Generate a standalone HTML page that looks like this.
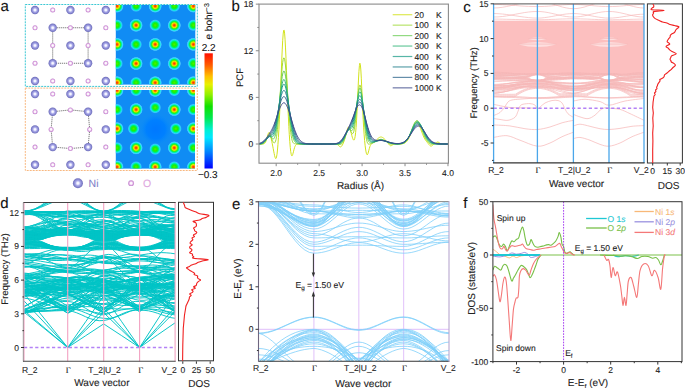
<!DOCTYPE html>
<html><head><meta charset="utf-8"><title>Figure</title>
<style>html,body{margin:0;padding:0;background:#fff;width:685px;height:388px;overflow:hidden;font-family:"Liberation Sans",sans-serif;}svg{display:block}</style>
</head><body>
<svg width="685" height="388" viewBox="0 0 685 388" font-family="Liberation Sans, sans-serif" text-rendering="geometricPrecision"><defs><radialGradient id="gNi" cx="50%" cy="50%" r="50%">
<stop offset="0" stop-color="#ffffff"/><stop offset="0.22" stop-color="#f0f0ff"/>
<stop offset="0.5" stop-color="#a8a8e8"/><stop offset="0.85" stop-color="#7c7cc8"/>
<stop offset="1" stop-color="#6c6cb8"/></radialGradient>
<radialGradient id="gO" cx="50%" cy="50%" r="50%">
<stop offset="0" stop-color="#ffffff"/><stop offset="0.4" stop-color="#fbf2fb"/>
<stop offset="0.62" stop-color="#e2b4e6"/><stop offset="1" stop-color="#c080cc"/></radialGradient>
<radialGradient id="bNi" cx="50%" cy="50%" r="50%">
<stop offset="0" stop-color="#ff2800"/><stop offset="0.12" stop-color="#ff5000"/>
<stop offset="0.26" stop-color="#ffb000"/><stop offset="0.36" stop-color="#e0f000"/>
<stop offset="0.46" stop-color="#60f000"/><stop offset="0.58" stop-color="#10f040"/>
<stop offset="0.7" stop-color="#00f0c0"/><stop offset="0.8" stop-color="#30e0fc"/><stop offset="0.9" stop-color="#40b8f8"/><stop offset="1" stop-color="#108cf4" stop-opacity="0"/></radialGradient>
<radialGradient id="bO" cx="50%" cy="50%" r="50%">
<stop offset="0" stop-color="#50f000"/><stop offset="0.3" stop-color="#20f000"/>
<stop offset="0.5" stop-color="#00f060"/><stop offset="0.66" stop-color="#00f0e0"/>
<stop offset="0.8" stop-color="#38c4fa"/><stop offset="1" stop-color="#108cf4" stop-opacity="0"/></radialGradient>
<linearGradient id="cbar" x1="0" y1="0" x2="0" y2="1">
<stop offset="0" stop-color="#ff1000"/><stop offset="0.1" stop-color="#ff5a00"/>
<stop offset="0.2" stop-color="#ffc000"/><stop offset="0.27" stop-color="#e8f000"/>
<stop offset="0.36" stop-color="#90f000"/><stop offset="0.46" stop-color="#10e000"/>
<stop offset="0.56" stop-color="#00e850"/><stop offset="0.66" stop-color="#00f0d0"/>
<stop offset="0.73" stop-color="#00e8ff"/><stop offset="0.86" stop-color="#0080ff"/>
<stop offset="1" stop-color="#0000ff"/></linearGradient>
<clipPath id="clipTop"><rect x="115.8" y="5" width="79.5" height="79.6"/></clipPath>
<clipPath id="clipBot"><rect x="115.8" y="90" width="79.2" height="78.6"/></clipPath>
<radialGradient id="vac" cx="50%" cy="50%" r="50%">
<stop offset="0" stop-color="#0078ff"/><stop offset="0.6" stop-color="#0080ff"/><stop offset="1" stop-color="#0a8cf8" stop-opacity="0"/></radialGradient>
<clipPath id="clipB"><rect x="259" y="4" width="189.4" height="159"/></clipPath>
<clipPath id="clipC"><rect x="493.6" y="3.9" width="150.4" height="159"/></clipPath>
<clipPath id="clipD"><rect x="24" y="202.5" width="151.1" height="158.8"/></clipPath>
<clipPath id="clipE"><rect x="258.5" y="201.6" width="190.5" height="159.7"/></clipPath>
<clipPath id="clipF"><rect x="492.9" y="201.7" width="189.1" height="159.9"/></clipPath></defs><rect width="685" height="388" fill="#fff"/><text x="0.6" y="11.3" font-size="15" text-anchor="start" fill="#111" stroke="#111" stroke-width="0.1">a</text>
<rect x="115.8" y="5" width="79.5" height="79.6" fill="#108cf4" stroke="none" stroke-width="1"/>
<g clip-path="url(#clipTop)">
<circle cx="117" cy="6.1" r="6.9" fill="url(#bNi)"/>
<circle cx="136.1" cy="6.1" r="6.3" fill="url(#bO)"/>
<circle cx="155.2" cy="6.1" r="6.9" fill="url(#bNi)"/>
<circle cx="174.3" cy="6.1" r="6.3" fill="url(#bO)"/>
<circle cx="193.4" cy="6.1" r="6.9" fill="url(#bNi)"/>
<circle cx="117" cy="25.25" r="6.3" fill="url(#bO)"/>
<circle cx="136.1" cy="25.25" r="6.9" fill="url(#bNi)"/>
<circle cx="155.2" cy="25.25" r="6.3" fill="url(#bO)"/>
<circle cx="174.3" cy="25.25" r="6.9" fill="url(#bNi)"/>
<circle cx="193.4" cy="25.25" r="6.3" fill="url(#bO)"/>
<circle cx="117" cy="44.4" r="6.9" fill="url(#bNi)"/>
<circle cx="136.1" cy="44.4" r="6.3" fill="url(#bO)"/>
<circle cx="155.2" cy="44.4" r="6.9" fill="url(#bNi)"/>
<circle cx="174.3" cy="44.4" r="6.3" fill="url(#bO)"/>
<circle cx="193.4" cy="44.4" r="6.9" fill="url(#bNi)"/>
<circle cx="117" cy="63.55" r="6.3" fill="url(#bO)"/>
<circle cx="136.1" cy="63.55" r="6.9" fill="url(#bNi)"/>
<circle cx="155.2" cy="63.55" r="6.3" fill="url(#bO)"/>
<circle cx="174.3" cy="63.55" r="6.9" fill="url(#bNi)"/>
<circle cx="193.4" cy="63.55" r="6.3" fill="url(#bO)"/>
<circle cx="117" cy="82.7" r="6.9" fill="url(#bNi)"/>
<circle cx="136.1" cy="82.7" r="6.3" fill="url(#bO)"/>
<circle cx="155.2" cy="82.7" r="6.9" fill="url(#bNi)"/>
<circle cx="174.3" cy="82.7" r="6.3" fill="url(#bO)"/>
<circle cx="193.4" cy="82.7" r="6.9" fill="url(#bNi)"/>
</g>
<rect x="115.8" y="90" width="79.2" height="78.6" fill="#108cf4" stroke="none" stroke-width="1"/>
<g clip-path="url(#clipBot)">
<circle cx="155.7" cy="129.4" r="16" fill="url(#vac)"/>
<circle cx="117" cy="90.4" r="6.9" fill="url(#bNi)"/>
<circle cx="136.1" cy="90.4" r="6.3" fill="url(#bO)"/>
<circle cx="155.2" cy="90.4" r="6.9" fill="url(#bNi)"/>
<circle cx="174.3" cy="90.4" r="6.3" fill="url(#bO)"/>
<circle cx="193.4" cy="90.4" r="6.9" fill="url(#bNi)"/>
<circle cx="117" cy="109.55" r="6.3" fill="url(#bO)"/>
<circle cx="136.1" cy="109.55" r="6.9" fill="url(#bNi)"/>
<circle cx="155.2" cy="107.55" r="6.3" fill="url(#bO)"/>
<circle cx="174.3" cy="109.55" r="6.9" fill="url(#bNi)"/>
<circle cx="193.4" cy="109.55" r="6.3" fill="url(#bO)"/>
<circle cx="117" cy="128.7" r="6.9" fill="url(#bNi)"/>
<circle cx="133.6" cy="128.7" r="6.3" fill="url(#bO)"/>
<circle cx="175.8" cy="128.7" r="6.3" fill="url(#bO)"/>
<circle cx="193.4" cy="128.7" r="6.9" fill="url(#bNi)"/>
<circle cx="117" cy="147.85" r="6.3" fill="url(#bO)"/>
<circle cx="136.1" cy="147.85" r="6.9" fill="url(#bNi)"/>
<circle cx="155.2" cy="149.15" r="6.3" fill="url(#bO)"/>
<circle cx="174.3" cy="147.85" r="6.9" fill="url(#bNi)"/>
<circle cx="193.4" cy="147.85" r="6.3" fill="url(#bO)"/>
<circle cx="117" cy="167" r="6.9" fill="url(#bNi)"/>
<circle cx="136.1" cy="167" r="6.3" fill="url(#bO)"/>
<circle cx="155.2" cy="167" r="6.9" fill="url(#bNi)"/>
<circle cx="174.3" cy="167" r="6.3" fill="url(#bO)"/>
<circle cx="193.4" cy="167" r="6.9" fill="url(#bNi)"/>
</g>
<rect x="25.3" y="4.5" width="172" height="81.9" fill="none" stroke="#3cc8d4" stroke-width="1" stroke-dasharray="2 1"/>
<rect x="25.3" y="88.1" width="172" height="82.4" fill="none" stroke="#f8b880" stroke-width="1" stroke-dasharray="2 1"/>
<polygon points="52.7,27.75 88.1,27.75 88.1,63.25 52.7,63.25" fill="none" stroke="#555" stroke-width="0.8" stroke-dasharray="1.2 0.8"/>
<circle cx="35" cy="10" r="4.2" fill="url(#gNi)"/>
<circle cx="52.7" cy="10" r="2.5" fill="url(#gO)"/>
<circle cx="70.4" cy="10" r="4.2" fill="url(#gNi)"/>
<circle cx="88.1" cy="10" r="2.5" fill="url(#gO)"/>
<circle cx="105.8" cy="10" r="4.2" fill="url(#gNi)"/>
<circle cx="35" cy="27.75" r="2.5" fill="url(#gO)"/>
<circle cx="52.7" cy="27.75" r="4.2" fill="url(#gNi)"/>
<circle cx="70.4" cy="27.75" r="2.5" fill="url(#gO)"/>
<circle cx="88.1" cy="27.75" r="4.2" fill="url(#gNi)"/>
<circle cx="105.8" cy="27.75" r="2.5" fill="url(#gO)"/>
<circle cx="35" cy="45.5" r="4.2" fill="url(#gNi)"/>
<circle cx="52.7" cy="45.5" r="2.5" fill="url(#gO)"/>
<circle cx="70.4" cy="45.5" r="4.2" fill="url(#gNi)"/>
<circle cx="88.1" cy="45.5" r="2.5" fill="url(#gO)"/>
<circle cx="105.8" cy="45.5" r="4.2" fill="url(#gNi)"/>
<circle cx="35" cy="63.25" r="2.5" fill="url(#gO)"/>
<circle cx="52.7" cy="63.25" r="4.2" fill="url(#gNi)"/>
<circle cx="70.4" cy="63.25" r="2.5" fill="url(#gO)"/>
<circle cx="88.1" cy="63.25" r="4.2" fill="url(#gNi)"/>
<circle cx="105.8" cy="63.25" r="2.5" fill="url(#gO)"/>
<circle cx="35" cy="81" r="4.2" fill="url(#gNi)"/>
<circle cx="52.7" cy="81" r="2.5" fill="url(#gO)"/>
<circle cx="70.4" cy="81" r="4.2" fill="url(#gNi)"/>
<circle cx="88.1" cy="81" r="2.5" fill="url(#gO)"/>
<circle cx="105.8" cy="81" r="4.2" fill="url(#gNi)"/>
<path d="M 52.7 111.7 L 70.4 109.9 L 88.1 111.7 L 89.7 129.4 L 88.1 147.1 L 70.4 148.5 L 52.7 147.1 L 51.1 129.4 L 52.7 111.7 Z" fill="none" stroke="#555" stroke-width="0.8" stroke-dasharray="1.2 0.8"/>
<circle cx="35" cy="94" r="4.2" fill="url(#gNi)"/>
<circle cx="52.7" cy="94" r="2.5" fill="url(#gO)"/>
<circle cx="70.4" cy="94" r="4.2" fill="url(#gNi)"/>
<circle cx="88.1" cy="94" r="2.5" fill="url(#gO)"/>
<circle cx="105.8" cy="94" r="4.2" fill="url(#gNi)"/>
<circle cx="35" cy="111.7" r="2.5" fill="url(#gO)"/>
<circle cx="52.7" cy="111.7" r="4.2" fill="url(#gNi)"/>
<circle cx="70.4" cy="109.9" r="2.5" fill="url(#gO)"/>
<circle cx="88.1" cy="111.7" r="4.2" fill="url(#gNi)"/>
<circle cx="105.8" cy="111.7" r="2.5" fill="url(#gO)"/>
<circle cx="35" cy="129.4" r="4.2" fill="url(#gNi)"/>
<circle cx="51.1" cy="129.4" r="2.5" fill="url(#gO)"/>
<circle cx="89.7" cy="129.4" r="2.5" fill="url(#gO)"/>
<circle cx="105.8" cy="129.4" r="4.2" fill="url(#gNi)"/>
<circle cx="35" cy="147.1" r="2.5" fill="url(#gO)"/>
<circle cx="52.7" cy="147.1" r="4.2" fill="url(#gNi)"/>
<circle cx="70.4" cy="148.5" r="2.5" fill="url(#gO)"/>
<circle cx="88.1" cy="147.1" r="4.2" fill="url(#gNi)"/>
<circle cx="105.8" cy="147.1" r="2.5" fill="url(#gO)"/>
<circle cx="35" cy="164.8" r="4.2" fill="url(#gNi)"/>
<circle cx="52.7" cy="164.8" r="2.5" fill="url(#gO)"/>
<circle cx="70.4" cy="164.8" r="4.2" fill="url(#gNi)"/>
<circle cx="88.1" cy="164.8" r="2.5" fill="url(#gO)"/>
<circle cx="105.8" cy="164.8" r="4.2" fill="url(#gNi)"/>
<rect x="204.5" y="53.3" width="8.3" height="115.2" fill="url(#cbar)" stroke="none" stroke-width="1"/>
<text x="208.6" y="51.2" font-size="10" text-anchor="middle" fill="#111" stroke="#111" stroke-width="0.1">2.2</text>
<text x="207.8" y="178" font-size="10" text-anchor="middle" fill="#111" stroke="#111" stroke-width="0.1">−0.3</text>
<text x="212" y="39.5" font-size="10" fill="#111" stroke="#111" stroke-width="0.1" transform="rotate(-90 212 39.5)">e bohr<tspan dy="-3.5" font-size="7">−3</tspan></text>
<circle cx="77.9" cy="183.2" r="5" fill="url(#gNi)"/>
<text x="88.6" y="187.2" font-size="10.5" text-anchor="start" fill="#8080c8" stroke="#8080c8" stroke-width="0.1">Ni</text>
<circle cx="131.1" cy="183.2" r="2.9" fill="url(#gO)"/>
<text x="143" y="187.2" font-size="10.5" text-anchor="start" fill="#e0a8e0" stroke="#e0a8e0" stroke-width="0.1">O</text>
<text x="231.4" y="11.2" font-size="15" text-anchor="start" fill="#111" stroke="#111" stroke-width="0.1">b</text>
<line x1="255.8" y1="144" x2="259" y2="144" stroke="#8a8a8a" stroke-width="1"/>
<text x="253.2" y="147" font-size="8.5" text-anchor="end" fill="#222" stroke="#222" stroke-width="0.1">0</text>
<line x1="255.8" y1="97.38" x2="259" y2="97.38" stroke="#8a8a8a" stroke-width="1"/>
<text x="253.2" y="100.38" font-size="8.5" text-anchor="end" fill="#222" stroke="#222" stroke-width="0.1">6</text>
<line x1="255.8" y1="50.76" x2="259" y2="50.76" stroke="#8a8a8a" stroke-width="1"/>
<text x="253.2" y="53.76" font-size="8.5" text-anchor="end" fill="#222" stroke="#222" stroke-width="0.1">12</text>
<line x1="255.8" y1="4.14" x2="259" y2="4.14" stroke="#8a8a8a" stroke-width="1"/>
<text x="253.2" y="7.14" font-size="8.5" text-anchor="end" fill="#222" stroke="#222" stroke-width="0.1">18</text>
<line x1="257.3" y1="120.69" x2="259" y2="120.69" stroke="#8a8a8a" stroke-width="1"/>
<line x1="257.3" y1="74.07" x2="259" y2="74.07" stroke="#8a8a8a" stroke-width="1"/>
<line x1="257.3" y1="27.45" x2="259" y2="27.45" stroke="#8a8a8a" stroke-width="1"/>
<line x1="276.18" y1="163.2" x2="276.18" y2="166.2" stroke="#8a8a8a" stroke-width="1"/>
<text x="276.18" y="175.6" font-size="8.5" text-anchor="middle" fill="#222" stroke="#222" stroke-width="0.1">2.0</text>
<line x1="319.13" y1="163.2" x2="319.13" y2="166.2" stroke="#8a8a8a" stroke-width="1"/>
<text x="319.13" y="175.6" font-size="8.5" text-anchor="middle" fill="#222" stroke="#222" stroke-width="0.1">2.5</text>
<line x1="362.08" y1="163.2" x2="362.08" y2="166.2" stroke="#8a8a8a" stroke-width="1"/>
<text x="362.08" y="175.6" font-size="8.5" text-anchor="middle" fill="#222" stroke="#222" stroke-width="0.1">3.0</text>
<line x1="405.03" y1="163.2" x2="405.03" y2="166.2" stroke="#8a8a8a" stroke-width="1"/>
<text x="405.03" y="175.6" font-size="8.5" text-anchor="middle" fill="#222" stroke="#222" stroke-width="0.1">3.5</text>
<line x1="447.98" y1="163.2" x2="447.98" y2="166.2" stroke="#8a8a8a" stroke-width="1"/>
<text x="447.98" y="175.6" font-size="8.5" text-anchor="middle" fill="#222" stroke="#222" stroke-width="0.1">4.0</text>
<line x1="297.65" y1="163.2" x2="297.65" y2="164.8" stroke="#8a8a8a" stroke-width="1"/>
<line x1="340.61" y1="163.2" x2="340.61" y2="164.8" stroke="#8a8a8a" stroke-width="1"/>
<line x1="383.56" y1="163.2" x2="383.56" y2="164.8" stroke="#8a8a8a" stroke-width="1"/>
<line x1="426.5" y1="163.2" x2="426.5" y2="164.8" stroke="#8a8a8a" stroke-width="1"/>
<text x="360.5" y="188.5" font-size="10" text-anchor="middle" fill="#222" stroke="#222" stroke-width="0.1">Radius (Å)</text>
<text x="243.2" y="77.5" font-size="9.5" text-anchor="middle" fill="#222" stroke="#222" stroke-width="0.1" transform="rotate(-90 243.2 77.5)">PCF</text>
<g clip-path="url(#clipB)">
<polyline points="259,144 259.47,144 259.95,144 260.42,144 260.89,144 261.37,144 261.84,143.99 262.32,143.98 262.79,143.96 263.26,143.91 263.74,143.8 264.21,143.61 264.68,143.27 265.16,142.73 265.63,141.91 266.1,140.78 266.58,139.34 267.05,137.66 267.53,135.9 268,134.28 268.47,133.06 268.95,132.44 269.42,132.55 269.89,133.4 270.37,134.88 270.84,136.81 271.31,139.01 271.79,141.33 272.26,143.7 272.74,146.11 273.21,148.58 273.68,151.08 274.16,153.53 274.63,155.75 275.1,157.48 275.58,158.45 276.05,158.36 276.52,157 277,154.24 277.47,150.06 277.95,144.47 278.42,137.53 278.89,129.29 279.37,119.83 279.84,109.23 280.31,97.68 280.79,85.46 281.26,73.02 281.73,60.95 282.21,49.95 282.68,40.76 283.16,34.07 283.63,30.41 284.1,30.08 284.58,33.1 285.05,39.22 285.52,47.93 286,58.57 286.47,70.39 286.94,82.66 287.42,94.78 287.89,106.28 288.37,116.87 288.84,126.36 289.31,134.66 289.79,141.69 290.26,147.37 290.73,151.61 291.21,154.36 291.68,155.68 292.15,155.72 292.63,154.75 293.1,153.13 293.58,151.22 294.05,149.34 294.52,147.7 295,146.4 295.47,145.46 295.94,144.83 296.42,144.45 296.89,144.23 297.36,144.11 297.84,144.05 298.31,144.02 298.79,144.01 299.26,144 299.73,144 300.21,144 300.68,144 301.15,144 301.63,144 302.1,144 302.57,144 303.05,144 303.52,144 304,144 304.47,144 304.94,144 305.42,144 305.89,144 306.36,144 306.84,144 307.31,144 307.78,144 308.26,144 308.73,144 309.21,144 309.68,144 310.15,144 310.63,144 311.1,144 311.57,144 312.05,144 312.52,144 312.99,144 313.47,144 313.94,144 314.42,144 314.89,144 315.36,144 315.84,144 316.31,144 316.78,144 317.26,144 317.73,144 318.2,144 318.68,144 319.15,144 319.63,144 320.1,144 320.57,144 321.05,144 321.52,144 321.99,144 322.47,144 322.94,144 323.41,144 323.89,144 324.36,144 324.84,144 325.31,144 325.78,144 326.26,144 326.73,144 327.2,144 327.68,144 328.15,144 328.62,144 329.1,144 329.57,144 330.05,144 330.52,144 330.99,144 331.47,144 331.94,144 332.41,144 332.89,144 333.36,144 333.83,144 334.31,144 334.78,144.01 335.26,144.02 335.73,144.05 336.2,144.11 336.68,144.22 337.15,144.4 337.62,144.67 338.1,145.04 338.57,145.5 339.04,145.99 339.52,146.45 339.99,146.79 340.47,146.92 340.94,146.8 341.41,146.42 341.89,145.81 342.36,145.02 342.83,144.1 343.31,143.07 343.78,141.92 344.25,140.62 344.73,139.16 345.2,137.52 345.68,135.71 346.15,133.81 346.62,131.91 347.1,130.14 347.57,128.65 348.04,127.56 348.52,126.99 348.99,126.97 349.46,127.52 349.94,128.58 350.41,130.06 350.89,131.8 351.36,133.67 351.83,135.51 352.31,137.2 352.78,138.6 353.25,139.61 353.73,140.08 354.2,139.86 354.67,138.73 355.15,136.45 355.62,132.73 356.09,127.33 356.57,120.13 357.04,111.23 357.52,101.04 357.99,90.31 358.46,80.04 358.94,71.42 359.41,65.54 359.88,63.21 360.36,64.77 360.83,69.98 361.3,78.16 361.78,88.25 362.25,99.13 362.73,109.78 363.2,119.48 363.67,127.86 364.15,134.85 364.62,140.58 365.09,145.26 365.57,149.02 366.04,151.88 366.51,153.8 366.99,154.7 367.46,154.59 367.94,153.62 368.41,152.04 368.88,150.19 369.36,148.37 369.83,146.79 370.3,145.55 370.78,144.65 371.25,144.03 371.72,143.59 372.2,143.26 372.67,142.98 373.15,142.69 373.62,142.4 374.09,142.07 374.57,141.71 375.04,141.31 375.51,140.89 375.99,140.44 376.46,139.98 376.93,139.51 377.41,139.05 377.88,138.61 378.36,138.2 378.83,137.83 379.3,137.52 379.78,137.28 380.25,137.11 380.72,137.02 381.2,137.02 381.67,137.1 382.14,137.26 382.62,137.5 383.09,137.81 383.57,138.17 384.04,138.58 384.51,139.02 384.99,139.49 385.46,139.98 385.93,140.48 386.41,141.01 386.88,141.56 387.35,142.15 387.83,142.78 388.3,143.45 388.78,144.12 389.25,144.75 389.72,145.26 390.2,145.61 390.67,145.76 391.14,145.71 391.62,145.51 392.09,145.21 392.56,144.89 393.04,144.6 393.51,144.37 393.99,144.2 394.46,144.1 394.93,144.04 395.41,144.01 395.88,144 396.35,143.99 396.83,143.99 397.3,143.99 397.77,143.99 398.25,143.98 398.72,143.98 399.2,143.97 399.67,143.96 400.14,143.94 400.62,143.92 401.09,143.88 401.56,143.84 402.04,143.78 402.51,143.71 402.98,143.62 403.46,143.5 403.93,143.34 404.41,143.15 404.88,142.92 405.35,142.63 405.83,142.28 406.3,141.87 406.77,141.38 407.25,140.81 407.72,140.15 408.19,139.4 408.67,138.56 409.14,137.63 409.62,136.61 410.09,135.51 410.56,134.35 411.04,133.12 411.51,131.86 411.98,130.59 412.46,129.32 412.93,128.09 413.4,126.93 413.88,125.85 414.35,124.89 414.83,124.08 415.3,123.43 415.77,122.97 416.25,122.7 416.72,122.64 417.19,122.78 417.67,123.13 418.14,123.67 418.61,124.38 419.09,125.26 419.56,126.26 420.04,127.38 420.51,128.57 420.98,129.82 421.46,131.09 421.93,132.36 422.4,133.61 422.88,134.81 423.35,135.96 423.82,137.03 424.3,138.01 424.77,138.91 425.25,139.72 425.72,140.45 426.19,141.11 426.67,141.71 427.14,142.28 427.61,142.84 428.09,143.42 428.56,144.01 429.03,144.61 429.51,145.16 429.98,145.63 430.46,145.94 430.93,146.07 431.4,146 431.88,145.77 432.35,145.43 432.82,145.05 433.3,144.68 433.77,144.34 434.24,144.02 434.72,143.71 435.19,143.39 435.67,143.05 436.14,142.71 436.61,142.4 437.09,142.17 437.56,142.06 438.03,142.1 438.51,142.27 438.98,142.55 439.45,142.87 439.93,143.18 440.4,143.45 440.88,143.66 441.35,143.8 441.82,143.9 442.3,143.95 442.77,143.98 443.24,143.99 443.72,144 444.19,144 444.66,144 445.14,144 445.61,144 446.09,144 446.56,144 447.03,144 447.51,144 447.98,144" fill="none" stroke="#d2e21b" stroke-width="1" stroke-linejoin="round"/>
<polyline points="259,144 259.47,144 259.95,143.99 260.42,143.99 260.89,143.97 261.37,143.95 261.84,143.91 262.32,143.84 262.79,143.73 263.26,143.55 263.74,143.28 264.21,142.9 264.68,142.39 265.16,141.73 265.63,140.91 266.1,139.96 266.58,138.92 267.05,137.86 267.53,136.86 268,136.01 268.47,135.39 268.95,135.08 269.42,135.12 269.89,135.48 270.37,136.15 270.84,137.05 271.31,138.09 271.79,139.19 272.26,140.26 272.74,141.24 273.21,142.05 273.68,142.63 274.16,142.92 274.63,142.82 275.1,142.26 275.58,141.12 276.05,139.31 276.52,136.76 277,133.43 277.47,129.31 277.95,124.43 278.42,118.86 278.89,112.69 279.37,106.05 279.84,99.09 280.31,92.01 280.79,85 281.26,78.32 281.73,72.2 282.21,66.89 282.68,62.64 283.16,59.64 283.63,58.02 284.1,57.88 284.58,59.21 285.05,61.95 285.52,65.97 286,71.08 286.47,77.03 286.94,83.6 287.42,90.53 287.89,97.57 288.37,104.52 288.84,111.2 289.31,117.43 289.79,123.1 290.26,128.09 290.73,132.33 291.21,135.78 291.68,138.47 292.15,140.44 292.63,141.81 293.1,142.69 293.58,143.21 294.05,143.51 294.52,143.67 295,143.75 295.47,143.81 295.94,143.85 296.42,143.88 296.89,143.92 297.36,143.94 297.84,143.96 298.31,143.97 298.79,143.98 299.26,143.99 299.73,143.99 300.21,144 300.68,144 301.15,144 301.63,144 302.1,144 302.57,144 303.05,144 303.52,144 304,144 304.47,144 304.94,144 305.42,144 305.89,144 306.36,144 306.84,144 307.31,144 307.78,144 308.26,144 308.73,144 309.21,144 309.68,144 310.15,144 310.63,144 311.1,144 311.57,144 312.05,144 312.52,144 312.99,144 313.47,144 313.94,144 314.42,144 314.89,144 315.36,144 315.84,144 316.31,144 316.78,144 317.26,144 317.73,144 318.2,144 318.68,144 319.15,144 319.63,144 320.1,144 320.57,144 321.05,144 321.52,144 321.99,144 322.47,144 322.94,144 323.41,144 323.89,144 324.36,144 324.84,144 325.31,144 325.78,144 326.26,144 326.73,144 327.2,144 327.68,144 328.15,144 328.62,144 329.1,144 329.57,144 330.05,144 330.52,144 330.99,144 331.47,144 331.94,144 332.41,144 332.89,144 333.36,144 333.83,144 334.31,144 334.78,144 335.26,144.01 335.73,144.01 336.2,144.02 336.68,144.05 337.15,144.09 337.62,144.14 338.1,144.22 338.57,144.31 339.04,144.4 339.52,144.47 339.99,144.49 340.47,144.44 340.94,144.28 341.41,144.01 341.89,143.61 342.36,143.08 342.83,142.43 343.31,141.63 343.78,140.69 344.25,139.6 344.73,138.36 345.2,137.01 345.68,135.57 346.15,134.12 346.62,132.71 347.1,131.45 347.57,130.39 348.04,129.63 348.52,129.2 348.99,129.12 349.46,129.39 349.94,129.96 350.41,130.74 350.89,131.63 351.36,132.49 351.83,133.2 352.31,133.6 352.78,133.57 353.25,132.98 353.73,131.73 354.2,129.77 354.67,127.07 355.15,123.63 355.62,119.53 356.09,114.88 356.57,109.86 357.04,104.68 357.52,99.61 357.99,94.91 358.46,90.87 358.94,87.74 359.41,85.72 359.88,84.94 360.36,85.47 360.83,87.26 361.3,90.21 361.78,94.14 362.25,98.8 362.73,103.97 363.2,109.38 363.67,114.82 364.15,120.08 364.62,125.02 365.09,129.52 365.57,133.47 366.04,136.81 366.51,139.48 366.99,141.48 367.46,142.85 367.94,143.67 368.41,144.07 368.88,144.17 369.36,144.1 369.83,143.95 370.3,143.78 370.78,143.62 371.25,143.47 371.72,143.32 372.2,143.17 372.67,143 373.15,142.81 373.62,142.61 374.09,142.39 374.57,142.14 375.04,141.88 375.51,141.61 375.99,141.33 376.46,141.05 376.93,140.77 377.41,140.5 377.88,140.24 378.36,140 378.83,139.8 379.3,139.62 379.78,139.49 380.25,139.39 380.72,139.34 381.2,139.34 381.67,139.39 382.14,139.48 382.62,139.61 383.09,139.78 383.57,139.99 384.04,140.22 384.51,140.48 384.99,140.75 385.46,141.04 385.93,141.34 386.41,141.64 386.88,141.96 387.35,142.28 387.83,142.62 388.3,142.96 388.78,143.3 389.25,143.61 389.72,143.87 390.2,144.08 390.67,144.2 391.14,144.25 391.62,144.24 392.09,144.19 392.56,144.13 393.04,144.07 393.51,144.02 393.99,143.98 394.46,143.97 394.93,143.96 395.41,143.96 395.88,143.97 396.35,143.97 396.83,143.97 397.3,143.97 397.77,143.97 398.25,143.96 398.72,143.95 399.2,143.94 399.67,143.92 400.14,143.89 400.62,143.85 401.09,143.8 401.56,143.74 402.04,143.66 402.51,143.55 402.98,143.42 403.46,143.26 403.93,143.06 404.41,142.82 404.88,142.52 405.35,142.17 405.83,141.76 406.3,141.27 406.77,140.71 407.25,140.06 407.72,139.33 408.19,138.51 408.67,137.6 409.14,136.6 409.62,135.52 410.09,134.37 410.56,133.15 411.04,131.89 411.51,130.59 411.98,129.28 412.46,127.98 412.93,126.72 413.4,125.51 413.88,124.39 414.35,123.38 414.83,122.51 415.3,121.78 415.77,121.23 416.25,120.87 416.72,120.7 417.19,120.73 417.67,120.96 418.14,121.38 418.61,121.99 419.09,122.76 419.56,123.68 420.04,124.73 420.51,125.87 420.98,127.1 421.46,128.38 421.93,129.68 422.4,130.99 422.88,132.28 423.35,133.53 423.82,134.73 424.3,135.86 424.77,136.92 425.25,137.89 425.72,138.78 426.19,139.58 426.67,140.31 427.14,140.97 427.61,141.57 428.09,142.11 428.56,142.62 429.03,143.08 429.51,143.48 429.98,143.82 430.46,144.08 430.93,144.24 431.4,144.32 431.88,144.32 432.35,144.27 432.82,144.19 433.3,144.11 433.77,144.02 434.24,143.93 434.72,143.83 435.19,143.72 435.67,143.59 436.14,143.47 436.61,143.35 437.09,143.26 437.56,143.22 438.03,143.24 438.51,143.31 438.98,143.42 439.45,143.55 439.93,143.67 440.4,143.78 440.88,143.86 441.35,143.92 441.82,143.96 442.3,143.98 442.77,143.99 443.24,144 443.72,144 444.19,144 444.66,144 445.14,144 445.61,144 446.09,144 446.56,144 447.03,144 447.51,144 447.98,144" fill="none" stroke="#a0da39" stroke-width="1" stroke-linejoin="round"/>
<polyline points="259,143.99 259.47,143.98 259.95,143.97 260.42,143.95 260.89,143.91 261.37,143.86 261.84,143.77 262.32,143.64 262.79,143.46 263.26,143.21 263.74,142.87 264.21,142.44 264.68,141.91 265.16,141.27 265.63,140.55 266.1,139.76 266.58,138.95 267.05,138.15 267.53,137.42 268,136.81 268.47,136.37 268.95,136.12 269.42,136.08 269.89,136.25 270.37,136.58 270.84,137.04 271.31,137.57 271.79,138.09 272.26,138.53 272.74,138.84 273.21,138.94 273.68,138.77 274.16,138.27 274.63,137.4 275.1,136.1 275.58,134.33 276.05,132.06 276.52,129.28 277,125.99 277.47,122.22 277.95,118.01 278.42,113.44 278.89,108.59 279.37,103.57 279.84,98.49 280.31,93.46 280.79,88.64 281.26,84.15 281.73,80.13 282.21,76.72 282.68,74.02 283.16,72.13 283.63,71.13 284.1,71.04 284.58,71.87 285.05,73.59 285.52,76.14 286,79.42 286.47,83.32 286.94,87.72 287.42,92.48 287.89,97.46 288.37,102.54 288.84,107.57 289.31,112.46 289.79,117.09 290.26,121.39 290.73,125.28 291.21,128.72 291.68,131.69 292.15,134.2 292.63,136.27 293.1,137.95 293.58,139.3 294.05,140.37 294.52,141.23 295,141.9 295.47,142.42 295.94,142.83 296.42,143.15 296.89,143.39 297.36,143.57 297.84,143.7 298.31,143.79 298.79,143.86 299.26,143.91 299.73,143.94 300.21,143.96 300.68,143.97 301.15,143.98 301.63,143.99 302.1,143.99 302.57,144 303.05,144 303.52,144 304,144 304.47,144 304.94,144 305.42,144 305.89,144 306.36,144 306.84,144 307.31,144 307.78,144 308.26,144 308.73,144 309.21,144 309.68,144 310.15,144 310.63,144 311.1,144 311.57,144 312.05,144 312.52,144 312.99,144 313.47,144 313.94,144 314.42,144 314.89,144 315.36,144 315.84,144 316.31,144 316.78,144 317.26,144 317.73,144 318.2,144 318.68,144 319.15,144 319.63,144 320.1,144 320.57,144 321.05,144 321.52,144 321.99,144 322.47,144 322.94,144 323.41,144 323.89,144 324.36,144 324.84,144 325.31,144 325.78,144 326.26,144 326.73,144 327.2,144 327.68,144 328.15,144 328.62,144 329.1,144 329.57,144 330.05,144 330.52,144 330.99,144 331.47,144 331.94,144 332.41,144 332.89,144 333.36,144 333.83,144 334.31,144 334.78,144 335.26,144 335.73,144 336.2,144 336.68,144 337.15,144.01 337.62,144.01 338.1,144.01 338.57,144.01 339.04,143.99 339.52,143.94 339.99,143.84 340.47,143.68 340.94,143.44 341.41,143.1 341.89,142.66 342.36,142.1 342.83,141.42 343.31,140.61 343.78,139.68 344.25,138.64 344.73,137.5 345.2,136.29 345.68,135.05 346.15,133.82 346.62,132.66 347.1,131.63 347.57,130.76 348.04,130.11 348.52,129.68 348.99,129.48 349.46,129.5 349.94,129.68 350.41,129.96 350.89,130.26 351.36,130.48 351.83,130.51 352.31,130.24 352.78,129.6 353.25,128.48 353.73,126.85 354.2,124.67 354.67,121.94 355.15,118.71 355.62,115.06 356.09,111.1 356.57,106.97 357.04,102.85 357.52,98.91 357.99,95.35 358.46,92.34 358.94,90.04 359.41,88.57 359.88,88.02 360.36,88.42 360.83,89.75 361.3,91.95 361.78,94.92 362.25,98.51 362.73,102.57 363.2,106.93 363.67,111.42 364.15,115.9 364.62,120.23 365.09,124.3 365.57,128.02 366.04,131.31 366.51,134.14 366.99,136.48 367.46,138.36 367.94,139.8 368.41,140.87 368.88,141.64 369.36,142.17 369.83,142.52 370.3,142.75 370.78,142.87 371.25,142.92 371.72,142.9 372.2,142.84 372.67,142.73 373.15,142.59 373.62,142.42 374.09,142.22 374.57,142.01 375.04,141.79 375.51,141.56 375.99,141.32 376.46,141.09 376.93,140.86 377.41,140.64 377.88,140.43 378.36,140.25 378.83,140.08 379.3,139.95 379.78,139.84 380.25,139.77 380.72,139.73 381.2,139.73 381.67,139.76 382.14,139.83 382.62,139.94 383.09,140.07 383.57,140.23 384.04,140.42 384.51,140.62 384.99,140.84 385.46,141.07 385.93,141.31 386.41,141.55 386.88,141.78 387.35,142.01 387.83,142.23 388.3,142.44 388.78,142.64 389.25,142.82 389.72,142.99 390.2,143.14 390.67,143.27 391.14,143.39 391.62,143.49 392.09,143.58 392.56,143.66 393.04,143.72 393.51,143.78 393.99,143.82 394.46,143.86 394.93,143.89 395.41,143.91 395.88,143.92 396.35,143.94 396.83,143.94 397.3,143.94 397.77,143.94 398.25,143.93 398.72,143.92 399.2,143.9 399.67,143.87 400.14,143.83 400.62,143.78 401.09,143.72 401.56,143.63 402.04,143.53 402.51,143.41 402.98,143.25 403.46,143.06 403.93,142.83 404.41,142.56 404.88,142.24 405.35,141.86 405.83,141.42 406.3,140.92 406.77,140.34 407.25,139.69 407.72,138.96 408.19,138.16 408.67,137.27 409.14,136.31 409.62,135.29 410.09,134.2 410.56,133.05 411.04,131.87 411.51,130.66 411.98,129.45 412.46,128.24 412.93,127.07 413.4,125.94 413.88,124.89 414.35,123.93 414.83,123.08 415.3,122.37 415.77,121.8 416.25,121.39 416.72,121.15 417.19,121.08 417.67,121.19 418.14,121.47 418.61,121.91 419.09,122.51 419.56,123.26 420.04,124.13 420.51,125.11 420.98,126.18 421.46,127.32 421.93,128.5 422.4,129.71 422.88,130.93 423.35,132.13 423.82,133.31 424.3,134.44 424.77,135.52 425.25,136.53 425.72,137.47 426.19,138.34 426.67,139.13 427.14,139.84 427.61,140.47 428.09,141.04 428.56,141.53 429.03,141.95 429.51,142.32 429.98,142.63 430.46,142.89 430.93,143.11 431.4,143.29 431.88,143.44 432.35,143.56 432.82,143.66 433.3,143.73 433.77,143.8 434.24,143.84 434.72,143.88 435.19,143.91 435.67,143.93 436.14,143.95 436.61,143.96 437.09,143.97 437.56,143.98 438.03,143.99 438.51,143.99 438.98,143.99 439.45,144 439.93,144 440.4,144 440.88,144 441.35,144 441.82,144 442.3,144 442.77,144 443.24,144 443.72,144 444.19,144 444.66,144 445.14,144 445.61,144 446.09,144 446.56,144 447.03,144 447.51,144 447.98,144" fill="none" stroke="#6ece58" stroke-width="1" stroke-linejoin="round"/>
<polyline points="259,143.97 259.47,143.95 259.95,143.92 260.42,143.87 260.89,143.8 261.37,143.7 261.84,143.57 262.32,143.38 262.79,143.15 263.26,142.84 263.74,142.47 264.21,142.02 264.68,141.5 265.16,140.92 265.63,140.29 266.1,139.62 266.58,138.96 267.05,138.32 267.53,137.74 268,137.24 268.47,136.86 268.95,136.59 269.42,136.45 269.89,136.43 270.37,136.49 270.84,136.6 271.31,136.72 271.79,136.8 272.26,136.78 272.74,136.61 273.21,136.24 273.68,135.62 274.16,134.72 274.63,133.48 275.1,131.91 275.58,129.96 276.05,127.65 276.52,124.98 277,121.97 277.47,118.66 277.95,115.09 278.42,111.32 278.89,107.43 279.37,103.48 279.84,99.57 280.31,95.78 280.79,92.2 281.26,88.91 281.73,86.01 282.21,83.57 282.68,81.66 283.16,80.33 283.63,79.62 284.1,79.56 284.58,80.15 285.05,81.36 285.52,83.16 286,85.5 286.47,88.32 286.94,91.54 287.42,95.07 287.89,98.83 288.37,102.74 288.84,106.69 289.31,110.63 289.79,114.46 290.26,118.13 290.73,121.57 291.21,124.76 291.68,127.65 292.15,130.24 292.63,132.52 293.1,134.51 293.58,136.22 294.05,137.68 294.52,138.91 295,139.95 295.47,140.8 295.94,141.5 296.42,142.07 296.89,142.52 297.36,142.88 297.84,143.16 298.31,143.38 298.79,143.55 299.26,143.67 299.73,143.76 300.21,143.83 300.68,143.88 301.15,143.92 301.63,143.94 302.1,143.96 302.57,143.97 303.05,143.98 303.52,143.99 304,143.99 304.47,144 304.94,144 305.42,144 305.89,144 306.36,144 306.84,144 307.31,144 307.78,144 308.26,144 308.73,144 309.21,144 309.68,144 310.15,144 310.63,144 311.1,144 311.57,144 312.05,144 312.52,144 312.99,144 313.47,144 313.94,144 314.42,144 314.89,144 315.36,144 315.84,144 316.31,144 316.78,144 317.26,144 317.73,144 318.2,144 318.68,144 319.15,144 319.63,144 320.1,144 320.57,144 321.05,144 321.52,144 321.99,144 322.47,144 322.94,144 323.41,144 323.89,144 324.36,144 324.84,144 325.31,144 325.78,144 326.26,144 326.73,144 327.2,144 327.68,144 328.15,144 328.62,144 329.1,144 329.57,144 330.05,144 330.52,144 330.99,144 331.47,144 331.94,144 332.41,144 332.89,144 333.36,144 333.83,144 334.31,144 334.78,143.99 335.26,143.99 335.73,143.98 336.2,143.97 336.68,143.95 337.15,143.93 337.62,143.89 338.1,143.83 338.57,143.76 339.04,143.65 339.52,143.51 339.99,143.31 340.47,143.06 340.94,142.74 341.41,142.34 341.89,141.85 342.36,141.27 342.83,140.58 343.31,139.78 343.78,138.9 344.25,137.93 344.73,136.9 345.2,135.82 345.68,134.75 346.15,133.69 346.62,132.7 347.1,131.8 347.57,131.02 348.04,130.37 348.52,129.87 348.99,129.49 349.46,129.23 349.94,129.04 350.41,128.87 350.89,128.66 351.36,128.34 351.83,127.84 352.31,127.1 352.78,126.05 353.25,124.66 353.73,122.89 354.2,120.75 354.67,118.25 355.15,115.44 355.62,112.39 356.09,109.19 356.57,105.93 357.04,102.76 357.52,99.78 357.99,97.13 358.46,94.92 358.94,93.25 359.41,92.2 359.88,91.83 360.36,92.15 360.83,93.16 361.3,94.82 361.78,97.08 362.25,99.84 362.73,103 363.2,106.45 363.67,110.07 364.15,113.76 364.62,117.42 365.09,120.94 365.57,124.26 366.04,127.32 366.51,130.08 366.99,132.53 367.46,134.65 367.94,136.45 368.41,137.95 368.88,139.17 369.36,140.14 369.83,140.89 370.3,141.45 370.78,141.86 371.25,142.13 371.72,142.28 372.2,142.36 372.67,142.36 373.15,142.3 373.62,142.2 374.09,142.07 374.57,141.92 375.04,141.75 375.51,141.56 375.99,141.38 376.46,141.19 376.93,141 377.41,140.83 377.88,140.67 378.36,140.52 378.83,140.39 379.3,140.29 379.78,140.2 380.25,140.15 380.72,140.12 381.2,140.12 381.67,140.14 382.14,140.2 382.62,140.28 383.09,140.38 383.57,140.51 384.04,140.66 384.51,140.82 384.99,141 385.46,141.19 385.93,141.38 386.41,141.58 386.88,141.78 387.35,141.98 387.83,142.17 388.3,142.36 388.78,142.53 389.25,142.7 389.72,142.86 390.2,143.01 390.67,143.14 391.14,143.26 391.62,143.37 392.09,143.46 392.56,143.55 393.04,143.62 393.51,143.68 393.99,143.74 394.46,143.78 394.93,143.82 395.41,143.85 395.88,143.87 396.35,143.89 396.83,143.9 397.3,143.9 397.77,143.9 398.25,143.89 398.72,143.87 399.2,143.84 399.67,143.81 400.14,143.76 400.62,143.7 401.09,143.62 401.56,143.52 402.04,143.4 402.51,143.26 402.98,143.08 403.46,142.87 403.93,142.62 404.41,142.33 404.88,141.99 405.35,141.6 405.83,141.16 406.3,140.65 406.77,140.07 407.25,139.44 407.72,138.73 408.19,137.95 408.67,137.11 409.14,136.21 409.62,135.25 410.09,134.24 410.56,133.18 411.04,132.09 411.51,130.98 411.98,129.87 412.46,128.77 412.93,127.69 413.4,126.66 413.88,125.69 414.35,124.79 414.83,123.99 415.3,123.3 415.77,122.74 416.25,122.3 416.72,122.01 417.19,121.87 417.67,121.88 418.14,122.04 418.61,122.35 419.09,122.8 419.56,123.39 420.04,124.09 420.51,124.91 420.98,125.81 421.46,126.79 421.93,127.83 422.4,128.91 422.88,130.02 423.35,131.13 423.82,132.24 424.3,133.32 424.77,134.37 425.25,135.38 425.72,136.33 426.19,137.23 426.67,138.06 427.14,138.83 427.61,139.52 428.09,140.15 428.56,140.72 429.03,141.22 429.51,141.66 429.98,142.04 430.46,142.37 430.93,142.66 431.4,142.9 431.88,143.11 432.35,143.28 432.82,143.42 433.3,143.54 433.77,143.64 434.24,143.71 434.72,143.78 435.19,143.83 435.67,143.87 436.14,143.9 436.61,143.92 437.09,143.94 437.56,143.96 438.03,143.97 438.51,143.98 438.98,143.98 439.45,143.99 439.93,143.99 440.4,143.99 440.88,144 441.35,144 441.82,144 442.3,144 442.77,144 443.24,144 443.72,144 444.19,144 444.66,144 445.14,144 445.61,144 446.09,144 446.56,144 447.03,144 447.51,144 447.98,144" fill="none" stroke="#35b779" stroke-width="1" stroke-linejoin="round"/>
<polyline points="259,143.92 259.47,143.88 259.95,143.82 260.42,143.75 260.89,143.65 261.37,143.51 261.84,143.34 262.32,143.12 262.79,142.86 263.26,142.54 263.74,142.16 264.21,141.74 264.68,141.26 265.16,140.74 265.63,140.19 266.1,139.64 266.58,139.08 267.05,138.54 267.53,138.05 268,137.61 268.47,137.22 268.95,136.91 269.42,136.66 269.89,136.45 270.37,136.28 270.84,136.1 271.31,135.9 271.79,135.62 272.26,135.24 272.74,134.71 273.21,133.99 273.68,133.06 274.16,131.88 274.63,130.44 275.1,128.73 275.58,126.74 276.05,124.48 276.52,121.96 277,119.21 277.47,116.26 277.95,113.15 278.42,109.93 278.89,106.65 279.37,103.37 279.84,100.16 280.31,97.07 280.79,94.19 281.26,91.57 281.73,89.27 282.21,87.34 282.68,85.85 283.16,84.81 283.63,84.26 284.1,84.21 284.58,84.67 285.05,85.61 285.52,87.03 286,88.88 286.47,91.11 286.94,93.69 287.42,96.54 287.89,99.6 288.37,102.82 288.84,106.12 289.31,109.45 289.79,112.76 290.26,115.98 290.73,119.09 291.21,122.03 291.68,124.79 292.15,127.35 292.63,129.69 293.1,131.8 293.58,133.69 294.05,135.36 294.52,136.82 295,138.08 295.47,139.16 295.94,140.08 296.42,140.85 296.89,141.49 297.36,142.02 297.84,142.45 298.31,142.79 298.79,143.07 299.26,143.29 299.73,143.46 300.21,143.6 300.68,143.7 301.15,143.78 301.63,143.84 302.1,143.88 302.57,143.91 303.05,143.94 303.52,143.96 304,143.97 304.47,143.98 304.94,143.99 305.42,143.99 305.89,143.99 306.36,144 306.84,144 307.31,144 307.78,144 308.26,144 308.73,144 309.21,144 309.68,144 310.15,144 310.63,144 311.1,144 311.57,144 312.05,144 312.52,144 312.99,144 313.47,144 313.94,144 314.42,144 314.89,144 315.36,144 315.84,144 316.31,144 316.78,144 317.26,144 317.73,144 318.2,144 318.68,144 319.15,144 319.63,144 320.1,144 320.57,144 321.05,144 321.52,144 321.99,144 322.47,144 322.94,144 323.41,144 323.89,144 324.36,144 324.84,144 325.31,144 325.78,144 326.26,144 326.73,144 327.2,144 327.68,144 328.15,144 328.62,144 329.1,144 329.57,144 330.05,144 330.52,144 330.99,144 331.47,144 331.94,144 332.41,144 332.89,144 333.36,143.99 333.83,143.99 334.31,143.98 334.78,143.98 335.26,143.96 335.73,143.95 336.2,143.92 336.68,143.88 337.15,143.83 337.62,143.77 338.1,143.67 338.57,143.55 339.04,143.4 339.52,143.19 339.99,142.94 340.47,142.63 340.94,142.25 341.41,141.79 341.89,141.26 342.36,140.64 342.83,139.94 343.31,139.16 343.78,138.32 344.25,137.42 344.73,136.48 345.2,135.51 345.68,134.55 346.15,133.6 346.62,132.7 347.1,131.85 347.57,131.08 348.04,130.38 348.52,129.75 348.99,129.19 349.46,128.67 349.94,128.16 350.41,127.63 350.89,127.04 351.36,126.34 351.83,125.5 352.31,124.46 352.78,123.21 353.25,121.73 353.73,120 354.2,118.03 354.67,115.84 355.15,113.48 355.62,111 356.09,108.47 356.57,105.95 357.04,103.54 357.52,101.31 357.99,99.36 358.46,97.75 358.94,96.55 359.41,95.82 359.88,95.58 360.36,95.86 360.83,96.66 361.3,97.95 361.78,99.69 362.25,101.84 362.73,104.32 363.2,107.07 363.67,110 364.15,113.05 364.62,116.13 365.09,119.17 365.57,122.12 366.04,124.91 366.51,127.52 366.99,129.91 367.46,132.05 367.94,133.95 368.41,135.61 368.88,137.02 369.36,138.2 369.83,139.17 370.3,139.94 370.78,140.55 371.25,141.01 371.72,141.33 372.2,141.55 372.67,141.68 373.15,141.73 373.62,141.72 374.09,141.67 374.57,141.57 375.04,141.46 375.51,141.32 375.99,141.17 376.46,141.02 376.93,140.87 377.41,140.72 377.88,140.58 378.36,140.46 378.83,140.35 379.3,140.26 379.78,140.19 380.25,140.14 380.72,140.12 381.2,140.12 381.67,140.14 382.14,140.19 382.62,140.26 383.09,140.35 383.57,140.46 384.04,140.59 384.51,140.73 384.99,140.89 385.46,141.06 385.93,141.23 386.41,141.42 386.88,141.6 387.35,141.79 387.83,141.97 388.3,142.15 388.78,142.32 389.25,142.49 389.72,142.65 390.2,142.8 390.67,142.94 391.14,143.07 391.62,143.19 392.09,143.29 392.56,143.39 393.04,143.48 393.51,143.55 393.99,143.62 394.46,143.67 394.93,143.72 395.41,143.76 395.88,143.79 396.35,143.81 396.83,143.83 397.3,143.83 397.77,143.83 398.25,143.82 398.72,143.8 399.2,143.77 399.67,143.73 400.14,143.67 400.62,143.6 401.09,143.51 401.56,143.39 402.04,143.26 402.51,143.1 402.98,142.91 403.46,142.68 403.93,142.42 404.41,142.11 404.88,141.76 405.35,141.37 405.83,140.92 406.3,140.41 406.77,139.85 407.25,139.23 407.72,138.54 408.19,137.81 408.67,137.01 409.14,136.16 409.62,135.26 410.09,134.32 410.56,133.35 411.04,132.35 411.51,131.33 411.98,130.31 412.46,129.3 412.93,128.31 413.4,127.36 413.88,126.46 414.35,125.63 414.83,124.88 415.3,124.21 415.77,123.66 416.25,123.21 416.72,122.89 417.19,122.7 417.67,122.63 418.14,122.7 418.61,122.9 419.09,123.23 419.56,123.68 420.04,124.24 420.51,124.91 420.98,125.66 421.46,126.5 421.93,127.4 422.4,128.35 422.88,129.34 423.35,130.35 423.82,131.37 424.3,132.39 424.77,133.39 425.25,134.36 425.72,135.3 426.19,136.2 426.67,137.05 427.14,137.84 427.61,138.58 428.09,139.25 428.56,139.87 429.03,140.43 429.51,140.94 429.98,141.38 430.46,141.78 430.93,142.13 431.4,142.43 431.88,142.7 432.35,142.92 432.82,143.11 433.3,143.27 433.77,143.41 434.24,143.52 434.72,143.62 435.19,143.7 435.67,143.76 436.14,143.81 436.61,143.85 437.09,143.88 437.56,143.91 438.03,143.93 438.51,143.95 438.98,143.96 439.45,143.97 439.93,143.98 440.4,143.98 440.88,143.99 441.35,143.99 441.82,143.99 442.3,144 442.77,144 443.24,144 443.72,144 444.19,144 444.66,144 445.14,144 445.61,144 446.09,144 446.56,144 447.03,144 447.51,144 447.98,144" fill="none" stroke="#1f9e89" stroke-width="1" stroke-linejoin="round"/>
<polyline points="259,143.82 259.47,143.75 259.95,143.67 260.42,143.56 260.89,143.42 261.37,143.25 261.84,143.05 262.32,142.81 262.79,142.52 263.26,142.2 263.74,141.83 264.21,141.43 264.68,141 265.16,140.53 265.63,140.05 266.1,139.55 266.58,139.06 267.05,138.56 267.53,138.08 268,137.62 268.47,137.17 268.95,136.74 269.42,136.32 269.89,135.9 270.37,135.47 270.84,135 271.31,134.47 271.79,133.87 272.26,133.17 272.74,132.34 273.21,131.36 273.68,130.23 274.16,128.91 274.63,127.41 275.1,125.72 275.58,123.85 276.05,121.8 276.52,119.6 277,117.25 277.47,114.8 277.95,112.26 278.42,109.69 278.89,107.12 279.37,104.58 279.84,102.14 280.31,99.82 280.79,97.67 281.26,95.74 281.73,94.06 282.21,92.67 282.68,91.58 283.16,90.84 283.63,90.45 284.1,90.41 284.58,90.74 285.05,91.43 285.52,92.45 286,93.8 286.47,95.44 286.94,97.34 287.42,99.47 287.89,101.79 288.37,104.26 288.84,106.84 289.31,109.49 289.79,112.16 290.26,114.82 290.73,117.45 291.21,120 291.68,122.45 292.15,124.78 292.63,126.97 293.1,129.02 293.58,130.91 294.05,132.64 294.52,134.2 295,135.61 295.47,136.87 295.94,137.97 296.42,138.94 296.89,139.78 297.36,140.51 297.84,141.13 298.31,141.66 298.79,142.1 299.26,142.47 299.73,142.77 300.21,143.03 300.68,143.23 301.15,143.4 301.63,143.53 302.1,143.64 302.57,143.72 303.05,143.79 303.52,143.84 304,143.88 304.47,143.91 304.94,143.93 305.42,143.95 305.89,143.96 306.36,143.97 306.84,143.98 307.31,143.99 307.78,143.99 308.26,143.99 308.73,144 309.21,144 309.68,144 310.15,144 310.63,144 311.1,144 311.57,144 312.05,144 312.52,144 312.99,144 313.47,144 313.94,144 314.42,144 314.89,144 315.36,144 315.84,144 316.31,144 316.78,144 317.26,144 317.73,144 318.2,144 318.68,144 319.15,144 319.63,144 320.1,144 320.57,144 321.05,144 321.52,144 321.99,144 322.47,144 322.94,144 323.41,144 323.89,144 324.36,144 324.84,144 325.31,144 325.78,144 326.26,144 326.73,144 327.2,144 327.68,144 328.15,144 328.62,144 329.1,144 329.57,144 330.05,144 330.52,144 330.99,144 331.47,144 331.94,143.99 332.41,143.99 332.89,143.99 333.36,143.98 333.83,143.97 334.31,143.96 334.78,143.94 335.26,143.92 335.73,143.88 336.2,143.84 336.68,143.78 337.15,143.7 337.62,143.6 338.1,143.46 338.57,143.3 339.04,143.09 339.52,142.84 339.99,142.54 340.47,142.18 340.94,141.75 341.41,141.26 341.89,140.71 342.36,140.08 342.83,139.39 343.31,138.63 343.78,137.83 344.25,136.97 344.73,136.09 345.2,135.18 345.68,134.27 346.15,133.36 346.62,132.46 347.1,131.59 347.57,130.75 348.04,129.94 348.52,129.16 348.99,128.39 349.46,127.63 349.94,126.85 350.41,126.04 350.89,125.17 351.36,124.21 351.83,123.16 352.31,121.98 352.78,120.67 353.25,119.22 353.73,117.63 354.2,115.92 354.67,114.1 355.15,112.21 355.62,110.28 356.09,108.36 356.57,106.5 357.04,104.75 357.52,103.16 357.99,101.79 358.46,100.68 358.94,99.87 359.41,99.4 359.88,99.29 360.36,99.55 360.83,100.17 361.3,101.16 361.78,102.49 362.25,104.13 362.73,106.03 363.2,108.16 363.67,110.47 364.15,112.9 364.62,115.4 365.09,117.93 365.57,120.43 366.04,122.87 366.51,125.21 366.99,127.42 367.46,129.48 367.94,131.36 368.41,133.06 368.88,134.58 369.36,135.91 369.83,137.06 370.3,138.04 370.78,138.86 371.25,139.53 371.72,140.06 372.2,140.48 372.67,140.79 373.15,141.01 373.62,141.16 374.09,141.24 374.57,141.28 375.04,141.27 375.51,141.23 375.99,141.16 376.46,141.08 376.93,141 377.41,140.91 377.88,140.82 378.36,140.73 378.83,140.66 379.3,140.6 379.78,140.55 380.25,140.51 380.72,140.5 381.2,140.5 381.67,140.52 382.14,140.56 382.62,140.61 383.09,140.69 383.57,140.77 384.04,140.88 384.51,140.99 384.99,141.12 385.46,141.25 385.93,141.4 386.41,141.55 386.88,141.7 387.35,141.86 387.83,142.01 388.3,142.17 388.78,142.32 389.25,142.47 389.72,142.61 390.2,142.74 390.67,142.87 391.14,142.99 391.62,143.1 392.09,143.21 392.56,143.3 393.04,143.39 393.51,143.46 393.99,143.53 394.46,143.59 394.93,143.64 395.41,143.68 395.88,143.71 396.35,143.74 396.83,143.75 397.3,143.76 397.77,143.76 398.25,143.75 398.72,143.72 399.2,143.69 399.67,143.64 400.14,143.57 400.62,143.49 401.09,143.39 401.56,143.27 402.04,143.13 402.51,142.96 402.98,142.76 403.46,142.52 403.93,142.25 404.41,141.95 404.88,141.6 405.35,141.21 405.83,140.77 406.3,140.28 406.77,139.74 407.25,139.15 407.72,138.51 408.19,137.82 408.67,137.09 409.14,136.31 409.62,135.48 410.09,134.63 410.56,133.74 411.04,132.84 411.51,131.92 411.98,131.01 412.46,130.1 412.93,129.21 413.4,128.35 413.88,127.53 414.35,126.77 414.83,126.08 415.3,125.46 415.77,124.93 416.25,124.49 416.72,124.16 417.19,123.93 417.67,123.81 418.14,123.81 418.61,123.92 419.09,124.14 419.56,124.47 420.04,124.91 420.51,125.43 420.98,126.05 421.46,126.74 421.93,127.5 422.4,128.31 422.88,129.17 423.35,130.05 423.82,130.96 424.3,131.88 424.77,132.8 425.25,133.7 425.72,134.59 426.19,135.45 426.67,136.27 427.14,137.05 427.61,137.79 428.09,138.48 428.56,139.12 429.03,139.72 429.51,140.26 429.98,140.75 430.46,141.19 430.93,141.59 431.4,141.94 431.88,142.25 432.35,142.52 432.82,142.76 433.3,142.96 433.77,143.14 434.24,143.29 434.72,143.41 435.19,143.52 435.67,143.61 436.14,143.69 436.61,143.75 437.09,143.8 437.56,143.84 438.03,143.87 438.51,143.9 438.98,143.92 439.45,143.94 439.93,143.95 440.4,143.96 440.88,143.97 441.35,143.98 441.82,143.98 442.3,143.99 442.77,143.99 443.24,143.99 443.72,144 444.19,144 444.66,144 445.14,144 445.61,144 446.09,144 446.56,144 447.03,144 447.51,144 447.98,144" fill="none" stroke="#26828e" stroke-width="1" stroke-linejoin="round"/>
<polyline points="259,143.68 259.47,143.59 259.95,143.47 260.42,143.33 260.89,143.17 261.37,142.97 261.84,142.74 262.32,142.48 262.79,142.18 263.26,141.85 263.74,141.48 264.21,141.09 264.68,140.66 265.16,140.2 265.63,139.72 266.1,139.22 266.58,138.7 267.05,138.17 267.53,137.62 268,137.07 268.47,136.5 268.95,135.92 269.42,135.31 269.89,134.68 270.37,134.02 270.84,133.3 271.31,132.53 271.79,131.69 272.26,130.78 272.74,129.77 273.21,128.66 273.68,127.45 274.16,126.12 274.63,124.69 275.1,123.15 275.58,121.5 276.05,119.76 276.52,117.95 277,116.07 277.47,114.15 277.95,112.21 278.42,110.28 278.89,108.37 279.37,106.53 279.84,104.77 280.31,103.12 280.79,101.61 281.26,100.27 281.73,99.1 282.21,98.14 282.68,97.4 283.16,96.9 283.63,96.63 284.1,96.61 284.58,96.84 285.05,97.31 285.52,98.02 286,98.96 286.47,100.11 286.94,101.45 287.42,102.97 287.89,104.64 288.37,106.45 288.84,108.35 289.31,110.34 289.79,112.39 290.26,114.46 290.73,116.55 291.21,118.62 291.68,120.66 292.15,122.64 292.63,124.56 293.1,126.41 293.58,128.16 294.05,129.81 294.52,131.35 295,132.79 295.47,134.11 295.94,135.33 296.42,136.43 296.89,137.43 297.36,138.33 297.84,139.13 298.31,139.84 298.79,140.46 299.26,141.01 299.73,141.49 300.21,141.9 300.68,142.25 301.15,142.55 301.63,142.81 302.1,143.02 302.57,143.2 303.05,143.35 303.52,143.48 304,143.58 304.47,143.67 304.94,143.74 305.42,143.79 305.89,143.84 306.36,143.87 306.84,143.9 307.31,143.92 307.78,143.94 308.26,143.95 308.73,143.97 309.21,143.97 309.68,143.98 310.15,143.99 310.63,143.99 311.1,143.99 311.57,143.99 312.05,144 312.52,144 312.99,144 313.47,144 313.94,144 314.42,144 314.89,144 315.36,144 315.84,144 316.31,144 316.78,144 317.26,144 317.73,144 318.2,144 318.68,144 319.15,144 319.63,144 320.1,144 320.57,144 321.05,144 321.52,144 321.99,144 322.47,144 322.94,144 323.41,144 323.89,144 324.36,144 324.84,144 325.31,144 325.78,144 326.26,144 326.73,144 327.2,144 327.68,144 328.15,144 328.62,144 329.1,144 329.57,144 330.05,144 330.52,143.99 330.99,143.99 331.47,143.99 331.94,143.98 332.41,143.97 332.89,143.96 333.36,143.95 333.83,143.93 334.31,143.9 334.78,143.86 335.26,143.82 335.73,143.76 336.2,143.68 336.68,143.58 337.15,143.46 337.62,143.31 338.1,143.13 338.57,142.92 339.04,142.66 339.52,142.36 339.99,142 340.47,141.6 340.94,141.14 341.41,140.62 341.89,140.04 342.36,139.41 342.83,138.73 343.31,137.99 343.78,137.22 344.25,136.4 344.73,135.55 345.2,134.68 345.68,133.79 346.15,132.89 346.62,131.99 347.1,131.08 347.57,130.18 348.04,129.28 348.52,128.37 348.99,127.45 349.46,126.52 349.94,125.56 350.41,124.57 350.89,123.53 351.36,122.44 351.83,121.28 352.31,120.05 352.78,118.75 353.25,117.38 353.73,115.95 354.2,114.47 354.67,112.96 355.15,111.43 355.62,109.92 356.09,108.45 356.57,107.06 357.04,105.78 357.52,104.64 357.99,103.68 358.46,102.92 358.94,102.4 359.41,102.12 359.88,102.11 360.36,102.37 360.83,102.9 361.3,103.7 361.78,104.76 362.25,106.06 362.73,107.57 363.2,109.26 363.67,111.11 364.15,113.07 364.62,115.13 365.09,117.23 365.57,119.34 366.04,121.45 366.51,123.5 366.99,125.48 367.46,127.37 367.94,129.15 368.41,130.8 368.88,132.31 369.36,133.69 369.83,134.92 370.3,136.01 370.78,136.95 371.25,137.77 371.72,138.46 372.2,139.04 372.67,139.51 373.15,139.88 373.62,140.17 374.09,140.39 374.57,140.55 375.04,140.65 375.51,140.71 375.99,140.73 376.46,140.73 376.93,140.71 377.41,140.68 377.88,140.64 378.36,140.6 378.83,140.56 379.3,140.52 379.78,140.5 380.25,140.48 380.72,140.47 381.2,140.48 381.67,140.5 382.14,140.54 382.62,140.59 383.09,140.66 383.57,140.74 384.04,140.83 384.51,140.93 384.99,141.05 385.46,141.17 385.93,141.3 386.41,141.44 386.88,141.58 387.35,141.73 387.83,141.87 388.3,142.02 388.78,142.16 389.25,142.3 389.72,142.44 390.2,142.58 390.67,142.7 391.14,142.82 391.62,142.94 392.09,143.05 392.56,143.15 393.04,143.24 393.51,143.32 393.99,143.39 394.46,143.46 394.93,143.52 395.41,143.56 395.88,143.6 396.35,143.63 396.83,143.65 397.3,143.66 397.77,143.66 398.25,143.65 398.72,143.62 399.2,143.59 399.67,143.53 400.14,143.46 400.62,143.38 401.09,143.27 401.56,143.15 402.04,143 402.51,142.82 402.98,142.62 403.46,142.38 403.93,142.11 404.41,141.81 404.88,141.47 405.35,141.08 405.83,140.66 406.3,140.19 406.77,139.69 407.25,139.13 407.72,138.54 408.19,137.9 408.67,137.22 409.14,136.5 409.62,135.76 410.09,134.98 410.56,134.18 411.04,133.36 411.51,132.54 411.98,131.71 412.46,130.89 412.93,130.09 413.4,129.32 413.88,128.58 414.35,127.89 414.83,127.25 415.3,126.68 415.77,126.18 416.25,125.75 416.72,125.42 417.19,125.17 417.67,125.02 418.14,124.96 418.61,125.01 419.09,125.15 419.56,125.38 420.04,125.7 420.51,126.11 420.98,126.61 421.46,127.17 421.93,127.8 422.4,128.49 422.88,129.22 423.35,129.99 423.82,130.79 424.3,131.6 424.77,132.43 425.25,133.25 425.72,134.07 426.19,134.87 426.67,135.65 427.14,136.41 427.61,137.13 428.09,137.81 428.56,138.45 429.03,139.06 429.51,139.62 429.98,140.13 430.46,140.61 430.93,141.04 431.4,141.42 431.88,141.77 432.35,142.09 432.82,142.36 433.3,142.61 433.77,142.82 434.24,143.01 434.72,143.17 435.19,143.31 435.67,143.42 436.14,143.52 436.61,143.61 437.09,143.68 437.56,143.74 438.03,143.79 438.51,143.83 438.98,143.86 439.45,143.89 439.93,143.91 440.4,143.93 440.88,143.95 441.35,143.96 441.82,143.97 442.3,143.98 442.77,143.98 443.24,143.99 443.72,143.99 444.19,143.99 444.66,143.99 445.14,144 445.61,144 446.09,144 446.56,144 447.03,144 447.51,144 447.98,144" fill="none" stroke="#31688e" stroke-width="1" stroke-linejoin="round"/>
<polyline points="259,143.43 259.47,143.3 259.95,143.14 260.42,142.96 260.89,142.75 261.37,142.5 261.84,142.23 262.32,141.92 262.79,141.58 263.26,141.2 263.74,140.79 264.21,140.34 264.68,139.87 265.16,139.36 265.63,138.83 266.1,138.27 266.58,137.68 267.05,137.08 267.53,136.45 268,135.8 268.47,135.13 268.95,134.44 269.42,133.72 269.89,132.98 270.37,132.2 270.84,131.39 271.31,130.53 271.79,129.64 272.26,128.69 272.74,127.69 273.21,126.63 273.68,125.52 274.16,124.35 274.63,123.12 275.1,121.84 275.58,120.52 276.05,119.15 276.52,117.76 277,116.35 277.47,114.93 277.95,113.53 278.42,112.14 278.89,110.8 279.37,109.51 279.84,108.29 280.31,107.16 280.79,106.14 281.26,105.23 281.73,104.45 282.21,103.81 282.68,103.32 283.16,102.98 283.63,102.81 284.1,102.8 284.58,102.97 285.05,103.29 285.52,103.78 286,104.42 286.47,105.21 286.94,106.14 287.42,107.21 287.89,108.38 288.37,109.66 288.84,111.03 289.31,112.48 289.79,113.98 290.26,115.53 290.73,117.12 291.21,118.71 291.68,120.31 292.15,121.9 292.63,123.47 293.1,125.01 293.58,126.5 294.05,127.94 294.52,129.32 295,130.64 295.47,131.89 295.94,133.07 296.42,134.17 296.89,135.2 297.36,136.16 297.84,137.03 298.31,137.84 298.79,138.58 299.26,139.24 299.73,139.84 300.21,140.38 300.68,140.87 301.15,141.3 301.63,141.68 302.1,142.01 302.57,142.31 303.05,142.56 303.52,142.79 304,142.98 304.47,143.14 304.94,143.28 305.42,143.4 305.89,143.51 306.36,143.59 306.84,143.67 307.31,143.73 307.78,143.78 308.26,143.82 308.73,143.85 309.21,143.88 309.68,143.91 310.15,143.93 310.63,143.94 311.1,143.95 311.57,143.96 312.05,143.97 312.52,143.98 312.99,143.98 313.47,143.99 313.94,143.99 314.42,143.99 314.89,143.99 315.36,144 315.84,144 316.31,144 316.78,144 317.26,144 317.73,144 318.2,144 318.68,144 319.15,144 319.63,144 320.1,144 320.57,144 321.05,144 321.52,144 321.99,144 322.47,144 322.94,144 323.41,144 323.89,144 324.36,144 324.84,144 325.31,144 325.78,144 326.26,144 326.73,144 327.2,144 327.68,144 328.15,144 328.62,144 329.1,143.99 329.57,143.99 330.05,143.99 330.52,143.98 330.99,143.97 331.47,143.96 331.94,143.95 332.41,143.93 332.89,143.91 333.36,143.88 333.83,143.84 334.31,143.8 334.78,143.74 335.26,143.67 335.73,143.58 336.2,143.47 336.68,143.33 337.15,143.17 337.62,142.98 338.1,142.76 338.57,142.5 339.04,142.2 339.52,141.86 339.99,141.47 340.47,141.04 340.94,140.55 341.41,140.02 341.89,139.43 342.36,138.8 342.83,138.12 343.31,137.4 343.78,136.64 344.25,135.84 344.73,135.01 345.2,134.15 345.68,133.27 346.15,132.37 346.62,131.45 347.1,130.52 347.57,129.57 348.04,128.61 348.52,127.63 348.99,126.64 349.46,125.63 349.94,124.59 350.41,123.53 350.89,122.44 351.36,121.32 351.83,120.17 352.31,118.99 352.78,117.78 353.25,116.54 353.73,115.29 354.2,114.03 354.67,112.78 355.15,111.56 355.62,110.38 356.09,109.26 356.57,108.22 357.04,107.28 357.52,106.47 357.99,105.8 358.46,105.3 358.94,104.97 359.41,104.83 359.88,104.89 360.36,105.15 360.83,105.62 361.3,106.29 361.78,107.15 362.25,108.2 362.73,109.41 363.2,110.77 363.67,112.26 364.15,113.86 364.62,115.53 365.09,117.27 365.57,119.03 366.04,120.81 366.51,122.57 366.99,124.3 367.46,125.97 367.94,127.58 368.41,129.1 368.88,130.53 369.36,131.86 369.83,133.08 370.3,134.2 370.78,135.2 371.25,136.09 371.72,136.87 372.2,137.55 372.67,138.13 373.15,138.63 373.62,139.04 374.09,139.38 374.57,139.65 375.04,139.87 375.51,140.03 375.99,140.15 376.46,140.24 376.93,140.3 377.41,140.34 377.88,140.36 378.36,140.37 378.83,140.38 379.3,140.38 379.78,140.39 380.25,140.39 380.72,140.41 381.2,140.43 381.67,140.46 382.14,140.51 382.62,140.56 383.09,140.62 383.57,140.7 384.04,140.79 384.51,140.88 384.99,140.99 385.46,141.1 385.93,141.22 386.41,141.35 386.88,141.48 387.35,141.61 387.83,141.75 388.3,141.88 388.78,142.02 389.25,142.16 389.72,142.29 390.2,142.42 390.67,142.55 391.14,142.67 391.62,142.78 392.09,142.89 392.56,142.99 393.04,143.09 393.51,143.17 393.99,143.25 394.46,143.32 394.93,143.38 395.41,143.43 395.88,143.48 396.35,143.51 396.83,143.53 397.3,143.54 397.77,143.55 398.25,143.53 398.72,143.51 399.2,143.47 399.67,143.42 400.14,143.35 400.62,143.26 401.09,143.15 401.56,143.02 402.04,142.87 402.51,142.69 402.98,142.49 403.46,142.25 403.93,141.99 404.41,141.69 404.88,141.36 405.35,141 405.83,140.6 406.3,140.15 406.77,139.68 407.25,139.16 407.72,138.61 408.19,138.02 408.67,137.4 409.14,136.75 409.62,136.07 410.09,135.37 410.56,134.64 411.04,133.91 411.51,133.17 411.98,132.43 412.46,131.69 412.93,130.97 413.4,130.28 413.88,129.61 414.35,128.98 414.83,128.4 415.3,127.87 415.77,127.4 416.25,127 416.72,126.67 417.19,126.41 417.67,126.24 418.14,126.14 418.61,126.14 419.09,126.21 419.56,126.37 420.04,126.6 420.51,126.92 420.98,127.31 421.46,127.76 421.93,128.28 422.4,128.85 422.88,129.47 423.35,130.13 423.82,130.82 424.3,131.53 424.77,132.26 425.25,133 425.72,133.75 426.19,134.48 426.67,135.21 427.14,135.92 427.61,136.6 428.09,137.26 428.56,137.89 429.03,138.49 429.51,139.05 429.98,139.57 430.46,140.06 430.93,140.51 431.4,140.92 431.88,141.3 432.35,141.64 432.82,141.95 433.3,142.23 433.77,142.47 434.24,142.69 434.72,142.88 435.19,143.05 435.67,143.2 436.14,143.33 436.61,143.44 437.09,143.53 437.56,143.61 438.03,143.68 438.51,143.74 438.98,143.78 439.45,143.82 439.93,143.86 440.4,143.89 440.88,143.91 441.35,143.93 441.82,143.94 442.3,143.95 442.77,143.96 443.24,143.97 443.72,143.98 444.19,143.98 444.66,143.99 445.14,143.99 445.61,143.99 446.09,143.99 446.56,144 447.03,144 447.51,144 447.98,144" fill="none" stroke="#3e4989" stroke-width="1" stroke-linejoin="round"/>
</g>
<rect x="259" y="4.1" width="189.4" height="159.1" fill="none" stroke="#8a8a8a" stroke-width="1.1"/>
<line x1="392.7" y1="14.7" x2="412.3" y2="14.7" stroke="#d2e21b" stroke-width="1.2" stroke-opacity="0.75"/>
<text x="414.6" y="17.7" font-size="8.5" text-anchor="start" fill="#222" stroke="#222" stroke-width="0.1">20</text>
<text x="436" y="17.7" font-size="8.5" text-anchor="start" fill="#222" stroke="#222" stroke-width="0.1">K</text>
<line x1="392.7" y1="25.15" x2="412.3" y2="25.15" stroke="#a0da39" stroke-width="1.2" stroke-opacity="0.75"/>
<text x="414.6" y="28.15" font-size="8.5" text-anchor="start" fill="#222" stroke="#222" stroke-width="0.1">100</text>
<text x="436" y="28.15" font-size="8.5" text-anchor="start" fill="#222" stroke="#222" stroke-width="0.1">K</text>
<line x1="392.7" y1="35.6" x2="412.3" y2="35.6" stroke="#6ece58" stroke-width="1.2" stroke-opacity="0.75"/>
<text x="414.6" y="38.6" font-size="8.5" text-anchor="start" fill="#222" stroke="#222" stroke-width="0.1">200</text>
<text x="436" y="38.6" font-size="8.5" text-anchor="start" fill="#222" stroke="#222" stroke-width="0.1">K</text>
<line x1="392.7" y1="46.05" x2="412.3" y2="46.05" stroke="#35b779" stroke-width="1.2" stroke-opacity="0.75"/>
<text x="414.6" y="49.05" font-size="8.5" text-anchor="start" fill="#222" stroke="#222" stroke-width="0.1">300</text>
<text x="436" y="49.05" font-size="8.5" text-anchor="start" fill="#222" stroke="#222" stroke-width="0.1">K</text>
<line x1="392.7" y1="56.5" x2="412.3" y2="56.5" stroke="#1f9e89" stroke-width="1.2" stroke-opacity="0.75"/>
<text x="414.6" y="59.5" font-size="8.5" text-anchor="start" fill="#222" stroke="#222" stroke-width="0.1">400</text>
<text x="436" y="59.5" font-size="8.5" text-anchor="start" fill="#222" stroke="#222" stroke-width="0.1">K</text>
<line x1="392.7" y1="66.95" x2="412.3" y2="66.95" stroke="#26828e" stroke-width="1.2" stroke-opacity="0.75"/>
<text x="414.6" y="69.95" font-size="8.5" text-anchor="start" fill="#222" stroke="#222" stroke-width="0.1">600</text>
<text x="436" y="69.95" font-size="8.5" text-anchor="start" fill="#222" stroke="#222" stroke-width="0.1">K</text>
<line x1="392.7" y1="77.4" x2="412.3" y2="77.4" stroke="#31688e" stroke-width="1.2" stroke-opacity="0.75"/>
<text x="414.6" y="80.4" font-size="8.5" text-anchor="start" fill="#222" stroke="#222" stroke-width="0.1">800</text>
<text x="436" y="80.4" font-size="8.5" text-anchor="start" fill="#222" stroke="#222" stroke-width="0.1">K</text>
<line x1="392.7" y1="87.85" x2="412.3" y2="87.85" stroke="#3e4989" stroke-width="1.2" stroke-opacity="0.75"/>
<text x="414.6" y="90.85" font-size="8.5" text-anchor="start" fill="#222" stroke="#222" stroke-width="0.1">1000</text>
<text x="436" y="90.85" font-size="8.5" text-anchor="start" fill="#222" stroke="#222" stroke-width="0.1">K</text>
<g clip-path="url(#clipC)">
<rect x="493.6" y="20.64" width="150.4" height="53.8" fill="#fcbfbf" stroke="none" stroke-width="1"/>
<path d="M518.4 44.5 Q537.4 39.3 556.4 44.5 Q537.4 49.7 518.4 44.5 Z" fill="#fff" fill-opacity="0.5"/>
<line x1="518.4" y1="44.1" x2="556.4" y2="44.1" stroke="#f7b9b9" stroke-width="0.7"/>
<path d="M528.4 38.9 Q537.4 36.1 546.4 38.9 Q537.4 41.7 528.4 38.9 Z" fill="#fff" fill-opacity="0.5"/>
<line x1="528.4" y1="38.5" x2="546.4" y2="38.5" stroke="#f7b9b9" stroke-width="0.7"/>
<path d="M590.0 44.5 Q609.0 39.3 628.0 44.5 Q609.0 49.7 590.0 44.5 Z" fill="#fff" fill-opacity="0.5"/>
<line x1="590.0" y1="44.1" x2="628.0" y2="44.1" stroke="#f7b9b9" stroke-width="0.7"/>
<path d="M600.0 38.9 Q609.0 36.1 618.0 38.9 Q609.0 41.7 600.0 38.9 Z" fill="#fff" fill-opacity="0.5"/>
<line x1="600.0" y1="38.5" x2="618.0" y2="38.5" stroke="#f7b9b9" stroke-width="0.7"/>
</g>
<g clip-path="url(#clipC)" fill="none" stroke="#f7b9b9" stroke-width="0.7" stroke-linejoin="round">
<path d="M493.6 90.0 L498.0 90.1 L502.4 90.0 L506.7 89.6 L511.1 89.0 L515.5 88.3 L519.9 87.4 L524.3 86.6 L528.6 85.8 L533.0 85.2 L537.4 84.8 L541.0 85.2 L544.6 85.7 L548.2 86.3 L551.8 86.9 L555.4 87.4 L559.0 87.9 L562.6 88.2 L566.2 88.3 L569.8 88.3 L573.4 88.1 L577.0 87.8 L580.5 87.3 L584.1 86.8 L587.6 86.2 L591.2 85.7 L594.8 85.2 L598.3 84.8 L601.9 84.6 L605.4 84.6 L609.0 84.7 L612.5 85.0 L616.0 85.5 L619.5 86.2 L623.0 87.0 L626.5 87.9 L630.0 88.7 L633.5 89.4 L637.0 89.9 L640.5 90.1 L644.0 90.1"/>
<path d="M493.6 93.2 L498.0 92.9 L502.4 92.2 L506.7 91.2 L511.1 90.0 L515.5 88.7 L519.9 87.4 L524.3 86.3 L528.6 85.5 L533.0 84.9 L537.4 84.8 L541.0 85.2 L544.6 85.6 L548.2 86.2 L551.8 86.9 L555.4 87.5 L559.0 88.1 L562.6 88.6 L566.2 88.9 L569.8 88.9 L573.4 88.8 L577.0 88.6 L580.5 88.3 L584.1 87.8 L587.6 87.2 L591.2 86.5 L594.8 85.9 L598.3 85.4 L601.9 85.1 L605.4 84.9 L609.0 84.9 L612.5 84.8 L616.0 85.1 L619.5 85.7 L623.0 86.6 L626.5 87.6 L630.0 88.8 L633.5 89.9 L637.0 90.8 L640.5 91.5 L644.0 91.9"/>
<path d="M493.6 87.5 L498.0 87.2 L502.4 86.7 L506.7 86.0 L511.1 85.0 L515.5 84.0 L519.9 83.0 L524.3 82.1 L528.6 81.4 L533.0 81.0 L537.4 80.9 L541.0 81.2 L544.6 81.7 L548.2 82.4 L551.8 83.2 L555.4 84.0 L559.0 84.8 L562.6 85.5 L566.2 86.0 L569.8 86.3 L573.4 86.3 L577.0 86.5 L580.5 86.3 L584.1 85.9 L587.6 85.3 L591.2 84.5 L594.8 83.6 L598.3 82.7 L601.9 81.8 L605.4 81.2 L609.0 80.7 L612.5 80.5 L616.0 80.4 L619.5 80.4 L623.0 80.5 L626.5 80.7 L630.0 80.9 L633.5 81.2 L637.0 81.5 L640.5 81.8 L644.0 82.1"/>
<path d="M493.6 88.0 L498.0 87.9 L502.4 87.5 L506.7 86.9 L511.1 86.0 L515.5 85.0 L519.9 84.0 L524.3 83.1 L528.6 82.3 L533.0 81.8 L537.4 81.6 L541.0 81.6 L544.6 81.9 L548.2 82.5 L551.8 83.4 L555.4 84.4 L559.0 85.5 L562.6 86.5 L566.2 87.4 L569.8 88.1 L573.4 88.4 L577.0 88.3 L580.5 87.8 L584.1 87.0 L587.6 86.1 L591.2 85.0 L594.8 83.9 L598.3 82.9 L601.9 82.1 L605.4 81.5 L609.0 81.3 L612.5 81.2 L616.0 81.4 L619.5 81.9 L623.0 82.7 L626.5 83.6 L630.0 84.7 L633.5 85.7 L637.0 86.6 L640.5 87.3 L644.0 87.8"/>
<path d="M493.6 89.0 L498.0 88.9 L502.4 88.7 L506.7 88.3 L511.1 88.0 L515.5 87.6 L519.9 87.2 L524.3 87.0 L528.6 86.8 L533.0 86.7 L537.4 86.7 L541.0 86.9 L544.6 87.1 L548.2 87.5 L551.8 87.9 L555.4 88.2 L559.0 88.5 L562.6 88.8 L566.2 88.9 L569.8 89.0 L573.4 88.9 L577.0 88.8 L580.5 88.7 L584.1 88.4 L587.6 88.1 L591.2 87.8 L594.8 87.5 L598.3 87.2 L601.9 86.9 L605.4 86.8 L609.0 86.7 L612.5 87.0 L616.0 87.6 L619.5 88.6 L623.0 89.7 L626.5 91.0 L630.0 92.2 L633.5 93.3 L637.0 94.2 L640.5 94.7 L644.0 94.8"/>
<path d="M493.6 88.7 L498.0 88.3 L502.4 87.7 L506.7 86.9 L511.1 86.0 L515.5 85.1 L519.9 84.3 L524.3 83.7 L528.6 83.2 L533.0 83.1 L537.4 83.3 L541.0 83.1 L544.6 83.3 L548.2 83.6 L551.8 84.2 L555.4 84.9 L559.0 85.7 L562.6 86.4 L566.2 87.1 L569.8 87.7 L573.4 88.0 L577.0 87.6 L580.5 86.9 L584.1 86.2 L587.6 85.4 L591.2 84.5 L594.8 83.8 L598.3 83.3 L601.9 83.0 L605.4 82.9 L609.0 83.1 L612.5 83.2 L616.0 83.7 L619.5 84.4 L623.0 85.5 L626.5 86.6 L630.0 87.9 L633.5 89.0 L637.0 89.9 L640.5 90.6 L644.0 90.9"/>
<path d="M493.6 93.2 L498.0 92.9 L502.4 92.2 L506.7 91.3 L511.1 90.2 L515.5 89.0 L519.9 87.9 L524.3 87.0 L528.6 86.2 L533.0 85.8 L537.4 85.8 L541.0 86.2 L544.6 86.9 L548.2 87.8 L551.8 88.9 L555.4 90.1 L559.0 91.2 L562.6 92.2 L566.2 92.9 L569.8 93.2 L573.4 93.2 L577.0 92.8 L580.5 92.1 L584.1 91.1 L587.6 90.0 L591.2 88.8 L594.8 87.7 L598.3 86.7 L601.9 86.1 L605.4 85.7 L609.0 85.8 L612.5 85.9 L616.0 86.4 L619.5 87.2 L623.0 88.3 L626.5 89.4 L630.0 90.6 L633.5 91.7 L637.0 92.6 L640.5 93.2 L644.0 93.4"/>
<path d="M493.6 86.0 L498.0 85.7 L502.4 85.4 L506.7 85.1 L511.1 84.8 L515.5 84.4 L519.9 84.2 L524.3 84.0 L528.6 84.0 L533.0 84.0 L537.4 84.1 L541.0 84.4 L544.6 84.9 L548.2 85.7 L551.8 86.6 L555.4 87.7 L559.0 88.7 L562.6 89.6 L566.2 90.3 L569.8 90.7 L573.4 90.8 L577.0 90.9 L580.5 90.6 L584.1 90.1 L587.6 89.3 L591.2 88.3 L594.8 87.3 L598.3 86.3 L601.9 85.5 L605.4 84.8 L609.0 84.4 L612.5 84.8 L616.0 85.5 L619.5 86.4 L623.0 87.6 L626.5 88.9 L630.0 90.1 L633.5 91.1 L637.0 91.9 L640.5 92.4 L644.0 92.4"/>
<path d="M493.6 93.1 L498.0 92.7 L502.4 92.1 L506.7 91.3 L511.1 90.4 L515.5 89.5 L519.9 88.6 L524.3 87.9 L528.6 87.5 L533.0 87.3 L537.4 87.4 L541.0 87.1 L544.6 86.9 L548.2 86.8 L551.8 86.8 L555.4 86.9 L559.0 87.1 L562.6 87.4 L566.2 87.7 L569.8 88.1 L573.4 88.4 L577.0 88.4 L580.5 88.3 L584.1 88.2 L587.6 88.1 L591.2 88.0 L594.8 87.8 L598.3 87.7 L601.9 87.6 L605.4 87.6 L609.0 87.5 L612.5 87.4 L616.0 87.5 L619.5 87.9 L623.0 88.6 L626.5 89.5 L630.0 90.5 L633.5 91.5 L637.0 92.4 L640.5 93.1 L644.0 93.6"/>
<path d="M493.6 85.7 L498.0 85.8 L502.4 85.7 L506.7 85.5 L511.1 85.3 L515.5 85.0 L519.9 84.7 L524.3 84.4 L528.6 84.1 L533.0 83.9 L537.4 83.8 L541.0 83.9 L544.6 84.1 L548.2 84.6 L551.8 85.3 L555.4 86.0 L559.0 86.8 L562.6 87.5 L566.2 88.1 L569.8 88.5 L573.4 88.7 L577.0 88.8 L580.5 88.7 L584.1 88.3 L587.6 87.8 L591.2 87.1 L594.8 86.3 L598.3 85.6 L601.9 84.9 L605.4 84.4 L609.0 84.0 L612.5 84.3 L616.0 84.7 L619.5 84.9 L623.0 85.2 L626.5 85.3 L630.0 85.4 L633.5 85.4 L637.0 85.2 L640.5 85.0 L644.0 84.7"/>
<path d="M493.6 91.8 L498.0 91.6 L502.4 91.0 L506.7 90.1 L511.1 89.0 L515.5 87.7 L519.9 86.5 L524.3 85.4 L528.6 84.5 L533.0 83.9 L537.4 83.8 L541.0 83.8 L544.6 84.2 L548.2 84.9 L551.8 85.9 L555.4 86.9 L559.0 88.0 L562.6 89.0 L566.2 89.9 L569.8 90.4 L573.4 90.7 L577.0 90.5 L580.5 89.9 L584.1 89.1 L587.6 88.1 L591.2 87.0 L594.8 86.0 L598.3 85.0 L601.9 84.3 L605.4 83.9 L609.0 83.8 L612.5 83.8 L616.0 84.1 L619.5 84.4 L623.0 84.9 L626.5 85.4 L630.0 86.0 L633.5 86.5 L637.0 86.9 L640.5 87.2 L644.0 87.3"/>
<path d="M493.6 85.5 L498.0 85.1 L502.4 84.5 L506.7 83.8 L511.1 83.1 L515.5 82.3 L519.9 81.7 L524.3 81.2 L528.6 81.0 L533.0 80.9 L537.4 81.1 L541.0 81.3 L544.6 81.7 L548.2 82.3 L551.8 83.1 L555.4 83.9 L559.0 84.8 L562.6 85.6 L566.2 86.3 L569.8 86.7 L573.4 86.8 L577.0 86.7 L580.5 86.3 L584.1 85.6 L587.6 84.8 L591.2 84.0 L594.8 83.1 L598.3 82.3 L601.9 81.7 L605.4 81.4 L609.0 81.3 L612.5 81.6 L616.0 82.1 L619.5 82.6 L623.0 83.1 L626.5 83.5 L630.0 83.8 L633.5 84.0 L637.0 84.0 L640.5 83.9 L644.0 83.6"/>
<path d="M493.6 87.8 L498.0 88.0 L502.4 87.8 L506.7 87.4 L511.1 86.8 L515.5 86.0 L519.9 85.1 L524.3 84.2 L528.6 83.4 L533.0 82.8 L537.4 82.4 L541.0 82.3 L544.6 82.3 L548.2 82.3 L551.8 82.4 L555.4 82.5 L559.0 82.7 L562.6 82.8 L566.2 83.0 L569.8 83.1 L573.4 83.2 L577.0 83.2 L580.5 83.2 L584.1 83.1 L587.6 83.0 L591.2 82.8 L594.8 82.7 L598.3 82.5 L601.9 82.4 L605.4 82.3 L609.0 82.3 L612.5 82.3 L616.0 82.6 L619.5 83.1 L623.0 83.8 L626.5 84.7 L630.0 85.5 L633.5 86.4 L637.0 87.0 L640.5 87.5 L644.0 87.8"/>
<path d="M493.6 89.5 L498.0 89.3 L502.4 88.7 L506.7 87.9 L511.1 87.0 L515.5 86.0 L519.9 85.1 L524.3 84.2 L528.6 83.6 L533.0 83.3 L537.4 83.2 L541.0 83.1 L544.6 83.2 L548.2 83.7 L551.8 84.3 L555.4 85.2 L559.0 86.1 L562.6 87.1 L566.2 87.9 L569.8 88.6 L573.4 89.1 L577.0 89.1 L580.5 88.8 L584.1 88.3 L587.6 87.6 L591.2 86.8 L594.8 85.9 L598.3 85.1 L601.9 84.4 L605.4 83.8 L609.0 83.5 L612.5 83.6 L616.0 83.6 L619.5 83.7 L623.0 83.8 L626.5 83.9 L630.0 84.0 L633.5 84.1 L637.0 84.1 L640.5 84.1 L644.0 84.1"/>
<path d="M493.6 87.6 L498.0 87.6 L502.4 87.5 L506.7 87.1 L511.1 86.6 L515.5 86.1 L519.9 85.4 L524.3 84.8 L528.6 84.3 L533.0 83.9 L537.4 83.7 L541.0 83.8 L544.6 84.1 L548.2 84.5 L551.8 84.9 L555.4 85.4 L559.0 85.8 L562.6 86.2 L566.2 86.4 L569.8 86.6 L573.4 86.5 L577.0 86.3 L580.5 85.9 L584.1 85.5 L587.6 85.0 L591.2 84.5 L594.8 84.1 L598.3 83.8 L601.9 83.6 L605.4 83.5 L609.0 83.6 L612.5 84.0 L616.0 84.5 L619.5 85.1 L623.0 85.8 L626.5 86.4 L630.0 86.9 L633.5 87.3 L637.0 87.4 L640.5 87.4 L644.0 87.2"/>
<path d="M493.6 86.8 L498.0 86.8 L502.4 86.5 L506.7 85.9 L511.1 85.1 L515.5 84.1 L519.9 83.1 L524.3 82.1 L528.6 81.2 L533.0 80.6 L537.4 80.3 L541.0 80.6 L544.6 80.9 L548.2 81.4 L551.8 81.9 L555.4 82.4 L559.0 82.8 L562.6 83.1 L566.2 83.3 L569.8 83.3 L573.4 83.1 L577.0 83.1 L580.5 82.9 L584.1 82.6 L587.6 82.2 L591.2 81.7 L594.8 81.3 L598.3 80.8 L601.9 80.5 L605.4 80.2 L609.0 80.1 L612.5 80.0 L616.0 80.1 L619.5 80.3 L623.0 80.6 L626.5 81.0 L630.0 81.4 L633.5 81.8 L637.0 82.2 L640.5 82.5 L644.0 82.7"/>
<path d="M493.6 90.3 L498.0 89.9 L502.4 89.5 L506.7 88.9 L511.1 88.3 L515.5 87.7 L519.9 87.2 L524.3 86.8 L528.6 86.5 L533.0 86.5 L537.4 86.6 L541.0 86.9 L544.6 87.3 L548.2 87.8 L551.8 88.3 L555.4 88.8 L559.0 89.3 L562.6 89.6 L566.2 89.8 L569.8 89.8 L573.4 89.7 L577.0 89.7 L580.5 89.6 L584.1 89.3 L587.6 88.9 L591.2 88.5 L594.8 88.0 L598.3 87.6 L601.9 87.2 L605.4 86.9 L609.0 86.7 L612.5 86.8 L616.0 87.2 L619.5 87.9 L623.0 88.8 L626.5 89.9 L630.0 91.0 L633.5 92.0 L637.0 92.9 L640.5 93.4 L644.0 93.7"/>
<path d="M493.6 84.9 L498.0 84.6 L502.4 84.2 L506.7 83.7 L511.1 83.2 L515.5 82.7 L519.9 82.3 L524.3 82.0 L528.6 81.8 L533.0 81.8 L537.4 81.9 L541.0 81.7 L544.6 81.6 L548.2 81.6 L551.8 81.8 L555.4 82.0 L559.0 82.2 L562.6 82.5 L566.2 82.9 L569.8 83.2 L573.4 83.4 L577.0 83.6 L580.5 83.7 L584.1 83.7 L587.6 83.6 L591.2 83.4 L594.8 83.2 L598.3 82.9 L601.9 82.6 L605.4 82.3 L609.0 82.1 L612.5 82.4 L616.0 82.8 L619.5 83.4 L623.0 84.1 L626.5 84.8 L630.0 85.5 L633.5 86.1 L637.0 86.5 L640.5 86.7 L644.0 86.6"/>
<path d="M493.6 85.6 L498.0 85.7 L502.4 85.6 L506.7 85.4 L511.1 85.1 L515.5 84.8 L519.9 84.4 L524.3 84.1 L528.6 83.7 L533.0 83.5 L537.4 83.3 L541.0 83.5 L544.6 83.7 L548.2 84.0 L551.8 84.4 L555.4 84.9 L559.0 85.3 L562.6 85.6 L566.2 85.9 L569.8 86.0 L573.4 86.1 L577.0 86.0 L580.5 85.9 L584.1 85.7 L587.6 85.3 L591.2 84.9 L594.8 84.5 L598.3 84.2 L601.9 83.8 L605.4 83.6 L609.0 83.5 L612.5 83.7 L616.0 84.2 L619.5 85.0 L623.0 86.0 L626.5 87.0 L630.0 88.0 L633.5 88.9 L637.0 89.6 L640.5 90.0 L644.0 90.1"/>
<path d="M493.6 87.3 L498.0 87.3 L502.4 87.3 L506.7 87.1 L511.1 87.0 L515.5 86.7 L519.9 86.5 L524.3 86.3 L528.6 86.1 L533.0 86.0 L537.4 85.9 L541.0 85.8 L544.6 86.0 L548.2 86.6 L551.8 87.5 L555.4 88.6 L559.0 89.8 L562.6 90.9 L566.2 91.9 L569.8 92.7 L573.4 93.2 L577.0 92.7 L580.5 91.9 L584.1 90.9 L587.6 89.7 L591.2 88.5 L594.8 87.3 L598.3 86.4 L601.9 85.8 L605.4 85.5 L609.0 85.6 L612.5 85.9 L616.0 86.6 L619.5 87.6 L623.0 88.8 L626.5 90.0 L630.0 91.2 L633.5 92.2 L637.0 92.9 L640.5 93.3 L644.0 93.3"/>
<path d="M493.6 84.4 L498.0 84.2 L502.4 83.9 L506.7 83.5 L511.1 83.0 L515.5 82.5 L519.9 82.0 L524.3 81.5 L528.6 81.2 L533.0 81.0 L537.4 81.0 L541.0 81.2 L544.6 81.5 L548.2 82.0 L551.8 82.5 L555.4 83.0 L559.0 83.4 L562.6 83.8 L566.2 84.0 L569.8 84.1 L573.4 84.0 L577.0 83.8 L580.5 83.4 L584.1 82.9 L587.6 82.5 L591.2 82.0 L594.8 81.6 L598.3 81.3 L601.9 81.2 L605.4 81.1 L609.0 81.3 L612.5 81.6 L616.0 82.0 L619.5 82.5 L623.0 82.9 L626.5 83.3 L630.0 83.6 L633.5 83.7 L637.0 83.8 L640.5 83.7 L644.0 83.4"/>
<path d="M493.6 81.7 L498.0 81.5 L502.4 81.3 L506.7 81.1 L511.1 80.8 L515.5 80.6 L519.9 80.4 L524.3 80.2 L528.6 80.1 L533.0 80.1 L537.4 80.2 L541.0 80.3 L544.6 80.7 L548.2 81.4 L551.8 82.2 L555.4 83.1 L559.0 84.0 L562.6 84.8 L566.2 85.5 L569.8 85.9 L573.4 86.1 L577.0 86.0 L580.5 85.6 L584.1 85.0 L587.6 84.3 L591.2 83.4 L594.8 82.5 L598.3 81.7 L601.9 81.0 L605.4 80.5 L609.0 80.3 L612.5 80.1 L616.0 80.0 L619.5 80.0 L623.0 80.1 L626.5 80.3 L630.0 80.7 L633.5 81.1 L637.0 81.5 L640.5 81.9 L644.0 82.2"/>
<path d="M493.6 76.8 L495.4 76.8 L497.2 76.8 L499.1 76.9 L500.9 76.9 L502.7 76.9 L504.6 77.0 L506.4 77.0 L508.2 77.0 L510.0 77.1 L511.9 77.1 L513.7 77.1 L515.5 77.2 L517.3 77.2 L519.1 77.2 L521.0 77.2 L522.8 77.2 L524.6 77.2 L526.5 77.2 L528.3 76.7 L530.1 75.9 L531.9 75.2 L533.8 74.8 L535.6 74.5 L537.4 74.4 L538.9 74.5 L540.4 74.6 L541.9 75.0 L543.4 75.4 L544.9 75.9 L546.4 76.6 L547.9 77.0 L549.4 76.9 L550.9 76.7 L552.4 76.6 L553.9 76.4 L555.4 76.3 L556.9 76.1 L558.4 75.9 L559.9 75.8 L561.4 75.6 L562.9 75.4 L564.4 75.3 L565.9 75.1 L567.4 75.0 L568.9 74.8 L570.4 74.7 L571.9 74.7 L573.4 74.6 L574.9 74.6 L576.4 74.6 L577.9 74.6 L579.3 74.7 L580.8 74.7 L582.3 74.8 L583.8 74.9 L585.3 74.9 L586.8 75.0 L588.2 75.1 L589.7 75.2 L591.2 75.3 L592.7 75.4 L594.2 75.6 L595.6 75.7 L597.1 75.8 L598.6 75.8 L600.1 75.6 L601.6 75.3 L603.1 75.0 L604.5 74.7 L606.0 74.5 L607.5 74.4 L609.0 74.4 L610.5 74.4 L611.9 74.5 L613.4 74.7 L614.8 74.9 L616.3 75.1 L617.8 75.4 L619.2 75.6 L620.7 75.5 L622.1 75.4 L623.6 75.3 L625.0 75.2 L626.5 75.1 L628.0 75.0 L629.4 75.0 L630.9 74.9 L632.3 74.9 L633.8 74.8 L635.2 74.8 L636.7 74.8 L638.2 74.8 L639.6 74.8 L641.1 74.8 L642.5 74.9 L644.0 74.9"/>
<path d="M493.6 77.9 L495.4 77.9 L497.2 77.9 L499.1 77.9 L500.9 77.8 L502.7 77.8 L504.6 77.7 L506.4 77.7 L508.2 77.7 L510.0 77.6 L511.9 77.6 L513.7 77.5 L515.5 77.5 L517.3 77.5 L519.1 77.4 L521.0 77.4 L522.8 77.4 L524.6 77.4 L526.5 77.4 L528.3 77.9 L530.1 78.9 L531.9 79.6 L533.8 80.2 L535.6 80.5 L537.4 80.6 L538.9 80.5 L540.4 80.3 L541.9 79.9 L543.4 79.4 L544.9 78.7 L546.4 77.8 L547.9 77.1 L549.4 77.1 L550.9 77.1 L552.4 77.1 L553.9 77.1 L555.4 77.1 L556.9 77.2 L558.4 77.2 L559.9 77.3 L561.4 77.3 L562.9 77.4 L564.4 77.5 L565.9 77.5 L567.4 77.6 L568.9 77.7 L570.4 77.8 L571.9 77.8 L573.4 77.9 L574.9 78.0 L576.4 78.1 L577.9 78.1 L579.3 78.2 L580.8 78.3 L582.3 78.3 L583.8 78.4 L585.3 78.4 L586.8 78.4 L588.2 78.5 L589.7 78.5 L591.2 78.5 L592.7 78.5 L594.2 78.4 L595.6 78.4 L597.1 78.4 L598.6 78.3 L600.1 78.8 L601.6 79.3 L603.1 79.7 L604.5 80.1 L606.0 80.4 L607.5 80.5 L609.0 80.6 L610.5 80.5 L611.9 80.4 L613.4 80.1 L614.8 79.8 L616.3 79.4 L617.8 79.0 L619.2 78.7 L620.7 78.9 L622.1 79.2 L623.6 79.4 L625.0 79.6 L626.5 79.8 L628.0 80.1 L629.4 80.3 L630.9 80.5 L632.3 80.6 L633.8 80.8 L635.2 81.0 L636.7 81.1 L638.2 81.2 L639.6 81.2 L641.1 81.2 L642.5 81.3 L644.0 81.2"/>
<path d="M493.6 78.4 L495.4 78.5 L497.2 78.5 L499.1 78.6 L500.9 78.7 L502.7 78.8 L504.6 78.9 L506.4 79.0 L508.2 79.0 L510.0 79.1 L511.9 79.1 L513.7 79.2 L515.5 79.2 L517.3 79.2 L519.1 79.2 L521.0 79.3 L522.8 79.2 L524.6 79.2 L526.5 79.2 L528.3 79.4 L530.1 79.7 L531.9 80.0 L533.8 80.2 L535.6 80.3 L537.4 80.4 L538.9 80.4 L540.4 80.3 L541.9 80.1 L543.4 79.9 L544.9 79.7 L546.4 79.4 L547.9 79.2 L549.4 79.2 L550.9 79.2 L552.4 79.2 L553.9 79.2 L555.4 79.2 L556.9 79.2 L558.4 79.2 L559.9 79.1 L561.4 79.1 L562.9 79.1 L564.4 79.0 L565.9 78.9 L567.4 78.9 L568.9 78.8 L570.4 78.7 L571.9 78.7 L573.4 78.6 L574.9 78.7 L576.4 78.7 L577.9 78.8 L579.3 78.8 L580.8 78.8 L582.3 78.8 L583.8 78.8 L585.3 78.7 L586.8 78.7 L588.2 78.6 L589.7 78.6 L591.2 78.5 L592.7 78.4 L594.2 78.3 L595.6 78.2 L597.1 78.1 L598.6 78.0 L600.1 78.4 L601.6 79.0 L603.1 79.4 L604.5 79.8 L606.0 80.1 L607.5 80.3 L609.0 80.4 L610.5 80.3 L611.9 80.2 L613.4 79.9 L614.8 79.5 L616.3 79.1 L617.8 78.7 L619.2 78.4 L620.7 78.7 L622.1 78.9 L623.6 79.1 L625.0 79.3 L626.5 79.6 L628.0 79.8 L629.4 80.0 L630.9 80.1 L632.3 80.3 L633.8 80.4 L635.2 80.5 L636.7 80.6 L638.2 80.7 L639.6 80.7 L641.1 80.7 L642.5 80.6 L644.0 80.6"/>
<path d="M493.6 72.1 L495.4 72.1 L497.2 72.2 L499.1 72.3 L500.9 72.4 L502.7 72.6 L504.6 72.7 L506.4 72.9 L508.2 73.1 L510.0 73.3 L511.9 73.5 L513.7 73.7 L515.5 73.9 L517.3 74.1 L519.1 74.3 L521.0 74.5 L522.8 74.7 L524.6 74.8 L526.5 75.0 L528.3 74.9 L530.1 74.5 L531.9 74.1 L533.8 73.9 L535.6 73.7 L537.4 73.6 L538.9 73.7 L540.4 73.8 L541.9 73.9 L543.4 74.2 L544.9 74.4 L546.4 74.7 L547.9 74.8 L549.4 74.7 L550.9 74.6 L552.4 74.5 L553.9 74.3 L555.4 74.2 L556.9 74.1 L558.4 74.0 L559.9 73.9 L561.4 73.8 L562.9 73.7 L564.4 73.7 L565.9 73.6 L567.4 73.6 L568.9 73.6 L570.4 73.5 L571.9 73.5 L573.4 73.6 L574.9 73.6 L576.4 73.5 L577.9 73.6 L579.3 73.6 L580.8 73.6 L582.3 73.6 L583.8 73.6 L585.3 73.7 L586.8 73.7 L588.2 73.7 L589.7 73.8 L591.2 73.8 L592.7 73.9 L594.2 73.9 L595.6 74.0 L597.1 74.0 L598.6 74.1 L600.1 74.0 L601.6 73.9 L603.1 73.8 L604.5 73.8 L606.0 73.7 L607.5 73.6 L609.0 73.6 L610.5 73.6 L611.9 73.7 L613.4 73.8 L614.8 73.9 L616.3 74.1 L617.8 74.3 L619.2 74.5 L620.7 74.5 L622.1 74.5 L623.6 74.5 L625.0 74.5 L626.5 74.5 L628.0 74.5 L629.4 74.5 L630.9 74.5 L632.3 74.5 L633.8 74.5 L635.2 74.5 L636.7 74.5 L638.2 74.4 L639.6 74.4 L641.1 74.4 L642.5 74.4 L644.0 74.4"/>
<path d="M493.6 79.7 L495.4 79.8 L497.2 79.9 L499.1 80.0 L500.9 80.1 L502.7 80.2 L504.6 80.3 L506.4 80.4 L508.2 80.5 L510.0 80.5 L511.9 80.6 L513.7 80.7 L515.5 80.8 L517.3 80.8 L519.1 80.8 L521.0 80.9 L522.8 80.9 L524.6 80.9 L526.5 80.9 L528.3 80.8 L530.1 80.7 L531.9 80.6 L533.8 80.6 L535.6 80.6 L537.4 80.6 L538.9 80.6 L540.4 80.6 L541.9 80.6 L543.4 80.6 L544.9 80.6 L546.4 80.6 L547.9 80.6 L549.4 80.5 L550.9 80.5 L552.4 80.4 L553.9 80.3 L555.4 80.1 L556.9 80.0 L558.4 79.9 L559.9 79.8 L561.4 79.6 L562.9 79.5 L564.4 79.4 L565.9 79.3 L567.4 79.1 L568.9 79.0 L570.4 78.9 L571.9 78.9 L573.4 78.8 L574.9 78.8 L576.4 78.8 L577.9 78.8 L579.3 78.8 L580.8 78.8 L582.3 78.8 L583.8 78.8 L585.3 78.8 L586.8 78.8 L588.2 78.7 L589.7 78.7 L591.2 78.6 L592.7 78.6 L594.2 78.5 L595.6 78.5 L597.1 78.4 L598.6 78.4 L600.1 78.8 L601.6 79.3 L603.1 79.8 L604.5 80.1 L606.0 80.4 L607.5 80.5 L609.0 80.6 L610.5 80.5 L611.9 80.4 L613.4 80.1 L614.8 79.7 L616.3 79.3 L617.8 78.8 L619.2 78.3 L620.7 78.4 L622.1 78.4 L623.6 78.5 L625.0 78.6 L626.5 78.7 L628.0 78.8 L629.4 78.9 L630.9 79.0 L632.3 79.1 L633.8 79.1 L635.2 79.2 L636.7 79.3 L638.2 79.4 L639.6 79.4 L641.1 79.5 L642.5 79.5 L644.0 79.5"/>
<path d="M493.6 75.4 L495.4 75.4 L497.2 75.4 L499.1 75.3 L500.9 75.3 L502.7 75.2 L504.6 75.2 L506.4 75.1 L508.2 75.0 L510.0 74.9 L511.9 74.8 L513.7 74.7 L515.5 74.5 L517.3 74.4 L519.1 74.3 L521.0 74.2 L522.8 74.1 L524.6 74.0 L526.5 73.9 L528.3 73.9 L530.1 73.9 L531.9 73.9 L533.8 74.0 L535.6 74.0 L537.4 74.0 L538.9 74.0 L540.4 74.0 L541.9 73.9 L543.4 73.9 L544.9 73.8 L546.4 73.7 L547.9 73.6 L549.4 73.6 L550.9 73.6 L552.4 73.7 L553.9 73.7 L555.4 73.7 L556.9 73.8 L558.4 73.9 L559.9 73.9 L561.4 74.0 L562.9 74.0 L564.4 74.1 L565.9 74.2 L567.4 74.2 L568.9 74.3 L570.4 74.3 L571.9 74.4 L573.4 74.4 L574.9 74.4 L576.4 74.4 L577.9 74.5 L579.3 74.5 L580.8 74.5 L582.3 74.6 L583.8 74.6 L585.3 74.7 L586.8 74.7 L588.2 74.8 L589.7 74.9 L591.2 74.9 L592.7 75.0 L594.2 75.0 L595.6 75.1 L597.1 75.1 L598.6 75.1 L600.1 74.9 L601.6 74.7 L603.1 74.4 L604.5 74.3 L606.0 74.1 L607.5 74.1 L609.0 74.0 L610.5 74.1 L611.9 74.1 L613.4 74.2 L614.8 74.4 L616.3 74.6 L617.8 74.8 L619.2 75.0 L620.7 75.0 L622.1 75.0 L623.6 75.0 L625.0 75.0 L626.5 75.1 L628.0 75.1 L629.4 75.1 L630.9 75.1 L632.3 75.1 L633.8 75.2 L635.2 75.2 L636.7 75.3 L638.2 75.3 L639.6 75.3 L641.1 75.4 L642.5 75.4 L644.0 75.4"/>
<path d="M493.6 78.2 L495.4 78.2 L497.2 78.2 L499.1 78.2 L500.9 78.2 L502.7 78.2 L504.6 78.1 L506.4 78.1 L508.2 78.0 L510.0 77.9 L511.9 77.9 L513.7 77.8 L515.5 77.7 L517.3 77.6 L519.1 77.6 L521.0 77.5 L522.8 77.4 L524.6 77.3 L526.5 77.3 L528.3 76.8 L530.1 76.0 L531.9 75.4 L533.8 75.0 L535.6 74.8 L537.4 74.7 L538.9 74.8 L540.4 74.9 L541.9 75.1 L543.4 75.4 L544.9 75.8 L546.4 76.2 L547.9 76.5 L549.4 76.4 L550.9 76.3 L552.4 76.2 L553.9 76.2 L555.4 76.1 L556.9 76.1 L558.4 76.1 L559.9 76.1 L561.4 76.0 L562.9 76.0 L564.4 76.1 L565.9 76.1 L567.4 76.1 L568.9 76.2 L570.4 76.2 L571.9 76.3 L573.4 76.3 L574.9 76.3 L576.4 76.2 L577.9 76.2 L579.3 76.2 L580.8 76.2 L582.3 76.3 L583.8 76.4 L585.3 76.5 L586.8 76.6 L588.2 76.7 L589.7 76.9 L591.2 77.0 L592.7 77.2 L594.2 77.4 L595.6 77.6 L597.1 77.8 L598.6 78.0 L600.1 77.4 L601.6 76.7 L603.1 76.0 L604.5 75.5 L606.0 75.1 L607.5 74.8 L609.0 74.7 L610.5 74.8 L611.9 75.1 L613.4 75.5 L614.8 76.1 L616.3 76.9 L617.8 77.9 L619.2 78.8 L620.7 78.7 L622.1 78.6 L623.6 78.6 L625.0 78.5 L626.5 78.4 L628.0 78.3 L629.4 78.2 L630.9 78.1 L632.3 78.0 L633.8 77.9 L635.2 77.8 L636.7 77.7 L638.2 77.7 L639.6 77.6 L641.1 77.5 L642.5 77.5 L644.0 77.5"/>
<path d="M493.6 72.9 L495.4 72.9 L497.2 72.9 L499.1 72.9 L500.9 72.9 L502.7 73.0 L504.6 73.1 L506.4 73.1 L508.2 73.3 L510.0 73.4 L511.9 73.5 L513.7 73.6 L515.5 73.8 L517.3 73.9 L519.1 74.1 L521.0 74.2 L522.8 74.4 L524.6 74.5 L526.5 74.6 L528.3 74.6 L530.1 74.4 L531.9 74.1 L533.8 74.0 L535.6 73.8 L537.4 73.8 L538.9 73.8 L540.4 73.9 L541.9 74.0 L543.4 74.1 L544.9 74.3 L546.4 74.4 L547.9 74.5 L549.4 74.4 L550.9 74.3 L552.4 74.3 L553.9 74.2 L555.4 74.1 L556.9 74.1 L558.4 74.1 L559.9 74.0 L561.4 74.0 L562.9 74.0 L564.4 74.0 L565.9 74.0 L567.4 74.0 L568.9 74.1 L570.4 74.1 L571.9 74.2 L573.4 74.3 L574.9 74.2 L576.4 74.2 L577.9 74.2 L579.3 74.2 L580.8 74.2 L582.3 74.2 L583.8 74.2 L585.3 74.3 L586.8 74.3 L588.2 74.4 L589.7 74.5 L591.2 74.6 L592.7 74.7 L594.2 74.8 L595.6 74.9 L597.1 75.0 L598.6 75.1 L600.1 74.9 L601.6 74.6 L603.1 74.4 L604.5 74.1 L606.0 73.9 L607.5 73.8 L609.0 73.8 L610.5 73.8 L611.9 73.9 L613.4 74.1 L614.8 74.3 L616.3 74.6 L617.8 74.8 L619.2 74.9 L620.7 74.8 L622.1 74.6 L623.6 74.4 L625.0 74.2 L626.5 74.0 L628.0 73.8 L629.4 73.6 L630.9 73.5 L632.3 73.3 L633.8 73.2 L635.2 73.1 L636.7 73.0 L638.2 72.9 L639.6 72.8 L641.1 72.8 L642.5 72.8 L644.0 72.8"/>
<path d="M493.6 75.0 L495.4 74.9 L497.2 74.9 L499.1 74.9 L500.9 74.9 L502.7 75.0 L504.6 75.0 L506.4 75.1 L508.2 75.1 L510.0 75.2 L511.9 75.3 L513.7 75.4 L515.5 75.6 L517.3 75.7 L519.1 75.8 L521.0 76.0 L522.8 76.1 L524.6 76.2 L526.5 76.4 L528.3 76.1 L530.1 75.4 L531.9 74.9 L533.8 74.5 L535.6 74.2 L537.4 74.1 L538.9 74.2 L540.4 74.4 L541.9 74.7 L543.4 75.2 L544.9 75.8 L546.4 76.5 L547.9 77.0 L549.4 77.0 L550.9 76.9 L552.4 76.8 L553.9 76.7 L555.4 76.5 L556.9 76.4 L558.4 76.2 L559.9 76.1 L561.4 75.9 L562.9 75.8 L564.4 75.6 L565.9 75.5 L567.4 75.3 L568.9 75.2 L570.4 75.1 L571.9 75.0 L573.4 74.9 L574.9 75.0 L576.4 75.1 L577.9 75.2 L579.3 75.3 L580.8 75.5 L582.3 75.6 L583.8 75.8 L585.3 76.0 L586.8 76.2 L588.2 76.3 L589.7 76.5 L591.2 76.7 L592.7 76.8 L594.2 77.0 L595.6 77.1 L597.1 77.2 L598.6 77.3 L600.1 76.7 L601.6 75.9 L603.1 75.3 L604.5 74.8 L606.0 74.4 L607.5 74.2 L609.0 74.1 L610.5 74.2 L611.9 74.4 L613.4 74.8 L614.8 75.3 L616.3 76.0 L617.8 76.8 L619.2 77.7 L620.7 77.7 L622.1 77.7 L623.6 77.6 L625.0 77.6 L626.5 77.6 L628.0 77.5 L629.4 77.5 L630.9 77.4 L632.3 77.4 L633.8 77.3 L635.2 77.2 L636.7 77.1 L638.2 77.1 L639.6 77.0 L641.1 76.9 L642.5 76.8 L644.0 76.7"/>
<path d="M493.6 75.6 L495.4 75.5 L497.2 75.5 L499.1 75.5 L500.9 75.5 L502.7 75.5 L504.6 75.5 L506.4 75.5 L508.2 75.5 L510.0 75.5 L511.9 75.6 L513.7 75.6 L515.5 75.7 L517.3 75.7 L519.1 75.7 L521.0 75.8 L522.8 75.9 L524.6 75.9 L526.5 76.0 L528.3 75.6 L530.1 75.0 L531.9 74.5 L533.8 74.1 L535.6 73.9 L537.4 73.8 L538.9 73.9 L540.4 74.0 L541.9 74.3 L543.4 74.5 L544.9 74.8 L546.4 75.1 L547.9 75.2 L549.4 75.0 L550.9 74.7 L552.4 74.5 L553.9 74.3 L555.4 74.0 L556.9 73.8 L558.4 73.6 L559.9 73.4 L561.4 73.3 L562.9 73.1 L564.4 73.0 L565.9 72.9 L567.4 72.8 L568.9 72.8 L570.4 72.7 L571.9 72.8 L573.4 72.8 L574.9 72.7 L576.4 72.7 L577.9 72.7 L579.3 72.7 L580.8 72.7 L582.3 72.8 L583.8 72.9 L585.3 73.0 L586.8 73.2 L588.2 73.3 L589.7 73.5 L591.2 73.7 L592.7 73.9 L594.2 74.1 L595.6 74.3 L597.1 74.5 L598.6 74.7 L600.1 74.7 L601.6 74.5 L603.1 74.3 L604.5 74.2 L606.0 74.0 L607.5 73.9 L609.0 73.8 L610.5 73.9 L611.9 74.0 L613.4 74.2 L614.8 74.4 L616.3 74.7 L617.8 75.0 L619.2 75.1 L620.7 75.0 L622.1 74.8 L623.6 74.6 L625.0 74.4 L626.5 74.2 L628.0 74.0 L629.4 73.8 L630.9 73.6 L632.3 73.5 L633.8 73.3 L635.2 73.2 L636.7 73.0 L638.2 72.9 L639.6 72.9 L641.1 72.8 L642.5 72.8 L644.0 72.8"/>
<path d="M493.6 76.7 L495.4 76.7 L497.2 76.6 L499.1 76.5 L500.9 76.4 L502.7 76.2 L504.6 76.0 L506.4 75.9 L508.2 75.7 L510.0 75.5 L511.9 75.3 L513.7 75.1 L515.5 74.9 L517.3 74.7 L519.1 74.5 L521.0 74.3 L522.8 74.1 L524.6 74.0 L526.5 73.9 L528.3 73.8 L530.1 73.8 L531.9 73.9 L533.8 74.0 L535.6 74.0 L537.4 74.0 L538.9 74.0 L540.4 74.0 L541.9 73.9 L543.4 73.8 L544.9 73.7 L546.4 73.5 L547.9 73.4 L549.4 73.4 L550.9 73.5 L552.4 73.5 L553.9 73.5 L555.4 73.6 L556.9 73.7 L558.4 73.8 L559.9 73.9 L561.4 74.0 L562.9 74.1 L564.4 74.2 L565.9 74.3 L567.4 74.4 L568.9 74.5 L570.4 74.6 L571.9 74.7 L573.4 74.8 L574.9 74.8 L576.4 74.9 L577.9 75.0 L579.3 75.0 L580.8 75.0 L582.3 75.1 L583.8 75.1 L585.3 75.1 L586.8 75.1 L588.2 75.0 L589.7 75.0 L591.2 74.9 L592.7 74.9 L594.2 74.8 L595.6 74.7 L597.1 74.6 L598.6 74.6 L600.1 74.4 L601.6 74.2 L603.1 74.1 L604.5 74.0 L606.0 74.0 L607.5 74.0 L609.0 74.0 L610.5 74.0 L611.9 74.0 L613.4 74.0 L614.8 74.1 L616.3 74.2 L617.8 74.3 L619.2 74.6 L620.7 74.7 L622.1 74.9 L623.6 75.1 L625.0 75.2 L626.5 75.4 L628.0 75.6 L629.4 75.7 L630.9 75.9 L632.3 76.0 L633.8 76.1 L635.2 76.2 L636.7 76.3 L638.2 76.4 L639.6 76.4 L641.1 76.5 L642.5 76.5 L644.0 76.4"/>
<path d="M493.6 75.1 L495.4 75.0 L497.2 75.0 L499.1 75.0 L500.9 75.1 L502.7 75.1 L504.6 75.2 L506.4 75.3 L508.2 75.4 L510.0 75.5 L511.9 75.6 L513.7 75.8 L515.5 75.9 L517.3 76.1 L519.1 76.3 L521.0 76.4 L522.8 76.6 L524.6 76.8 L526.5 76.9 L528.3 76.6 L530.1 75.9 L531.9 75.3 L533.8 74.9 L535.6 74.6 L537.4 74.5 L538.9 74.6 L540.4 74.8 L541.9 75.1 L543.4 75.6 L544.9 76.3 L546.4 77.1 L547.9 77.7 L549.4 77.7 L550.9 77.7 L552.4 77.8 L553.9 77.8 L555.4 77.8 L556.9 77.8 L558.4 77.8 L559.9 77.8 L561.4 77.8 L562.9 77.8 L564.4 77.8 L565.9 77.8 L567.4 77.8 L568.9 77.8 L570.4 77.8 L571.9 77.8 L573.4 77.8 L574.9 77.8 L576.4 77.8 L577.9 77.8 L579.3 77.8 L580.8 77.9 L582.3 77.9 L583.8 77.9 L585.3 77.9 L586.8 77.9 L588.2 77.8 L589.7 77.8 L591.2 77.8 L592.7 77.8 L594.2 77.8 L595.6 77.7 L597.1 77.7 L598.6 77.7 L600.1 77.0 L601.6 76.2 L603.1 75.6 L604.5 75.1 L606.0 74.8 L607.5 74.6 L609.0 74.5 L610.5 74.6 L611.9 74.7 L613.4 75.1 L614.8 75.5 L616.3 76.0 L617.8 76.7 L619.2 77.3 L620.7 77.2 L622.1 77.1 L623.6 77.1 L625.0 77.0 L626.5 76.9 L628.0 76.8 L629.4 76.7 L630.9 76.6 L632.3 76.5 L633.8 76.4 L635.2 76.3 L636.7 76.2 L638.2 76.1 L639.6 76.1 L641.1 76.0 L642.5 76.0 L644.0 76.0"/>
<path d="M493.6 78.3 L495.4 78.2 L497.2 78.2 L499.1 78.2 L500.9 78.2 L502.7 78.2 L504.6 78.2 L506.4 78.3 L508.2 78.3 L510.0 78.4 L511.9 78.4 L513.7 78.5 L515.5 78.6 L517.3 78.7 L519.1 78.8 L521.0 78.9 L522.8 79.0 L524.6 79.1 L526.5 79.2 L528.3 79.5 L530.1 79.8 L531.9 80.0 L533.8 80.1 L535.6 80.2 L537.4 80.2 L538.9 80.2 L540.4 80.2 L541.9 80.1 L543.4 80.1 L544.9 80.0 L546.4 79.8 L547.9 79.7 L549.4 79.6 L550.9 79.6 L552.4 79.5 L553.9 79.4 L555.4 79.3 L556.9 79.1 L558.4 79.0 L559.9 78.9 L561.4 78.8 L562.9 78.6 L564.4 78.5 L565.9 78.4 L567.4 78.3 L568.9 78.2 L570.4 78.1 L571.9 78.0 L573.4 77.9 L574.9 77.9 L576.4 77.8 L577.9 77.7 L579.3 77.7 L580.8 77.6 L582.3 77.4 L583.8 77.3 L585.3 77.2 L586.8 77.1 L588.2 76.9 L589.7 76.8 L591.2 76.7 L592.7 76.5 L594.2 76.4 L595.6 76.3 L597.1 76.2 L598.6 76.1 L600.1 76.9 L601.6 77.9 L603.1 78.7 L604.5 79.4 L606.0 79.8 L607.5 80.1 L609.0 80.2 L610.5 80.1 L611.9 79.9 L613.4 79.4 L614.8 78.8 L616.3 78.0 L617.8 77.0 L619.2 76.1 L620.7 76.2 L622.1 76.3 L623.6 76.5 L625.0 76.6 L626.5 76.8 L628.0 76.9 L629.4 77.1 L630.9 77.2 L632.3 77.4 L633.8 77.5 L635.2 77.7 L636.7 77.8 L638.2 78.0 L639.6 78.1 L641.1 78.2 L642.5 78.2 L644.0 78.3"/>
<path d="M493.6 75.6 L495.4 75.7 L497.2 75.7 L499.1 75.8 L500.9 75.9 L502.7 76.0 L504.6 76.0 L506.4 76.1 L508.2 76.1 L510.0 76.2 L511.9 76.2 L513.7 76.2 L515.5 76.2 L517.3 76.2 L519.1 76.2 L521.0 76.2 L522.8 76.2 L524.6 76.2 L526.5 76.1 L528.3 75.8 L530.1 75.2 L531.9 74.8 L533.8 74.5 L535.6 74.3 L537.4 74.3 L538.9 74.3 L540.4 74.4 L541.9 74.5 L543.4 74.7 L544.9 74.9 L546.4 75.2 L547.9 75.3 L549.4 75.3 L550.9 75.2 L552.4 75.2 L553.9 75.1 L555.4 75.1 L556.9 75.0 L558.4 75.0 L559.9 75.0 L561.4 74.9 L562.9 74.9 L564.4 74.9 L565.9 74.9 L567.4 74.9 L568.9 75.0 L570.4 75.0 L571.9 75.0 L573.4 75.1 L574.9 75.0 L576.4 74.9 L577.9 74.8 L579.3 74.7 L580.8 74.6 L582.3 74.5 L583.8 74.4 L585.3 74.3 L586.8 74.2 L588.2 74.1 L589.7 74.0 L591.2 74.0 L592.7 73.9 L594.2 73.8 L595.6 73.8 L597.1 73.8 L598.6 73.8 L600.1 73.9 L601.6 74.0 L603.1 74.1 L604.5 74.2 L606.0 74.2 L607.5 74.3 L609.0 74.3 L610.5 74.3 L611.9 74.2 L613.4 74.2 L614.8 74.2 L616.3 74.3 L617.8 74.4 L619.2 74.6 L620.7 74.8 L622.1 75.0 L623.6 75.1 L625.0 75.3 L626.5 75.5 L628.0 75.8 L629.4 76.0 L630.9 76.1 L632.3 76.3 L633.8 76.5 L635.2 76.7 L636.7 76.8 L638.2 76.9 L639.6 77.0 L641.1 77.1 L642.5 77.1 L644.0 77.1"/>
<path d="M493.6 76.4 L495.4 76.4 L497.2 76.5 L499.1 76.5 L500.9 76.6 L502.7 76.7 L504.6 76.9 L506.4 77.0 L508.2 77.1 L510.0 77.3 L511.9 77.4 L513.7 77.6 L515.5 77.7 L517.3 77.9 L519.1 78.0 L521.0 78.1 L522.8 78.3 L524.6 78.4 L526.5 78.4 L528.3 77.9 L530.1 76.8 L531.9 75.9 L533.8 75.3 L535.6 74.9 L537.4 74.7 L538.9 74.8 L540.4 75.1 L541.9 75.5 L543.4 76.2 L544.9 77.0 L546.4 78.0 L547.9 78.8 L549.4 78.8 L550.9 78.8 L552.4 78.8 L553.9 78.8 L555.4 78.8 L556.9 78.8 L558.4 78.7 L559.9 78.7 L561.4 78.7 L562.9 78.6 L564.4 78.6 L565.9 78.5 L567.4 78.5 L568.9 78.4 L570.4 78.4 L571.9 78.3 L573.4 78.2 L574.9 78.2 L576.4 78.2 L577.9 78.2 L579.3 78.1 L580.8 78.1 L582.3 78.1 L583.8 78.1 L585.3 78.1 L586.8 78.1 L588.2 78.1 L589.7 78.1 L591.2 78.1 L592.7 78.1 L594.2 78.2 L595.6 78.2 L597.1 78.2 L598.6 78.3 L600.1 77.6 L601.6 76.7 L603.1 76.0 L604.5 75.5 L606.0 75.1 L607.5 74.8 L609.0 74.7 L610.5 74.8 L611.9 75.0 L613.4 75.4 L614.8 75.9 L616.3 76.5 L617.8 77.1 L619.2 77.7 L620.7 77.6 L622.1 77.5 L623.6 77.3 L625.0 77.2 L626.5 77.1 L628.0 77.0 L629.4 76.9 L630.9 76.8 L632.3 76.8 L633.8 76.7 L635.2 76.7 L636.7 76.7 L638.2 76.7 L639.6 76.7 L641.1 76.8 L642.5 76.8 L644.0 76.9"/>
<path d="M493.6 77.4 L495.4 77.5 L497.2 77.6 L499.1 77.6 L500.9 77.7 L502.7 77.8 L504.6 77.9 L506.4 78.0 L508.2 78.1 L510.0 78.2 L511.9 78.3 L513.7 78.4 L515.5 78.4 L517.3 78.5 L519.1 78.6 L521.0 78.6 L522.8 78.7 L524.6 78.7 L526.5 78.8 L528.3 79.0 L530.1 79.5 L531.9 79.9 L533.8 80.1 L535.6 80.3 L537.4 80.3 L538.9 80.3 L540.4 80.2 L541.9 80.0 L543.4 79.8 L544.9 79.5 L546.4 79.1 L547.9 78.8 L549.4 78.8 L550.9 78.7 L552.4 78.6 L553.9 78.5 L555.4 78.4 L556.9 78.3 L558.4 78.1 L559.9 78.0 L561.4 77.9 L562.9 77.7 L564.4 77.6 L565.9 77.4 L567.4 77.3 L568.9 77.1 L570.4 77.0 L571.9 76.9 L573.4 76.8 L574.9 76.8 L576.4 76.9 L577.9 76.9 L579.3 76.9 L580.8 77.0 L582.3 77.0 L583.8 77.1 L585.3 77.1 L586.8 77.2 L588.2 77.3 L589.7 77.3 L591.2 77.4 L592.7 77.5 L594.2 77.6 L595.6 77.6 L597.1 77.7 L598.6 77.8 L600.1 78.3 L601.6 79.0 L603.1 79.5 L604.5 79.9 L606.0 80.1 L607.5 80.3 L609.0 80.3 L610.5 80.3 L611.9 80.1 L613.4 79.9 L614.8 79.6 L616.3 79.2 L617.8 78.7 L619.2 78.3 L620.7 78.4 L622.1 78.5 L623.6 78.6 L625.0 78.7 L626.5 78.8 L628.0 78.9 L629.4 78.9 L630.9 79.0 L632.3 79.1 L633.8 79.1 L635.2 79.2 L636.7 79.2 L638.2 79.3 L639.6 79.3 L641.1 79.3 L642.5 79.3 L644.0 79.3"/>
<path d="M493.6 79.7 L495.4 79.7 L497.2 79.8 L499.1 79.8 L500.9 79.8 L502.7 79.8 L504.6 79.8 L506.4 79.8 L508.2 79.8 L510.0 79.8 L511.9 79.8 L513.7 79.8 L515.5 79.9 L517.3 79.9 L519.1 79.9 L521.0 79.9 L522.8 79.9 L524.6 79.9 L526.5 79.9 L528.3 80.0 L530.1 80.2 L531.9 80.4 L533.8 80.5 L535.6 80.6 L537.4 80.6 L538.9 80.6 L540.4 80.5 L541.9 80.4 L543.4 80.3 L544.9 80.1 L546.4 79.7 L547.9 79.4 L549.4 79.3 L550.9 79.2 L552.4 79.1 L553.9 78.9 L555.4 78.8 L556.9 78.7 L558.4 78.6 L559.9 78.5 L561.4 78.4 L562.9 78.3 L564.4 78.2 L565.9 78.1 L567.4 78.1 L568.9 78.0 L570.4 78.0 L571.9 78.0 L573.4 78.0 L574.9 78.0 L576.4 78.1 L577.9 78.1 L579.3 78.2 L580.8 78.3 L582.3 78.4 L583.8 78.6 L585.3 78.7 L586.8 78.9 L588.2 79.0 L589.7 79.2 L591.2 79.4 L592.7 79.5 L594.2 79.7 L595.6 79.9 L597.1 80.0 L598.6 80.2 L600.1 80.4 L601.6 80.5 L603.1 80.6 L604.5 80.6 L606.0 80.6 L607.5 80.6 L609.0 80.6 L610.5 80.6 L611.9 80.6 L613.4 80.5 L614.8 80.5 L616.3 80.3 L617.8 80.0 L619.2 79.6 L620.7 79.4 L622.1 79.1 L623.6 78.9 L625.0 78.6 L626.5 78.4 L628.0 78.2 L629.4 78.0 L630.9 77.8 L632.3 77.6 L633.8 77.4 L635.2 77.3 L636.7 77.2 L638.2 77.1 L639.6 77.1 L641.1 77.0 L642.5 77.1 L644.0 77.1"/>
<path d="M493.6 74.4 L495.4 74.4 L497.2 74.3 L499.1 74.3 L500.9 74.3 L502.7 74.2 L504.6 74.2 L506.4 74.2 L508.2 74.2 L510.0 74.2 L511.9 74.2 L513.7 74.2 L515.5 74.2 L517.3 74.3 L519.1 74.3 L521.0 74.3 L522.8 74.4 L524.6 74.4 L526.5 74.4 L528.3 74.4 L530.1 74.3 L531.9 74.1 L533.8 74.0 L535.6 74.0 L537.4 74.0 L538.9 74.0 L540.4 74.0 L541.9 74.1 L543.4 74.1 L544.9 74.1 L546.4 74.1 L547.9 74.0 L549.4 73.9 L550.9 73.8 L552.4 73.7 L553.9 73.6 L555.4 73.6 L556.9 73.5 L558.4 73.5 L559.9 73.4 L561.4 73.4 L562.9 73.4 L564.4 73.4 L565.9 73.4 L567.4 73.5 L568.9 73.5 L570.4 73.6 L571.9 73.6 L573.4 73.7 L574.9 73.7 L576.4 73.7 L577.9 73.7 L579.3 73.7 L580.8 73.7 L582.3 73.7 L583.8 73.6 L585.3 73.6 L586.8 73.6 L588.2 73.6 L589.7 73.5 L591.2 73.5 L592.7 73.4 L594.2 73.4 L595.6 73.4 L597.1 73.3 L598.6 73.3 L600.1 73.4 L601.6 73.6 L603.1 73.7 L604.5 73.8 L606.0 73.9 L607.5 73.9 L609.0 74.0 L610.5 73.9 L611.9 73.9 L613.4 73.8 L614.8 73.8 L616.3 73.8 L617.8 73.8 L619.2 73.8 L620.7 74.0 L622.1 74.1 L623.6 74.2 L625.0 74.4 L626.5 74.5 L628.0 74.6 L629.4 74.7 L630.9 74.8 L632.3 74.9 L633.8 75.0 L635.2 75.0 L636.7 75.1 L638.2 75.1 L639.6 75.1 L641.1 75.1 L642.5 75.1 L644.0 75.1"/>
<path d="M493.6 77.8 L495.4 77.9 L497.2 77.9 L499.1 78.0 L500.9 78.0 L502.7 78.1 L504.6 78.1 L506.4 78.2 L508.2 78.2 L510.0 78.3 L511.9 78.3 L513.7 78.3 L515.5 78.3 L517.3 78.3 L519.1 78.3 L521.0 78.3 L522.8 78.3 L524.6 78.3 L526.5 78.3 L528.3 78.6 L530.1 79.3 L531.9 79.8 L533.8 80.2 L535.6 80.4 L537.4 80.5 L538.9 80.4 L540.4 80.3 L541.9 80.0 L543.4 79.6 L544.9 79.1 L546.4 78.5 L547.9 78.0 L549.4 78.0 L550.9 77.9 L552.4 77.9 L553.9 77.8 L555.4 77.7 L556.9 77.7 L558.4 77.6 L559.9 77.5 L561.4 77.4 L562.9 77.3 L564.4 77.2 L565.9 77.1 L567.4 77.1 L568.9 77.0 L570.4 76.9 L571.9 76.9 L573.4 76.8 L574.9 76.9 L576.4 76.9 L577.9 77.0 L579.3 77.1 L580.8 77.1 L582.3 77.2 L583.8 77.2 L585.3 77.3 L586.8 77.3 L588.2 77.4 L589.7 77.4 L591.2 77.5 L592.7 77.5 L594.2 77.5 L595.6 77.5 L597.1 77.5 L598.6 77.5 L600.1 78.1 L601.6 78.8 L603.1 79.4 L604.5 79.9 L606.0 80.2 L607.5 80.4 L609.0 80.5 L610.5 80.4 L611.9 80.2 L613.4 79.8 L614.8 79.4 L616.3 78.8 L617.8 78.1 L619.2 77.5 L620.7 77.6 L622.1 77.8 L623.6 77.9 L625.0 78.1 L626.5 78.2 L628.0 78.4 L629.4 78.6 L630.9 78.8 L632.3 78.9 L633.8 79.1 L635.2 79.2 L636.7 79.4 L638.2 79.5 L639.6 79.6 L641.1 79.7 L642.5 79.8 L644.0 79.8"/>
<path d="M493.6 72.7 L495.4 72.7 L497.2 72.7 L499.1 72.7 L500.9 72.7 L502.7 72.8 L504.6 72.9 L506.4 73.0 L508.2 73.1 L510.0 73.3 L511.9 73.4 L513.7 73.6 L515.5 73.7 L517.3 73.9 L519.1 74.1 L521.0 74.3 L522.8 74.5 L524.6 74.6 L526.5 74.8 L528.3 74.8 L530.1 74.5 L531.9 74.3 L533.8 74.1 L535.6 73.9 L537.4 73.9 L538.9 73.9 L540.4 74.0 L541.9 74.2 L543.4 74.5 L544.9 74.8 L546.4 75.1 L547.9 75.4 L549.4 75.3 L550.9 75.2 L552.4 75.0 L553.9 74.9 L555.4 74.7 L556.9 74.5 L558.4 74.4 L559.9 74.2 L561.4 74.0 L562.9 73.8 L564.4 73.6 L565.9 73.5 L567.4 73.3 L568.9 73.2 L570.4 73.1 L571.9 72.9 L573.4 72.9 L574.9 72.9 L576.4 73.0 L577.9 73.2 L579.3 73.3 L580.8 73.4 L582.3 73.6 L583.8 73.8 L585.3 73.9 L586.8 74.1 L588.2 74.3 L589.7 74.4 L591.2 74.6 L592.7 74.7 L594.2 74.9 L595.6 75.0 L597.1 75.1 L598.6 75.2 L600.1 74.9 L601.6 74.6 L603.1 74.4 L604.5 74.2 L606.0 74.0 L607.5 73.9 L609.0 73.9 L610.5 73.9 L611.9 74.0 L613.4 74.1 L614.8 74.2 L616.3 74.4 L617.8 74.6 L619.2 74.7 L620.7 74.6 L622.1 74.6 L623.6 74.5 L625.0 74.5 L626.5 74.5 L628.0 74.4 L629.4 74.4 L630.9 74.4 L632.3 74.4 L633.8 74.4 L635.2 74.4 L636.7 74.5 L638.2 74.5 L639.6 74.5 L641.1 74.6 L642.5 74.6 L644.0 74.7"/>
<path d="M493.6 78.9 L495.4 78.9 L497.2 78.9 L499.1 78.9 L500.9 78.9 L502.7 78.9 L504.6 78.9 L506.4 78.8 L508.2 78.8 L510.0 78.7 L511.9 78.7 L513.7 78.6 L515.5 78.5 L517.3 78.5 L519.1 78.4 L521.0 78.4 L522.8 78.3 L524.6 78.2 L526.5 78.2 L528.3 78.5 L530.1 79.2 L531.9 79.7 L533.8 80.0 L535.6 80.3 L537.4 80.3 L538.9 80.3 L540.4 80.1 L541.9 79.9 L543.4 79.5 L544.9 79.0 L546.4 78.4 L547.9 77.9 L549.4 77.9 L550.9 77.9 L552.4 77.9 L553.9 77.8 L555.4 77.8 L556.9 77.8 L558.4 77.8 L559.9 77.7 L561.4 77.7 L562.9 77.7 L564.4 77.7 L565.9 77.6 L567.4 77.6 L568.9 77.6 L570.4 77.6 L571.9 77.6 L573.4 77.6 L574.9 77.7 L576.4 77.7 L577.9 77.9 L579.3 78.0 L580.8 78.1 L582.3 78.3 L583.8 78.5 L585.3 78.6 L586.8 78.8 L588.2 79.0 L589.7 79.2 L591.2 79.4 L592.7 79.6 L594.2 79.7 L595.6 79.9 L597.1 80.0 L598.6 80.2 L600.1 80.3 L601.6 80.3 L603.1 80.4 L604.5 80.4 L606.0 80.4 L607.5 80.4 L609.0 80.3 L610.5 80.3 L611.9 80.3 L613.4 80.3 L614.8 80.3 L616.3 80.3 L617.8 80.2 L619.2 80.0 L620.7 79.9 L622.1 79.9 L623.6 79.8 L625.0 79.7 L626.5 79.6 L628.0 79.5 L629.4 79.4 L630.9 79.3 L632.3 79.3 L633.8 79.2 L635.2 79.1 L636.7 79.1 L638.2 79.1 L639.6 79.0 L641.1 79.0 L642.5 79.0 L644.0 79.0"/>
<path d="M493.6 74.2 L495.4 74.2 L497.2 74.3 L499.1 74.3 L500.9 74.4 L502.7 74.4 L504.6 74.5 L506.4 74.5 L508.2 74.5 L510.0 74.5 L511.9 74.4 L513.7 74.4 L515.5 74.4 L517.3 74.3 L519.1 74.3 L521.0 74.2 L522.8 74.2 L524.6 74.1 L526.5 74.0 L528.3 73.9 L530.1 73.8 L531.9 73.7 L533.8 73.7 L535.6 73.7 L537.4 73.7 L538.9 73.7 L540.4 73.7 L541.9 73.6 L543.4 73.6 L544.9 73.5 L546.4 73.5 L547.9 73.4 L549.4 73.5 L550.9 73.6 L552.4 73.7 L553.9 73.8 L555.4 73.9 L556.9 74.0 L558.4 74.1 L559.9 74.3 L561.4 74.4 L562.9 74.5 L564.4 74.7 L565.9 74.8 L567.4 74.9 L568.9 75.0 L570.4 75.1 L571.9 75.2 L573.4 75.3 L574.9 75.2 L576.4 75.1 L577.9 75.1 L579.3 75.0 L580.8 74.9 L582.3 74.8 L583.8 74.7 L585.3 74.6 L586.8 74.6 L588.2 74.5 L589.7 74.5 L591.2 74.4 L592.7 74.4 L594.2 74.3 L595.6 74.3 L597.1 74.3 L598.6 74.3 L600.1 74.2 L601.6 74.1 L603.1 73.9 L604.5 73.8 L606.0 73.7 L607.5 73.7 L609.0 73.7 L610.5 73.7 L611.9 73.8 L613.4 73.9 L614.8 74.1 L616.3 74.3 L617.8 74.5 L619.2 74.8 L620.7 74.7 L622.1 74.7 L623.6 74.6 L625.0 74.5 L626.5 74.4 L628.0 74.3 L629.4 74.2 L630.9 74.0 L632.3 73.9 L633.8 73.8 L635.2 73.7 L636.7 73.5 L638.2 73.4 L639.6 73.3 L641.1 73.2 L642.5 73.1 L644.0 73.0"/>
<path d="M493.6 96.4 L495.4 96.4 L497.2 96.4 L499.1 96.4 L500.9 96.4 L502.7 96.4 L504.6 96.4 L506.4 96.4 L508.2 96.4 L510.0 96.4 L511.9 96.4 L513.7 96.4 L515.5 96.3 L517.3 95.0 L519.1 93.9 L521.0 92.8 L522.8 91.9 L524.6 91.1 L526.5 90.3 L528.3 89.7 L530.1 89.2 L531.9 88.9 L533.8 88.6 L535.6 88.4 L537.4 88.4 L538.9 88.4 L540.4 88.5 L541.9 88.7 L543.4 89.0 L544.9 89.3 L546.4 89.7 L547.9 90.2 L549.4 90.7 L550.9 91.3 L552.4 92.0 L553.9 92.7 L555.4 93.5 L556.9 94.3 L558.4 95.3 L559.9 95.9 L561.4 95.8 L562.9 95.8 L564.4 95.8 L565.9 95.7 L567.4 95.7 L568.9 95.7 L570.4 95.7 L571.9 95.7 L573.4 95.7 L574.9 95.7 L576.4 95.7 L577.9 95.7 L579.3 95.7 L580.8 95.7 L582.3 95.8 L583.8 95.8 L585.3 95.8 L586.8 95.9 L588.2 95.1 L589.7 94.2 L591.2 93.4 L592.7 92.6 L594.2 91.9 L595.6 91.2 L597.1 90.6 L598.6 90.1 L600.1 89.7 L601.6 89.3 L603.1 88.9 L604.5 88.7 L606.0 88.5 L607.5 88.4 L609.0 88.4 L610.5 88.4 L611.9 88.5 L613.4 88.7 L614.8 88.9 L616.3 89.2 L617.8 89.6 L619.2 90.1 L620.7 90.6 L622.1 91.2 L623.6 91.9 L625.0 92.6 L626.5 93.4 L628.0 94.3 L629.4 95.3 L630.9 96.3 L632.3 96.4 L633.8 96.4 L635.2 96.4 L636.7 96.4 L638.2 96.4 L639.6 96.4 L641.1 96.4 L642.5 96.4 L644.0 96.4"/>
<path d="M493.6 95.3 L495.4 95.3 L497.2 95.3 L499.1 95.3 L500.9 95.3 L502.7 95.3 L504.6 95.3 L506.4 95.3 L508.2 95.3 L510.0 95.3 L511.9 95.3 L513.7 95.3 L515.5 95.3 L517.3 94.0 L519.1 92.9 L521.0 91.9 L522.8 91.0 L524.6 90.2 L526.5 89.6 L528.3 89.0 L530.1 88.5 L531.9 88.1 L533.8 87.9 L535.6 87.7 L537.4 87.7 L538.9 87.7 L540.4 87.8 L541.9 88.0 L543.4 88.2 L544.9 88.5 L546.4 88.9 L547.9 89.4 L549.4 89.9 L550.9 90.5 L552.4 91.1 L553.9 91.8 L555.4 92.6 L556.9 93.4 L558.4 94.2 L559.9 94.8 L561.4 94.8 L562.9 94.8 L564.4 94.7 L565.9 94.7 L567.4 94.7 L568.9 94.7 L570.4 94.6 L571.9 94.6 L573.4 94.6 L574.9 94.6 L576.4 94.6 L577.9 94.7 L579.3 94.7 L580.8 94.7 L582.3 94.7 L583.8 94.8 L585.3 94.8 L586.8 94.8 L588.2 94.1 L589.7 93.2 L591.2 92.5 L592.7 91.7 L594.2 91.0 L595.6 90.4 L597.1 89.8 L598.6 89.3 L600.1 88.9 L601.6 88.5 L603.1 88.2 L604.5 88.0 L606.0 87.8 L607.5 87.7 L609.0 87.7 L610.5 87.7 L611.9 87.8 L613.4 88.0 L614.8 88.2 L616.3 88.5 L617.8 88.9 L619.2 89.3 L620.7 89.8 L622.1 90.4 L623.6 91.0 L625.0 91.7 L626.5 92.5 L628.0 93.4 L629.4 94.3 L630.9 95.2 L632.3 95.3 L633.8 95.3 L635.2 95.3 L636.7 95.3 L638.2 95.3 L639.6 95.3 L641.1 95.3 L642.5 95.3 L644.0 95.3"/>
<path d="M493.6 94.3 L495.4 94.3 L497.2 94.3 L499.1 94.3 L500.9 94.3 L502.7 94.3 L504.6 94.3 L506.4 94.3 L508.2 94.3 L510.0 94.3 L511.9 94.3 L513.7 94.3 L515.5 94.2 L517.3 93.1 L519.1 92.0 L521.0 91.0 L522.8 90.2 L524.6 89.4 L526.5 88.8 L528.3 88.2 L530.1 87.8 L531.9 87.4 L533.8 87.2 L535.6 87.0 L537.4 87.0 L538.9 87.0 L540.4 87.1 L541.9 87.3 L543.4 87.5 L544.9 87.8 L546.4 88.2 L547.9 88.6 L549.4 89.1 L550.9 89.6 L552.4 90.2 L553.9 90.9 L555.4 91.6 L556.9 92.4 L558.4 93.2 L559.9 93.8 L561.4 93.8 L562.9 93.7 L564.4 93.7 L565.9 93.7 L567.4 93.6 L568.9 93.6 L570.4 93.6 L571.9 93.6 L573.4 93.6 L574.9 93.6 L576.4 93.6 L577.9 93.6 L579.3 93.6 L580.8 93.7 L582.3 93.7 L583.8 93.7 L585.3 93.8 L586.8 93.8 L588.2 93.1 L589.7 92.3 L591.2 91.5 L592.7 90.8 L594.2 90.2 L595.6 89.6 L597.1 89.0 L598.6 88.6 L600.1 88.2 L601.6 87.8 L603.1 87.5 L604.5 87.3 L606.0 87.1 L607.5 87.0 L609.0 87.0 L610.5 87.0 L611.9 87.1 L613.4 87.3 L614.8 87.5 L616.3 87.8 L617.8 88.1 L619.2 88.5 L620.7 89.0 L622.1 89.6 L623.6 90.2 L625.0 90.9 L626.5 91.6 L628.0 92.4 L629.4 93.3 L630.9 94.2 L632.3 94.3 L633.8 94.3 L635.2 94.3 L636.7 94.3 L638.2 94.3 L639.6 94.3 L641.1 94.3 L642.5 94.3 L644.0 94.3"/>
<path d="M493.6 97.1 L498.0 97.1 L502.4 97.2 L506.7 97.3 L511.1 97.4 L515.5 97.6 L519.9 97.7 L524.3 97.9 L528.6 98.0 L533.0 98.1 L537.4 98.1 L541.0 98.1 L544.6 98.0 L548.2 97.8 L551.8 97.6 L555.4 97.4 L559.0 97.2 L562.6 97.0 L566.2 96.8 L569.8 96.8 L573.4 96.7 L577.0 96.8 L580.5 96.8 L584.1 97.0 L587.6 97.2 L591.2 97.4 L594.8 97.6 L598.3 97.8 L601.9 98.0 L605.4 98.1 L609.0 98.1 L612.5 98.1 L616.0 98.0 L619.5 97.9 L623.0 97.7 L626.5 97.6 L630.0 97.4 L633.5 97.3 L637.0 97.2 L640.5 97.1 L644.0 97.1"/>
<path d="M493.6 17.0 L498.0 16.9 L502.4 16.5 L506.7 15.9 L511.1 15.1 L515.5 14.2 L519.9 13.4 L524.3 12.6 L528.6 12.0 L533.0 11.6 L537.4 11.5 L541.0 11.6 L544.6 12.0 L548.2 12.6 L551.8 13.4 L555.4 14.2 L559.0 15.1 L562.6 15.9 L566.2 16.5 L569.8 16.9 L573.4 17.0 L577.0 16.9 L580.5 16.5 L584.1 15.9 L587.6 15.1 L591.2 14.2 L594.8 13.4 L598.3 12.6 L601.9 12.0 L605.4 11.6 L609.0 11.5 L612.5 11.6 L616.0 12.0 L619.5 12.6 L623.0 13.4 L626.5 14.2 L630.0 15.1 L633.5 15.9 L637.0 16.5 L640.5 16.9 L644.0 17.0"/>
<path d="M493.6 13.5 L498.0 13.7 L502.4 14.0 L506.7 14.5 L511.1 15.1 L515.5 15.8 L519.9 16.5 L524.3 17.1 L528.6 17.6 L533.0 18.0 L537.4 18.1 L541.0 18.0 L544.6 17.6 L548.2 17.1 L551.8 16.5 L555.4 15.8 L559.0 15.1 L562.6 14.5 L566.2 14.0 L569.8 13.7 L573.4 13.5 L577.0 13.7 L580.5 14.0 L584.1 14.5 L587.6 15.1 L591.2 15.8 L594.8 16.5 L598.3 17.1 L601.9 17.6 L605.4 18.0 L609.0 18.1 L612.5 18.0 L616.0 17.7 L619.5 17.3 L623.0 16.7 L626.5 16.2 L630.0 15.6 L633.5 15.0 L637.0 14.6 L640.5 14.3 L644.0 14.2"/>
<path d="M493.6 8.0 L498.0 7.8 L502.4 7.3 L506.7 6.5 L511.1 5.6 L515.5 4.5 L519.9 3.4 L524.3 2.5 L528.6 1.7 L533.0 1.2 L537.4 1.0 L541.0 1.2 L544.6 1.7 L548.2 2.6 L551.8 3.7 L555.4 4.8 L559.0 6.0 L562.6 7.1 L566.2 7.9 L569.8 8.5 L573.4 8.7 L577.0 8.5 L580.5 7.9 L584.1 7.1 L587.6 6.0 L591.2 4.8 L594.8 3.7 L598.3 2.6 L601.9 1.7 L605.4 1.2 L609.0 1.0 L612.5 1.2 L616.0 1.7 L619.5 2.5 L623.0 3.4 L626.5 4.5 L630.0 5.6 L633.5 6.5 L637.0 7.3 L640.5 7.8 L644.0 8.0"/>
<path d="M493.6 19.1 L498.0 19.1 L502.4 19.2 L506.7 19.3 L511.1 19.4 L515.5 19.5 L519.9 19.6 L524.3 19.7 L528.6 19.7 L533.0 19.8 L537.4 19.8 L541.0 19.8 L544.6 19.7 L548.2 19.6 L551.8 19.4 L555.4 19.3 L559.0 19.1 L562.6 19.0 L566.2 18.9 L569.8 18.8 L573.4 18.8 L577.0 18.8 L580.5 18.9 L584.1 19.0 L587.6 19.1 L591.2 19.3 L594.8 19.4 L598.3 19.6 L601.9 19.7 L605.4 19.8 L609.0 19.8 L612.5 19.8 L616.0 19.7 L619.5 19.7 L623.0 19.6 L626.5 19.5 L630.0 19.4 L633.5 19.3 L637.0 19.2 L640.5 19.1 L644.0 19.1"/>
<path d="M493.6 4.5 L498.0 4.5 L502.4 4.7 L506.7 4.9 L511.1 5.2 L515.5 5.5 L519.9 5.9 L524.3 6.2 L528.6 6.4 L533.0 6.5 L537.4 6.6 L541.0 6.5 L544.6 6.4 L548.2 6.2 L551.8 5.9 L555.4 5.5 L559.0 5.2 L562.6 4.9 L566.2 4.7 L569.8 4.5 L573.4 4.5 L577.0 4.5 L580.5 4.7 L584.1 4.9 L587.6 5.2 L591.2 5.5 L594.8 5.9 L598.3 6.2 L601.9 6.4 L605.4 6.5 L609.0 6.6 L612.5 6.5 L616.0 6.4 L619.5 6.2 L623.0 5.9 L626.5 5.5 L630.0 5.2 L633.5 4.9 L637.0 4.7 L640.5 4.5 L644.0 4.5"/>
</g>
<g clip-path="url(#clipC)">
<path d="M493.60 124.90 C496.33 125.08 504.77 125.31 510.00 125.95 C515.23 126.59 520.43 128.14 525.00 128.73 C529.57 129.32 533.23 129.79 537.40 129.50 C541.57 129.21 545.90 128.11 550.00 126.99 C554.10 125.88 558.10 123.93 562.00 122.82 C565.90 121.70 571.50 120.73 573.40 120.31" fill="none" stroke="#f7b9b9" stroke-width="0.75" stroke-linejoin="round"/>
<path d="M573.40 126.02 C574.50 125.72 577.23 124.16 580.00 124.21 C582.77 124.25 586.67 125.54 590.00 126.30 C593.33 127.05 596.83 128.20 600.00 128.73 C603.17 129.27 605.67 129.56 609.00 129.50 C612.33 129.44 616.17 128.92 620.00 128.38 C623.83 127.85 628.00 126.76 632.00 126.30 C636.00 125.83 642.00 125.72 644.00 125.60" fill="none" stroke="#f7b9b9" stroke-width="0.75" stroke-linejoin="round"/>
<path d="M493.60 137.43 C495.83 137.14 502.60 135.23 507.00 135.69 C511.40 136.16 514.93 138.46 520.00 140.22 C525.07 141.97 532.40 145.74 537.40 146.20 C542.40 146.67 545.90 144.58 550.00 143.00 C554.10 141.42 558.10 138.53 562.00 136.74 C565.90 134.94 571.50 132.97 573.40 132.21" fill="none" stroke="#f7b9b9" stroke-width="0.75" stroke-linejoin="round"/>
<path d="M573.40 138.62 C574.50 138.42 577.23 137.17 580.00 137.43 C582.77 137.70 586.67 139.06 590.00 140.22 C593.33 141.38 596.83 143.39 600.00 144.39 C603.17 145.39 605.67 146.43 609.00 146.20 C612.33 145.97 616.17 144.58 620.00 143.00 C623.83 141.42 628.00 138.53 632.00 136.74 C636.00 134.94 642.00 132.97 644.00 132.21" fill="none" stroke="#f7b9b9" stroke-width="0.75" stroke-linejoin="round"/>
<path d="M493.60 115.51 C494.67 115.01 498.10 114.00 500.00 112.52 C501.90 111.03 503.67 108.36 505.00 106.60 C506.33 104.84 506.83 103.04 508.00 101.94 C509.17 100.83 510.00 100.45 512.00 99.99 C514.00 99.52 517.00 99.41 520.00 99.15 C523.00 98.90 527.10 98.62 530.00 98.46 C532.90 98.29 534.40 98.20 537.40 98.18 C540.40 98.15 544.23 98.39 548.00 98.32 C551.77 98.25 555.77 97.99 560.00 97.76 C564.23 97.53 571.17 97.06 573.40 96.92" fill="none" stroke="#f7b9b9" stroke-width="0.75" stroke-linejoin="round"/>
<path d="M493.60 118.50 C494.67 118.66 497.60 119.17 500.00 119.48 C502.40 119.78 505.50 120.68 508.00 120.31 C510.50 119.94 513.33 118.74 515.00 117.25 C516.67 115.75 517.17 113.19 518.00 111.33 C518.83 109.48 519.17 107.30 520.00 106.11 C520.83 104.93 521.33 104.65 523.00 104.23 C524.67 103.82 528.00 103.47 530.00 103.61 C532.00 103.75 533.77 104.19 535.00 105.07 C536.23 105.95 536.57 108.55 537.40 108.90 C538.23 109.24 538.73 108.14 540.00 107.16 C541.27 106.17 543.00 104.08 545.00 102.98 C547.00 101.88 549.83 100.95 552.00 100.54 C554.17 100.14 556.33 100.14 558.00 100.54 C559.67 100.95 560.83 101.59 562.00 102.98 C563.17 104.37 564.00 107.10 565.00 108.90 C566.00 110.69 566.60 112.36 568.00 113.77 C569.40 115.17 572.50 116.73 573.40 117.32" fill="none" stroke="#f7b9b9" stroke-width="0.75" stroke-linejoin="round"/>
<path d="M573.40 114.39 C574.50 114.81 577.57 116.19 580.00 116.90 C582.43 117.61 585.50 118.93 588.00 118.64 C590.50 118.35 593.00 116.55 595.00 115.16 C597.00 113.77 598.33 111.53 600.00 110.29 C601.67 109.05 603.50 108.06 605.00 107.71 C606.50 107.36 606.50 107.92 609.00 108.20 C611.50 108.48 616.50 108.48 620.00 109.38 C623.50 110.29 626.00 111.81 630.00 113.63 C634.00 115.45 641.67 119.20 644.00 120.31" fill="none" stroke="#f7b9b9" stroke-width="0.75" stroke-linejoin="round"/>
<path d="M573.40 101.03 C575.33 100.74 580.57 99.20 585.00 99.29 C589.43 99.38 596.00 100.60 600.00 101.59 C604.00 102.57 604.83 105.30 609.00 105.21 C613.17 105.11 619.17 102.16 625.00 101.03 C630.83 99.91 640.83 98.89 644.00 98.46" fill="none" stroke="#f7b9b9" stroke-width="0.75" stroke-linejoin="round"/>
<path d="M493.60 96.37 C495.50 96.46 500.93 96.87 505.00 96.92 C509.07 96.98 512.60 96.58 518.00 96.72 C523.40 96.86 531.23 97.73 537.40 97.76 C543.57 97.79 549.00 97.21 555.00 96.92 C561.00 96.63 567.57 96.00 573.40 96.02 C579.23 96.04 584.07 96.77 590.00 97.06 C595.93 97.35 603.17 97.76 609.00 97.76 C614.83 97.76 619.17 97.30 625.00 97.06 C630.83 96.83 640.83 96.48 644.00 96.37" fill="none" stroke="#f7b9b9" stroke-width="0.75" stroke-linejoin="round"/>
<path d="M493.60 104.37 C496.33 104.89 504.77 106.92 510.00 107.50 C515.23 108.08 520.43 107.74 525.00 107.85 C529.57 107.97 535.33 108.14 537.40 108.20" fill="none" stroke="#f7b9b9" stroke-width="0.75" stroke-linejoin="round"/>
</g>
<line x1="493.6" y1="3.9" x2="493.6" y2="162.9" stroke="#4aa6ea" stroke-width="1.3"/>
<line x1="537.4" y1="3.9" x2="537.4" y2="162.9" stroke="#4aa6ea" stroke-width="1.3"/>
<line x1="573.4" y1="3.9" x2="573.4" y2="162.9" stroke="#4aa6ea" stroke-width="1.3"/>
<line x1="609" y1="3.9" x2="609" y2="162.9" stroke="#4aa6ea" stroke-width="1.3"/>
<line x1="644" y1="3.9" x2="644" y2="162.9" stroke="#4aa6ea" stroke-width="1.3"/>
<line x1="493.6" y1="108.2" x2="644" y2="108.2" stroke="#b482f6" stroke-width="1.4" stroke-dasharray="3.2 2.4"/>
<line x1="493" y1="3.9" x2="644.6" y2="3.9" stroke="#555" stroke-width="1"/>
<line x1="493" y1="162.9" x2="644.6" y2="162.9" stroke="#333" stroke-width="1.1"/>
<line x1="490.6" y1="3.8" x2="493.6" y2="3.8" stroke="#333" stroke-width="1"/>
<text x="488.6" y="6.8" font-size="8.5" text-anchor="end" fill="#222" stroke="#222" stroke-width="0.1">15</text>
<line x1="490.6" y1="38.6" x2="493.6" y2="38.6" stroke="#333" stroke-width="1"/>
<text x="488.6" y="41.6" font-size="8.5" text-anchor="end" fill="#222" stroke="#222" stroke-width="0.1">10</text>
<line x1="490.6" y1="73.4" x2="493.6" y2="73.4" stroke="#333" stroke-width="1"/>
<text x="488.6" y="76.4" font-size="8.5" text-anchor="end" fill="#222" stroke="#222" stroke-width="0.1">5</text>
<line x1="490.6" y1="108.2" x2="493.6" y2="108.2" stroke="#333" stroke-width="1"/>
<text x="488.6" y="111.2" font-size="8.5" text-anchor="end" fill="#222" stroke="#222" stroke-width="0.1">0</text>
<line x1="490.6" y1="143" x2="493.6" y2="143" stroke="#333" stroke-width="1"/>
<text x="488.6" y="146" font-size="8.5" text-anchor="end" fill="#222" stroke="#222" stroke-width="0.1">-5</text>
<line x1="492" y1="21.2" x2="493.6" y2="21.2" stroke="#333" stroke-width="1"/>
<line x1="492" y1="56" x2="493.6" y2="56" stroke="#333" stroke-width="1"/>
<line x1="492" y1="90.8" x2="493.6" y2="90.8" stroke="#333" stroke-width="1"/>
<line x1="492" y1="125.6" x2="493.6" y2="125.6" stroke="#333" stroke-width="1"/>
<line x1="492" y1="160.4" x2="493.6" y2="160.4" stroke="#333" stroke-width="1"/>
<text x="463.3" y="11.6" font-size="15" text-anchor="start" fill="#111" stroke="#111" stroke-width="0.1">c</text>
<text x="476.8" y="82.9" font-size="9.5" text-anchor="middle" fill="#222" stroke="#222" stroke-width="0.1" transform="rotate(-90 476.8 82.9)">Frequency (THz)</text>
<text x="496" y="173.2" font-size="8.5" text-anchor="middle" fill="#222" stroke="#222" stroke-width="0.1">R_2</text>
<text x="537.9" y="173.2" font-size="8.5" text-anchor="middle" fill="#222" stroke="#222" stroke-width="0.1" font-family="Liberation Serif">Γ</text>
<text x="574.3" y="173.2" font-size="8.5" text-anchor="middle" fill="#222" stroke="#222" stroke-width="0.1">T_2|U_2</text>
<text x="609.8" y="173.2" font-size="8.5" text-anchor="middle" fill="#222" stroke="#222" stroke-width="0.1" font-family="Liberation Serif">Γ</text>
<text x="641.2" y="173.2" font-size="8.5" text-anchor="middle" fill="#222" stroke="#222" stroke-width="0.1">V_2</text>
<text x="576.5" y="187" font-size="10" text-anchor="middle" fill="#222" stroke="#222" stroke-width="0.1">Wave vector</text>
<rect x="647.4" y="3.9" width="35" height="159.1" fill="none" stroke="#333" stroke-width="1"/>
<path d="M652.80 4.00 C652.95 4.24 653.56 4.95 653.71 5.42 C653.86 5.90 654.00 6.38 653.70 6.85 C653.40 7.32 652.20 7.80 651.91 8.27 C651.63 8.75 649.98 9.35 651.97 9.70 C653.96 10.05 663.54 10.08 663.87 10.40 C664.20 10.72 655.68 11.14 653.97 11.60 C652.26 12.06 653.83 12.62 653.61 13.13 C653.39 13.64 652.75 14.16 652.65 14.67 C652.55 15.18 652.58 15.54 653.01 16.20 C653.44 16.86 654.19 17.88 655.21 18.60 C656.24 19.32 657.95 19.93 659.16 20.50 C660.38 21.07 661.23 21.58 662.52 22.00 C663.80 22.42 665.62 22.60 666.86 23.00 C668.11 23.40 668.72 23.98 669.99 24.40 C671.25 24.82 672.98 25.12 674.45 25.50 C675.91 25.88 678.23 26.27 678.79 26.70 C679.35 27.13 678.25 27.63 677.80 28.10 C677.35 28.57 676.51 29.02 676.09 29.50 C675.67 29.98 675.58 30.50 675.29 31.00 C675.00 31.50 675.04 31.92 674.34 32.50 C673.63 33.08 671.77 33.95 671.07 34.50 C670.37 35.05 670.31 35.37 670.15 35.80 C670.00 36.23 670.47 36.48 670.13 37.10 C669.79 37.72 668.63 38.72 668.14 39.50 C667.64 40.28 666.89 41.05 667.16 41.80 C667.43 42.55 669.97 43.23 669.78 44.00 C669.60 44.77 666.33 45.73 666.05 46.40 C665.77 47.07 667.52 47.42 668.12 48.00 C668.72 48.58 669.02 49.32 669.67 49.90 C670.33 50.48 670.93 50.85 672.05 51.50 C673.16 52.15 676.40 53.10 676.35 53.80 C676.30 54.50 672.70 55.09 671.77 55.70 C670.84 56.31 671.07 56.87 670.77 57.45 C670.47 58.03 669.98 58.68 670.00 59.20 C670.01 59.73 670.62 60.13 670.85 60.60 C671.08 61.07 670.81 61.48 671.36 62.00 C671.92 62.52 673.52 63.13 674.19 63.70 C674.86 64.27 675.60 64.77 675.39 65.40 C675.19 66.03 673.70 66.80 672.97 67.50 C672.24 68.20 671.70 68.97 671.01 69.60 C670.33 70.23 669.53 70.73 668.88 71.30 C668.22 71.87 667.80 72.42 667.08 73.00 C666.36 73.58 665.04 74.20 664.56 74.80 C664.07 75.40 664.46 76.06 664.16 76.60 C663.86 77.14 663.50 77.57 662.77 78.05 C662.05 78.53 660.28 79.02 659.82 79.50 C659.37 79.98 660.19 80.47 660.06 80.95 C659.93 81.43 659.40 81.86 659.03 82.40 C658.66 82.94 658.12 83.60 657.82 84.20 C657.53 84.80 657.46 85.48 657.26 86.00 C657.06 86.52 656.69 86.89 656.65 87.33 C656.60 87.78 657.16 88.22 656.98 88.67 C656.81 89.11 655.79 89.53 655.60 90.00 C655.42 90.47 656.05 91.00 655.86 91.50 C655.68 92.00 654.62 92.50 654.51 93.00 C654.39 93.50 655.25 94.00 655.17 94.50 C655.08 95.00 654.23 95.50 654.00 96.00 C653.77 96.50 653.85 97.00 653.77 97.50 C653.70 98.00 653.62 98.50 653.55 99.00 C653.47 99.50 653.40 100.00 653.33 100.50 C653.25 101.00 653.15 101.52 653.10 102.00 C653.05 102.48 653.03 102.92 653.00 103.38 C652.97 103.83 652.93 104.29 652.90 104.75 C652.87 105.21 652.83 105.67 652.80 106.12 C652.77 106.58 652.69 107.04 652.70 107.50 C652.71 107.96 652.80 108.42 652.85 108.88 C652.90 109.33 652.95 109.79 653.00 110.25 C653.05 110.71 653.10 111.17 653.15 111.62 C653.20 112.08 653.30 112.49 653.30 113.00 C653.30 113.51 653.19 114.11 653.13 114.67 C653.08 115.22 653.02 115.78 652.97 116.33 C652.91 116.89 652.81 117.46 652.80 118.00 C652.79 118.54 652.85 119.04 652.88 119.56 C652.91 120.08 652.93 120.60 652.96 121.12 C652.99 121.64 653.01 122.16 653.04 122.68 C653.07 123.20 653.09 123.72 653.12 124.24 C653.15 124.76 653.20 125.30 653.20 125.80 C653.20 126.30 653.13 126.76 653.10 127.24 C653.07 127.72 653.03 128.20 653.00 128.68 C652.97 129.16 652.93 129.64 652.90 130.12 C652.87 130.60 652.83 131.08 652.80 131.56 C652.77 132.04 652.71 132.54 652.70 133.00 C652.69 133.46 652.72 133.89 652.73 134.33 C652.74 134.78 652.76 135.22 652.77 135.67 C652.78 136.11 652.79 136.56 652.80 137.00 C652.81 137.44 652.82 137.89 652.83 138.33 C652.84 138.78 652.86 139.22 652.87 139.67 C652.88 140.11 652.90 140.53 652.90 141.00 C652.90 141.47 652.88 142.00 652.87 142.50 C652.86 143.00 652.84 143.50 652.83 144.00 C652.82 144.50 652.81 145.00 652.80 145.50 C652.79 146.00 652.78 146.50 652.77 147.00 C652.76 147.50 652.74 148.00 652.73 148.50 C652.72 149.00 652.71 149.53 652.70 150.00 C652.69 150.47 652.70 150.87 652.70 151.30 C652.70 151.73 652.70 152.17 652.70 152.60 C652.70 153.03 652.70 153.47 652.70 153.90 C652.70 154.33 652.70 154.77 652.70 155.20 C652.70 155.63 652.70 156.07 652.70 156.50 C652.70 156.93 652.70 157.37 652.70 157.80 C652.70 158.23 652.70 158.67 652.70 159.10 C652.70 159.53 652.70 159.97 652.70 160.40 C652.70 160.83 652.70 161.27 652.70 161.70 C652.70 162.13 652.70 162.78 652.70 163.00" fill="none" stroke="#f02020" stroke-width="1.1" stroke-linejoin="round"/>
<line x1="652.7" y1="163" x2="652.7" y2="165.5" stroke="#333" stroke-width="1"/>
<text x="652.7" y="174.2" font-size="8.5" text-anchor="middle" fill="#222" stroke="#222" stroke-width="0.1">0</text>
<line x1="667.3" y1="163" x2="667.3" y2="165.5" stroke="#333" stroke-width="1"/>
<text x="667.3" y="174.2" font-size="8.5" text-anchor="middle" fill="#222" stroke="#222" stroke-width="0.1">15</text>
<line x1="680.2" y1="163" x2="680.2" y2="165.5" stroke="#333" stroke-width="1"/>
<text x="680.2" y="174.2" font-size="8.5" text-anchor="middle" fill="#222" stroke="#222" stroke-width="0.1">30</text>
<text x="668.5" y="189" font-size="10" text-anchor="middle" fill="#222" stroke="#222" stroke-width="0.1">DOS</text>
<g clip-path="url(#clipD)" fill="none" stroke="#00c4c6" stroke-width="0.95" stroke-linejoin="round">
<path d="M24.0 235.5 L26.7 235.5 L29.5 235.6 L32.2 235.6 L34.9 235.7 L37.7 235.7 L40.4 235.7 L43.1 235.4 L45.9 234.9 L48.6 234.4 L51.3 233.9 L54.0 233.5 L56.8 233.2 L59.5 232.9 L62.2 232.7 L65.0 232.6 L67.7 232.5 L70.0 232.6 L72.2 232.7 L74.5 233.0 L76.7 233.3 L79.0 233.6 L81.2 234.0 L83.5 234.4 L85.7 234.9 L88.0 235.4 L90.2 235.9 L92.5 236.5 L94.7 236.8 L97.0 236.9 L99.2 236.8 L101.5 236.8 L103.7 236.8 L105.9 236.8 L108.2 236.8 L110.4 236.8 L112.7 236.8 L114.9 236.7 L117.2 236.3 L119.4 235.7 L121.7 235.2 L123.9 234.8 L126.1 234.4 L128.4 234.0 L130.6 233.7 L132.9 233.5 L135.1 233.3 L137.4 233.2 L139.6 233.1 L141.8 233.2 L144.0 233.4 L146.3 233.6 L148.5 233.9 L150.7 234.3 L152.9 234.7 L155.1 235.1 L157.3 235.6 L159.6 236.1 L161.8 236.6 L164.0 237.1 L166.2 237.1 L168.4 237.1 L170.7 237.1 L172.9 237.0 L175.1 236.9"/>
<path d="M24.0 237.8 L29.5 236.4 L34.9 234.6 L40.4 232.7 L45.9 231.1 L51.3 229.8 L56.8 229.2 L62.2 229.4 L67.7 230.2 L72.2 231.2 L76.7 232.1 L81.2 232.9 L85.7 233.4 L90.2 233.5 L94.7 233.3 L99.2 232.7 L103.7 231.9 L108.2 231.7 L112.7 231.4 L117.2 231.1 L121.7 230.8 L126.1 230.5 L130.6 230.3 L135.1 230.2 L139.6 230.3 L144.0 231.5 L148.5 232.5 L152.9 233.1 L157.3 233.3 L161.8 233.0 L166.2 232.3 L170.7 231.2 L175.1 229.9"/>
<path d="M24.0 288.9 L29.5 289.2 L34.9 289.4 L40.4 289.5 L45.9 289.5 L51.3 289.3 L56.8 289.0 L62.2 288.6 L67.7 288.3 L72.2 289.0 L76.7 289.6 L81.2 290.2 L85.7 290.5 L90.2 290.6 L94.7 290.5 L99.2 290.1 L103.7 289.5 L108.2 290.3 L112.7 290.6 L117.2 290.4 L121.7 289.7 L126.1 288.7 L130.6 287.5 L135.1 286.2 L139.6 285.1 L144.0 285.1 L148.5 285.1 L152.9 284.9 L157.3 284.7 L161.8 284.5 L166.2 284.3 L170.7 284.1 L175.1 284.0"/>
<path d="M24.0 238.4 L26.7 238.3 L29.5 238.2 L32.2 238.1 L34.9 238.0 L37.7 237.9 L40.4 237.7 L43.1 237.1 L45.9 236.2 L48.6 235.4 L51.3 234.6 L54.0 234.0 L56.8 233.5 L59.5 233.2 L62.2 232.9 L65.0 232.8 L67.7 232.8 L70.0 232.8 L72.2 233.0 L74.5 233.2 L76.7 233.5 L79.0 233.9 L81.2 234.3 L83.5 234.7 L85.7 235.3 L88.0 235.9 L90.2 236.5 L92.5 237.2 L94.7 237.6 L97.0 237.6 L99.2 237.6 L101.5 237.6 L103.7 237.6 L105.9 237.7 L108.2 237.8 L110.4 237.9 L112.7 238.1 L114.9 238.3 L117.2 238.0 L119.4 237.4 L121.7 237.0 L123.9 236.6 L126.1 236.3 L128.4 236.0 L130.6 235.8 L132.9 235.6 L135.1 235.5 L137.4 235.4 L139.6 235.3 L141.8 235.3 L144.0 235.3 L146.3 235.3 L148.5 235.3 L150.7 235.3 L152.9 235.4 L155.1 235.5 L157.3 235.6 L159.6 235.9 L161.8 236.2 L164.0 236.4 L166.2 236.1 L168.4 235.8 L170.7 235.6 L172.9 235.5 L175.1 235.4"/>
<path d="M24.0 292.2 L29.5 292.3 L34.9 292.6 L40.4 293.1 L45.9 293.7 L51.3 294.5 L56.8 295.1 L62.2 295.6 L67.7 295.9 L72.2 294.8 L76.7 293.6 L81.2 292.6 L85.7 291.9 L90.2 291.6 L94.7 291.7 L99.2 292.2 L103.7 293.1 L108.2 291.8 L112.7 290.5 L117.2 289.3 L121.7 288.6 L126.1 288.3 L130.6 288.5 L135.1 289.2 L139.6 290.3 L144.0 290.8 L148.5 291.2 L152.9 291.5 L157.3 291.7 L161.8 291.6 L166.2 291.3 L170.7 290.9 L175.1 290.4"/>
<path d="M24.0 275.4 L29.5 276.6 L34.9 278.6 L40.4 281.2 L45.9 284.0 L51.3 286.5 L56.8 288.5 L62.2 289.5 L67.7 289.4 L72.2 288.2 L76.7 287.4 L81.2 286.9 L85.7 287.0 L90.2 287.5 L94.7 288.4 L99.2 289.6 L103.7 290.8 L108.2 289.5 L112.7 288.4 L117.2 287.5 L121.7 287.0 L126.1 287.0 L130.6 287.4 L135.1 288.3 L139.6 289.5 L144.0 289.1 L148.5 288.3 L152.9 287.2 L157.3 285.9 L161.8 284.7 L166.2 283.7 L170.7 283.1 L175.1 283.0"/>
<path d="M24.0 287.7 L29.5 287.0 L34.9 285.9 L40.4 284.4 L45.9 282.9 L51.3 281.5 L56.8 280.5 L62.2 280.0 L67.7 280.1 L72.2 279.6 L76.7 279.4 L81.2 279.4 L85.7 279.6 L90.2 280.1 L94.7 280.7 L99.2 281.4 L103.7 282.0 L108.2 280.7 L112.7 278.9 L117.2 276.8 L121.7 274.7 L126.1 273.1 L130.6 272.1 L135.1 271.9 L139.6 272.5 L144.0 272.9 L148.5 273.3 L152.9 273.7 L157.3 274.0 L161.8 274.3 L166.2 274.4 L170.7 274.3 L175.1 274.1"/>
<path d="M24.0 259.6 L29.5 258.9 L34.9 257.9 L40.4 256.9 L45.9 256.0 L51.3 255.2 L56.8 254.8 L62.2 254.7 L67.7 255.1 L72.2 255.3 L76.7 256.0 L81.2 257.0 L85.7 258.2 L90.2 259.4 L94.7 260.5 L99.2 261.2 L103.7 261.4 L108.2 260.2 L112.7 258.6 L117.2 257.0 L121.7 255.6 L126.1 254.6 L130.6 254.2 L135.1 254.4 L139.6 255.2 L144.0 254.5 L148.5 253.8 L152.9 253.2 L157.3 252.8 L161.8 252.6 L166.2 252.8 L170.7 253.2 L175.1 253.8"/>
<path d="M24.0 234.4 L26.7 234.4 L29.5 234.5 L32.2 234.5 L34.9 234.6 L37.7 234.6 L40.4 234.7 L43.1 234.5 L45.9 233.9 L48.6 233.5 L51.3 233.1 L54.0 232.7 L56.8 232.5 L59.5 232.3 L62.2 232.2 L65.0 232.1 L67.7 232.1 L70.0 232.1 L72.2 232.1 L74.5 232.1 L76.7 232.2 L79.0 232.3 L81.2 232.5 L83.5 232.7 L85.7 232.9 L88.0 233.2 L90.2 233.6 L92.5 234.0 L94.7 234.3 L97.0 234.2 L99.2 234.1 L101.5 234.1 L103.7 234.1 L105.9 234.1 L108.2 234.2 L110.4 234.3 L112.7 234.4 L114.9 234.6 L117.2 234.3 L119.4 234.0 L121.7 233.7 L123.9 233.5 L126.1 233.4 L128.4 233.2 L130.6 233.2 L132.9 233.1 L135.1 233.1 L137.4 233.1 L139.6 233.1 L141.8 233.1 L144.0 233.1 L146.3 233.2 L148.5 233.3 L150.7 233.4 L152.9 233.6 L155.1 233.8 L157.3 234.1 L159.6 234.4 L161.8 234.9 L164.0 235.2 L166.2 235.1 L168.4 235.1 L170.7 235.0 L172.9 235.0 L175.1 235.0"/>
<path d="M24.0 233.6 L26.7 233.6 L29.5 233.7 L32.2 233.9 L34.9 234.1 L37.7 234.3 L40.4 234.6 L43.1 234.5 L45.9 234.1 L48.6 233.8 L51.3 233.6 L54.0 233.4 L56.8 233.3 L59.5 233.1 L62.2 233.0 L65.0 233.0 L67.7 232.9 L70.0 233.0 L72.2 233.1 L74.5 233.1 L76.7 233.2 L79.0 233.3 L81.2 233.4 L83.5 233.5 L85.7 233.7 L88.0 233.9 L90.2 234.1 L92.5 234.4 L94.7 234.5 L97.0 234.3 L99.2 234.1 L101.5 234.0 L103.7 233.9 L105.9 234.0 L108.2 234.0 L110.4 234.1 L112.7 234.3 L114.9 234.4 L117.2 234.2 L119.4 233.8 L121.7 233.5 L123.9 233.2 L126.1 233.0 L128.4 232.8 L130.6 232.6 L132.9 232.5 L135.1 232.5 L137.4 232.4 L139.6 232.4 L141.8 232.4 L144.0 232.5 L146.3 232.8 L148.5 233.1 L150.7 233.5 L152.9 234.0 L155.1 234.6 L157.3 235.2 L159.6 235.9 L161.8 236.6 L164.0 237.3 L166.2 237.4 L168.4 237.5 L170.7 237.6 L172.9 237.7 L175.1 237.7"/>
<path d="M24.0 243.8 L26.7 243.8 L29.5 243.8 L32.2 243.8 L34.9 243.8 L37.7 243.7 L40.4 243.7 L43.1 244.2 L45.9 245.0 L48.6 245.8 L51.3 246.5 L54.0 247.0 L56.8 247.4 L59.5 247.8 L62.2 248.0 L65.0 248.1 L67.7 248.1 L70.0 248.1 L72.2 248.0 L74.5 247.8 L76.7 247.6 L79.0 247.3 L81.2 247.0 L83.5 246.7 L85.7 246.3 L88.0 245.8 L90.2 245.2 L92.5 244.6 L94.7 244.2 L97.0 244.4 L99.2 244.5 L101.5 244.5 L103.7 244.6 L105.9 244.6 L108.2 244.7 L110.4 244.6 L112.7 244.6 L114.9 244.6 L117.2 245.1 L119.4 245.9 L121.7 246.5 L123.9 247.0 L126.1 247.5 L128.4 247.8 L130.6 248.1 L132.9 248.3 L135.1 248.4 L137.4 248.5 L139.6 248.4 L141.8 248.4 L144.0 248.3 L146.3 248.2 L148.5 247.9 L150.7 247.5 L152.9 247.0 L155.1 246.5 L157.3 245.8 L159.6 245.0 L161.8 244.2 L164.0 243.4 L166.2 243.4 L168.4 243.3 L170.7 243.3 L172.9 243.2 L175.1 243.2"/>
<path d="M24.0 237.9 L26.7 237.9 L29.5 237.8 L32.2 237.6 L34.9 237.5 L37.7 237.3 L40.4 237.2 L43.1 236.6 L45.9 235.8 L48.6 235.0 L51.3 234.3 L54.0 233.8 L56.8 233.3 L59.5 233.0 L62.2 232.7 L65.0 232.6 L67.7 232.6 L70.0 232.7 L72.2 232.8 L74.5 232.9 L76.7 233.1 L79.0 233.3 L81.2 233.6 L83.5 233.9 L85.7 234.2 L88.0 234.6 L90.2 235.1 L92.5 235.6 L94.7 235.8 L97.0 235.7 L99.2 235.7 L101.5 235.6 L103.7 235.5 L105.9 235.5 L108.2 235.4 L110.4 235.2 L112.7 235.1 L114.9 235.0 L117.2 234.4 L119.4 233.6 L121.7 233.0 L123.9 232.4 L126.1 231.9 L128.4 231.5 L130.6 231.1 L132.9 230.9 L135.1 230.7 L137.4 230.7 L139.6 230.7 L141.8 230.7 L144.0 230.8 L146.3 231.0 L148.5 231.3 L150.7 231.6 L152.9 232.0 L155.1 232.5 L157.3 233.1 L159.6 233.7 L161.8 234.4 L164.0 235.0 L166.2 235.1 L168.4 235.2 L170.7 235.3 L172.9 235.3 L175.1 235.4"/>
<path d="M24.0 262.8 L29.5 263.7 L34.9 264.6 L40.4 265.3 L45.9 265.8 L51.3 266.0 L56.8 265.9 L62.2 265.4 L67.7 264.7 L72.2 265.0 L76.7 264.8 L81.2 264.1 L85.7 263.0 L90.2 261.6 L94.7 260.2 L99.2 258.9 L103.7 258.1 L108.2 257.8 L112.7 258.6 L117.2 260.4 L121.7 262.8 L126.1 265.5 L130.6 268.1 L135.1 270.2 L139.6 271.5 L144.0 272.6 L148.5 273.3 L152.9 273.3 L157.3 272.8 L161.8 271.8 L166.2 270.4 L170.7 268.9 L175.1 267.4"/>
<path d="M24.0 234.7 L29.5 234.9 L34.9 234.8 L40.4 234.3 L45.9 233.6 L51.3 232.8 L56.8 231.9 L62.2 231.2 L67.7 230.7 L72.2 231.0 L76.7 231.4 L81.2 231.7 L85.7 232.0 L90.2 232.1 L94.7 232.1 L99.2 232.0 L103.7 231.8 L108.2 233.0 L112.7 233.8 L117.2 234.1 L121.7 233.9 L126.1 233.2 L130.6 232.0 L135.1 230.7 L139.6 229.3 L144.0 229.7 L148.5 229.7 L152.9 229.4 L157.3 228.7 L161.8 227.8 L166.2 226.8 L170.7 225.9 L175.1 225.2"/>
<path d="M24.0 210.8 L29.5 212.0 L34.9 214.4 L40.4 217.5 L45.9 221.0 L51.3 224.3 L56.8 226.9 L62.2 228.4 L67.7 228.5 L72.2 226.8 L76.7 224.4 L81.2 221.5 L85.7 218.6 L90.2 216.2 L94.7 214.7 L99.2 214.2 L103.7 214.8 L108.2 215.4 L112.7 217.2 L117.2 219.7 L121.7 222.8 L126.1 225.8 L130.6 228.4 L135.1 230.1 L139.6 230.7 L144.0 231.5 L148.5 232.2 L152.9 232.7 L157.3 232.9 L161.8 232.8 L166.2 232.4 L170.7 231.7 L175.1 230.9"/>
<path d="M24.0 295.6 L29.5 295.7 L34.9 295.1 L40.4 293.9 L45.9 292.2 L51.3 290.3 L56.8 288.5 L62.2 287.0 L67.7 286.2 L72.2 285.6 L76.7 285.7 L81.2 286.3 L85.7 287.4 L90.2 288.8 L94.7 290.3 L99.2 291.7 L103.7 292.7 L108.2 293.6 L112.7 294.1 L117.2 294.1 L121.7 293.5 L126.1 292.5 L130.6 291.3 L135.1 289.9 L139.6 288.7 L144.0 288.5 L148.5 288.9 L152.9 289.8 L157.3 291.2 L161.8 292.7 L166.2 294.3 L170.7 295.6 L175.1 296.4"/>
<path d="M24.0 275.8 L29.5 274.9 L34.9 273.8 L40.4 272.7 L45.9 271.7 L51.3 270.9 L56.8 270.6 L62.2 270.6 L67.7 271.1 L72.2 271.8 L76.7 271.2 L81.2 269.6 L85.7 267.1 L90.2 264.1 L94.7 261.1 L99.2 258.5 L103.7 256.8 L108.2 258.9 L112.7 262.4 L117.2 266.9 L121.7 271.6 L126.1 275.8 L130.6 278.9 L135.1 280.5 L139.6 280.1 L144.0 280.9 L148.5 280.7 L152.9 279.7 L157.3 278.0 L161.8 275.8 L166.2 273.5 L170.7 271.4 L175.1 269.9"/>
<path d="M24.0 212.2 L29.5 212.8 L34.9 213.6 L40.4 214.5 L45.9 215.3 L51.3 216.0 L56.8 216.3 L62.2 216.3 L67.7 216.0 L72.2 216.6 L76.7 217.1 L81.2 217.5 L85.7 217.7 L90.2 217.7 L94.7 217.4 L99.2 217.0 L103.7 216.4 L108.2 217.7 L112.7 218.7 L117.2 219.2 L121.7 219.3 L126.1 218.9 L130.6 218.0 L135.1 216.8 L139.6 215.5 L144.0 214.8 L148.5 214.1 L152.9 213.5 L157.3 213.1 L161.8 212.9 L166.2 213.1 L170.7 213.5 L175.1 214.1"/>
<path d="M24.0 289.4 L29.5 289.1 L34.9 289.2 L40.4 289.7 L45.9 290.4 L51.3 291.3 L56.8 292.3 L62.2 293.1 L67.7 293.7 L72.2 294.4 L76.7 293.7 L81.2 291.9 L85.7 289.1 L90.2 285.9 L94.7 282.6 L99.2 279.8 L103.7 278.0 L108.2 278.1 L112.7 279.1 L117.2 280.8 L121.7 283.1 L126.1 285.4 L130.6 287.6 L135.1 289.2 L139.6 290.0 L144.0 288.9 L148.5 286.8 L152.9 284.0 L157.3 280.9 L161.8 278.1 L166.2 276.0 L170.7 274.8 L175.1 274.7"/>
<path d="M24.0 266.4 L29.5 266.7 L34.9 267.3 L40.4 267.8 L45.9 268.4 L51.3 268.9 L56.8 269.2 L62.2 269.2 L67.7 269.1 L72.2 269.1 L76.7 268.1 L81.2 266.2 L85.7 263.7 L90.2 260.9 L94.7 258.3 L99.2 256.3 L103.7 255.1 L108.2 254.4 L112.7 254.8 L117.2 256.3 L121.7 258.7 L126.1 261.5 L130.6 264.4 L135.1 267.0 L139.6 268.7 L144.0 268.7 L148.5 269.3 L152.9 270.6 L157.3 272.3 L161.8 274.2 L166.2 276.0 L170.7 277.4 L175.1 278.2"/>
<path d="M24.0 280.8 L29.5 281.9 L34.9 282.6 L40.4 282.8 L45.9 282.4 L51.3 281.7 L56.8 280.5 L62.2 279.2 L67.7 277.9 L72.2 276.9 L76.7 276.3 L81.2 276.1 L85.7 276.5 L90.2 277.4 L94.7 278.5 L99.2 279.8 L103.7 281.1 L108.2 281.8 L112.7 282.2 L117.2 282.2 L121.7 281.7 L126.1 280.9 L130.6 279.9 L135.1 278.8 L139.6 277.8 L144.0 278.5 L148.5 279.7 L152.9 281.4 L157.3 283.2 L161.8 284.9 L166.2 286.1 L170.7 286.8 L175.1 286.8"/>
<path d="M24.0 242.2 L26.7 242.3 L29.5 242.4 L32.2 242.4 L34.9 242.5 L37.7 242.5 L40.4 242.6 L43.1 243.2 L45.9 244.3 L48.6 245.2 L51.3 246.0 L54.0 246.6 L56.8 247.2 L59.5 247.5 L62.2 247.8 L65.0 247.9 L67.7 247.9 L70.0 247.9 L72.2 247.9 L74.5 247.9 L76.7 247.7 L79.0 247.5 L81.2 247.3 L83.5 246.9 L85.7 246.5 L88.0 245.9 L90.2 245.3 L92.5 244.5 L94.7 244.1 L97.0 244.2 L99.2 244.2 L101.5 244.2 L103.7 244.1 L105.9 244.1 L108.2 244.1 L110.4 244.0 L112.7 243.8 L114.9 243.6 L117.2 244.1 L119.4 244.8 L121.7 245.4 L123.9 245.9 L126.1 246.4 L128.4 246.7 L130.6 246.9 L132.9 247.1 L135.1 247.2 L137.4 247.3 L139.6 247.3 L141.8 247.3 L144.0 247.3 L146.3 247.1 L148.5 246.9 L150.7 246.5 L152.9 246.0 L155.1 245.5 L157.3 244.8 L159.6 244.0 L161.8 243.1 L164.0 242.3 L166.2 242.2 L168.4 242.2 L170.7 242.2 L172.9 242.1 L175.1 242.0"/>
<path d="M24.0 258.1 L29.5 256.8 L34.9 255.0 L40.4 253.1 L45.9 251.3 L51.3 249.9 L56.8 249.1 L62.2 249.0 L67.7 249.7 L72.2 250.6 L76.7 251.3 L81.2 251.5 L85.7 251.3 L90.2 250.7 L94.7 249.8 L99.2 248.7 L103.7 247.6 L108.2 246.4 L112.7 245.5 L117.2 245.1 L121.7 245.2 L126.1 245.8 L130.6 246.9 L135.1 248.2 L139.6 249.5 L144.0 248.9 L148.5 247.9 L152.9 246.6 L157.3 245.3 L161.8 244.0 L166.2 243.1 L170.7 242.7 L175.1 242.8"/>
<path d="M24.0 292.0 L29.5 291.8 L34.9 291.3 L40.4 290.6 L45.9 289.6 L51.3 288.6 L56.8 287.8 L62.2 287.2 L67.7 286.9 L72.2 287.9 L76.7 289.0 L81.2 290.0 L85.7 290.7 L90.2 291.0 L94.7 290.9 L99.2 290.4 L103.7 289.6 L108.2 288.3 L112.7 287.1 L117.2 285.9 L121.7 285.2 L126.1 284.8 L130.6 285.0 L135.1 285.6 L139.6 286.6 L144.0 287.1 L148.5 287.2 L152.9 286.9 L157.3 286.1 L161.8 285.2 L166.2 284.1 L170.7 283.0 L175.1 282.2"/>
<path d="M24.0 233.9 L26.7 234.0 L29.5 234.1 L32.2 234.2 L34.9 234.4 L37.7 234.6 L40.4 234.8 L43.1 234.6 L45.9 234.2 L48.6 233.9 L51.3 233.6 L54.0 233.3 L56.8 233.1 L59.5 232.9 L62.2 232.7 L65.0 232.6 L67.7 232.5 L70.0 232.5 L72.2 232.4 L74.5 232.4 L76.7 232.5 L79.0 232.5 L81.2 232.6 L83.5 232.8 L85.7 233.0 L88.0 233.3 L90.2 233.7 L92.5 234.1 L94.7 234.4 L97.0 234.4 L99.2 234.4 L101.5 234.4 L103.7 234.5 L105.9 234.5 L108.2 234.6 L110.4 234.6 L112.7 234.7 L114.9 234.8 L117.2 234.5 L119.4 234.1 L121.7 233.7 L123.9 233.4 L126.1 233.1 L128.4 232.9 L130.6 232.7 L132.9 232.5 L135.1 232.4 L137.4 232.3 L139.6 232.3 L141.8 232.4 L144.0 232.5 L146.3 232.8 L148.5 233.0 L150.7 233.4 L152.9 233.8 L155.1 234.3 L157.3 234.8 L159.6 235.3 L161.8 235.9 L164.0 236.4 L166.2 236.4 L168.4 236.4 L170.7 236.4 L172.9 236.4 L175.1 236.3"/>
<path d="M24.0 246.4 L26.7 246.4 L29.5 246.4 L32.2 246.3 L34.9 246.2 L37.7 246.1 L40.4 245.9 L43.1 246.2 L45.9 246.9 L48.6 247.4 L51.3 247.8 L54.0 248.2 L56.8 248.4 L59.5 248.6 L62.2 248.7 L65.0 248.8 L67.7 248.8 L70.0 248.7 L72.2 248.5 L74.5 248.3 L76.7 248.1 L79.0 247.7 L81.2 247.4 L83.5 246.9 L85.7 246.4 L88.0 245.8 L90.2 245.2 L92.5 244.5 L94.7 244.1 L97.0 244.1 L99.2 244.1 L101.5 244.1 L103.7 244.2 L105.9 244.2 L108.2 244.2 L110.4 244.2 L112.7 244.2 L114.9 244.3 L117.2 244.9 L119.4 245.7 L121.7 246.4 L123.9 247.0 L126.1 247.6 L128.4 248.0 L130.6 248.4 L132.9 248.7 L135.1 248.9 L137.4 249.1 L139.6 249.1 L141.8 249.1 L144.0 249.1 L146.3 249.0 L148.5 248.9 L150.7 248.6 L152.9 248.3 L155.1 247.9 L157.3 247.5 L159.6 246.9 L161.8 246.2 L164.0 245.6 L166.2 245.7 L168.4 245.7 L170.7 245.7 L172.9 245.6 L175.1 245.6"/>
<path d="M24.0 211.7 L29.5 211.5 L34.9 212.9 L40.4 215.7 L45.9 219.4 L51.3 223.6 L56.8 227.5 L62.2 230.5 L67.7 232.3 L72.2 232.6 L76.7 232.1 L81.2 231.0 L85.7 229.2 L90.2 227.2 L94.7 225.3 L99.2 223.7 L103.7 222.6 L108.2 223.8 L112.7 225.5 L117.2 227.6 L121.7 229.6 L126.1 231.3 L130.6 232.4 L135.1 232.8 L139.6 232.4 L144.0 232.3 L148.5 231.2 L152.9 229.1 L157.3 226.3 L161.8 223.4 L166.2 220.7 L170.7 218.7 L175.1 217.6"/>
<path d="M24.0 242.1 L29.5 243.3 L34.9 244.9 L40.4 246.5 L45.9 247.9 L51.3 248.9 L56.8 249.3 L62.2 249.1 L67.7 248.3 L72.2 248.5 L76.7 248.9 L81.2 249.2 L85.7 249.5 L90.2 249.7 L94.7 249.8 L99.2 249.8 L103.7 249.7 L108.2 249.2 L112.7 249.3 L117.2 250.0 L121.7 251.1 L126.1 252.6 L130.6 254.1 L135.1 255.4 L139.6 256.4 L144.0 256.0 L148.5 256.1 L152.9 256.6 L157.3 257.5 L161.8 258.6 L166.2 259.7 L170.7 260.7 L175.1 261.5"/>
<path d="M24.0 234.5 L26.7 234.6 L29.5 234.6 L32.2 234.7 L34.9 234.8 L37.7 234.9 L40.4 234.9 L43.1 234.6 L45.9 234.0 L48.6 233.4 L51.3 232.9 L54.0 232.5 L56.8 232.1 L59.5 231.8 L62.2 231.6 L65.0 231.5 L67.7 231.4 L70.0 231.4 L72.2 231.5 L74.5 231.8 L76.7 232.1 L79.0 232.5 L81.2 233.1 L83.5 233.7 L85.7 234.3 L88.0 235.1 L90.2 235.9 L92.5 236.7 L94.7 237.3 L97.0 237.5 L99.2 237.7 L101.5 237.8 L103.7 237.8 L105.9 237.8 L108.2 237.7 L110.4 237.5 L112.7 237.3 L114.9 237.1 L117.2 236.3 L119.4 235.4 L121.7 234.6 L123.9 233.8 L126.1 233.1 L128.4 232.4 L130.6 231.9 L132.9 231.5 L135.1 231.2 L137.4 231.0 L139.6 230.9 L141.8 230.9 L144.0 231.0 L146.3 231.2 L148.5 231.5 L150.7 231.8 L152.9 232.2 L155.1 232.8 L157.3 233.3 L159.6 234.0 L161.8 234.7 L164.0 235.4 L166.2 235.5 L168.4 235.6 L170.7 235.7 L172.9 235.8 L175.1 235.8"/>
<path d="M24.0 236.5 L26.7 236.5 L29.5 236.4 L32.2 236.3 L34.9 236.2 L37.7 236.0 L40.4 235.9 L43.1 235.5 L45.9 234.8 L48.6 234.2 L51.3 233.6 L54.0 233.2 L56.8 232.8 L59.5 232.6 L62.2 232.4 L65.0 232.3 L67.7 232.3 L70.0 232.3 L72.2 232.4 L74.5 232.5 L76.7 232.6 L79.0 232.7 L81.2 232.8 L83.5 232.9 L85.7 233.0 L88.0 233.2 L90.2 233.5 L92.5 233.7 L94.7 233.8 L97.0 233.7 L99.2 233.5 L101.5 233.4 L103.7 233.3 L105.9 233.4 L108.2 233.4 L110.4 233.5 L112.7 233.6 L114.9 233.7 L117.2 233.4 L119.4 233.0 L121.7 232.7 L123.9 232.4 L126.1 232.1 L128.4 231.9 L130.6 231.7 L132.9 231.6 L135.1 231.5 L137.4 231.4 L139.6 231.4 L141.8 231.4 L144.0 231.4 L146.3 231.5 L148.5 231.7 L150.7 231.9 L152.9 232.2 L155.1 232.5 L157.3 232.9 L159.6 233.4 L161.8 233.9 L164.0 234.3 L166.2 234.4 L168.4 234.4 L170.7 234.5 L172.9 234.5 L175.1 234.5"/>
<path d="M24.0 244.6 L26.7 244.6 L29.5 244.6 L32.2 244.6 L34.9 244.6 L37.7 244.7 L40.4 244.7 L43.1 245.1 L45.9 246.0 L48.6 246.7 L51.3 247.4 L54.0 247.9 L56.8 248.3 L59.5 248.7 L62.2 248.9 L65.0 249.0 L67.7 249.0 L70.0 248.9 L72.2 248.6 L74.5 248.3 L76.7 247.8 L79.0 247.2 L81.2 246.6 L83.5 245.9 L85.7 245.1 L88.0 244.3 L90.2 243.5 L92.5 242.6 L94.7 242.0 L97.0 241.9 L99.2 241.9 L101.5 241.9 L103.7 241.9 L105.9 242.0 L108.2 242.1 L110.4 242.3 L112.7 242.5 L114.9 242.8 L117.2 243.7 L119.4 244.9 L121.7 246.0 L123.9 247.0 L126.1 247.9 L128.4 248.6 L130.6 249.3 L132.9 249.8 L135.1 250.2 L137.4 250.5 L139.6 250.6 L141.8 250.5 L144.0 250.3 L146.3 250.0 L148.5 249.6 L150.7 249.0 L152.9 248.4 L155.1 247.6 L157.3 246.8 L159.6 245.8 L161.8 244.9 L164.0 244.0 L166.2 243.8 L168.4 243.6 L170.7 243.5 L172.9 243.4 L175.1 243.4"/>
<path d="M24.0 239.1 L26.7 239.1 L29.5 239.1 L32.2 239.1 L34.9 239.0 L37.7 239.0 L40.4 238.9 L43.1 238.4 L45.9 237.4 L48.6 236.5 L51.3 235.8 L54.0 235.1 L56.8 234.6 L59.5 234.2 L62.2 233.9 L65.0 233.7 L67.7 233.6 L70.0 233.7 L72.2 233.8 L74.5 234.0 L76.7 234.3 L79.0 234.6 L81.2 235.1 L83.5 235.6 L85.7 236.2 L88.0 236.9 L90.2 237.7 L92.5 238.5 L94.7 239.0 L97.0 239.0 L99.2 239.1 L101.5 239.1 L103.7 239.1 L105.9 239.1 L108.2 239.2 L110.4 239.2 L112.7 239.2 L114.9 239.3 L117.2 238.7 L119.4 238.0 L121.7 237.3 L123.9 236.7 L126.1 236.1 L128.4 235.7 L130.6 235.3 L132.9 235.0 L135.1 234.8 L137.4 234.7 L139.6 234.6 L141.8 234.7 L144.0 234.9 L146.3 235.2 L148.5 235.5 L150.7 235.9 L152.9 236.3 L155.1 236.8 L157.3 237.4 L159.6 238.1 L161.8 238.8 L164.0 239.5 L166.2 239.4 L168.4 239.4 L170.7 239.3 L172.9 239.2 L175.1 239.2"/>
<path d="M24.0 228.7 L29.5 227.9 L34.9 226.9 L40.4 226.0 L45.9 225.3 L51.3 224.9 L56.8 224.8 L62.2 225.0 L67.7 225.6 L72.2 224.6 L76.7 223.9 L81.2 223.5 L85.7 223.6 L90.2 224.0 L94.7 224.9 L99.2 225.9 L103.7 227.0 L108.2 226.6 L112.7 226.3 L117.2 226.0 L121.7 225.8 L126.1 225.8 L130.6 226.0 L135.1 226.3 L139.6 226.7 L144.0 227.1 L148.5 227.7 L152.9 228.3 L157.3 228.9 L161.8 229.4 L166.2 229.7 L170.7 229.7 L175.1 229.4"/>
<path d="M24.0 235.0 L29.5 235.4 L34.9 235.5 L40.4 235.2 L45.9 234.5 L51.3 233.6 L56.8 232.6 L62.2 231.6 L67.7 230.8 L72.2 231.1 L76.7 231.4 L81.2 231.7 L85.7 231.9 L90.2 232.1 L94.7 232.2 L99.2 232.1 L103.7 232.0 L108.2 231.7 L112.7 231.5 L117.2 231.4 L121.7 231.4 L126.1 231.4 L130.6 231.5 L135.1 231.7 L139.6 232.0 L144.0 231.0 L148.5 230.0 L152.9 229.1 L157.3 228.4 L161.8 228.1 L166.2 228.1 L170.7 228.5 L175.1 229.2"/>
<path d="M24.0 234.8 L26.7 234.8 L29.5 234.8 L32.2 234.9 L34.9 234.9 L37.7 234.9 L40.4 234.9 L43.1 234.6 L45.9 233.9 L48.6 233.4 L51.3 232.9 L54.0 232.5 L56.8 232.1 L59.5 231.9 L62.2 231.7 L65.0 231.6 L67.7 231.6 L70.0 231.6 L72.2 231.6 L74.5 231.7 L76.7 231.8 L79.0 232.0 L81.2 232.2 L83.5 232.4 L85.7 232.7 L88.0 233.0 L90.2 233.4 L92.5 233.9 L94.7 234.1 L97.0 234.1 L99.2 234.0 L101.5 234.0 L103.7 234.0 L105.9 234.0 L108.2 234.0 L110.4 234.1 L112.7 234.2 L114.9 234.2 L117.2 233.9 L119.4 233.3 L121.7 232.9 L123.9 232.5 L126.1 232.1 L128.4 231.8 L130.6 231.6 L132.9 231.4 L135.1 231.3 L137.4 231.2 L139.6 231.1 L141.8 231.3 L144.0 231.5 L146.3 231.9 L148.5 232.4 L150.7 233.0 L152.9 233.6 L155.1 234.4 L157.3 235.2 L159.6 236.0 L161.8 236.9 L164.0 237.7 L166.2 237.9 L168.4 238.1 L170.7 238.1 L172.9 238.2 L175.1 238.1"/>
<path d="M24.0 244.4 L26.7 244.5 L29.5 244.6 L32.2 244.7 L34.9 244.9 L37.7 245.1 L40.4 245.3 L43.1 245.8 L45.9 246.7 L48.6 247.4 L51.3 248.1 L54.0 248.7 L56.8 249.1 L59.5 249.5 L62.2 249.7 L65.0 249.8 L67.7 249.8 L70.0 249.7 L72.2 249.5 L74.5 249.3 L76.7 248.9 L79.0 248.5 L81.2 248.1 L83.5 247.6 L85.7 247.0 L88.0 246.4 L90.2 245.8 L92.5 245.1 L94.7 244.7 L97.0 244.6 L99.2 244.6 L101.5 244.6 L103.7 244.7 L105.9 244.7 L108.2 244.7 L110.4 244.8 L112.7 245.0 L114.9 245.1 L117.2 245.7 L119.4 246.5 L121.7 247.2 L123.9 247.9 L126.1 248.5 L128.4 249.0 L130.6 249.4 L132.9 249.8 L135.1 250.0 L137.4 250.2 L139.6 250.3 L141.8 250.2 L144.0 250.1 L146.3 249.9 L148.5 249.7 L150.7 249.4 L152.9 249.0 L155.1 248.6 L157.3 248.1 L159.6 247.6 L161.8 247.0 L164.0 246.5 L166.2 246.5 L168.4 246.5 L170.7 246.5 L172.9 246.5 L175.1 246.5"/>
<path d="M24.0 235.0 L26.7 235.1 L29.5 235.1 L32.2 235.1 L34.9 235.1 L37.7 235.0 L40.4 234.9 L43.1 234.4 L45.9 233.7 L48.6 233.1 L51.3 232.5 L54.0 231.9 L56.8 231.5 L59.5 231.1 L62.2 230.8 L65.0 230.6 L67.7 230.5 L70.0 230.4 L72.2 230.4 L74.5 230.4 L76.7 230.5 L79.0 230.6 L81.2 230.8 L83.5 231.1 L85.7 231.4 L88.0 231.8 L90.2 232.2 L92.5 232.7 L94.7 233.0 L97.0 233.0 L99.2 233.1 L101.5 233.1 L103.7 233.2 L105.9 233.2 L108.2 233.2 L110.4 233.2 L112.7 233.2 L114.9 233.2 L117.2 232.9 L119.4 232.4 L121.7 232.0 L123.9 231.6 L126.1 231.3 L128.4 231.0 L130.6 230.8 L132.9 230.6 L135.1 230.5 L137.4 230.4 L139.6 230.4 L141.8 230.5 L144.0 230.6 L146.3 230.8 L148.5 231.1 L150.7 231.5 L152.9 231.9 L155.1 232.3 L157.3 232.8 L159.6 233.3 L161.8 233.9 L164.0 234.4 L166.2 234.4 L168.4 234.4 L170.7 234.4 L172.9 234.4 L175.1 234.4"/>
<path d="M24.0 214.4 L29.5 213.8 L34.9 214.0 L40.4 215.1 L45.9 216.9 L51.3 219.1 L56.8 221.4 L62.2 223.4 L67.7 224.8 L72.2 224.0 L76.7 223.6 L81.2 223.5 L85.7 223.8 L90.2 224.4 L94.7 225.3 L99.2 226.3 L103.7 227.3 L108.2 228.3 L112.7 229.0 L117.2 229.2 L121.7 228.9 L126.1 228.1 L130.6 226.9 L135.1 225.6 L139.6 224.3 L144.0 223.6 L148.5 222.8 L152.9 222.2 L157.3 221.8 L161.8 221.7 L166.2 221.9 L170.7 222.4 L175.1 223.0"/>
<path d="M24.0 276.6 L29.5 275.6 L34.9 274.4 L40.4 273.2 L45.9 272.1 L51.3 271.3 L56.8 271.0 L62.2 271.1 L67.7 271.7 L72.2 272.5 L76.7 273.1 L81.2 273.3 L85.7 273.2 L90.2 272.8 L94.7 272.1 L99.2 271.2 L103.7 270.2 L108.2 269.4 L112.7 268.7 L117.2 268.2 L121.7 268.1 L126.1 268.3 L130.6 268.9 L135.1 269.6 L139.6 270.5 L144.0 271.8 L148.5 273.4 L152.9 274.9 L157.3 276.2 L161.8 277.1 L166.2 277.4 L170.7 277.1 L175.1 276.2"/>
<path d="M24.0 255.7 L29.5 256.4 L34.9 257.1 L40.4 257.8 L45.9 258.4 L51.3 258.7 L56.8 258.7 L62.2 258.4 L67.7 257.9 L72.2 257.2 L76.7 257.1 L81.2 257.5 L85.7 258.4 L90.2 259.6 L94.7 261.0 L99.2 262.3 L103.7 263.4 L108.2 263.6 L112.7 263.5 L117.2 263.0 L121.7 262.1 L126.1 261.2 L130.6 260.1 L135.1 259.3 L139.6 258.7 L144.0 259.6 L148.5 260.7 L152.9 261.7 L157.3 262.5 L161.8 262.9 L166.2 262.9 L170.7 262.5 L175.1 261.8"/>
<path d="M24.0 246.0 L26.7 246.0 L29.5 246.0 L32.2 245.9 L34.9 245.7 L37.7 245.6 L40.4 245.4 L43.1 245.6 L45.9 246.2 L48.6 246.8 L51.3 247.2 L54.0 247.5 L56.8 247.7 L59.5 247.9 L62.2 248.0 L65.0 248.1 L67.7 248.1 L70.0 248.1 L72.2 248.0 L74.5 247.9 L76.7 247.7 L79.0 247.4 L81.2 247.1 L83.5 246.7 L85.7 246.2 L88.0 245.7 L90.2 245.0 L92.5 244.3 L94.7 243.9 L97.0 243.9 L99.2 243.9 L101.5 243.8 L103.7 243.8 L105.9 243.8 L108.2 243.7 L110.4 243.7 L112.7 243.6 L114.9 243.6 L117.2 244.0 L119.4 244.7 L121.7 245.3 L123.9 245.8 L126.1 246.3 L128.4 246.7 L130.6 247.0 L132.9 247.3 L135.1 247.5 L137.4 247.6 L139.6 247.6 L141.8 247.5 L144.0 247.4 L146.3 247.2 L148.5 247.0 L150.7 246.8 L152.9 246.5 L155.1 246.2 L157.3 245.8 L159.6 245.4 L161.8 244.9 L164.0 244.4 L166.2 244.6 L168.4 244.8 L170.7 245.0 L172.9 245.1 L175.1 245.2"/>
<path d="M24.0 295.3 L29.5 294.6 L34.9 292.9 L40.4 290.4 L45.9 287.6 L51.3 284.9 L56.8 282.7 L62.2 281.3 L67.7 281.0 L72.2 280.5 L76.7 280.9 L81.2 282.2 L85.7 284.2 L90.2 286.5 L94.7 288.9 L99.2 290.9 L103.7 292.2 L108.2 292.1 L112.7 291.2 L117.2 289.5 L121.7 287.3 L126.1 285.0 L130.6 282.9 L135.1 281.3 L139.6 280.5 L144.0 279.1 L148.5 277.3 L152.9 275.3 L157.3 273.5 L161.8 272.2 L166.2 271.5 L170.7 271.5 L175.1 272.3"/>
<path d="M24.0 267.4 L29.5 266.5 L34.9 266.2 L40.4 266.4 L45.9 267.2 L51.3 268.5 L56.8 269.9 L62.2 271.4 L67.7 272.7 L72.2 271.6 L76.7 270.5 L81.2 269.6 L85.7 269.0 L90.2 268.9 L94.7 269.1 L99.2 269.8 L103.7 270.7 L108.2 271.8 L112.7 272.9 L117.2 273.6 L121.7 274.0 L126.1 274.0 L130.6 273.5 L135.1 272.7 L139.6 271.7 L144.0 271.4 L148.5 270.9 L152.9 270.4 L157.3 269.9 L161.8 269.5 L166.2 269.2 L170.7 269.1 L175.1 269.3"/>
<path d="M24.0 227.3 L29.5 226.2 L34.9 224.8 L40.4 223.4 L45.9 222.1 L51.3 221.1 L56.8 220.7 L62.2 220.8 L67.7 221.5 L72.2 221.0 L76.7 220.3 L81.2 219.5 L85.7 218.7 L90.2 218.0 L94.7 217.5 L99.2 217.3 L103.7 217.4 L108.2 217.4 L112.7 217.6 L117.2 218.2 L121.7 218.9 L126.1 219.7 L130.6 220.4 L135.1 221.0 L139.6 221.3 L144.0 221.0 L148.5 220.9 L152.9 221.0 L157.3 221.3 L161.8 221.7 L166.2 222.3 L170.7 222.8 L175.1 223.3"/>
<path d="M24.0 245.0 L29.5 243.6 L34.9 240.4 L40.4 235.8 L45.9 230.5 L51.3 225.3 L56.8 221.0 L62.2 218.4 L67.7 217.7 L72.2 217.1 L76.7 216.3 L81.2 215.7 L85.7 215.1 L90.2 214.8 L94.7 214.7 L99.2 214.9 L103.7 215.3 L108.2 215.4 L112.7 215.3 L117.2 215.0 L121.7 214.6 L126.1 214.0 L130.6 213.5 L135.1 213.0 L139.6 212.7 L144.0 214.7 L148.5 218.4 L152.9 223.2 L157.3 228.4 L161.8 233.2 L166.2 236.8 L170.7 238.8 L175.1 238.8"/>
<path d="M24.0 276.2 L29.5 275.5 L34.9 275.1 L40.4 275.1 L45.9 275.6 L51.3 276.3 L56.8 277.3 L62.2 278.3 L67.7 279.3 L72.2 278.2 L76.7 277.8 L81.2 278.2 L85.7 279.1 L90.2 280.6 L94.7 282.3 L99.2 284.1 L103.7 285.6 L108.2 284.9 L112.7 284.9 L117.2 285.7 L121.7 287.0 L126.1 288.8 L130.6 290.7 L135.1 292.4 L139.6 293.7 L144.0 293.3 L148.5 291.8 L152.9 289.3 L157.3 286.3 L161.8 283.3 L166.2 280.6 L170.7 278.7 L175.1 277.9"/>
<path d="M24.0 233.2 L29.5 232.4 L34.9 230.7 L40.4 228.3 L45.9 225.6 L51.3 222.9 L56.8 220.7 L62.2 219.4 L67.7 219.1 L72.2 219.9 L76.7 221.7 L81.2 224.0 L85.7 226.6 L90.2 229.0 L94.7 230.9 L99.2 232.0 L103.7 232.1 L108.2 231.7 L112.7 230.3 L117.2 228.1 L121.7 225.4 L126.1 222.8 L130.6 220.4 L135.1 218.8 L139.6 218.2 L144.0 219.1 L148.5 221.2 L152.9 224.1 L157.3 227.4 L161.8 230.6 L166.2 233.2 L170.7 234.8 L175.1 235.2"/>
<path d="M24.0 273.5 L29.5 274.8 L34.9 276.3 L40.4 277.7 L45.9 278.8 L51.3 279.4 L56.8 279.5 L62.2 279.1 L67.7 278.1 L72.2 279.0 L76.7 279.7 L81.2 279.9 L85.7 279.8 L90.2 279.2 L94.7 278.4 L99.2 277.3 L103.7 276.3 L108.2 275.5 L112.7 275.0 L117.2 274.9 L121.7 275.1 L126.1 275.7 L130.6 276.5 L135.1 277.4 L139.6 278.3 L144.0 278.7 L148.5 278.8 L152.9 278.7 L157.3 278.4 L161.8 278.0 L166.2 277.5 L170.7 276.9 L175.1 276.5"/>
<path d="M24.0 273.0 L29.5 273.7 L34.9 274.2 L40.4 274.3 L45.9 274.1 L51.3 273.6 L56.8 272.9 L62.2 272.0 L67.7 271.1 L72.2 271.2 L76.7 271.4 L81.2 271.8 L85.7 272.4 L90.2 273.1 L94.7 273.6 L99.2 274.1 L103.7 274.3 L108.2 273.5 L112.7 272.6 L117.2 271.8 L121.7 271.2 L126.1 270.9 L130.6 271.0 L135.1 271.3 L139.6 272.0 L144.0 271.5 L148.5 270.5 L152.9 269.1 L157.3 267.5 L161.8 265.9 L166.2 264.6 L170.7 263.9 L175.1 263.7"/>
<path d="M24.0 237.7 L26.7 237.7 L29.5 237.6 L32.2 237.5 L34.9 237.5 L37.7 237.4 L40.4 237.3 L43.1 236.8 L45.9 236.0 L48.6 235.4 L51.3 234.8 L54.0 234.3 L56.8 233.9 L59.5 233.6 L62.2 233.4 L65.0 233.3 L67.7 233.3 L70.0 233.3 L72.2 233.4 L74.5 233.5 L76.7 233.6 L79.0 233.7 L81.2 233.9 L83.5 234.1 L85.7 234.4 L88.0 234.7 L90.2 235.0 L92.5 235.4 L94.7 235.6 L97.0 235.4 L99.2 235.3 L101.5 235.2 L103.7 235.2 L105.9 235.1 L108.2 235.1 L110.4 235.0 L112.7 235.0 L114.9 235.0 L117.2 234.6 L119.4 234.0 L121.7 233.6 L123.9 233.2 L126.1 232.8 L128.4 232.6 L130.6 232.4 L132.9 232.3 L135.1 232.2 L137.4 232.2 L139.6 232.2 L141.8 232.2 L144.0 232.3 L146.3 232.3 L148.5 232.4 L150.7 232.6 L152.9 232.7 L155.1 233.0 L157.3 233.3 L159.6 233.6 L161.8 234.1 L164.0 234.4 L166.2 234.3 L168.4 234.2 L170.7 234.2 L172.9 234.1 L175.1 234.1"/>
<path d="M24.0 254.2 L29.5 254.2 L34.9 255.1 L40.4 257.0 L45.9 259.6 L51.3 262.3 L56.8 264.9 L62.2 266.9 L67.7 268.1 L72.2 266.5 L76.7 263.5 L81.2 259.5 L85.7 255.0 L90.2 250.9 L94.7 247.6 L99.2 245.8 L103.7 245.6 L108.2 246.9 L112.7 248.2 L117.2 249.3 L121.7 250.1 L126.1 250.3 L130.6 250.1 L135.1 249.3 L139.6 248.2 L144.0 248.4 L148.5 250.3 L152.9 253.4 L157.3 257.3 L161.8 261.4 L166.2 265.2 L170.7 267.9 L175.1 269.3"/>
<path d="M24.0 278.7 L29.5 277.9 L34.9 277.1 L40.4 276.6 L45.9 276.3 L51.3 276.4 L56.8 276.8 L62.2 277.4 L67.7 278.1 L72.2 277.6 L76.7 277.4 L81.2 277.6 L85.7 278.2 L90.2 279.1 L94.7 280.0 L99.2 281.0 L103.7 281.8 L108.2 282.4 L112.7 282.6 L117.2 282.3 L121.7 281.6 L126.1 280.5 L130.6 279.3 L135.1 278.2 L139.6 277.2 L144.0 276.6 L148.5 276.2 L152.9 275.9 L157.3 275.8 L161.8 275.9 L166.2 276.3 L170.7 276.8 L175.1 277.3"/>
<path d="M24.0 292.4 L29.5 293.2 L34.9 293.7 L40.4 293.7 L45.9 293.2 L51.3 292.4 L56.8 291.3 L62.2 290.2 L67.7 289.1 L72.2 289.2 L76.7 288.2 L81.2 286.3 L85.7 283.8 L90.2 281.1 L94.7 278.6 L99.2 276.6 L103.7 275.5 L108.2 276.8 L112.7 278.3 L117.2 279.5 L121.7 280.5 L126.1 280.9 L130.6 280.8 L135.1 280.2 L139.6 279.1 L144.0 278.5 L148.5 277.8 L152.9 277.1 L157.3 276.4 L161.8 276.0 L166.2 275.8 L170.7 275.8 L175.1 276.2"/>
<path d="M24.0 242.6 L29.5 242.9 L34.9 241.8 L40.4 239.5 L45.9 236.2 L51.3 232.5 L56.8 228.9 L62.2 226.0 L67.7 224.3 L72.2 225.1 L76.7 226.2 L81.2 227.6 L85.7 229.0 L90.2 230.1 L94.7 230.8 L99.2 231.1 L103.7 230.8 L108.2 230.8 L112.7 229.8 L117.2 227.8 L121.7 225.1 L126.1 222.2 L130.6 219.5 L135.1 217.5 L139.6 216.3 L144.0 216.7 L148.5 218.2 L152.9 220.6 L157.3 223.7 L161.8 226.8 L166.2 229.6 L170.7 231.6 L175.1 232.5"/>
<path d="M24.0 210.8 L29.5 211.2 L34.9 213.0 L40.4 215.9 L45.9 219.5 L51.3 223.3 L56.8 226.7 L62.2 229.1 L67.7 230.2 L72.2 229.4 L76.7 227.3 L81.2 224.4 L85.7 221.0 L90.2 217.6 L94.7 214.8 L99.2 213.0 L103.7 212.4 L108.2 213.7 L112.7 216.0 L117.2 219.1 L121.7 222.4 L126.1 225.5 L130.6 227.8 L135.1 229.1 L139.6 229.1 L144.0 230.0 L148.5 230.5 L152.9 230.4 L157.3 229.7 L161.8 228.5 L166.2 227.1 L170.7 225.6 L175.1 224.3"/>
<path d="M24.0 227.2 L29.5 227.3 L34.9 227.8 L40.4 228.6 L45.9 229.6 L51.3 230.6 L56.8 231.4 L62.2 232.0 L67.7 232.2 L72.2 232.0 L76.7 231.0 L81.2 229.3 L85.7 227.3 L90.2 225.2 L94.7 223.4 L99.2 222.0 L103.7 221.4 L108.2 221.8 L112.7 222.8 L117.2 224.5 L121.7 226.5 L126.1 228.6 L130.6 230.4 L135.1 231.6 L139.6 232.1 L144.0 231.5 L148.5 230.4 L152.9 229.0 L157.3 227.5 L161.8 226.2 L166.2 225.1 L170.7 224.6 L175.1 224.6"/>
<path d="M24.0 255.1 L29.5 254.1 L34.9 253.6 L40.4 253.6 L45.9 254.2 L51.3 255.3 L56.8 256.6 L62.2 258.0 L67.7 259.3 L72.2 259.5 L76.7 259.5 L81.2 259.1 L85.7 258.5 L90.2 257.8 L94.7 257.0 L99.2 256.3 L103.7 255.8 L108.2 256.6 L112.7 257.6 L117.2 258.5 L121.7 259.3 L126.1 259.8 L130.6 259.9 L135.1 259.7 L139.6 259.2 L144.0 259.4 L148.5 259.6 L152.9 259.7 L157.3 259.9 L161.8 260.0 L166.2 260.0 L170.7 259.9 L175.1 259.8"/>
<path d="M24.0 262.0 L29.5 262.2 L34.9 262.9 L40.4 263.8 L45.9 265.0 L51.3 266.1 L56.8 267.0 L62.2 267.6 L67.7 267.8 L72.2 267.3 L76.7 266.1 L81.2 264.4 L85.7 262.4 L90.2 260.5 L94.7 259.0 L99.2 258.0 L103.7 257.7 L108.2 258.8 L112.7 260.6 L117.2 262.7 L121.7 264.9 L126.1 266.8 L130.6 268.1 L135.1 268.7 L139.6 268.4 L144.0 268.2 L148.5 268.0 L152.9 267.8 L157.3 267.7 L161.8 267.7 L166.2 267.8 L170.7 267.9 L175.1 268.1"/>
<path d="M24.0 228.9 L29.5 227.4 L34.9 225.7 L40.4 224.0 L45.9 222.6 L51.3 221.7 L56.8 221.4 L62.2 221.8 L67.7 222.8 L72.2 224.3 L76.7 226.0 L81.2 227.7 L85.7 229.2 L90.2 230.2 L94.7 230.5 L99.2 230.2 L103.7 229.3 L108.2 228.8 L112.7 227.8 L117.2 226.3 L121.7 224.7 L126.1 223.2 L130.6 221.9 L135.1 221.1 L139.6 221.0 L144.0 220.3 L148.5 219.9 L152.9 219.6 L157.3 219.7 L161.8 220.1 L166.2 220.6 L170.7 221.3 L175.1 222.1"/>
<path d="M24.0 237.0 L26.7 236.9 L29.5 236.9 L32.2 236.8 L34.9 236.8 L37.7 236.8 L40.4 236.8 L43.1 236.3 L45.9 235.5 L48.6 234.8 L51.3 234.2 L54.0 233.7 L56.8 233.3 L59.5 233.1 L62.2 232.9 L65.0 232.8 L67.7 232.9 L70.0 233.0 L72.2 233.2 L74.5 233.5 L76.7 233.9 L79.0 234.4 L81.2 235.0 L83.5 235.7 L85.7 236.4 L88.0 237.2 L90.2 238.0 L92.5 238.9 L94.7 239.4 L97.0 239.5 L99.2 239.5 L101.5 239.5 L103.7 239.4 L105.9 239.5 L108.2 239.5 L110.4 239.4 L112.7 239.4 L114.9 239.3 L117.2 238.6 L119.4 237.6 L121.7 236.7 L123.9 235.9 L126.1 235.2 L128.4 234.6 L130.6 234.0 L132.9 233.6 L135.1 233.3 L137.4 233.0 L139.6 232.9 L141.8 232.9 L144.0 233.0 L146.3 233.1 L148.5 233.4 L150.7 233.7 L152.9 234.1 L155.1 234.7 L157.3 235.3 L159.6 236.0 L161.8 236.8 L164.0 237.6 L166.2 237.6 L168.4 237.7 L170.7 237.8 L172.9 237.8 L175.1 237.9"/>
<path d="M24.0 227.5 L29.5 227.6 L34.9 228.3 L40.4 229.4 L45.9 230.7 L51.3 232.1 L56.8 233.3 L62.2 234.2 L67.7 234.6 L72.2 233.7 L76.7 233.1 L81.2 233.0 L85.7 233.5 L90.2 234.4 L94.7 235.6 L99.2 237.0 L103.7 238.2 L108.2 238.5 L112.7 238.4 L117.2 238.0 L121.7 237.3 L126.1 236.4 L130.6 235.5 L135.1 234.7 L139.6 234.1 L144.0 233.1 L148.5 232.2 L152.9 231.7 L157.3 231.6 L161.8 231.9 L166.2 232.6 L170.7 233.6 L175.1 234.7"/>
<path d="M24.0 291.4 L29.5 290.2 L34.9 289.0 L40.4 288.1 L45.9 287.5 L51.3 287.4 L56.8 287.8 L62.2 288.7 L67.7 289.8 L72.2 288.5 L76.7 287.5 L81.2 286.7 L85.7 286.4 L90.2 286.6 L94.7 287.2 L99.2 288.2 L103.7 289.4 L108.2 289.3 L112.7 289.4 L117.2 289.6 L121.7 289.8 L126.1 290.1 L130.6 290.3 L135.1 290.5 L139.6 290.6 L144.0 291.8 L148.5 292.5 L152.9 292.7 L157.3 292.2 L161.8 291.3 L166.2 290.0 L170.7 288.5 L175.1 287.1"/>
<path d="M24.0 274.6 L29.5 276.0 L34.9 277.5 L40.4 279.1 L45.9 280.3 L51.3 281.0 L56.8 281.2 L62.2 280.8 L67.7 279.8 L72.2 279.9 L76.7 280.2 L81.2 280.4 L85.7 280.6 L90.2 280.8 L94.7 280.9 L99.2 280.9 L103.7 280.8 L108.2 281.3 L112.7 281.7 L117.2 282.0 L121.7 282.0 L126.1 281.7 L130.6 281.3 L135.1 280.8 L139.6 280.2 L144.0 280.4 L148.5 280.2 L152.9 279.5 L157.3 278.6 L161.8 277.4 L166.2 276.3 L170.7 275.3 L175.1 274.7"/>
<path d="M24.0 229.9 L29.5 230.1 L34.9 230.1 L40.4 229.9 L45.9 229.5 L51.3 228.9 L56.8 228.3 L62.2 227.8 L67.7 227.4 L72.2 226.7 L76.7 226.2 L81.2 226.0 L85.7 226.3 L90.2 226.8 L94.7 227.7 L99.2 228.6 L103.7 229.5 L108.2 228.7 L112.7 227.8 L117.2 227.0 L121.7 226.4 L126.1 226.2 L130.6 226.2 L135.1 226.6 L139.6 227.3 L144.0 226.4 L148.5 225.9 L152.9 225.7 L157.3 225.9 L161.8 226.6 L166.2 227.5 L170.7 228.5 L175.1 229.6"/>
<path d="M24.0 264.4 L29.5 262.8 L34.9 260.3 L40.4 257.4 L45.9 254.5 L51.3 252.0 L56.8 250.3 L62.2 249.7 L67.7 250.3 L72.2 249.4 L76.7 248.2 L81.2 246.8 L85.7 245.5 L90.2 244.5 L94.7 243.9 L99.2 243.9 L103.7 244.3 L108.2 246.0 L112.7 249.4 L117.2 254.2 L121.7 259.5 L126.1 264.5 L130.6 268.6 L135.1 271.0 L139.6 271.4 L144.0 269.5 L148.5 266.0 L152.9 261.2 L157.3 256.1 L161.8 251.3 L166.2 247.5 L170.7 245.5 L175.1 245.3"/>
<path d="M24.0 239.4 L26.7 239.4 L29.5 239.5 L32.2 239.5 L34.9 239.5 L37.7 239.5 L40.4 239.5 L43.1 239.0 L45.9 238.1 L48.6 237.3 L51.3 236.6 L54.0 235.9 L56.8 235.4 L59.5 235.0 L62.2 234.7 L65.0 234.5 L67.7 234.4 L70.0 234.4 L72.2 234.4 L74.5 234.5 L76.7 234.6 L79.0 234.7 L81.2 234.9 L83.5 235.1 L85.7 235.5 L88.0 235.9 L90.2 236.3 L92.5 236.9 L94.7 237.2 L97.0 237.1 L99.2 237.0 L101.5 237.0 L103.7 237.0 L105.9 237.0 L108.2 237.1 L110.4 237.2 L112.7 237.4 L114.9 237.6 L117.2 237.2 L119.4 236.6 L121.7 236.0 L123.9 235.6 L126.1 235.2 L128.4 234.9 L130.6 234.7 L132.9 234.5 L135.1 234.3 L137.4 234.2 L139.6 234.1 L141.8 234.2 L144.0 234.4 L146.3 234.6 L148.5 234.9 L150.7 235.3 L152.9 235.8 L155.1 236.4 L157.3 237.0 L159.6 237.7 L161.8 238.5 L164.0 239.1 L166.2 239.1 L168.4 239.1 L170.7 239.1 L172.9 239.0 L175.1 239.0"/>
<path d="M24.0 228.1 L29.5 228.1 L34.9 228.2 L40.4 228.5 L45.9 229.0 L51.3 229.6 L56.8 230.2 L62.2 230.6 L67.7 231.0 L72.2 229.8 L76.7 228.8 L81.2 228.1 L85.7 227.7 L90.2 227.8 L94.7 228.3 L99.2 229.1 L103.7 230.2 L108.2 231.0 L112.7 231.8 L117.2 232.4 L121.7 232.8 L126.1 232.8 L130.6 232.5 L135.1 232.0 L139.6 231.2 L144.0 229.9 L148.5 228.4 L152.9 227.1 L157.3 226.2 L161.8 225.7 L166.2 225.8 L170.7 226.4 L175.1 227.5"/>
<path d="M24.0 233.3 L26.7 233.2 L29.5 233.2 L32.2 233.4 L34.9 233.5 L37.7 233.8 L40.4 234.0 L43.1 234.0 L45.9 233.8 L48.6 233.6 L51.3 233.5 L54.0 233.5 L56.8 233.5 L59.5 233.5 L62.2 233.6 L65.0 233.6 L67.7 233.7 L70.0 233.8 L72.2 233.9 L74.5 234.1 L76.7 234.3 L79.0 234.6 L81.2 234.9 L83.5 235.3 L85.7 235.7 L88.0 236.1 L90.2 236.6 L92.5 237.2 L94.7 237.5 L97.0 237.5 L99.2 237.5 L101.5 237.5 L103.7 237.4 L105.9 237.4 L108.2 237.4 L110.4 237.4 L112.7 237.3 L114.9 237.2 L117.2 236.7 L119.4 236.0 L121.7 235.4 L123.9 234.8 L126.1 234.3 L128.4 233.9 L130.6 233.5 L132.9 233.2 L135.1 232.9 L137.4 232.8 L139.6 232.7 L141.8 232.8 L144.0 232.9 L146.3 233.1 L148.5 233.4 L150.7 233.7 L152.9 234.2 L155.1 234.6 L157.3 235.2 L159.6 235.7 L161.8 236.4 L164.0 236.9 L166.2 237.0 L168.4 237.1 L170.7 237.1 L172.9 237.1 L175.1 237.1"/>
<path d="M24.0 286.8 L29.5 287.3 L34.9 287.4 L40.4 287.2 L45.9 286.6 L51.3 285.8 L56.8 284.8 L62.2 283.9 L67.7 283.1 L72.2 282.6 L76.7 282.9 L81.2 284.1 L85.7 285.9 L90.2 288.0 L94.7 290.2 L99.2 292.1 L103.7 293.5 L108.2 292.9 L112.7 291.7 L117.2 290.0 L121.7 288.1 L126.1 286.2 L130.6 284.7 L135.1 283.8 L139.6 283.5 L144.0 283.7 L148.5 284.1 L152.9 284.8 L157.3 285.7 L161.8 286.6 L166.2 287.3 L170.7 287.8 L175.1 288.0"/>
<path d="M24.0 261.2 L29.5 260.7 L34.9 260.1 L40.4 259.4 L45.9 258.9 L51.3 258.4 L56.8 258.2 L62.2 258.3 L67.7 258.6 L72.2 257.4 L76.7 256.3 L81.2 255.5 L85.7 255.1 L90.2 255.1 L94.7 255.5 L99.2 256.4 L103.7 257.4 L108.2 257.1 L112.7 256.9 L117.2 257.0 L121.7 257.3 L126.1 257.7 L130.6 258.2 L135.1 258.7 L139.6 259.2 L144.0 258.7 L148.5 258.3 L152.9 258.2 L157.3 258.2 L161.8 258.5 L166.2 259.0 L170.7 259.5 L175.1 260.1"/>
<path d="M24.0 282.9 L29.5 283.3 L34.9 284.0 L40.4 284.9 L45.9 286.0 L51.3 286.9 L56.8 287.7 L62.2 288.2 L67.7 288.3 L72.2 287.6 L76.7 287.1 L81.2 286.8 L85.7 286.7 L90.2 286.9 L94.7 287.3 L99.2 287.9 L103.7 288.6 L108.2 287.7 L112.7 286.9 L117.2 286.4 L121.7 286.3 L126.1 286.6 L130.6 287.2 L135.1 288.0 L139.6 289.0 L144.0 287.9 L148.5 286.1 L152.9 283.9 L157.3 281.8 L161.8 279.9 L166.2 278.6 L170.7 278.2 L175.1 278.5"/>
<path d="M24.0 283.0 L29.5 282.8 L34.9 282.8 L40.4 282.9 L45.9 283.2 L51.3 283.6 L56.8 284.0 L62.2 284.4 L67.7 284.7 L72.2 284.5 L76.7 284.1 L81.2 283.6 L85.7 283.0 L90.2 282.5 L94.7 282.0 L99.2 281.8 L103.7 281.8 L108.2 283.1 L112.7 284.6 L117.2 286.1 L121.7 287.4 L126.1 288.3 L130.6 288.6 L135.1 288.3 L139.6 287.4 L144.0 288.3 L148.5 288.8 L152.9 288.9 L157.3 288.6 L161.8 287.9 L166.2 286.9 L170.7 285.8 L175.1 284.8"/>
<path d="M24.0 256.3 L29.5 257.0 L34.9 257.8 L40.4 258.7 L45.9 259.5 L51.3 260.2 L56.8 260.5 L62.2 260.4 L67.7 260.1 L72.2 260.8 L76.7 261.1 L81.2 261.0 L85.7 260.4 L90.2 259.5 L94.7 258.4 L99.2 257.3 L103.7 256.3 L108.2 256.9 L112.7 257.7 L117.2 258.6 L121.7 259.6 L126.1 260.4 L130.6 260.9 L135.1 261.1 L139.6 260.9 L144.0 261.0 L148.5 261.4 L152.9 262.0 L157.3 262.6 L161.8 263.2 L166.2 263.7 L170.7 264.0 L175.1 264.1"/>
<path d="M24.0 284.4 L29.5 285.3 L34.9 285.6 L40.4 285.2 L45.9 284.4 L51.3 283.1 L56.8 281.5 L62.2 280.0 L67.7 278.7 L72.2 280.4 L76.7 282.6 L81.2 285.0 L85.7 287.2 L90.2 288.9 L94.7 289.9 L99.2 289.9 L103.7 289.0 L108.2 288.2 L112.7 286.8 L117.2 284.8 L121.7 282.7 L126.1 280.8 L130.6 279.2 L135.1 278.4 L139.6 278.4 L144.0 277.6 L148.5 277.0 L152.9 276.8 L157.3 277.0 L161.8 277.5 L166.2 278.3 L170.7 279.2 L175.1 280.1"/>
<path d="M24.0 259.8 L29.5 259.9 L34.9 260.4 L40.4 261.2 L45.9 262.1 L51.3 263.1 L56.8 264.0 L62.2 264.6 L67.7 264.9 L72.2 264.8 L76.7 264.5 L81.2 264.1 L85.7 263.6 L90.2 263.1 L94.7 262.7 L99.2 262.4 L103.7 262.4 L108.2 262.8 L112.7 263.5 L117.2 264.2 L121.7 264.9 L126.1 265.5 L130.6 265.8 L135.1 265.9 L139.6 265.7 L144.0 266.4 L148.5 267.0 L152.9 267.3 L157.3 267.3 L161.8 267.0 L166.2 266.5 L170.7 265.7 L175.1 264.9"/>
<path d="M24.0 277.5 L29.5 278.7 L34.9 280.5 L40.4 282.8 L45.9 285.2 L51.3 287.3 L56.8 288.7 L62.2 289.4 L67.7 289.1 L72.2 289.6 L76.7 289.7 L81.2 289.4 L85.7 288.8 L90.2 287.9 L94.7 286.9 L99.2 285.9 L103.7 285.1 L108.2 284.5 L112.7 284.3 L117.2 284.5 L121.7 285.0 L126.1 285.9 L130.6 286.9 L135.1 287.9 L139.6 288.7 L144.0 288.6 L148.5 288.3 L152.9 287.9 L157.3 287.4 L161.8 286.9 L166.2 286.5 L170.7 286.2 L175.1 286.2"/>
<path d="M24.0 230.4 L29.5 230.1 L34.9 230.0 L40.4 230.2 L45.9 230.5 L51.3 231.0 L56.8 231.5 L62.2 232.1 L67.7 232.5 L72.2 233.3 L76.7 233.9 L81.2 234.3 L85.7 234.5 L90.2 234.3 L94.7 233.8 L99.2 233.2 L103.7 232.4 L108.2 232.0 L112.7 231.5 L117.2 231.0 L121.7 230.6 L126.1 230.3 L130.6 230.2 L135.1 230.2 L139.6 230.5 L144.0 229.5 L148.5 228.7 L152.9 228.1 L157.3 227.7 L161.8 227.7 L166.2 228.1 L170.7 228.7 L175.1 229.6"/>
<path d="M24.0 275.2 L29.5 276.5 L34.9 277.9 L40.4 279.1 L45.9 279.9 L51.3 280.2 L56.8 280.0 L62.2 279.3 L67.7 278.2 L72.2 278.8 L76.7 279.6 L81.2 280.5 L85.7 281.4 L90.2 282.1 L94.7 282.5 L99.2 282.6 L103.7 282.4 L108.2 280.9 L112.7 279.4 L117.2 278.0 L121.7 277.0 L126.1 276.5 L130.6 276.6 L135.1 277.2 L139.6 278.3 L144.0 279.3 L148.5 280.6 L152.9 282.0 L157.3 283.3 L161.8 284.2 L166.2 284.7 L170.7 284.6 L175.1 284.1"/>
<path d="M24.0 230.1 L29.5 228.9 L34.9 227.8 L40.4 227.1 L45.9 226.8 L51.3 227.0 L56.8 227.6 L62.2 228.6 L67.7 229.8 L72.2 229.5 L76.7 228.1 L81.2 225.9 L85.7 223.0 L90.2 220.1 L94.7 217.5 L99.2 215.6 L103.7 214.8 L108.2 216.1 L112.7 217.5 L117.2 218.6 L121.7 219.2 L126.1 219.4 L130.6 219.1 L135.1 218.3 L139.6 217.1 L144.0 216.4 L148.5 216.1 L152.9 216.4 L157.3 217.2 L161.8 218.3 L166.2 219.6 L170.7 221.0 L175.1 222.1"/>
<path d="M24.0 239.8 L26.7 239.8 L29.5 239.7 L32.2 239.6 L34.9 239.4 L37.7 239.1 L40.4 238.9 L43.1 238.1 L45.9 236.9 L48.6 235.8 L51.3 234.9 L54.0 234.0 L56.8 233.3 L59.5 232.7 L62.2 232.3 L65.0 232.0 L67.7 231.9 L70.0 232.0 L72.2 232.2 L74.5 232.4 L76.7 232.8 L79.0 233.2 L81.2 233.6 L83.5 234.1 L85.7 234.7 L88.0 235.3 L90.2 236.0 L92.5 236.7 L94.7 237.1 L97.0 237.1 L99.2 237.1 L101.5 237.0 L103.7 237.0 L105.9 236.9 L108.2 236.8 L110.4 236.8 L112.7 236.8 L114.9 236.8 L117.2 236.2 L119.4 235.5 L121.7 234.9 L123.9 234.4 L126.1 234.0 L128.4 233.7 L130.6 233.4 L132.9 233.2 L135.1 233.1 L137.4 233.1 L139.6 233.2 L141.8 233.1 L144.0 233.2 L146.3 233.3 L148.5 233.6 L150.7 233.9 L152.9 234.3 L155.1 234.8 L157.3 235.5 L159.6 236.1 L161.8 236.9 L164.0 237.6 L166.2 237.7 L168.4 237.8 L170.7 237.9 L172.9 238.0 L175.1 238.0"/>
<path d="M24.0 241.0 L26.7 241.0 L29.5 241.1 L32.2 241.2 L34.9 241.3 L37.7 241.4 L40.4 241.6 L43.1 242.4 L45.9 243.6 L48.6 244.8 L51.3 245.7 L54.0 246.6 L56.8 247.3 L59.5 247.9 L62.2 248.3 L65.0 248.5 L67.7 248.6 L70.0 248.6 L72.2 248.5 L74.5 248.4 L76.7 248.2 L79.0 247.9 L81.2 247.5 L83.5 247.1 L85.7 246.5 L88.0 245.9 L90.2 245.2 L92.5 244.3 L94.7 243.8 L97.0 243.9 L99.2 243.9 L101.5 243.9 L103.7 243.8 L105.9 243.8 L108.2 243.7 L110.4 243.7 L112.7 243.6 L114.9 243.5 L117.2 244.1 L119.4 244.9 L121.7 245.6 L123.9 246.2 L126.1 246.7 L128.4 247.2 L130.6 247.5 L132.9 247.8 L135.1 248.0 L137.4 248.2 L139.6 248.2 L141.8 248.2 L144.0 248.1 L146.3 247.9 L148.5 247.6 L150.7 247.1 L152.9 246.6 L155.1 246.0 L157.3 245.3 L159.6 244.4 L161.8 243.5 L164.0 242.6 L166.2 242.6 L168.4 242.5 L170.7 242.5 L172.9 242.4 L175.1 242.4"/>
<path d="M24.0 290.4 L29.5 289.6 L34.9 289.0 L40.4 288.8 L45.9 288.9 L51.3 289.3 L56.8 289.9 L62.2 290.8 L67.7 291.7 L72.2 292.1 L76.7 292.1 L81.2 291.7 L85.7 291.0 L90.2 290.0 L94.7 289.0 L99.2 288.1 L103.7 287.3 L108.2 286.3 L112.7 285.7 L117.2 285.7 L121.7 286.2 L126.1 287.3 L130.6 288.7 L135.1 290.1 L139.6 291.5 L144.0 291.3 L148.5 290.9 L152.9 290.6 L157.3 290.3 L161.8 290.0 L166.2 289.9 L170.7 289.9 L175.1 290.1"/>
<path d="M24.0 266.5 L29.5 266.1 L34.9 266.1 L40.4 266.6 L45.9 267.5 L51.3 268.6 L56.8 269.7 L62.2 270.7 L67.7 271.5 L72.2 272.4 L76.7 273.0 L81.2 273.4 L85.7 273.5 L90.2 273.2 L94.7 272.6 L99.2 271.8 L103.7 270.9 L108.2 269.8 L112.7 268.5 L117.2 267.3 L121.7 266.5 L126.1 266.0 L130.6 266.0 L135.1 266.4 L139.6 267.3 L144.0 267.6 L148.5 267.9 L152.9 268.3 L157.3 268.7 L161.8 269.1 L166.2 269.3 L170.7 269.4 L175.1 269.3"/>
<path d="M24.0 237.5 L26.7 237.4 L29.5 237.4 L32.2 237.4 L34.9 237.4 L37.7 237.4 L40.4 237.4 L43.1 237.0 L45.9 236.2 L48.6 235.5 L51.3 234.9 L54.0 234.4 L56.8 234.0 L59.5 233.7 L62.2 233.6 L65.0 233.5 L67.7 233.5 L70.0 233.5 L72.2 233.6 L74.5 233.7 L76.7 233.9 L79.0 234.2 L81.2 234.5 L83.5 234.9 L85.7 235.4 L88.0 236.0 L90.2 236.6 L92.5 237.3 L94.7 237.7 L97.0 237.7 L99.2 237.7 L101.5 237.7 L103.7 237.7 L105.9 237.7 L108.2 237.8 L110.4 237.8 L112.7 237.8 L114.9 237.8 L117.2 237.2 L119.4 236.4 L121.7 235.6 L123.9 234.9 L126.1 234.3 L128.4 233.7 L130.6 233.2 L132.9 232.8 L135.1 232.5 L137.4 232.3 L139.6 232.2 L141.8 232.3 L144.0 232.5 L146.3 232.9 L148.5 233.3 L150.7 233.9 L152.9 234.7 L155.1 235.5 L157.3 236.4 L159.6 237.4 L161.8 238.5 L164.0 239.5 L166.2 239.7 L168.4 239.9 L170.7 240.0 L172.9 240.1 L175.1 240.2"/>
<path d="M24.0 241.1 L26.7 241.2 L29.5 241.4 L32.2 241.6 L34.9 241.9 L37.7 242.2 L40.4 242.5 L43.1 243.4 L45.9 244.7 L48.6 245.9 L51.3 247.0 L54.0 247.9 L56.8 248.7 L59.5 249.2 L62.2 249.6 L65.0 249.8 L67.7 249.9 L70.0 249.9 L72.2 249.7 L74.5 249.5 L76.7 249.1 L79.0 248.6 L81.2 248.0 L83.5 247.2 L85.7 246.4 L88.0 245.5 L90.2 244.5 L92.5 243.4 L94.7 242.7 L97.0 242.5 L99.2 242.3 L101.5 242.2 L103.7 242.1 L105.9 242.1 L108.2 242.2 L110.4 242.3 L112.7 242.4 L114.9 242.6 L117.2 243.5 L119.4 244.6 L121.7 245.7 L123.9 246.6 L126.1 247.5 L128.4 248.2 L130.6 248.8 L132.9 249.3 L135.1 249.6 L137.4 249.9 L139.6 249.9 L141.8 249.9 L144.0 249.6 L146.3 249.3 L148.5 248.9 L150.7 248.3 L152.9 247.6 L155.1 246.9 L157.3 246.0 L159.6 245.0 L161.8 244.0 L164.0 243.0 L166.2 242.9 L168.4 242.8 L170.7 242.8 L172.9 242.7 L175.1 242.7"/>
<path d="M24.0 243.3 L26.7 243.3 L29.5 243.2 L32.2 243.1 L34.9 243.1 L37.7 243.1 L40.4 243.1 L43.1 243.6 L45.9 244.5 L48.6 245.3 L51.3 246.0 L54.0 246.7 L56.8 247.2 L59.5 247.7 L62.2 248.0 L65.0 248.3 L67.7 248.4 L70.0 248.4 L72.2 248.3 L74.5 248.2 L76.7 248.0 L79.0 247.8 L81.2 247.6 L83.5 247.3 L85.7 246.9 L88.0 246.5 L90.2 246.0 L92.5 245.4 L94.7 245.1 L97.0 245.2 L99.2 245.3 L101.5 245.4 L103.7 245.4 L105.9 245.5 L108.2 245.6 L110.4 245.6 L112.7 245.7 L114.9 245.7 L117.2 246.4 L119.4 247.2 L121.7 247.9 L123.9 248.5 L126.1 249.0 L128.4 249.4 L130.6 249.7 L132.9 249.9 L135.1 250.1 L137.4 250.1 L139.6 250.1 L141.8 250.0 L144.0 249.9 L146.3 249.6 L148.5 249.2 L150.7 248.8 L152.9 248.2 L155.1 247.6 L157.3 246.8 L159.6 246.0 L161.8 245.2 L164.0 244.4 L166.2 244.3 L168.4 244.2 L170.7 244.1 L172.9 244.1 L175.1 244.1"/>
<path d="M24.0 227.5 L29.5 228.4 L34.9 229.1 L40.4 229.7 L45.9 229.8 L51.3 229.7 L56.8 229.1 L62.2 228.4 L67.7 227.5 L72.2 227.6 L76.7 228.4 L81.2 229.9 L85.7 231.8 L90.2 233.8 L94.7 235.6 L99.2 236.9 L103.7 237.5 L108.2 236.2 L112.7 234.7 L117.2 233.4 L121.7 232.5 L126.1 232.1 L130.6 232.2 L135.1 232.9 L139.6 233.9 L144.0 233.3 L148.5 232.8 L152.9 232.5 L157.3 232.6 L161.8 232.9 L166.2 233.4 L170.7 234.1 L175.1 234.8"/>
<path d="M24.0 287.5 L29.5 288.5 L34.9 289.7 L40.4 290.9 L45.9 291.9 L51.3 292.6 L56.8 292.9 L62.2 292.7 L67.7 292.1 L72.2 290.8 L76.7 289.3 L81.2 288.0 L85.7 286.9 L90.2 286.3 L94.7 286.2 L99.2 286.7 L103.7 287.7 L108.2 287.8 L112.7 287.8 L117.2 287.7 L121.7 287.5 L126.1 287.3 L130.6 287.0 L135.1 286.7 L139.6 286.6 L144.0 286.1 L148.5 286.0 L152.9 286.1 L157.3 286.6 L161.8 287.2 L166.2 288.0 L170.7 288.7 L175.1 289.4"/>
<path d="M24.0 235.8 L26.7 235.7 L29.5 235.7 L32.2 235.7 L34.9 235.8 L37.7 235.9 L40.4 236.0 L43.1 235.8 L45.9 235.3 L48.6 234.9 L51.3 234.5 L54.0 234.3 L56.8 234.1 L59.5 234.0 L62.2 234.0 L65.0 234.0 L67.7 234.0 L70.0 234.1 L72.2 234.1 L74.5 234.2 L76.7 234.2 L79.0 234.3 L81.2 234.5 L83.5 234.6 L85.7 234.8 L88.0 235.0 L90.2 235.3 L92.5 235.7 L94.7 235.8 L97.0 235.6 L99.2 235.5 L101.5 235.4 L103.7 235.3 L105.9 235.4 L108.2 235.5 L110.4 235.7 L112.7 235.9 L114.9 236.1 L117.2 236.0 L119.4 235.6 L121.7 235.4 L123.9 235.2 L126.1 235.1 L128.4 235.0 L130.6 235.0 L132.9 234.9 L135.1 234.9 L137.4 234.9 L139.6 234.9 L141.8 234.9 L144.0 234.9 L146.3 235.0 L148.5 235.0 L150.7 235.1 L152.9 235.2 L155.1 235.3 L157.3 235.5 L159.6 235.7 L161.8 236.1 L164.0 236.3 L166.2 236.1 L168.4 235.8 L170.7 235.7 L172.9 235.6 L175.1 235.5"/>
<path d="M24.0 213.8 L29.5 214.1 L34.9 214.3 L40.4 214.5 L45.9 214.7 L51.3 214.7 L56.8 214.6 L62.2 214.4 L67.7 214.1 L72.2 215.2 L76.7 216.0 L81.2 216.6 L85.7 216.7 L90.2 216.4 L94.7 215.7 L99.2 214.7 L103.7 213.6 L108.2 213.0 L112.7 212.7 L117.2 212.6 L121.7 212.8 L126.1 213.2 L130.6 213.7 L135.1 214.4 L139.6 215.1 L144.0 215.2 L148.5 215.7 L152.9 216.5 L157.3 217.5 L161.8 218.6 L166.2 219.5 L170.7 220.2 L175.1 220.5"/>
<path d="M24.0 226.5 L29.5 227.6 L34.9 228.8 L40.4 229.8 L45.9 230.5 L51.3 230.8 L56.8 230.7 L62.2 230.1 L67.7 229.2 L72.2 230.0 L76.7 230.7 L81.2 231.3 L85.7 231.6 L90.2 231.7 L94.7 231.4 L99.2 230.9 L103.7 230.2 L108.2 230.6 L112.7 231.0 L117.2 231.3 L121.7 231.6 L126.1 231.6 L130.6 231.5 L135.1 231.3 L139.6 230.9 L144.0 231.3 L148.5 231.5 L152.9 231.6 L157.3 231.4 L161.8 231.1 L166.2 230.7 L170.7 230.2 L175.1 229.7"/>
<path d="M24.0 278.6 L29.5 277.9 L34.9 276.4 L40.4 274.3 L45.9 271.8 L51.3 269.5 L56.8 267.5 L62.2 266.3 L67.7 266.0 L72.2 265.4 L76.7 265.7 L81.2 266.8 L85.7 268.6 L90.2 270.8 L94.7 273.0 L99.2 274.9 L103.7 276.3 L108.2 275.6 L112.7 276.0 L117.2 277.4 L121.7 279.6 L126.1 282.4 L130.6 285.2 L135.1 287.6 L139.6 289.3 L144.0 288.2 L148.5 287.0 L152.9 285.8 L157.3 284.8 L161.8 284.2 L166.2 284.1 L170.7 284.4 L175.1 285.2"/>
<path d="M24.0 287.6 L29.5 285.8 L34.9 283.0 L40.4 279.7 L45.9 276.2 L51.3 273.3 L56.8 271.2 L62.2 270.4 L67.7 270.9 L72.2 270.1 L76.7 269.6 L81.2 269.2 L85.7 269.1 L90.2 269.4 L94.7 269.8 L99.2 270.5 L103.7 271.3 L108.2 272.2 L112.7 273.0 L117.2 273.5 L121.7 273.6 L126.1 273.3 L130.6 272.7 L135.1 271.9 L139.6 270.9 L144.0 270.7 L148.5 271.7 L152.9 273.7 L157.3 276.4 L161.8 279.4 L166.2 282.3 L170.7 284.6 L175.1 286.0"/>
<path d="M24.0 243.8 L26.7 243.8 L29.5 243.8 L32.2 243.8 L34.9 243.8 L37.7 243.8 L40.4 243.9 L43.1 244.5 L45.9 245.5 L48.6 246.5 L51.3 247.3 L54.0 248.0 L56.8 248.6 L59.5 249.0 L62.2 249.4 L65.0 249.6 L67.7 249.6 L70.0 249.6 L72.2 249.4 L74.5 249.0 L76.7 248.5 L79.0 247.8 L81.2 247.1 L83.5 246.2 L85.7 245.2 L88.0 244.2 L90.2 243.1 L92.5 241.9 L94.7 241.1 L97.0 240.9 L99.2 240.7 L101.5 240.6 L103.7 240.5 L105.9 240.6 L108.2 240.7 L110.4 240.9 L112.7 241.1 L114.9 241.4 L117.2 242.4 L119.4 243.6 L121.7 244.8 L123.9 245.8 L126.1 246.7 L128.4 247.6 L130.6 248.2 L132.9 248.8 L135.1 249.2 L137.4 249.4 L139.6 249.5 L141.8 249.3 L144.0 249.1 L146.3 248.9 L148.5 248.5 L150.7 248.1 L152.9 247.5 L155.1 246.9 L157.3 246.2 L159.6 245.5 L161.8 244.6 L164.0 243.9 L166.2 244.0 L168.4 244.0 L170.7 244.1 L172.9 244.2 L175.1 244.2"/>
<path d="M24.0 278.0 L29.5 277.9 L34.9 278.3 L40.4 279.3 L45.9 280.7 L51.3 282.3 L56.8 283.9 L62.2 285.1 L67.7 285.9 L72.2 286.6 L76.7 286.4 L81.2 285.3 L85.7 283.6 L90.2 281.4 L94.7 279.1 L99.2 277.0 L103.7 275.6 L108.2 275.3 L112.7 275.9 L117.2 277.2 L121.7 279.1 L126.1 281.2 L130.6 283.2 L135.1 284.8 L139.6 285.8 L144.0 285.5 L148.5 285.1 L152.9 284.7 L157.3 284.5 L161.8 284.3 L166.2 284.3 L170.7 284.5 L175.1 284.8"/>
<path d="M24.0 238.4 L26.7 238.4 L29.5 238.4 L32.2 238.4 L34.9 238.4 L37.7 238.4 L40.4 238.5 L43.1 238.0 L45.9 237.2 L48.6 236.5 L51.3 235.9 L54.0 235.4 L56.8 235.0 L59.5 234.7 L62.2 234.5 L65.0 234.3 L67.7 234.3 L70.0 234.3 L72.2 234.4 L74.5 234.5 L76.7 234.6 L79.0 234.8 L81.2 235.0 L83.5 235.3 L85.7 235.6 L88.0 236.0 L90.2 236.5 L92.5 237.0 L94.7 237.3 L97.0 237.1 L99.2 237.0 L101.5 237.0 L103.7 236.9 L105.9 237.0 L108.2 237.2 L110.4 237.3 L112.7 237.5 L114.9 237.7 L117.2 237.4 L119.4 236.9 L121.7 236.4 L123.9 236.0 L126.1 235.7 L128.4 235.4 L130.6 235.2 L132.9 235.0 L135.1 234.9 L137.4 234.8 L139.6 234.7 L141.8 234.6 L144.0 234.6 L146.3 234.7 L148.5 234.7 L150.7 234.8 L152.9 235.0 L155.1 235.2 L157.3 235.5 L159.6 235.9 L161.8 236.4 L164.0 236.8 L166.2 236.6 L168.4 236.5 L170.7 236.4 L172.9 236.3 L175.1 236.4"/>
<path d="M24.0 233.7 L26.7 233.7 L29.5 233.7 L32.2 233.7 L34.9 233.7 L37.7 233.8 L40.4 233.8 L43.1 233.7 L45.9 233.3 L48.6 233.0 L51.3 232.7 L54.0 232.5 L56.8 232.4 L59.5 232.2 L62.2 232.2 L65.0 232.1 L67.7 232.1 L70.0 232.2 L72.2 232.2 L74.5 232.2 L76.7 232.3 L79.0 232.3 L81.2 232.4 L83.5 232.5 L85.7 232.6 L88.0 232.7 L90.2 232.8 L92.5 233.0 L94.7 233.1 L97.0 233.0 L99.2 232.8 L101.5 232.8 L103.7 232.7 L105.9 232.7 L108.2 232.8 L110.4 232.8 L112.7 233.0 L114.9 233.1 L117.2 233.0 L119.4 232.8 L121.7 232.6 L123.9 232.5 L126.1 232.4 L128.4 232.3 L130.6 232.3 L132.9 232.3 L135.1 232.3 L137.4 232.3 L139.6 232.3 L141.8 232.3 L144.0 232.4 L146.3 232.4 L148.5 232.5 L150.7 232.5 L152.9 232.6 L155.1 232.7 L157.3 232.7 L159.6 232.9 L161.8 233.0 L164.0 233.2 L166.2 233.0 L168.4 232.8 L170.7 232.6 L172.9 232.5 L175.1 232.5"/>
<path d="M24.0 296.1 L29.5 294.2 L34.9 291.6 L40.4 288.4 L45.9 285.3 L51.3 282.7 L56.8 281.0 L62.2 280.5 L67.7 281.2 L72.2 280.8 L76.7 281.3 L81.2 282.7 L85.7 284.6 L90.2 286.8 L94.7 289.0 L99.2 290.9 L103.7 292.1 L108.2 291.3 L112.7 290.4 L117.2 289.5 L121.7 288.7 L126.1 288.1 L130.6 287.9 L135.1 288.1 L139.6 288.6 L144.0 288.0 L148.5 288.1 L152.9 288.7 L157.3 290.0 L161.8 291.5 L166.2 293.2 L170.7 294.7 L175.1 295.9"/>
<path d="M24.0 234.4 L29.5 234.0 L34.9 232.6 L40.4 230.6 L45.9 228.2 L51.3 225.9 L56.8 223.8 L62.2 222.5 L67.7 222.0 L72.2 222.3 L76.7 223.3 L81.2 224.9 L85.7 226.7 L90.2 228.6 L94.7 230.2 L99.2 231.3 L103.7 231.7 L108.2 231.8 L112.7 231.3 L117.2 230.2 L121.7 228.6 L126.1 226.9 L130.6 225.3 L135.1 224.1 L139.6 223.3 L144.0 224.6 L148.5 226.2 L152.9 227.6 L157.3 228.9 L161.8 229.6 L166.2 229.8 L170.7 229.4 L175.1 228.5"/>
<path d="M24.0 266.7 L29.5 267.0 L34.9 268.4 L40.4 270.8 L45.9 273.8 L51.3 276.8 L56.8 279.5 L62.2 281.5 L67.7 282.4 L72.2 282.5 L76.7 281.8 L81.2 280.5 L85.7 278.7 L90.2 276.7 L94.7 274.9 L99.2 273.4 L103.7 272.6 L108.2 271.7 L112.7 270.6 L117.2 269.2 L121.7 268.0 L126.1 266.9 L130.6 266.3 L135.1 266.1 L139.6 266.5 L144.0 265.7 L148.5 265.2 L152.9 265.0 L157.3 265.3 L161.8 266.0 L166.2 266.9 L170.7 267.9 L175.1 268.9"/>
<path d="M24.0 237.6 L26.7 237.6 L29.5 237.5 L32.2 237.3 L34.9 237.2 L37.7 236.9 L40.4 236.7 L43.1 236.0 L45.9 235.1 L48.6 234.2 L51.3 233.5 L54.0 232.8 L56.8 232.2 L59.5 231.7 L62.2 231.4 L65.0 231.2 L67.7 231.1 L70.0 231.1 L72.2 231.3 L74.5 231.5 L76.7 231.7 L79.0 232.0 L81.2 232.4 L83.5 232.8 L85.7 233.3 L88.0 233.8 L90.2 234.3 L92.5 234.9 L94.7 235.3 L97.0 235.3 L99.2 235.3 L101.5 235.3 L103.7 235.3 L105.9 235.2 L108.2 235.2 L110.4 235.3 L112.7 235.4 L114.9 235.5 L117.2 235.2 L119.4 234.9 L121.7 234.6 L123.9 234.4 L126.1 234.3 L128.4 234.2 L130.6 234.2 L132.9 234.2 L135.1 234.2 L137.4 234.3 L139.6 234.4 L141.8 234.4 L144.0 234.4 L146.3 234.5 L148.5 234.6 L150.7 234.8 L152.9 235.0 L155.1 235.2 L157.3 235.5 L159.6 235.9 L161.8 236.3 L164.0 236.7 L166.2 236.6 L168.4 236.5 L170.7 236.4 L172.9 236.4 L175.1 236.4"/>
<path d="M24.0 227.5 L29.5 226.5 L34.9 224.7 L40.4 222.5 L45.9 220.1 L51.3 217.9 L56.8 216.3 L62.2 215.5 L67.7 215.6 L72.2 217.1 L76.7 219.2 L81.2 221.7 L85.7 224.2 L90.2 226.3 L94.7 227.6 L99.2 228.1 L103.7 227.5 L108.2 227.7 L112.7 227.9 L117.2 228.1 L121.7 228.4 L126.1 228.6 L130.6 228.7 L135.1 228.7 L139.6 228.7 L144.0 227.9 L148.5 226.2 L152.9 223.7 L157.3 221.0 L161.8 218.3 L166.2 216.2 L170.7 214.9 L175.1 214.6"/>
<path d="M24.0 253.9 L29.5 254.1 L34.9 254.6 L40.4 255.3 L45.9 256.3 L51.3 257.2 L56.8 257.9 L62.2 258.5 L67.7 258.6 L72.2 259.4 L76.7 260.4 L81.2 261.3 L85.7 262.0 L90.2 262.5 L94.7 262.6 L99.2 262.4 L103.7 261.8 L108.2 262.1 L112.7 262.1 L117.2 261.8 L121.7 261.2 L126.1 260.5 L130.6 259.8 L135.1 259.1 L139.6 258.6 L144.0 259.0 L148.5 259.5 L152.9 260.0 L157.3 260.4 L161.8 260.7 L166.2 260.9 L170.7 260.8 L175.1 260.6"/>
<path d="M24.0 292.6 L29.5 292.1 L34.9 290.9 L40.4 289.3 L45.9 287.3 L51.3 285.5 L56.8 283.9 L62.2 282.9 L67.7 282.7 L72.2 283.7 L76.7 284.3 L81.2 284.4 L85.7 283.9 L90.2 283.0 L94.7 281.7 L99.2 280.4 L103.7 279.0 L108.2 278.5 L112.7 278.4 L117.2 278.9 L121.7 279.7 L126.1 280.9 L130.6 282.2 L135.1 283.3 L139.6 284.3 L144.0 284.5 L148.5 285.1 L152.9 285.9 L157.3 286.9 L161.8 287.8 L166.2 288.5 L170.7 289.0 L175.1 289.1"/>
<path d="M24.0 235.4 L26.7 235.4 L29.5 235.5 L32.2 235.5 L34.9 235.6 L37.7 235.7 L40.4 235.8 L43.1 235.5 L45.9 234.9 L48.6 234.3 L51.3 233.9 L54.0 233.5 L56.8 233.2 L59.5 233.0 L62.2 232.8 L65.0 232.7 L67.7 232.7 L70.0 232.8 L72.2 233.0 L74.5 233.3 L76.7 233.7 L79.0 234.2 L81.2 234.7 L83.5 235.3 L85.7 236.0 L88.0 236.8 L90.2 237.5 L92.5 238.4 L94.7 238.9 L97.0 239.0 L99.2 239.0 L101.5 239.1 L103.7 239.0 L105.9 238.9 L108.2 238.8 L110.4 238.7 L112.7 238.5 L114.9 238.2 L117.2 237.5 L119.4 236.5 L121.7 235.6 L123.9 234.8 L126.1 234.1 L128.4 233.5 L130.6 233.1 L132.9 232.7 L135.1 232.4 L137.4 232.3 L139.6 232.3 L141.8 232.4 L144.0 232.6 L146.3 232.8 L148.5 233.1 L150.7 233.4 L152.9 233.8 L155.1 234.3 L157.3 234.8 L159.6 235.4 L161.8 236.1 L164.0 236.7 L166.2 236.6 L168.4 236.6 L170.7 236.5 L172.9 236.4 L175.1 236.4"/>
<path d="M24.0 240.2 L26.7 240.1 L29.5 239.9 L32.2 239.7 L34.9 239.4 L37.7 239.1 L40.4 238.7 L43.1 237.9 L45.9 236.6 L48.6 235.5 L51.3 234.5 L54.0 233.7 L56.8 233.0 L59.5 232.5 L62.2 232.1 L65.0 232.0 L67.7 231.9 L70.0 232.0 L72.2 232.1 L74.5 232.2 L76.7 232.5 L79.0 232.8 L81.2 233.2 L83.5 233.7 L85.7 234.3 L88.0 234.9 L90.2 235.7 L92.5 236.5 L94.7 236.9 L97.0 237.0 L99.2 237.0 L101.5 237.1 L103.7 237.1 L105.9 237.1 L108.2 237.1 L110.4 237.1 L112.7 237.0 L114.9 237.0 L117.2 236.4 L119.4 235.6 L121.7 234.8 L123.9 234.2 L126.1 233.6 L128.4 233.1 L130.6 232.7 L132.9 232.4 L135.1 232.1 L137.4 232.0 L139.6 232.0 L141.8 232.1 L144.0 232.3 L146.3 232.6 L148.5 233.1 L150.7 233.7 L152.9 234.3 L155.1 235.1 L157.3 236.0 L159.6 236.9 L161.8 237.9 L164.0 238.8 L166.2 239.0 L168.4 239.1 L170.7 239.2 L172.9 239.2 L175.1 239.2"/>
<path d="M24.0 292.0 L29.5 290.9 L34.9 289.9 L40.4 289.1 L45.9 288.7 L51.3 288.7 L56.8 289.1 L62.2 289.9 L67.7 290.9 L72.2 289.8 L76.7 289.1 L81.2 288.8 L85.7 289.0 L90.2 289.7 L94.7 290.7 L99.2 291.9 L103.7 293.2 L108.2 292.9 L112.7 292.5 L117.2 292.0 L121.7 291.4 L126.1 290.9 L130.6 290.6 L135.1 290.4 L139.6 290.4 L144.0 289.1 L148.5 287.5 L152.9 285.8 L157.3 284.4 L161.8 283.4 L166.2 283.0 L170.7 283.2 L175.1 284.1"/>
<path d="M24.0 290.9 L29.5 290.3 L34.9 289.4 L40.4 288.4 L45.9 287.4 L51.3 286.6 L56.8 286.1 L62.2 286.0 L67.7 286.3 L72.2 285.1 L76.7 284.1 L81.2 283.5 L85.7 283.4 L90.2 283.7 L94.7 284.5 L99.2 285.6 L103.7 286.8 L108.2 287.1 L112.7 287.3 L117.2 287.4 L121.7 287.3 L126.1 287.1 L130.6 286.8 L135.1 286.4 L139.6 286.0 L144.0 284.9 L148.5 284.3 L152.9 284.2 L157.3 284.7 L161.8 285.7 L166.2 287.1 L170.7 288.6 L175.1 289.9"/>
<path d="M24.0 242.8 L26.7 242.7 L29.5 242.7 L32.2 242.7 L34.9 242.7 L37.7 242.6 L40.4 242.6 L43.1 243.2 L45.9 244.2 L48.6 245.0 L51.3 245.8 L54.0 246.4 L56.8 247.0 L59.5 247.4 L62.2 247.7 L65.0 247.9 L67.7 248.0 L70.0 247.9 L72.2 247.8 L74.5 247.6 L76.7 247.4 L79.0 247.1 L81.2 246.8 L83.5 246.5 L85.7 246.1 L88.0 245.6 L90.2 245.0 L92.5 244.4 L94.7 244.1 L97.0 244.3 L99.2 244.4 L101.5 244.6 L103.7 244.7 L105.9 244.6 L108.2 244.5 L110.4 244.3 L112.7 244.1 L114.9 243.8 L117.2 244.2 L119.4 244.8 L121.7 245.3 L123.9 245.7 L126.1 246.1 L128.4 246.4 L130.6 246.6 L132.9 246.8 L135.1 246.9 L137.4 247.0 L139.6 247.1 L141.8 247.0 L144.0 246.9 L146.3 246.6 L148.5 246.2 L150.7 245.7 L152.9 245.1 L155.1 244.4 L157.3 243.6 L159.6 242.7 L161.8 241.8 L164.0 240.9 L166.2 240.8 L168.4 240.8 L170.7 240.8 L172.9 240.7 L175.1 240.7"/>
<path d="M24.0 241.1 L26.7 241.0 L29.5 240.9 L32.2 240.7 L34.9 240.5 L37.7 240.2 L40.4 239.9 L43.1 239.1 L45.9 237.8 L48.6 236.6 L51.3 235.5 L54.0 234.6 L56.8 233.8 L59.5 233.2 L62.2 232.8 L65.0 232.6 L67.7 232.5 L70.0 232.6 L72.2 232.8 L74.5 233.1 L76.7 233.6 L79.0 234.2 L81.2 234.9 L83.5 235.7 L85.7 236.6 L88.0 237.5 L90.2 238.6 L92.5 239.7 L94.7 240.4 L97.0 240.6 L99.2 240.8 L101.5 240.9 L103.7 240.9 L105.9 240.9 L108.2 240.7 L110.4 240.5 L112.7 240.2 L114.9 239.9 L117.2 238.9 L119.4 237.7 L121.7 236.6 L123.9 235.5 L126.1 234.6 L128.4 233.8 L130.6 233.1 L132.9 232.6 L135.1 232.3 L137.4 232.1 L139.6 232.1 L141.8 232.2 L144.0 232.4 L146.3 232.9 L148.5 233.4 L150.7 234.1 L152.9 234.9 L155.1 235.8 L157.3 236.9 L159.6 238.0 L161.8 239.1 L164.0 240.2 L166.2 240.4 L168.4 240.6 L170.7 240.8 L172.9 240.8 L175.1 240.9"/>
<path d="M24.0 238.5 L26.7 238.6 L29.5 238.6 L32.2 238.7 L34.9 238.7 L37.7 238.7 L40.4 238.7 L43.1 238.1 L45.9 237.0 L48.6 236.0 L51.3 235.2 L54.0 234.4 L56.8 233.7 L59.5 233.2 L62.2 232.8 L65.0 232.5 L67.7 232.4 L70.0 232.4 L72.2 232.6 L74.5 232.9 L76.7 233.3 L79.0 233.8 L81.2 234.5 L83.5 235.2 L85.7 236.0 L88.0 237.0 L90.2 238.0 L92.5 239.0 L94.7 239.7 L97.0 239.9 L99.2 240.0 L101.5 240.1 L103.7 240.1 L105.9 240.2 L108.2 240.2 L110.4 240.2 L112.7 240.2 L114.9 240.1 L117.2 239.3 L119.4 238.3 L121.7 237.4 L123.9 236.5 L126.1 235.7 L128.4 235.1 L130.6 234.5 L132.9 234.0 L135.1 233.7 L137.4 233.4 L139.6 233.3 L141.8 233.4 L144.0 233.7 L146.3 234.1 L148.5 234.6 L150.7 235.3 L152.9 236.1 L155.1 237.1 L157.3 238.1 L159.6 239.2 L161.8 240.4 L164.0 241.5 L166.2 241.7 L168.4 241.9 L170.7 242.0 L172.9 242.1 L175.1 242.1"/>
<path d="M24.0 231.9 L29.5 231.5 L34.9 229.7 L40.4 226.8 L45.9 223.2 L51.3 219.6 L56.8 216.3 L62.2 214.0 L67.7 213.0 L72.2 214.0 L76.7 215.5 L81.2 217.3 L85.7 219.2 L90.2 220.8 L94.7 221.9 L99.2 222.3 L103.7 222.0 L108.2 221.0 L112.7 219.9 L117.2 218.8 L121.7 217.9 L126.1 217.3 L130.6 217.1 L135.1 217.3 L139.6 218.0 L144.0 219.6 L148.5 222.0 L152.9 224.7 L157.3 227.3 L161.8 229.4 L166.2 230.7 L170.7 231.0 L175.1 230.3"/>
<path d="M24.0 232.4 L29.5 232.6 L34.9 232.3 L40.4 231.7 L45.9 230.8 L51.3 229.7 L56.8 228.7 L62.2 227.8 L67.7 227.3 L72.2 226.8 L76.7 226.4 L81.2 226.0 L85.7 225.7 L90.2 225.6 L94.7 225.6 L99.2 225.9 L103.7 226.3 L108.2 225.2 L112.7 224.4 L117.2 224.0 L121.7 224.1 L126.1 224.7 L130.6 225.6 L135.1 226.8 L139.6 228.1 L144.0 226.8 L148.5 225.7 L152.9 224.9 L157.3 224.6 L161.8 224.8 L166.2 225.5 L170.7 226.6 L175.1 227.8"/>
<path d="M24.0 277.6 L29.5 277.8 L34.9 277.9 L40.4 278.0 L45.9 278.1 L51.3 278.1 L56.8 278.0 L62.2 277.9 L67.7 277.8 L72.2 277.4 L76.7 277.3 L81.2 277.5 L85.7 277.9 L90.2 278.6 L94.7 279.3 L99.2 280.0 L103.7 280.6 L108.2 281.3 L112.7 281.6 L117.2 281.6 L121.7 281.1 L126.1 280.3 L130.6 279.2 L135.1 278.1 L139.6 277.2 L144.0 277.4 L148.5 277.6 L152.9 277.8 L157.3 277.9 L161.8 278.0 L166.2 278.0 L170.7 277.9 L175.1 277.8"/>
<path d="M24.0 263.4 L29.5 264.9 L34.9 266.5 L40.4 268.0 L45.9 269.1 L51.3 269.7 L56.8 269.8 L62.2 269.2 L67.7 268.1 L72.2 268.5 L76.7 268.4 L81.2 267.7 L85.7 266.6 L90.2 265.1 L94.7 263.6 L99.2 262.3 L103.7 261.3 L108.2 261.8 L112.7 262.6 L117.2 263.7 L121.7 264.9 L126.1 266.0 L130.6 266.8 L135.1 267.2 L139.6 267.2 L144.0 267.7 L148.5 267.8 L152.9 267.3 L157.3 266.3 L161.8 265.1 L166.2 263.7 L170.7 262.4 L175.1 261.4"/>
<path d="M24.0 286.3 L29.5 286.5 L34.9 286.8 L40.4 287.1 L45.9 287.4 L51.3 287.7 L56.8 287.8 L62.2 287.8 L67.7 287.7 L72.2 288.2 L76.7 288.1 L81.2 287.3 L85.7 285.9 L90.2 284.1 L94.7 282.3 L99.2 280.7 L103.7 279.5 L108.2 280.9 L112.7 282.9 L117.2 284.9 L121.7 286.9 L126.1 288.4 L130.6 289.3 L135.1 289.3 L139.6 288.5 L144.0 288.3 L148.5 287.8 L152.9 287.2 L157.3 286.4 L161.8 285.8 L166.2 285.3 L170.7 285.0 L175.1 284.9"/>
<path d="M24.0 283.8 L29.5 284.9 L34.9 285.8 L40.4 286.5 L45.9 286.9 L51.3 286.8 L56.8 286.4 L62.2 285.6 L67.7 284.6 L72.2 285.0 L76.7 285.1 L81.2 284.9 L85.7 284.5 L90.2 283.9 L94.7 283.2 L99.2 282.5 L103.7 282.0 L108.2 283.4 L112.7 285.0 L117.2 286.7 L121.7 288.1 L126.1 289.1 L130.6 289.4 L135.1 289.2 L139.6 288.2 L144.0 287.9 L148.5 287.2 L152.9 286.3 L157.3 285.4 L161.8 284.6 L166.2 284.0 L170.7 283.7 L175.1 283.7"/>
<path d="M24.0 231.7 L29.5 231.6 L34.9 230.8 L40.4 229.5 L45.9 227.9 L51.3 226.3 L56.8 224.8 L62.2 223.7 L67.7 223.2 L72.2 224.4 L76.7 226.4 L81.2 229.0 L85.7 231.7 L90.2 234.2 L94.7 236.0 L99.2 236.8 L103.7 236.7 L108.2 235.1 L112.7 232.7 L117.2 229.9 L121.7 227.1 L126.1 224.8 L130.6 223.2 L135.1 222.6 L139.6 223.1 L144.0 223.2 L148.5 224.3 L152.9 226.2 L157.3 228.6 L161.8 231.2 L166.2 233.6 L170.7 235.4 L175.1 236.3"/>
<path d="M24.0 274.5 L29.5 273.4 L34.9 272.3 L40.4 271.2 L45.9 270.4 L51.3 269.9 L56.8 269.9 L62.2 270.2 L67.7 271.0 L72.2 270.4 L76.7 270.1 L81.2 270.0 L85.7 270.2 L90.2 270.7 L94.7 271.4 L99.2 272.1 L103.7 272.8 L108.2 272.6 L112.7 272.3 L117.2 271.8 L121.7 271.4 L126.1 271.1 L130.6 270.8 L135.1 270.7 L139.6 270.8 L144.0 269.8 L148.5 269.3 L152.9 269.3 L157.3 269.8 L161.8 270.8 L166.2 272.0 L170.7 273.4 L175.1 274.7"/>
<path d="M24.0 233.5 L26.7 233.6 L29.5 233.7 L32.2 233.8 L34.9 234.0 L37.7 234.1 L40.4 234.2 L43.1 234.1 L45.9 233.8 L48.6 233.5 L51.3 233.2 L54.0 233.0 L56.8 232.8 L59.5 232.6 L62.2 232.4 L65.0 232.3 L67.7 232.2 L70.0 232.2 L72.2 232.3 L74.5 232.4 L76.7 232.6 L79.0 232.8 L81.2 233.0 L83.5 233.3 L85.7 233.6 L88.0 234.0 L90.2 234.3 L92.5 234.7 L94.7 235.0 L97.0 235.0 L99.2 235.0 L101.5 235.0 L103.7 235.0 L105.9 235.0 L108.2 234.9 L110.4 234.9 L112.7 234.9 L114.9 234.8 L117.2 234.4 L119.4 234.0 L121.7 233.6 L123.9 233.2 L126.1 232.9 L128.4 232.6 L130.6 232.4 L132.9 232.3 L135.1 232.1 L137.4 232.1 L139.6 232.1 L141.8 232.2 L144.0 232.3 L146.3 232.6 L148.5 232.8 L150.7 233.1 L152.9 233.5 L155.1 233.8 L157.3 234.2 L159.6 234.7 L161.8 235.1 L164.0 235.5 L166.2 235.5 L168.4 235.5 L170.7 235.5 L172.9 235.4 L175.1 235.4"/>
<path d="M24.0 212.5 L29.5 211.9 L34.9 211.6 L40.4 211.8 L45.9 212.4 L51.3 213.4 L56.8 214.5 L62.2 215.7 L67.7 216.7 L72.2 215.7 L76.7 215.4 L81.2 215.8 L85.7 216.8 L90.2 218.4 L94.7 220.2 L99.2 222.0 L103.7 223.5 L108.2 224.1 L112.7 225.3 L117.2 227.0 L121.7 228.9 L126.1 230.8 L130.6 232.3 L135.1 233.2 L139.6 233.4 L144.0 232.6 L148.5 231.2 L152.9 229.7 L157.3 228.2 L161.8 226.9 L166.2 226.0 L170.7 225.7 L175.1 226.1"/>
<path d="M24.0 253.9 L29.5 255.2 L34.9 256.7 L40.4 258.1 L45.9 259.3 L51.3 260.0 L56.8 260.1 L62.2 259.7 L67.7 258.7 L72.2 259.1 L76.7 259.7 L81.2 260.4 L85.7 261.2 L90.2 261.9 L94.7 262.4 L99.2 262.7 L103.7 262.7 L108.2 263.4 L112.7 263.8 L117.2 263.8 L121.7 263.4 L126.1 262.6 L130.6 261.6 L135.1 260.5 L139.6 259.5 L144.0 258.8 L148.5 258.2 L152.9 257.9 L157.3 257.9 L161.8 258.2 L166.2 258.7 L170.7 259.4 L175.1 260.2"/>
<path d="M24.0 235.6 L29.5 234.1 L34.9 232.0 L40.4 229.4 L45.9 226.8 L51.3 224.7 L56.8 223.2 L62.2 222.7 L67.7 223.3 L72.2 224.1 L76.7 224.6 L81.2 224.7 L85.7 224.4 L90.2 223.6 L94.7 222.6 L99.2 221.5 L103.7 220.4 L108.2 220.7 L112.7 221.9 L117.2 223.8 L121.7 226.1 L126.1 228.5 L130.6 230.6 L135.1 232.1 L139.6 232.7 L144.0 232.5 L148.5 231.9 L152.9 231.2 L157.3 230.3 L161.8 229.4 L166.2 228.7 L170.7 228.2 L175.1 228.0"/>
<path d="M24.0 233.4 L29.5 234.3 L34.9 234.9 L40.4 235.1 L45.9 234.8 L51.3 234.1 L56.8 233.2 L62.2 232.1 L67.7 231.0 L72.2 229.6 L76.7 228.3 L81.2 227.2 L85.7 226.4 L90.2 226.1 L94.7 226.4 L99.2 227.2 L103.7 228.3 L108.2 228.9 L112.7 229.2 L117.2 229.1 L121.7 228.7 L126.1 228.0 L130.6 227.2 L135.1 226.3 L139.6 225.5 L144.0 224.6 L148.5 224.0 L152.9 223.7 L157.3 223.8 L161.8 224.3 L166.2 225.0 L170.7 226.0 L175.1 226.9"/>
<path d="M24.0 244.4 L26.7 244.4 L29.5 244.5 L32.2 244.6 L34.9 244.8 L37.7 244.9 L40.4 245.0 L43.1 245.6 L45.9 246.4 L48.6 247.1 L51.3 247.8 L54.0 248.3 L56.8 248.7 L59.5 249.1 L62.2 249.3 L65.0 249.4 L67.7 249.4 L70.0 249.5 L72.2 249.5 L74.5 249.4 L76.7 249.4 L79.0 249.2 L81.2 249.0 L83.5 248.8 L85.7 248.4 L88.0 248.0 L90.2 247.5 L92.5 247.0 L94.7 246.6 L97.0 246.6 L99.2 246.6 L101.5 246.5 L103.7 246.4 L105.9 246.5 L108.2 246.5 L110.4 246.5 L112.7 246.5 L114.9 246.4 L117.2 246.8 L119.4 247.3 L121.7 247.8 L123.9 248.1 L126.1 248.4 L128.4 248.6 L130.6 248.7 L132.9 248.8 L135.1 248.9 L137.4 248.9 L139.6 248.8 L141.8 248.9 L144.0 248.9 L146.3 249.0 L148.5 248.9 L150.7 248.9 L152.9 248.8 L155.1 248.7 L157.3 248.5 L159.6 248.2 L161.8 247.8 L164.0 247.4 L166.2 247.6 L168.4 247.7 L170.7 247.7 L172.9 247.7 L175.1 247.7"/>
<path d="M24.0 256.6 L29.5 256.0 L34.9 255.4 L40.4 254.9 L45.9 254.6 L51.3 254.5 L56.8 254.7 L62.2 255.1 L67.7 255.7 L72.2 256.7 L76.7 257.8 L81.2 258.6 L85.7 259.1 L90.2 259.1 L94.7 258.8 L99.2 258.1 L103.7 257.2 L108.2 257.7 L112.7 258.0 L117.2 258.0 L121.7 257.7 L126.1 257.2 L130.6 256.6 L135.1 255.9 L139.6 255.2 L144.0 256.0 L148.5 257.2 L152.9 258.6 L157.3 260.0 L161.8 261.2 L166.2 262.1 L170.7 262.4 L175.1 262.2"/>
<path d="M24.0 281.5 L29.5 280.0 L34.9 278.0 L40.4 275.9 L45.9 274.0 L51.3 272.5 L56.8 271.8 L62.2 271.9 L67.7 272.8 L72.2 273.1 L76.7 274.4 L81.2 276.5 L85.7 278.9 L90.2 281.5 L94.7 283.7 L99.2 285.2 L103.7 285.8 L108.2 287.0 L112.7 287.8 L117.2 288.2 L121.7 288.0 L126.1 287.3 L130.6 286.2 L135.1 284.8 L139.6 283.5 L144.0 284.0 L148.5 283.3 L152.9 281.5 L157.3 278.8 L161.8 275.6 L166.2 272.5 L170.7 269.9 L175.1 268.2"/>
<path d="M24.0 244.7 L26.7 244.6 L29.5 244.6 L32.2 244.5 L34.9 244.5 L37.7 244.5 L40.4 244.5 L43.1 244.9 L45.9 245.6 L48.6 246.3 L51.3 246.9 L54.0 247.5 L56.8 247.9 L59.5 248.3 L62.2 248.6 L65.0 248.7 L67.7 248.8 L70.0 248.7 L72.2 248.6 L74.5 248.3 L76.7 247.9 L79.0 247.5 L81.2 247.0 L83.5 246.5 L85.7 245.9 L88.0 245.2 L90.2 244.5 L92.5 243.8 L94.7 243.3 L97.0 243.3 L99.2 243.2 L101.5 243.2 L103.7 243.3 L105.9 243.4 L108.2 243.5 L110.4 243.6 L112.7 243.7 L114.9 243.8 L117.2 244.4 L119.4 245.2 L121.7 245.9 L123.9 246.5 L126.1 247.0 L128.4 247.4 L130.6 247.7 L132.9 248.0 L135.1 248.1 L137.4 248.2 L139.6 248.2 L141.8 248.1 L144.0 248.1 L146.3 248.0 L148.5 247.8 L150.7 247.6 L152.9 247.4 L155.1 247.1 L157.3 246.8 L159.6 246.4 L161.8 245.9 L164.0 245.5 L166.2 245.6 L168.4 245.8 L170.7 245.8 L172.9 245.9 L175.1 245.9"/>
<path d="M24.0 266.0 L29.5 266.6 L34.9 267.4 L40.4 268.6 L45.9 269.8 L51.3 270.9 L56.8 271.7 L62.2 272.1 L67.7 272.0 L72.2 271.6 L76.7 271.2 L81.2 270.9 L85.7 270.6 L90.2 270.6 L94.7 270.7 L99.2 270.9 L103.7 271.3 L108.2 271.2 L112.7 271.3 L117.2 271.4 L121.7 271.6 L126.1 271.9 L130.6 272.1 L135.1 272.3 L139.6 272.5 L144.0 273.3 L148.5 274.4 L152.9 275.5 L157.3 276.4 L161.8 277.1 L166.2 277.3 L170.7 277.2 L175.1 276.6"/>
<path d="M24.0 211.4 L29.5 212.6 L34.9 213.6 L40.4 214.2 L45.9 214.4 L51.3 214.0 L56.8 213.3 L62.2 212.2 L67.7 210.9 L72.2 211.6 L76.7 213.3 L81.2 215.7 L85.7 218.4 L90.2 221.1 L94.7 223.3 L99.2 224.7 L103.7 225.1 L108.2 225.1 L112.7 224.2 L117.2 222.5 L121.7 220.3 L126.1 218.0 L130.6 215.8 L135.1 214.2 L139.6 213.2 L144.0 213.0 L148.5 212.7 L152.9 212.5 L157.3 212.4 L161.8 212.4 L166.2 212.5 L170.7 212.6 L175.1 212.9"/>
<path d="M24.0 238.0 L26.7 238.0 L29.5 238.0 L32.2 238.0 L34.9 237.9 L37.7 237.9 L40.4 237.7 L43.1 237.2 L45.9 236.2 L48.6 235.4 L51.3 234.6 L54.0 233.9 L56.8 233.3 L59.5 232.8 L62.2 232.5 L65.0 232.2 L67.7 232.1 L70.0 232.2 L72.2 232.3 L74.5 232.6 L76.7 232.9 L79.0 233.4 L81.2 233.9 L83.5 234.5 L85.7 235.2 L88.0 235.9 L90.2 236.7 L92.5 237.6 L94.7 238.1 L97.0 238.3 L99.2 238.4 L101.5 238.5 L103.7 238.5 L105.9 238.5 L108.2 238.4 L110.4 238.3 L112.7 238.1 L114.9 237.9 L117.2 237.1 L119.4 236.1 L121.7 235.2 L123.9 234.3 L126.1 233.6 L128.4 232.9 L130.6 232.3 L132.9 231.9 L135.1 231.6 L137.4 231.3 L139.6 231.3 L141.8 231.3 L144.0 231.4 L146.3 231.7 L148.5 232.2 L150.7 232.7 L152.9 233.5 L155.1 234.3 L157.3 235.2 L159.6 236.2 L161.8 237.3 L164.0 238.3 L166.2 238.7 L168.4 239.0 L170.7 239.2 L172.9 239.4 L175.1 239.5"/>
<path d="M24.0 289.9 L29.5 289.0 L34.9 288.4 L40.4 288.2 L45.9 288.5 L51.3 289.1 L56.8 290.0 L62.2 291.1 L67.7 292.2 L72.2 292.5 L76.7 292.2 L81.2 291.2 L85.7 289.8 L90.2 288.2 L94.7 286.5 L99.2 285.2 L103.7 284.3 L108.2 283.4 L112.7 283.2 L117.2 283.8 L121.7 285.1 L126.1 286.9 L130.6 289.0 L135.1 290.9 L139.6 292.4 L144.0 291.0 L148.5 288.8 L152.9 286.2 L157.3 283.6 L161.8 281.4 L166.2 280.0 L170.7 279.5 L175.1 280.0"/>
<path d="M24.0 284.2 L29.5 285.5 L34.9 286.9 L40.4 288.3 L45.9 289.4 L51.3 290.2 L56.8 290.4 L62.2 290.0 L67.7 289.1 L72.2 287.9 L76.7 286.8 L81.2 285.9 L85.7 285.3 L90.2 285.2 L94.7 285.6 L99.2 286.4 L103.7 287.5 L108.2 287.7 L112.7 288.0 L117.2 288.1 L121.7 288.2 L126.1 288.2 L130.6 288.1 L135.1 287.9 L139.6 287.7 L144.0 288.3 L148.5 288.7 L152.9 288.9 L157.3 288.8 L161.8 288.4 L166.2 287.8 L170.7 287.1 L175.1 286.4"/>
<path d="M24.0 214.8 L29.5 214.5 L34.9 215.1 L40.4 216.4 L45.9 218.2 L51.3 220.3 L56.8 222.3 L62.2 223.9 L67.7 225.0 L72.2 224.8 L76.7 224.2 L81.2 223.3 L85.7 222.3 L90.2 221.3 L94.7 220.5 L99.2 219.9 L103.7 219.7 L108.2 221.0 L112.7 222.5 L117.2 223.9 L121.7 225.1 L126.1 225.8 L130.6 226.1 L135.1 225.7 L139.6 224.8 L144.0 225.5 L148.5 226.2 L152.9 226.7 L157.3 226.9 L161.8 226.8 L166.2 226.5 L170.7 226.0 L175.1 225.3"/>
<path d="M24.0 286.7 L29.5 286.4 L34.9 286.0 L40.4 285.5 L45.9 285.1 L51.3 284.8 L56.8 284.7 L62.2 284.7 L67.7 284.9 L72.2 283.5 L76.7 281.8 L81.2 280.3 L85.7 279.1 L90.2 278.4 L94.7 278.3 L99.2 278.8 L103.7 279.9 L108.2 280.9 L112.7 282.1 L117.2 283.4 L121.7 284.6 L126.1 285.5 L130.6 285.9 L135.1 285.9 L139.6 285.3 L144.0 285.4 L148.5 284.7 L152.9 283.4 L157.3 281.6 L161.8 279.7 L166.2 277.9 L170.7 276.5 L175.1 275.7"/>
<path d="M24.0 292.8 L29.5 293.3 L34.9 293.7 L40.4 294.0 L45.9 294.1 L51.3 294.0 L56.8 293.7 L62.2 293.3 L67.7 292.8 L72.2 291.7 L76.7 291.0 L81.2 290.7 L85.7 290.9 L90.2 291.7 L94.7 292.7 L99.2 294.0 L103.7 295.3 L108.2 294.9 L112.7 294.3 L117.2 293.8 L121.7 293.3 L126.1 293.0 L130.6 292.8 L135.1 292.8 L139.6 293.1 L144.0 293.4 L148.5 293.9 L152.9 294.6 L157.3 295.2 L161.8 295.7 L166.2 296.1 L170.7 296.2 L175.1 296.1"/>
<path d="M24.0 211.8 L29.5 212.3 L34.9 212.7 L40.4 213.1 L45.9 213.4 L51.3 213.6 L56.8 213.6 L62.2 213.4 L67.7 213.1 L72.2 213.1 L76.7 213.0 L81.2 212.9 L85.7 212.7 L90.2 212.4 L94.7 212.2 L99.2 212.0 L103.7 211.9 L108.2 212.9 L112.7 213.8 L117.2 214.4 L121.7 214.7 L126.1 214.5 L130.6 214.0 L135.1 213.2 L139.6 212.2 L144.0 212.0 L148.5 212.1 L152.9 212.5 L157.3 213.2 L161.8 213.9 L166.2 214.7 L170.7 215.4 L175.1 215.9"/>
<path d="M24.0 247.7 L26.7 247.6 L29.5 247.4 L32.2 247.3 L34.9 247.1 L37.7 246.9 L40.4 246.7 L43.1 246.8 L45.9 247.2 L48.6 247.5 L51.3 247.7 L54.0 247.9 L56.8 248.1 L59.5 248.3 L62.2 248.4 L65.0 248.5 L67.7 248.6 L70.0 248.6 L72.2 248.6 L74.5 248.5 L76.7 248.5 L79.0 248.4 L81.2 248.3 L83.5 248.2 L85.7 248.0 L88.0 247.9 L90.2 247.6 L92.5 247.4 L94.7 247.2 L97.0 247.4 L99.2 247.4 L101.5 247.5 L103.7 247.6 L105.9 247.5 L108.2 247.5 L110.4 247.4 L112.7 247.3 L114.9 247.2 L117.2 247.4 L119.4 247.7 L121.7 248.0 L123.9 248.2 L126.1 248.4 L128.4 248.5 L130.6 248.6 L132.9 248.6 L135.1 248.7 L137.4 248.7 L139.6 248.7 L141.8 248.7 L144.0 248.6 L146.3 248.6 L148.5 248.5 L150.7 248.4 L152.9 248.2 L155.1 248.1 L157.3 247.9 L159.6 247.6 L161.8 247.4 L164.0 247.1 L166.2 247.2 L168.4 247.4 L170.7 247.4 L172.9 247.5 L175.1 247.6"/>
<path d="M24.0 239.2 L26.7 239.1 L29.5 239.0 L32.2 238.8 L34.9 238.6 L37.7 238.4 L40.4 238.2 L43.1 237.5 L45.9 236.4 L48.6 235.5 L51.3 234.6 L54.0 233.9 L56.8 233.3 L59.5 232.9 L62.2 232.6 L65.0 232.4 L67.7 232.4 L70.0 232.4 L72.2 232.4 L74.5 232.5 L76.7 232.7 L79.0 233.0 L81.2 233.4 L83.5 233.8 L85.7 234.2 L88.0 234.8 L90.2 235.4 L92.5 236.1 L94.7 236.5 L97.0 236.6 L99.2 236.6 L101.5 236.7 L103.7 236.7 L105.9 236.6 L108.2 236.5 L110.4 236.4 L112.7 236.3 L114.9 236.3 L117.2 235.7 L119.4 234.9 L121.7 234.2 L123.9 233.6 L126.1 233.2 L128.4 232.8 L130.6 232.5 L132.9 232.2 L135.1 232.1 L137.4 232.1 L139.6 232.1 L141.8 232.1 L144.0 232.3 L146.3 232.5 L148.5 232.9 L150.7 233.4 L152.9 233.9 L155.1 234.6 L157.3 235.4 L159.6 236.2 L161.8 237.2 L164.0 238.0 L166.2 238.2 L168.4 238.4 L170.7 238.6 L172.9 238.7 L175.1 238.7"/>
<path d="M24.0 233.4 L29.5 232.6 L34.9 231.8 L40.4 231.1 L45.9 230.6 L51.3 230.4 L56.8 230.5 L62.2 230.9 L67.7 231.6 L72.2 230.5 L76.7 229.6 L81.2 229.1 L85.7 229.1 L90.2 229.5 L94.7 230.2 L99.2 231.3 L103.7 232.5 L108.2 233.7 L112.7 234.6 L117.2 235.1 L121.7 235.2 L126.1 234.7 L130.6 233.9 L135.1 232.7 L139.6 231.4 L144.0 232.0 L148.5 232.3 L152.9 232.3 L157.3 232.1 L161.8 231.6 L166.2 231.0 L170.7 230.3 L175.1 229.6"/>
<path d="M24.0 232.4 L26.7 232.4 L29.5 232.4 L32.2 232.6 L34.9 232.7 L37.7 233.0 L40.4 233.3 L43.1 233.4 L45.9 233.3 L48.6 233.2 L51.3 233.2 L54.0 233.3 L56.8 233.4 L59.5 233.5 L62.2 233.6 L65.0 233.7 L67.7 233.7 L70.0 233.7 L72.2 233.5 L74.5 233.4 L76.7 233.3 L79.0 233.1 L81.2 232.9 L83.5 232.8 L85.7 232.7 L88.0 232.7 L90.2 232.7 L92.5 232.8 L94.7 232.8 L97.0 232.6 L99.2 232.5 L101.5 232.4 L103.7 232.4 L105.9 232.5 L108.2 232.6 L110.4 232.9 L112.7 233.2 L114.9 233.5 L117.2 233.6 L119.4 233.7 L121.7 233.8 L123.9 233.9 L126.1 234.0 L128.4 234.2 L130.6 234.4 L132.9 234.5 L135.1 234.6 L137.4 234.7 L139.6 234.7 L141.8 234.6 L144.0 234.5 L146.3 234.4 L148.5 234.2 L150.7 234.1 L152.9 233.9 L155.1 233.8 L157.3 233.7 L159.6 233.6 L161.8 233.6 L164.0 233.6 L166.2 233.3 L168.4 233.1 L170.7 232.9 L172.9 232.8 L175.1 232.8"/>
<path d="M24.0 236.8 L26.7 236.7 L29.5 236.6 L32.2 236.4 L34.9 236.2 L37.7 236.0 L40.4 235.7 L43.1 235.0 L45.9 234.1 L48.6 233.2 L51.3 232.5 L54.0 231.8 L56.8 231.3 L59.5 230.8 L62.2 230.5 L65.0 230.3 L67.7 230.3 L70.0 230.3 L72.2 230.3 L74.5 230.4 L76.7 230.6 L79.0 230.8 L81.2 231.1 L83.5 231.4 L85.7 231.8 L88.0 232.3 L90.2 232.9 L92.5 233.4 L94.7 233.8 L97.0 233.9 L99.2 234.0 L101.5 234.1 L103.7 234.1 L105.9 234.1 L108.2 234.1 L110.4 234.1 L112.7 234.2 L114.9 234.3 L117.2 234.1 L119.4 233.8 L121.7 233.6 L123.9 233.4 L126.1 233.3 L128.4 233.3 L130.6 233.2 L132.9 233.3 L135.1 233.3 L137.4 233.4 L139.6 233.5 L141.8 233.6 L144.0 233.7 L146.3 233.9 L148.5 234.2 L150.7 234.5 L152.9 234.9 L155.1 235.4 L157.3 235.9 L159.6 236.5 L161.8 237.1 L164.0 237.7 L166.2 237.7 L168.4 237.8 L170.7 237.8 L172.9 237.8 L175.1 237.8"/>
<path d="M24.0 212.6 L29.5 212.5 L34.9 213.0 L40.4 213.9 L45.9 215.0 L51.3 216.3 L56.8 217.5 L62.2 218.4 L67.7 218.9 L72.2 219.9 L76.7 221.1 L81.2 222.4 L85.7 223.5 L90.2 224.3 L94.7 224.7 L99.2 224.5 L103.7 223.9 L108.2 223.2 L112.7 221.8 L117.2 219.9 L121.7 217.8 L126.1 215.8 L130.6 214.2 L135.1 213.3 L139.6 213.2 L144.0 213.7 L148.5 214.4 L152.9 215.4 L157.3 216.3 L161.8 217.2 L166.2 217.7 L170.7 217.9 L175.1 217.8"/>
<path d="M24.0 281.5 L29.5 281.2 L34.9 280.9 L40.4 280.9 L45.9 281.0 L51.3 281.3 L56.8 281.8 L62.2 282.3 L67.7 282.7 L72.2 281.4 L76.7 279.6 L81.2 277.6 L85.7 275.6 L90.2 274.1 L94.7 273.1 L99.2 273.0 L103.7 273.6 L108.2 274.2 L112.7 275.4 L117.2 277.1 L121.7 279.1 L126.1 280.9 L130.6 282.3 L135.1 283.2 L139.6 283.3 L144.0 283.1 L148.5 282.3 L152.9 281.0 L157.3 279.4 L161.8 277.7 L166.2 276.2 L170.7 275.2 L175.1 274.7"/>
<path d="M24.0 292.4 L29.5 291.5 L34.9 290.9 L40.4 290.7 L45.9 290.9 L51.3 291.4 L56.8 292.3 L62.2 293.4 L67.7 294.4 L72.2 295.6 L76.7 296.7 L81.2 297.5 L85.7 297.9 L90.2 297.9 L94.7 297.5 L99.2 296.7 L103.7 295.6 L108.2 295.8 L112.7 295.8 L117.2 295.7 L121.7 295.4 L126.1 295.1 L130.6 294.8 L135.1 294.4 L139.6 294.2 L144.0 294.8 L148.5 295.3 L152.9 295.8 L157.3 296.2 L161.8 296.3 L166.2 296.2 L170.7 295.9 L175.1 295.4"/>
<path d="M24.0 235.4 L26.7 235.3 L29.5 235.3 L32.2 235.3 L34.9 235.3 L37.7 235.3 L40.4 235.4 L43.1 235.0 L45.9 234.4 L48.6 233.8 L51.3 233.3 L54.0 233.0 L56.8 232.7 L59.5 232.5 L62.2 232.4 L65.0 232.4 L67.7 232.4 L70.0 232.6 L72.2 232.8 L74.5 233.0 L76.7 233.4 L79.0 233.8 L81.2 234.3 L83.5 234.9 L85.7 235.5 L88.0 236.2 L90.2 236.9 L92.5 237.7 L94.7 238.2 L97.0 238.2 L99.2 238.2 L101.5 238.2 L103.7 238.2 L105.9 238.1 L108.2 238.0 L110.4 237.8 L112.7 237.7 L114.9 237.5 L117.2 236.8 L119.4 236.0 L121.7 235.2 L123.9 234.5 L126.1 233.9 L128.4 233.4 L130.6 233.0 L132.9 232.8 L135.1 232.6 L137.4 232.5 L139.6 232.5 L141.8 232.5 L144.0 232.7 L146.3 232.9 L148.5 233.2 L150.7 233.7 L152.9 234.2 L155.1 234.8 L157.3 235.5 L159.6 236.2 L161.8 237.0 L164.0 237.8 L166.2 237.9 L168.4 238.1 L170.7 238.1 L172.9 238.2 L175.1 238.3"/>
<path d="M24.0 285.9 L29.5 286.3 L34.9 286.7 L40.4 287.1 L45.9 287.4 L51.3 287.6 L56.8 287.7 L62.2 287.6 L67.7 287.4 L72.2 288.0 L76.7 288.4 L81.2 288.4 L85.7 288.1 L90.2 287.5 L94.7 286.8 L99.2 285.9 L103.7 285.1 L108.2 285.7 L112.7 286.4 L117.2 287.1 L121.7 287.6 L126.1 288.0 L130.6 288.1 L135.1 287.9 L139.6 287.5 L144.0 288.3 L148.5 288.4 L152.9 287.9 L157.3 286.8 L161.8 285.3 L166.2 283.7 L170.7 282.1 L175.1 280.9"/>
<path d="M24.0 213.7 L29.5 214.2 L34.9 214.8 L40.4 215.5 L45.9 216.0 L51.3 216.4 L56.8 216.6 L62.2 216.4 L67.7 216.1 L72.2 216.3 L76.7 216.4 L81.2 216.3 L85.7 216.0 L90.2 215.6 L94.7 215.2 L99.2 214.8 L103.7 214.4 L108.2 213.2 L112.7 212.1 L117.2 211.5 L121.7 211.3 L126.1 211.7 L130.6 212.5 L135.1 213.7 L139.6 215.0 L144.0 214.4 L148.5 213.8 L152.9 213.4 L157.3 213.2 L161.8 213.3 L166.2 213.5 L170.7 214.0 L175.1 214.6"/>
<path d="M24.0 239.6 L26.7 239.5 L29.5 239.5 L32.2 239.4 L34.9 239.4 L37.7 239.3 L40.4 239.3 L43.1 238.8 L45.9 237.9 L48.6 237.2 L51.3 236.5 L54.0 236.0 L56.8 235.6 L59.5 235.3 L62.2 235.1 L65.0 235.0 L67.7 235.1 L70.0 235.2 L72.2 235.3 L74.5 235.5 L76.7 235.7 L79.0 235.9 L81.2 236.1 L83.5 236.4 L85.7 236.8 L88.0 237.2 L90.2 237.7 L92.5 238.2 L94.7 238.4 L97.0 238.2 L99.2 238.1 L101.5 237.9 L103.7 237.8 L105.9 237.8 L108.2 237.7 L110.4 237.8 L112.7 237.8 L114.9 237.9 L117.2 237.4 L119.4 236.7 L121.7 236.1 L123.9 235.6 L126.1 235.2 L128.4 234.9 L130.6 234.7 L132.9 234.6 L135.1 234.5 L137.4 234.5 L139.6 234.5 L141.8 234.6 L144.0 234.8 L146.3 235.0 L148.5 235.2 L150.7 235.5 L152.9 235.9 L155.1 236.3 L157.3 236.8 L159.6 237.3 L161.8 237.9 L164.0 238.4 L166.2 238.3 L168.4 238.1 L170.7 238.0 L172.9 237.8 L175.1 237.7"/>
<path d="M24.0 242.6 L26.7 242.5 L29.5 242.5 L32.2 242.5 L34.9 242.5 L37.7 242.5 L40.4 242.5 L43.1 243.1 L45.9 244.1 L48.6 245.0 L51.3 245.8 L54.0 246.5 L56.8 247.1 L59.5 247.6 L62.2 247.9 L65.0 248.1 L67.7 248.2 L70.0 248.2 L72.2 248.1 L74.5 247.9 L76.7 247.6 L79.0 247.2 L81.2 246.6 L83.5 246.0 L85.7 245.4 L88.0 244.6 L90.2 243.7 L92.5 242.8 L94.7 242.2 L97.0 242.1 L99.2 242.0 L101.5 241.9 L103.7 241.9 L105.9 241.9 L108.2 241.8 L110.4 241.8 L112.7 241.8 L114.9 241.8 L117.2 242.5 L119.4 243.4 L121.7 244.2 L123.9 244.9 L126.1 245.6 L128.4 246.1 L130.6 246.6 L132.9 247.0 L135.1 247.2 L137.4 247.4 L139.6 247.5 L141.8 247.5 L144.0 247.5 L146.3 247.4 L148.5 247.2 L150.7 247.0 L152.9 246.7 L155.1 246.3 L157.3 245.8 L159.6 245.1 L161.8 244.4 L164.0 243.8 L166.2 243.9 L168.4 243.9 L170.7 243.9 L172.9 243.9 L175.1 243.9"/>
<path d="M24.0 247.7 L26.7 247.6 L29.5 247.5 L32.2 247.3 L34.9 247.1 L37.7 246.9 L40.4 246.6 L43.1 246.7 L45.9 247.2 L48.6 247.5 L51.3 247.8 L54.0 248.0 L56.8 248.1 L59.5 248.3 L62.2 248.4 L65.0 248.4 L67.7 248.5 L70.0 248.5 L72.2 248.5 L74.5 248.4 L76.7 248.4 L79.0 248.4 L81.2 248.3 L83.5 248.2 L85.7 248.0 L88.0 247.8 L90.2 247.6 L92.5 247.2 L94.7 247.1 L97.0 247.3 L99.2 247.4 L101.5 247.5 L103.7 247.5 L105.9 247.6 L108.2 247.5 L110.4 247.5 L112.7 247.4 L114.9 247.2 L117.2 247.5 L119.4 247.9 L121.7 248.3 L123.9 248.5 L126.1 248.7 L128.4 248.9 L130.6 249.0 L132.9 249.0 L135.1 249.0 L137.4 249.0 L139.6 249.0 L141.8 248.9 L144.0 248.8 L146.3 248.6 L148.5 248.5 L150.7 248.3 L152.9 248.0 L155.1 247.8 L157.3 247.5 L159.6 247.1 L161.8 246.7 L164.0 246.4 L166.2 246.5 L168.4 246.7 L170.7 246.9 L172.9 247.0 L175.1 247.1"/>
<path d="M24.0 230.9 L29.5 230.0 L34.9 229.4 L40.4 229.1 L45.9 229.3 L51.3 229.9 L56.8 230.8 L62.2 231.8 L67.7 232.9 L72.2 234.2 L76.7 235.5 L81.2 236.6 L85.7 237.4 L90.2 237.6 L94.7 237.4 L99.2 236.6 L103.7 235.5 L108.2 234.9 L112.7 234.0 L117.2 233.2 L121.7 232.4 L126.1 231.8 L130.6 231.5 L135.1 231.6 L139.6 231.9 L144.0 232.5 L148.5 232.8 L152.9 232.7 L157.3 232.3 L161.8 231.6 L166.2 230.8 L170.7 229.9 L175.1 229.1"/>
<path d="M24.0 233.9 L26.7 234.0 L29.5 234.0 L32.2 234.1 L34.9 234.3 L37.7 234.4 L40.4 234.6 L43.1 234.5 L45.9 234.1 L48.6 233.8 L51.3 233.5 L54.0 233.3 L56.8 233.1 L59.5 233.0 L62.2 232.9 L65.0 232.9 L67.7 232.9 L70.0 232.9 L72.2 233.0 L74.5 233.2 L76.7 233.5 L79.0 233.8 L81.2 234.2 L83.5 234.6 L85.7 235.1 L88.0 235.7 L90.2 236.3 L92.5 236.9 L94.7 237.3 L97.0 237.4 L99.2 237.5 L101.5 237.5 L103.7 237.5 L105.9 237.5 L108.2 237.4 L110.4 237.2 L112.7 237.1 L114.9 237.0 L117.2 236.4 L119.4 235.7 L121.7 235.1 L123.9 234.5 L126.1 234.0 L128.4 233.6 L130.6 233.3 L132.9 233.1 L135.1 232.9 L137.4 232.9 L139.6 232.9 L141.8 232.9 L144.0 232.9 L146.3 233.0 L148.5 233.2 L150.7 233.4 L152.9 233.7 L155.1 234.1 L157.3 234.6 L159.6 235.1 L161.8 235.7 L164.0 236.3 L166.2 236.4 L168.4 236.5 L170.7 236.6 L172.9 236.7 L175.1 236.8"/>
<path d="M24.0 239.6 L29.5 239.4 L34.9 237.8 L40.4 235.1 L45.9 231.7 L51.3 228.1 L56.8 224.8 L62.2 222.5 L67.7 221.3 L72.2 221.7 L76.7 222.4 L81.2 223.4 L85.7 224.4 L90.2 225.4 L94.7 226.2 L99.2 226.6 L103.7 226.7 L108.2 225.7 L112.7 224.4 L117.2 223.0 L121.7 221.8 L126.1 220.9 L130.6 220.5 L135.1 220.6 L139.6 221.2 L144.0 222.7 L148.5 225.5 L152.9 229.0 L157.3 232.8 L161.8 236.3 L166.2 238.9 L170.7 240.3 L175.1 240.2"/>
<path d="M24.0 231.1 L29.5 231.5 L34.9 231.6 L40.4 231.5 L45.9 231.3 L51.3 230.8 L56.8 230.3 L62.2 229.7 L67.7 229.3 L72.2 230.6 L76.7 232.0 L81.2 233.2 L85.7 234.1 L90.2 234.5 L94.7 234.3 L99.2 233.7 L103.7 232.6 L108.2 233.5 L112.7 234.1 L117.2 234.3 L121.7 234.1 L126.1 233.5 L130.6 232.7 L135.1 231.6 L139.6 230.6 L144.0 230.4 L148.5 230.1 L152.9 229.8 L157.3 229.5 L161.8 229.2 L166.2 229.1 L170.7 229.1 L175.1 229.2"/>
<path d="M24.0 240.7 L26.7 240.7 L29.5 240.7 L32.2 240.8 L34.9 241.0 L37.7 241.1 L40.4 241.3 L43.1 242.2 L45.9 243.5 L48.6 244.7 L51.3 245.8 L54.0 246.7 L56.8 247.5 L59.5 248.1 L62.2 248.6 L65.0 248.8 L67.7 249.0 L70.0 248.9 L72.2 248.8 L74.5 248.5 L76.7 248.0 L79.0 247.5 L81.2 246.8 L83.5 245.9 L85.7 245.0 L88.0 244.0 L90.2 242.9 L92.5 241.7 L94.7 240.9 L97.0 240.7 L99.2 240.5 L101.5 240.3 L103.7 240.3 L105.9 240.2 L108.2 240.2 L110.4 240.2 L112.7 240.3 L114.9 240.5 L117.2 241.4 L119.4 242.5 L121.7 243.6 L123.9 244.6 L126.1 245.5 L128.4 246.3 L130.6 247.0 L132.9 247.5 L135.1 247.9 L137.4 248.2 L139.6 248.4 L141.8 248.3 L144.0 248.1 L146.3 247.8 L148.5 247.3 L150.7 246.7 L152.9 246.0 L155.1 245.1 L157.3 244.1 L159.6 243.0 L161.8 241.8 L164.0 240.8 L166.2 240.6 L168.4 240.4 L170.7 240.3 L172.9 240.2 L175.1 240.1"/>
<path d="M24.0 232.0 L29.5 232.5 L34.9 232.7 L40.4 232.6 L45.9 232.2 L51.3 231.6 L56.8 230.8 L62.2 230.1 L67.7 229.5 L72.2 230.1 L76.7 230.6 L81.2 231.0 L85.7 231.3 L90.2 231.3 L94.7 231.1 L99.2 230.7 L103.7 230.1 L108.2 230.5 L112.7 230.8 L117.2 231.1 L121.7 231.1 L126.1 231.0 L130.6 230.8 L135.1 230.4 L139.6 230.0 L144.0 229.1 L148.5 228.0 L152.9 226.8 L157.3 225.8 L161.8 225.1 L166.2 224.8 L170.7 225.0 L175.1 225.6"/>
<path d="M24.0 213.0 L29.5 213.5 L34.9 215.4 L40.4 218.4 L45.9 222.1 L51.3 225.8 L56.8 229.1 L62.2 231.4 L67.7 232.4 L72.2 232.6 L76.7 233.1 L81.2 233.6 L85.7 234.1 L90.2 234.5 L94.7 234.8 L99.2 234.9 L103.7 234.9 L108.2 235.4 L112.7 235.6 L117.2 235.5 L121.7 235.0 L126.1 234.2 L130.6 233.3 L135.1 232.4 L139.6 231.6 L144.0 230.2 L148.5 228.7 L152.9 227.3 L157.3 226.2 L161.8 225.6 L166.2 225.5 L170.7 226.1 L175.1 227.2"/>
<path d="M24.0 233.5 L26.7 233.5 L29.5 233.6 L32.2 233.6 L34.9 233.6 L37.7 233.5 L40.4 233.4 L43.1 233.1 L45.9 232.5 L48.6 232.0 L51.3 231.5 L54.0 231.1 L56.8 230.7 L59.5 230.4 L62.2 230.2 L65.0 230.0 L67.7 229.9 L70.0 229.8 L72.2 229.8 L74.5 229.8 L76.7 229.8 L79.0 229.9 L81.2 230.1 L83.5 230.2 L85.7 230.5 L88.0 230.8 L90.2 231.1 L92.5 231.5 L94.7 231.7 L97.0 231.8 L99.2 231.8 L101.5 231.9 L103.7 232.0 L105.9 232.0 L108.2 232.0 L110.4 232.0 L112.7 232.0 L114.9 231.9 L117.2 231.6 L119.4 231.1 L121.7 230.7 L123.9 230.3 L126.1 230.0 L128.4 229.7 L130.6 229.5 L132.9 229.3 L135.1 229.1 L137.4 229.0 L139.6 229.0 L141.8 229.0 L144.0 229.2 L146.3 229.4 L148.5 229.8 L150.7 230.2 L152.9 230.8 L155.1 231.4 L157.3 232.0 L159.6 232.7 L161.8 233.5 L164.0 234.1 L166.2 234.4 L168.4 234.6 L170.7 234.8 L172.9 234.9 L175.1 235.0"/>
<path d="M24.0 280.0 L29.5 279.0 L34.9 278.1 L40.4 277.2 L45.9 276.6 L51.3 276.4 L56.8 276.6 L62.2 277.2 L67.7 278.0 L72.2 277.6 L76.7 277.3 L81.2 277.2 L85.7 277.3 L90.2 277.6 L94.7 278.1 L99.2 278.6 L103.7 279.2 L108.2 280.2 L112.7 280.9 L117.2 281.4 L121.7 281.5 L126.1 281.1 L130.6 280.4 L135.1 279.5 L139.6 278.5 L144.0 277.8 L148.5 277.0 L152.9 276.2 L157.3 275.4 L161.8 274.8 L166.2 274.5 L170.7 274.5 L175.1 274.9"/>
<path d="M24.0 236.8 L26.7 236.8 L29.5 237.0 L32.2 237.1 L34.9 237.2 L37.7 237.3 L40.4 237.4 L43.1 237.1 L45.9 236.3 L48.6 235.7 L51.3 235.1 L54.0 234.6 L56.8 234.2 L59.5 233.8 L62.2 233.5 L65.0 233.3 L67.7 233.2 L70.0 233.2 L72.2 233.3 L74.5 233.4 L76.7 233.7 L79.0 234.0 L81.2 234.4 L83.5 234.9 L85.7 235.5 L88.0 236.2 L90.2 236.9 L92.5 237.7 L94.7 238.2 L97.0 238.3 L99.2 238.4 L101.5 238.5 L103.7 238.5 L105.9 238.5 L108.2 238.5 L110.4 238.6 L112.7 238.6 L114.9 238.6 L117.2 238.1 L119.4 237.4 L121.7 236.8 L123.9 236.2 L126.1 235.7 L128.4 235.4 L130.6 235.0 L132.9 234.8 L135.1 234.6 L137.4 234.5 L139.6 234.5 L141.8 234.5 L144.0 234.5 L146.3 234.6 L148.5 234.7 L150.7 234.8 L152.9 235.0 L155.1 235.2 L157.3 235.5 L159.6 235.9 L161.8 236.4 L164.0 236.8 L166.2 236.6 L168.4 236.4 L170.7 236.3 L172.9 236.2 L175.1 236.2"/>
<path d="M24.0 242.1 L26.7 242.0 L29.5 242.0 L32.2 242.1 L34.9 242.2 L37.7 242.3 L40.4 242.4 L43.1 243.2 L45.9 244.4 L48.6 245.5 L51.3 246.5 L54.0 247.3 L56.8 248.0 L59.5 248.6 L62.2 249.0 L65.0 249.3 L67.7 249.4 L70.0 249.3 L72.2 249.1 L74.5 248.9 L76.7 248.5 L79.0 248.1 L81.2 247.5 L83.5 246.9 L85.7 246.3 L88.0 245.5 L90.2 244.7 L92.5 243.8 L94.7 243.3 L97.0 243.3 L99.2 243.3 L101.5 243.3 L103.7 243.4 L105.9 243.3 L108.2 243.2 L110.4 243.2 L112.7 243.1 L114.9 243.1 L117.2 243.8 L119.4 244.7 L121.7 245.5 L123.9 246.3 L126.1 247.0 L128.4 247.5 L130.6 248.0 L132.9 248.5 L135.1 248.8 L137.4 249.0 L139.6 249.1 L141.8 249.1 L144.0 248.8 L146.3 248.5 L148.5 247.9 L150.7 247.3 L152.9 246.5 L155.1 245.5 L157.3 244.5 L159.6 243.4 L161.8 242.1 L164.0 241.0 L166.2 240.8 L168.4 240.5 L170.7 240.4 L172.9 240.2 L175.1 240.2"/>
<path d="M24.0 297.0 L29.5 295.6 L34.9 293.5 L40.4 291.0 L45.9 288.5 L51.3 286.4 L56.8 284.9 L62.2 284.4 L67.7 284.8 L72.2 285.1 L76.7 285.1 L81.2 285.1 L85.7 284.9 L90.2 284.6 L94.7 284.3 L99.2 284.0 L103.7 283.7 L108.2 284.7 L112.7 285.8 L117.2 286.6 L121.7 287.0 L126.1 287.1 L130.6 286.7 L135.1 285.9 L139.6 284.9 L144.0 283.9 L148.5 283.3 L152.9 283.2 L157.3 283.6 L161.8 284.5 L166.2 285.7 L170.7 287.0 L175.1 288.3"/>
<path d="M24.0 242.8 L26.7 242.8 L29.5 242.9 L32.2 242.9 L34.9 242.9 L37.7 242.9 L40.4 242.9 L43.1 243.4 L45.9 244.3 L48.6 245.1 L51.3 245.7 L54.0 246.3 L56.8 246.7 L59.5 247.0 L62.2 247.2 L65.0 247.2 L67.7 247.2 L70.0 247.3 L72.2 247.3 L74.5 247.2 L76.7 247.1 L79.0 246.9 L81.2 246.6 L83.5 246.3 L85.7 245.9 L88.0 245.4 L90.2 244.7 L92.5 244.0 L94.7 243.6 L97.0 243.6 L99.2 243.6 L101.5 243.6 L103.7 243.5 L105.9 243.5 L108.2 243.5 L110.4 243.4 L112.7 243.4 L114.9 243.3 L117.2 243.9 L119.4 244.6 L121.7 245.3 L123.9 245.9 L126.1 246.4 L128.4 246.8 L130.6 247.2 L132.9 247.4 L135.1 247.6 L137.4 247.8 L139.6 247.8 L141.8 247.7 L144.0 247.6 L146.3 247.3 L148.5 246.9 L150.7 246.4 L152.9 245.7 L155.1 245.0 L157.3 244.2 L159.6 243.3 L161.8 242.3 L164.0 241.5 L166.2 241.4 L168.4 241.3 L170.7 241.2 L172.9 241.2 L175.1 241.2"/>
<path d="M24.0 283.8 L29.5 283.7 L34.9 283.9 L40.4 284.3 L45.9 285.0 L51.3 285.7 L56.8 286.5 L62.2 287.1 L67.7 287.5 L72.2 286.3 L76.7 284.0 L81.2 280.9 L85.7 277.5 L90.2 274.2 L94.7 271.6 L99.2 270.1 L103.7 269.9 L108.2 270.0 L112.7 271.4 L117.2 274.0 L121.7 277.3 L126.1 280.8 L130.6 284.0 L135.1 286.4 L139.6 287.6 L144.0 286.6 L148.5 284.7 L152.9 282.3 L157.3 279.8 L161.8 277.4 L166.2 275.7 L170.7 274.7 L175.1 274.8"/>
<path d="M24.0 247.7 L26.7 247.6 L29.5 247.6 L32.2 247.5 L34.9 247.4 L37.7 247.3 L40.4 247.2 L43.1 247.4 L45.9 247.9 L48.6 248.4 L51.3 248.8 L54.0 249.2 L56.8 249.5 L59.5 249.7 L62.2 249.9 L65.0 250.1 L67.7 250.2 L70.0 250.3 L72.2 250.3 L74.5 250.3 L76.7 250.3 L79.0 250.2 L81.2 250.1 L83.5 249.9 L85.7 249.7 L88.0 249.5 L90.2 249.1 L92.5 248.7 L94.7 248.5 L97.0 248.5 L99.2 248.5 L101.5 248.5 L103.7 248.4 L105.9 248.4 L108.2 248.3 L110.4 248.1 L112.7 248.0 L114.9 247.8 L117.2 248.0 L119.4 248.3 L121.7 248.6 L123.9 248.8 L126.1 249.0 L128.4 249.1 L130.6 249.2 L132.9 249.3 L135.1 249.4 L137.4 249.5 L139.6 249.5 L141.8 249.5 L144.0 249.4 L146.3 249.2 L148.5 248.9 L150.7 248.6 L152.9 248.3 L155.1 247.9 L157.3 247.5 L159.6 247.0 L161.8 246.4 L164.0 245.9 L166.2 245.9 L168.4 245.9 L170.7 246.0 L172.9 246.0 L175.1 246.0"/>
<path d="M24.0 235.3 L26.7 235.3 L29.5 235.3 L32.2 235.3 L34.9 235.3 L37.7 235.3 L40.4 235.4 L43.1 235.1 L45.9 234.6 L48.6 234.2 L51.3 233.9 L54.0 233.6 L56.8 233.4 L59.5 233.2 L62.2 233.1 L65.0 233.0 L67.7 233.0 L70.0 233.0 L72.2 232.9 L74.5 232.9 L76.7 232.9 L79.0 232.9 L81.2 232.9 L83.5 233.0 L85.7 233.1 L88.0 233.3 L90.2 233.5 L92.5 233.9 L94.7 234.0 L97.0 234.0 L99.2 233.9 L101.5 233.9 L103.7 234.0 L105.9 234.0 L108.2 234.1 L110.4 234.1 L112.7 234.1 L114.9 234.1 L117.2 233.7 L119.4 233.2 L121.7 232.8 L123.9 232.4 L126.1 232.0 L128.4 231.7 L130.6 231.4 L132.9 231.1 L135.1 230.9 L137.4 230.8 L139.6 230.7 L141.8 230.8 L144.0 231.0 L146.3 231.2 L148.5 231.5 L150.7 231.9 L152.9 232.4 L155.1 232.9 L157.3 233.5 L159.6 234.1 L161.8 234.7 L164.0 235.3 L166.2 235.5 L168.4 235.6 L170.7 235.7 L172.9 235.7 L175.1 235.7"/>
<path d="M24.0 285.2 L29.5 285.8 L34.9 286.0 L40.4 285.7 L45.9 285.0 L51.3 284.0 L56.8 282.9 L62.2 281.7 L67.7 280.8 L72.2 281.3 L76.7 282.3 L81.2 283.7 L85.7 285.4 L90.2 287.0 L94.7 288.3 L99.2 289.1 L103.7 289.3 L108.2 287.8 L112.7 285.8 L117.2 283.6 L121.7 281.6 L126.1 280.0 L130.6 279.0 L135.1 279.0 L139.6 279.7 L144.0 280.9 L148.5 282.8 L152.9 285.1 L157.3 287.6 L161.8 289.8 L166.2 291.3 L170.7 292.1 L175.1 291.8"/>
<path d="M24.0 284.1 L29.5 285.4 L34.9 286.9 L40.4 288.3 L45.9 289.4 L51.3 290.0 L56.8 290.0 L62.2 289.5 L67.7 288.5 L72.2 287.8 L76.7 286.9 L81.2 285.9 L85.7 284.9 L90.2 284.2 L94.7 283.8 L99.2 283.9 L103.7 284.3 L108.2 283.9 L112.7 283.9 L117.2 284.4 L121.7 285.3 L126.1 286.4 L130.6 287.5 L135.1 288.6 L139.6 289.4 L144.0 289.4 L148.5 289.9 L152.9 291.0 L157.3 292.4 L161.8 293.9 L166.2 295.3 L170.7 296.3 L175.1 296.9"/>
<path d="M24.0 214.0 L29.5 213.8 L34.9 214.0 L40.4 214.4 L45.9 214.9 L51.3 215.6 L56.8 216.3 L62.2 216.9 L67.7 217.3 L72.2 216.3 L76.7 215.3 L81.2 214.2 L85.7 213.4 L90.2 212.9 L94.7 212.7 L99.2 213.0 L103.7 213.7 L108.2 213.8 L112.7 214.2 L117.2 214.8 L121.7 215.6 L126.1 216.5 L130.6 217.2 L135.1 217.7 L139.6 218.0 L144.0 217.6 L148.5 217.4 L152.9 217.3 L157.3 217.5 L161.8 217.8 L166.2 218.2 L170.7 218.6 L175.1 219.1"/>
<path d="M24.0 238.7 L26.7 238.7 L29.5 238.8 L32.2 238.9 L34.9 239.0 L37.7 239.1 L40.4 239.2 L43.1 238.7 L45.9 237.8 L48.6 237.0 L51.3 236.3 L54.0 235.7 L56.8 235.2 L59.5 234.9 L62.2 234.6 L65.0 234.4 L67.7 234.3 L70.0 234.3 L72.2 234.3 L74.5 234.4 L76.7 234.6 L79.0 234.9 L81.2 235.3 L83.5 235.7 L85.7 236.2 L88.0 236.8 L90.2 237.5 L92.5 238.4 L94.7 238.8 L97.0 238.8 L99.2 238.8 L101.5 238.9 L103.7 238.9 L105.9 238.9 L108.2 239.0 L110.4 239.1 L112.7 239.1 L114.9 239.2 L117.2 238.5 L119.4 237.7 L121.7 236.9 L123.9 236.2 L126.1 235.7 L128.4 235.1 L130.6 234.7 L132.9 234.4 L135.1 234.1 L137.4 233.9 L139.6 233.8 L141.8 233.8 L144.0 233.9 L146.3 234.0 L148.5 234.2 L150.7 234.5 L152.9 234.9 L155.1 235.3 L157.3 235.9 L159.6 236.5 L161.8 237.3 L164.0 238.0 L166.2 237.9 L168.4 237.8 L170.7 237.8 L172.9 237.8 L175.1 237.8"/>
<path d="M24.0 233.1 L26.7 233.1 L29.5 233.1 L32.2 233.1 L34.9 233.1 L37.7 233.0 L40.4 233.0 L43.1 232.6 L45.9 232.1 L48.6 231.6 L51.3 231.2 L54.0 230.8 L56.8 230.5 L59.5 230.2 L62.2 230.0 L65.0 229.9 L67.7 229.8 L70.0 229.8 L72.2 229.8 L74.5 229.9 L76.7 230.1 L79.0 230.4 L81.2 230.7 L83.5 231.2 L85.7 231.6 L88.0 232.1 L90.2 232.7 L92.5 233.3 L94.7 233.7 L97.0 233.9 L99.2 234.0 L101.5 234.2 L103.7 234.3 L105.9 234.3 L108.2 234.2 L110.4 234.1 L112.7 234.0 L114.9 233.8 L117.2 233.4 L119.4 232.8 L121.7 232.2 L123.9 231.7 L126.1 231.2 L128.4 230.7 L130.6 230.4 L132.9 230.1 L135.1 229.8 L137.4 229.7 L139.6 229.6 L141.8 229.7 L144.0 229.8 L146.3 229.9 L148.5 230.0 L150.7 230.2 L152.9 230.4 L155.1 230.6 L157.3 230.9 L159.6 231.1 L161.8 231.5 L164.0 231.7 L166.2 231.7 L168.4 231.6 L170.7 231.6 L172.9 231.5 L175.1 231.5"/>
<path d="M24.0 283.2 L29.5 283.1 L34.9 282.8 L40.4 282.3 L45.9 281.7 L51.3 281.1 L56.8 280.6 L62.2 280.2 L67.7 280.1 L72.2 281.4 L76.7 282.6 L81.2 283.6 L85.7 284.3 L90.2 284.5 L94.7 284.2 L99.2 283.5 L103.7 282.4 L108.2 283.2 L112.7 283.8 L117.2 284.0 L121.7 283.9 L126.1 283.5 L130.6 282.7 L135.1 281.8 L139.6 280.9 L144.0 280.0 L148.5 279.3 L152.9 279.0 L157.3 279.1 L161.8 279.6 L166.2 280.4 L170.7 281.3 L175.1 282.4"/>
<path d="M24.0 236.3 L26.7 236.4 L29.5 236.4 L32.2 236.4 L34.9 236.4 L37.7 236.5 L40.4 236.5 L43.1 236.1 L45.9 235.5 L48.6 235.0 L51.3 234.6 L54.0 234.2 L56.8 233.8 L59.5 233.5 L62.2 233.3 L65.0 233.2 L67.7 233.1 L70.0 233.1 L72.2 233.1 L74.5 233.2 L76.7 233.4 L79.0 233.7 L81.2 234.0 L83.5 234.4 L85.7 234.8 L88.0 235.3 L90.2 235.9 L92.5 236.5 L94.7 236.9 L97.0 237.0 L99.2 237.2 L101.5 237.3 L103.7 237.3 L105.9 237.4 L108.2 237.3 L110.4 237.3 L112.7 237.2 L114.9 237.1 L117.2 236.6 L119.4 235.9 L121.7 235.3 L123.9 234.8 L126.1 234.2 L128.4 233.8 L130.6 233.4 L132.9 233.0 L135.1 232.8 L137.4 232.6 L139.6 232.5 L141.8 232.5 L144.0 232.5 L146.3 232.6 L148.5 232.6 L150.7 232.7 L152.9 232.9 L155.1 233.1 L157.3 233.3 L159.6 233.6 L161.8 234.0 L164.0 234.3 L166.2 234.2 L168.4 234.2 L170.7 234.1 L172.9 234.1 L175.1 234.1"/>
<path d="M24.0 238.8 L26.7 238.7 L29.5 238.7 L32.2 238.6 L34.9 238.5 L37.7 238.4 L40.4 238.3 L43.1 237.8 L45.9 237.0 L48.6 236.2 L51.3 235.5 L54.0 235.0 L56.8 234.5 L59.5 234.2 L62.2 233.9 L65.0 233.8 L67.7 233.8 L70.0 233.7 L72.2 233.8 L74.5 234.0 L76.7 234.2 L79.0 234.5 L81.2 234.9 L83.5 235.4 L85.7 235.9 L88.0 236.5 L90.2 237.2 L92.5 238.0 L94.7 238.5 L97.0 238.6 L99.2 238.7 L101.5 238.7 L103.7 238.8 L105.9 238.7 L108.2 238.6 L110.4 238.5 L112.7 238.4 L114.9 238.3 L117.2 237.6 L119.4 236.8 L121.7 236.1 L123.9 235.5 L126.1 234.9 L128.4 234.5 L130.6 234.1 L132.9 233.8 L135.1 233.6 L137.4 233.5 L139.6 233.5 L141.8 233.5 L144.0 233.5 L146.3 233.6 L148.5 233.8 L150.7 234.1 L152.9 234.4 L155.1 234.9 L157.3 235.4 L159.6 236.0 L161.8 236.7 L164.0 237.3 L166.2 237.4 L168.4 237.4 L170.7 237.5 L172.9 237.6 L175.1 237.7"/>
<path d="M24.0 238.6 L29.5 238.5 L34.9 238.1 L40.4 237.4 L45.9 236.6 L51.3 235.9 L56.8 235.2 L62.2 234.8 L67.7 234.6 L72.2 234.6 L76.7 234.6 L81.2 234.5 L85.7 234.5 L90.2 234.4 L94.7 234.3 L99.2 234.3 L103.7 234.3 L108.2 234.2 L112.7 234.0 L117.2 233.6 L121.7 233.2 L126.1 232.8 L130.6 232.5 L135.1 232.2 L139.6 232.2 L144.0 232.4 L148.5 233.2 L152.9 234.3 L157.3 235.6 L161.8 236.9 L166.2 238.1 L170.7 238.8 L175.1 239.1"/>
<path d="M24.0 238.3 L29.5 238.1 L34.9 237.7 L40.4 236.9 L45.9 236.1 L51.3 235.2 L56.8 234.5 L62.2 234.0 L67.7 233.9 L72.2 234.0 L76.7 234.5 L81.2 235.1 L85.7 235.9 L90.2 236.8 L94.7 237.4 L99.2 237.9 L103.7 238.0 L108.2 237.8 L112.7 237.2 L117.2 236.3 L121.7 235.3 L126.1 234.2 L130.6 233.3 L135.1 232.7 L139.6 232.5 L144.0 232.7 L148.5 233.4 L152.9 234.5 L157.3 235.7 L161.8 237.0 L166.2 238.0 L170.7 238.7 L175.1 239.0"/>
<path d="M24.0 237.0 L29.5 236.9 L34.9 236.4 L40.4 235.8 L45.9 235.0 L51.3 234.2 L56.8 233.6 L62.2 233.1 L67.7 233.0 L72.2 232.9 L76.7 232.8 L81.2 232.7 L85.7 232.5 L90.2 232.3 L94.7 232.1 L99.2 232.0 L103.7 232.0 L108.2 232.0 L112.7 232.2 L117.2 232.3 L121.7 232.6 L126.1 232.8 L130.6 233.0 L135.1 233.1 L139.6 233.2 L144.0 233.4 L148.5 233.9 L152.9 234.7 L157.3 235.7 L161.8 236.7 L166.2 237.5 L170.7 238.1 L175.1 238.3"/>
<path d="M24.0 236.7 L29.5 236.6 L34.9 236.4 L40.4 236.2 L45.9 235.8 L51.3 235.5 L56.8 235.2 L62.2 235.0 L67.7 235.0 L72.2 235.0 L76.7 235.2 L81.2 235.4 L85.7 235.7 L90.2 235.9 L94.7 236.2 L99.2 236.3 L103.7 236.4 L108.2 236.3 L112.7 236.2 L117.2 236.0 L121.7 235.8 L126.1 235.6 L130.6 235.4 L135.1 235.2 L139.6 235.2 L144.0 235.1 L148.5 234.9 L152.9 234.5 L157.3 234.1 L161.8 233.7 L166.2 233.4 L170.7 233.2 L175.1 233.1"/>
<path d="M24.0 244.5 L29.5 244.7 L34.9 245.2 L40.4 245.9 L45.9 246.8 L51.3 247.6 L56.8 248.4 L62.2 248.9 L67.7 249.0 L72.2 249.0 L76.7 248.9 L81.2 248.8 L85.7 248.7 L90.2 248.5 L94.7 248.4 L99.2 248.4 L103.7 248.3 L108.2 248.3 L112.7 248.3 L117.2 248.2 L121.7 248.1 L126.1 247.9 L130.6 247.9 L135.1 247.8 L139.6 247.8 L144.0 247.8 L148.5 247.9 L152.9 248.0 L157.3 248.2 L161.8 248.3 L166.2 248.4 L170.7 248.5 L175.1 248.6"/>
<path d="M24.0 245.6 L29.5 245.7 L34.9 245.9 L40.4 246.3 L45.9 246.8 L51.3 247.3 L56.8 247.6 L62.2 247.9 L67.7 248.0 L72.2 248.0 L76.7 248.1 L81.2 248.2 L85.7 248.2 L90.2 248.3 L94.7 248.4 L99.2 248.5 L103.7 248.5 L108.2 248.5 L112.7 248.5 L117.2 248.4 L121.7 248.4 L126.1 248.3 L130.6 248.3 L135.1 248.2 L139.6 248.2 L144.0 248.1 L148.5 247.9 L152.9 247.5 L157.3 247.1 L161.8 246.7 L166.2 246.4 L170.7 246.1 L175.1 246.0"/>
<path d="M24.0 248.6 L29.5 248.6 L34.9 248.5 L40.4 248.4 L45.9 248.3 L51.3 248.1 L56.8 248.0 L62.2 248.0 L67.7 248.0 L72.2 248.0 L76.7 248.1 L81.2 248.3 L85.7 248.5 L90.2 248.8 L94.7 248.9 L99.2 249.1 L103.7 249.1 L108.2 249.1 L112.7 249.2 L117.2 249.3 L121.7 249.5 L126.1 249.6 L130.6 249.7 L135.1 249.8 L139.6 249.8 L144.0 249.7 L148.5 249.4 L152.9 249.0 L157.3 248.6 L161.8 248.1 L166.2 247.7 L170.7 247.4 L175.1 247.3"/>
<path d="M24.0 211.3 L29.5 211.6 L34.9 211.9 L40.4 212.1 L45.9 212.2 L51.3 212.1 L56.8 211.9 L62.2 211.6 L67.7 211.3 L72.2 211.3 L76.7 211.3 L81.2 211.3 L85.7 211.3 L90.2 211.3 L94.7 211.3 L99.2 211.3 L103.7 211.3 L108.2 211.0 L112.7 210.7 L117.2 210.6 L121.7 210.5 L126.1 210.6 L130.6 210.7 L135.1 211.0 L139.6 211.3 L144.0 211.5 L148.5 211.6 L152.9 211.7 L157.3 211.7 L161.8 211.7 L166.2 211.6 L170.7 211.5 L175.1 211.3"/>
<path d="M24.0 211.5 L29.5 211.5 L34.9 211.5 L40.4 211.5 L45.9 211.5 L51.3 211.5 L56.8 211.5 L62.2 211.5 L67.7 211.5 L72.2 211.5 L76.7 211.5 L81.2 211.5 L85.7 211.5 L90.2 211.5 L94.7 211.5 L99.2 211.5 L103.7 211.5 L108.2 211.3 L112.7 211.1 L117.2 211.0 L121.7 211.0 L126.1 211.0 L130.6 211.1 L135.1 211.3 L139.6 211.5 L144.0 211.5 L148.5 211.6 L152.9 211.6 L157.3 211.6 L161.8 211.6 L166.2 211.6 L170.7 211.5 L175.1 211.5"/>
<path d="M24.0 212.2 L29.5 212.3 L34.9 212.4 L40.4 212.5 L45.9 212.5 L51.3 212.5 L56.8 212.4 L62.2 212.3 L67.7 212.2 L72.2 212.6 L76.7 212.9 L81.2 213.1 L85.7 213.2 L90.2 213.1 L94.7 212.9 L99.2 212.6 L103.7 212.2 L108.2 212.5 L112.7 212.9 L117.2 213.1 L121.7 213.2 L126.1 213.1 L130.6 212.9 L135.1 212.5 L139.6 212.2 L144.0 211.8 L148.5 211.4 L152.9 211.2 L157.3 211.2 L161.8 211.2 L166.2 211.4 L170.7 211.8 L175.1 212.2"/>
<path d="M24.0 211.7 L29.5 211.9 L34.9 212.0 L40.4 212.1 L45.9 212.1 L51.3 212.1 L56.8 212.0 L62.2 211.9 L67.7 211.7 L72.2 211.3 L76.7 211.0 L81.2 210.8 L85.7 210.7 L90.2 210.8 L94.7 211.0 L99.2 211.3 L103.7 211.7 L108.2 212.1 L112.7 212.4 L117.2 212.6 L121.7 212.7 L126.1 212.6 L130.6 212.4 L135.1 212.1 L139.6 211.7 L144.0 212.2 L148.5 212.5 L152.9 212.7 L157.3 212.8 L161.8 212.7 L166.2 212.5 L170.7 212.2 L175.1 211.7"/>
<path d="M24.0 211.6 L29.5 211.7 L34.9 211.8 L40.4 211.9 L45.9 211.9 L51.3 211.9 L56.8 211.8 L62.2 211.7 L67.7 211.6 L72.2 211.8 L76.7 212.0 L81.2 212.1 L85.7 212.1 L90.2 212.1 L94.7 212.0 L99.2 211.8 L103.7 211.6 L108.2 211.9 L112.7 212.1 L117.2 212.3 L121.7 212.3 L126.1 212.3 L130.6 212.1 L135.1 211.9 L139.6 211.6 L144.0 211.7 L148.5 211.7 L152.9 211.8 L157.3 211.8 L161.8 211.8 L166.2 211.7 L170.7 211.7 L175.1 211.6"/>
<path d="M24.0 211.8 L29.5 211.9 L34.9 211.9 L40.4 212.0 L45.9 212.0 L51.3 212.0 L56.8 211.9 L62.2 211.9 L67.7 211.8 L72.2 212.1 L76.7 212.4 L81.2 212.6 L85.7 212.7 L90.2 212.6 L94.7 212.4 L99.2 212.1 L103.7 211.8 L108.2 211.7 L112.7 211.6 L117.2 211.5 L121.7 211.5 L126.1 211.5 L130.6 211.6 L135.1 211.7 L139.6 211.8 L144.0 212.2 L148.5 212.5 L152.9 212.7 L157.3 212.8 L161.8 212.7 L166.2 212.5 L170.7 212.2 L175.1 211.8"/>
<path d="M24.0 211.2 L29.5 210.7 L34.9 209.4 L40.4 207.5 L45.9 205.2 L51.3 202.9 L56.8 201.0 L62.2 199.7 L67.7 199.3 L72.2 199.7 L76.7 201.0 L81.2 202.9 L85.7 205.2 L90.2 207.5 L94.7 209.4 L99.2 210.7 L103.7 211.2 L108.2 210.7 L112.7 209.4 L117.2 207.5 L121.7 205.2 L126.1 202.9 L130.6 201.0 L135.1 199.7 L139.6 199.3 L144.0 199.6 L148.5 200.7 L152.9 202.2 L157.3 204.1 L161.8 205.9 L166.2 207.5 L170.7 208.6 L175.1 208.9"/>
<path d="M24.0 210.9 L29.5 210.4 L34.9 208.9 L40.4 206.6 L45.9 204.0 L51.3 201.3 L56.8 199.1 L62.2 197.5 L67.7 197.0 L72.2 197.5 L76.7 199.1 L81.2 201.3 L85.7 204.0 L90.2 206.6 L94.7 208.9 L99.2 210.4 L103.7 210.9 L108.2 210.4 L112.7 208.9 L117.2 206.6 L121.7 204.0 L126.1 201.3 L130.6 199.1 L135.1 197.5 L139.6 197.0 L144.0 197.5 L148.5 198.7 L152.9 200.6 L157.3 202.8 L161.8 205.1 L166.2 207.0 L170.7 208.2 L175.1 208.7"/>
<path d="M24.0 211.9 L29.5 211.3 L34.9 209.4 L40.4 206.6 L45.9 203.3 L51.3 200.1 L56.8 197.3 L62.2 195.4 L67.7 194.8 L72.2 195.4 L76.7 197.3 L81.2 200.1 L85.7 203.3 L90.2 206.6 L94.7 209.4 L99.2 211.3 L103.7 211.9 L108.2 211.3 L112.7 209.4 L117.2 206.6 L121.7 203.3 L126.1 200.1 L130.6 197.3 L135.1 195.4 L139.6 194.8 L144.0 195.3 L148.5 197.0 L152.9 199.4 L157.3 202.2 L161.8 205.1 L166.2 207.5 L170.7 209.1 L175.1 209.7"/>
<path d="M24.0 211.7 L29.5 210.9 L34.9 208.9 L40.4 205.8 L45.9 202.1 L51.3 198.4 L56.8 195.3 L62.2 193.3 L67.7 192.5 L72.2 193.3 L76.7 195.3 L81.2 198.4 L85.7 202.1 L90.2 205.8 L94.7 208.9 L99.2 210.9 L103.7 211.7 L108.2 210.9 L112.7 208.9 L117.2 205.8 L121.7 202.1 L126.1 198.4 L130.6 195.3 L135.1 193.3 L139.6 192.5 L144.0 193.2 L148.5 195.0 L152.9 197.7 L157.3 201.0 L161.8 204.2 L166.2 206.9 L170.7 208.8 L175.1 209.4"/>
<path d="M24.0 312.1 L45.9 329.8 L67.7 347.5 L85.7 335.7 L103.7 323.9 L121.7 335.7 L139.6 347.5 L157.3 335.1 L175.1 322.8"/>
<path d="M24.0 310.4 L45.9 329.0 L67.7 347.5 L85.7 330.1 L103.7 312.7 L121.7 330.1 L139.6 347.5 L157.3 329.5 L175.1 311.6"/>
<path d="M24.0 300.9 L45.9 324.2 L67.7 347.5 L85.7 327.8 L103.7 308.2 L121.7 327.8 L139.6 347.5 L157.3 327.3 L175.1 307.1"/>
<path d="M24.0 293.6 L45.9 320.5 L67.7 347.5 L85.7 321.7 L103.7 295.8 L121.7 321.7 L139.6 347.5 L157.3 320.0 L175.1 292.5"/>
<path d="M24.0 311.6 L29.5 311.7 L34.9 311.5 L40.4 311.2 L45.9 310.7 L51.3 310.1 L56.8 309.5 L62.2 309.1 L67.7 308.8 L72.2 308.9 L76.7 309.7 L81.2 311.1 L85.7 312.9 L90.2 314.8 L94.7 316.5 L99.2 317.7 L103.7 318.3 L108.2 318.5 L112.7 317.9 L117.2 316.6 L121.7 314.9 L126.1 313.0 L130.6 311.1 L135.1 309.6 L139.6 308.8 L144.0 308.6 L148.5 309.0 L152.9 309.8 L157.3 310.9 L161.8 312.2 L166.2 313.4 L170.7 314.3 L175.1 314.9"/>
<path d="M24.0 311.0 L29.5 311.3 L34.9 311.5 L40.4 311.4 L45.9 311.2 L51.3 310.8 L56.8 310.3 L62.2 309.8 L67.7 309.3 L72.2 309.1 L76.7 309.2 L81.2 309.6 L85.7 310.4 L90.2 311.4 L94.7 312.3 L99.2 313.2 L103.7 313.8 L108.2 313.0 L112.7 312.0 L117.2 310.9 L121.7 309.9 L126.1 309.2 L130.6 308.8 L135.1 308.8 L139.6 309.3 L144.0 308.9 L148.5 308.8 L152.9 309.1 L157.3 309.6 L161.8 310.4 L166.2 311.2 L170.7 312.0 L175.1 312.7"/>
<path d="M24.0 311.6 L29.5 310.8 L34.9 310.0 L40.4 309.1 L45.9 308.3 L51.3 307.8 L56.8 307.6 L62.2 307.7 L67.7 308.2 L72.2 307.6 L76.7 307.1 L81.2 306.7 L85.7 306.6 L90.2 306.7 L94.7 307.1 L99.2 307.6 L103.7 308.2 L108.2 308.5 L112.7 308.7 L117.2 308.9 L121.7 309.0 L126.1 308.9 L130.6 308.7 L135.1 308.5 L139.6 308.2 L144.0 307.6 L148.5 307.3 L152.9 307.1 L157.3 307.2 L161.8 307.5 L166.2 308.1 L170.7 308.7 L175.1 309.3"/>
<path d="M24.0 312.7 L29.5 312.5 L34.9 311.7 L40.4 310.5 L45.9 309.1 L51.3 307.5 L56.8 306.2 L62.2 305.2 L67.7 304.8 L72.2 304.6 L76.7 304.2 L81.2 303.9 L85.7 303.7 L90.2 303.5 L94.7 303.5 L99.2 303.5 L103.7 303.7 L108.2 304.2 L112.7 304.6 L117.2 305.0 L121.7 305.3 L126.1 305.5 L130.6 305.4 L135.1 305.2 L139.6 304.8 L144.0 304.8 L148.5 304.8 L152.9 304.9 L157.3 305.1 L161.8 305.4 L166.2 305.6 L170.7 305.8 L175.1 305.9"/>
<path d="M24.0 310.4 L29.5 310.6 L34.9 310.8 L40.4 310.9 L45.9 310.9 L51.3 310.9 L56.8 310.8 L62.2 310.6 L67.7 310.4 L72.2 311.3 L76.7 312.8 L81.2 314.7 L85.7 316.8 L90.2 318.6 L94.7 320.0 L99.2 320.7 L103.7 320.5 L108.2 319.6 L112.7 318.0 L117.2 316.1 L121.7 314.0 L126.1 312.2 L130.6 310.9 L135.1 310.3 L139.6 310.4 L144.0 310.3 L148.5 310.8 L152.9 311.8 L157.3 313.2 L161.8 314.8 L166.2 316.3 L170.7 317.6 L175.1 318.3"/>
<path d="M24.0 311.6 L29.5 310.8 L34.9 309.4 L40.4 307.6 L45.9 305.6 L51.3 303.7 L56.8 302.3 L62.2 301.5 L67.7 301.5 L72.2 302.0 L76.7 303.6 L81.2 305.8 L85.7 308.4 L90.2 311.0 L94.7 313.1 L99.2 314.5 L103.7 314.9 L108.2 313.9 L112.7 311.9 L117.2 309.4 L121.7 306.7 L126.1 304.2 L130.6 302.4 L135.1 301.4 L139.6 301.5 L144.0 301.8 L148.5 303.0 L152.9 304.9 L157.3 307.3 L161.8 309.7 L166.2 311.7 L170.7 313.2 L175.1 313.8"/>
<path d="M24.0 312.1 L29.5 311.8 L34.9 310.5 L40.4 308.3 L45.9 305.7 L51.3 303.0 L56.8 300.6 L62.2 298.8 L67.7 298.1 L72.2 298.0 L76.7 298.5 L81.2 299.4 L85.7 300.6 L90.2 302.0 L94.7 303.2 L99.2 304.2 L103.7 304.8 L108.2 304.0 L112.7 302.9 L117.2 301.5 L121.7 300.1 L126.1 298.9 L130.6 298.1 L135.1 297.8 L139.6 298.1 L144.0 297.8 L148.5 298.0 L152.9 298.6 L157.3 299.6 L161.8 300.7 L166.2 301.9 L170.7 303.0 L175.1 303.7"/>
<path d="M24.0 310.4 L29.5 310.0 L34.9 309.4 L40.4 308.7 L45.9 308.0 L51.3 307.5 L56.8 307.1 L62.2 306.9 L67.7 307.1 L72.2 306.3 L76.7 305.1 L81.2 303.8 L85.7 302.4 L90.2 301.2 L94.7 300.4 L99.2 300.1 L103.7 300.3 L108.2 300.1 L112.7 300.5 L117.2 301.3 L121.7 302.5 L126.1 303.9 L130.6 305.3 L135.1 306.4 L139.6 307.1 L144.0 307.1 L148.5 306.6 L152.9 305.5 L157.3 304.1 L161.8 302.5 L166.2 301.0 L170.7 299.9 L175.1 299.2"/>
<path d="M24.0 298.1 L29.5 298.9 L34.9 300.4 L40.4 302.3 L45.9 304.3 L51.3 306.2 L56.8 307.6 L62.2 308.3 L67.7 308.2 L72.2 308.3 L76.7 307.7 L81.2 306.3 L85.7 304.5 L90.2 302.4 L94.7 300.5 L99.2 299.0 L103.7 298.1 L108.2 298.1 L112.7 298.9 L117.2 300.3 L121.7 302.2 L126.1 304.2 L130.6 306.0 L135.1 307.4 L139.6 308.2 L144.0 307.7 L148.5 306.5 L152.9 304.8 L157.3 302.9 L161.8 301.0 L166.2 299.4 L170.7 298.4 L175.1 298.1"/>
<path d="M24.0 295.8 L29.5 295.9 L34.9 295.8 L40.4 295.5 L45.9 295.1 L51.3 294.7 L56.8 294.2 L62.2 293.8 L67.7 293.6 L72.2 294.2 L76.7 295.4 L81.2 297.2 L85.7 299.1 L90.2 301.0 L94.7 302.6 L99.2 303.5 L103.7 303.7 L108.2 302.7 L112.7 301.1 L117.2 299.1 L121.7 297.0 L126.1 295.2 L130.6 293.9 L135.1 293.4 L139.6 293.6 L144.0 294.2 L148.5 295.3 L152.9 296.9 L157.3 298.7 L161.8 300.4 L166.2 301.7 L170.7 302.5 L175.1 302.6"/>
<path d="M24.0 293.6 L29.5 293.2 L34.9 293.1 L40.4 293.4 L45.9 293.9 L51.3 294.7 L56.8 295.5 L62.2 296.3 L67.7 297.0 L72.2 296.6 L76.7 296.1 L81.2 295.7 L85.7 295.4 L90.2 295.3 L94.7 295.3 L99.2 295.5 L103.7 295.8 L108.2 295.5 L112.7 295.2 L117.2 295.1 L121.7 295.3 L126.1 295.6 L130.6 296.0 L135.1 296.5 L139.6 297.0 L144.0 296.6 L148.5 296.3 L152.9 295.9 L157.3 295.6 L161.8 295.5 L166.2 295.5 L170.7 295.6 L175.1 295.8"/>
<path d="M24.0 311.6 L29.5 311.3 L34.9 309.6 L40.4 306.8 L45.9 303.2 L51.3 299.5 L56.8 296.1 L62.2 293.7 L67.7 292.5 L72.2 292.7 L76.7 293.4 L81.2 294.4 L85.7 295.7 L90.2 297.0 L94.7 298.1 L99.2 298.9 L103.7 299.2 L108.2 299.3 L112.7 298.8 L117.2 297.9 L121.7 296.7 L126.1 295.3 L130.6 294.0 L135.1 293.0 L139.6 292.5 L144.0 292.9 L148.5 293.8 L152.9 294.8 L157.3 296.0 L161.8 297.0 L166.2 297.7 L170.7 298.1 L175.1 298.1"/>
<path d="M24.0 292.5 L29.5 293.1 L34.9 294.3 L40.4 295.8 L45.9 297.3 L51.3 298.8 L56.8 299.8 L62.2 300.4 L67.7 300.3 L72.2 299.9 L76.7 298.9 L81.2 297.4 L85.7 295.6 L90.2 293.9 L94.7 292.5 L99.2 291.6 L103.7 291.4 L108.2 291.2 L112.7 291.7 L117.2 292.8 L121.7 294.4 L126.1 296.3 L130.6 298.0 L135.1 299.5 L139.6 300.3 L144.0 300.3 L148.5 299.8 L152.9 298.9 L157.3 297.6 L161.8 296.3 L166.2 295.0 L170.7 294.1 L175.1 293.6"/>
<path d="M24.0 309.6 L45.9 301.3 L67.7 293.0 L85.7 302.2 L103.7 311.5 L121.7 300.4 L139.6 289.3 L157.3 300.1 L175.1 310.8"/>
<path d="M24.0 282.1 L45.9 296.1 L67.7 310.0 L85.7 302.4 L103.7 294.8 L121.7 300.9 L139.6 306.9 L157.3 295.7 L175.1 284.4"/>
<path d="M24.0 313.0 L45.9 303.6 L67.7 294.1 L85.7 303.4 L103.7 312.6 L121.7 295.3 L139.6 277.9 L157.3 294.6 L175.1 311.3"/>
<path d="M24.0 277.9 L45.9 292.1 L67.7 306.3 L85.7 297.2 L103.7 288.1 L121.7 297.8 L139.6 307.5 L157.3 299.8 L175.1 292.1"/>
<path d="M24.0 309.2 L45.9 301.9 L67.7 294.5 L85.7 302.3 L103.7 310.1 L121.7 297.0 L139.6 283.9 L157.3 297.7 L175.1 311.5"/>
<path d="M24.0 293.8 L45.9 300.6 L67.7 307.4 L85.7 294.1 L103.7 280.8 L121.7 295.5 L139.6 310.2 L157.3 301.8 L175.1 293.5"/>
<path d="M24.0 306.4 L45.9 295.2 L67.7 284.1 L85.7 296.3 L103.7 308.5 L121.7 298.7 L139.6 289.0 L157.3 300.4 L175.1 311.8"/>
<path d="M24.0 286.7 L45.9 300.0 L67.7 313.2 L85.7 301.2 L103.7 289.2 L121.7 299.6 L139.6 310.0 L157.3 300.7 L175.1 291.5"/>
<path d="M24.0 310.4 L45.9 302.1 L67.7 293.8 L85.7 303.2 L103.7 312.6 L121.7 295.4 L139.6 278.2 L157.3 293.4 L175.1 308.7"/>
<path d="M24.0 290.5 L45.9 299.0 L67.7 307.4 L85.7 294.1 L103.7 280.9 L121.7 294.0 L139.6 307.2 L157.3 299.5 L175.1 291.8"/>
<path d="M24.0 313.7 L45.9 301.5 L67.7 289.2 L85.7 299.3 L103.7 309.4 L121.7 295.8 L139.6 282.1 L157.3 295.7 L175.1 309.3"/>
<path d="M24.0 291.1 L45.9 300.7 L67.7 310.4 L85.7 298.5 L103.7 286.7 L121.7 298.5 L139.6 310.3 L157.3 302.6 L175.1 294.9"/>
<path d="M24.0 313.2 L45.9 303.2 L67.7 293.2 L85.7 303.3 L103.7 313.3 L121.7 298.6 L139.6 283.8 L157.3 295.5 L175.1 307.2"/>
<path d="M24.0 281.4 L45.9 297.4 L67.7 313.3 L85.7 304.4 L103.7 295.4 L121.7 302.2 L139.6 308.9 L157.3 296.1 L175.1 283.3"/>
<path d="M24.0 311.1 L45.9 298.1 L67.7 285.0 L85.7 298.6 L103.7 312.2 L121.7 303.1 L139.6 294.1 L157.3 302.8 L175.1 311.5"/>
<path d="M24.0 286.1 L45.9 299.5 L67.7 312.8 L85.7 300.2 L103.7 287.5 L121.7 299.7 L139.6 311.9 L157.3 295.3 L175.1 278.7"/>
<path d="M24.0 307.1 L45.9 293.7 L67.7 280.3 L85.7 294.2 L103.7 308.1 L121.7 296.6 L139.6 285.0 L157.3 298.5 L175.1 311.9"/>
<path d="M24.0 283.6 L45.9 296.0 L67.7 308.4 L85.7 300.2 L103.7 292.0 L121.7 299.0 L139.6 306.1 L157.3 298.2 L175.1 290.3"/>
</g>
<line x1="24" y1="202.5" x2="24" y2="361.2" stroke="#f2a2c2" stroke-width="1.1"/>
<line x1="67.7" y1="202.5" x2="67.7" y2="361.2" stroke="#f2a2c2" stroke-width="1.1"/>
<line x1="103.7" y1="202.5" x2="103.7" y2="361.2" stroke="#f2a2c2" stroke-width="1.1"/>
<line x1="139.6" y1="202.5" x2="139.6" y2="361.2" stroke="#f2a2c2" stroke-width="1.1"/>
<line x1="175.1" y1="202.5" x2="175.1" y2="361.2" stroke="#f2a2c2" stroke-width="1.1"/>
<line x1="23.3" y1="202.5" x2="23.3" y2="361.5" stroke="#777" stroke-width="0.7"/>
<line x1="24" y1="347.5" x2="175.1" y2="347.5" stroke="#b482f6" stroke-width="1.4" stroke-dasharray="3.2 2.4"/>
<line x1="23.4" y1="202.5" x2="175.7" y2="202.5" stroke="#444" stroke-width="1"/>
<line x1="23" y1="361.3" x2="175.7" y2="361.3" stroke="#444" stroke-width="1.1"/>
<line x1="21" y1="212.74" x2="24" y2="212.74" stroke="#333" stroke-width="1"/>
<text x="19" y="215.74" font-size="8.5" text-anchor="end" fill="#222" stroke="#222" stroke-width="0.1">12</text>
<line x1="21" y1="246.43" x2="24" y2="246.43" stroke="#333" stroke-width="1"/>
<text x="19" y="249.43" font-size="8.5" text-anchor="end" fill="#222" stroke="#222" stroke-width="0.1">9</text>
<line x1="21" y1="280.12" x2="24" y2="280.12" stroke="#333" stroke-width="1"/>
<text x="19" y="283.12" font-size="8.5" text-anchor="end" fill="#222" stroke="#222" stroke-width="0.1">6</text>
<line x1="21" y1="313.81" x2="24" y2="313.81" stroke="#333" stroke-width="1"/>
<text x="19" y="316.81" font-size="8.5" text-anchor="end" fill="#222" stroke="#222" stroke-width="0.1">3</text>
<line x1="21" y1="347.5" x2="24" y2="347.5" stroke="#333" stroke-width="1"/>
<text x="19" y="350.5" font-size="8.5" text-anchor="end" fill="#222" stroke="#222" stroke-width="0.1">0</text>
<line x1="22.4" y1="229.58" x2="24" y2="229.58" stroke="#333" stroke-width="1"/>
<line x1="22.4" y1="263.27" x2="24" y2="263.27" stroke="#333" stroke-width="1"/>
<line x1="22.4" y1="296.96" x2="24" y2="296.96" stroke="#333" stroke-width="1"/>
<line x1="22.4" y1="330.65" x2="24" y2="330.65" stroke="#333" stroke-width="1"/>
<text x="0.3" y="208.2" font-size="15" text-anchor="start" fill="#111" stroke="#111" stroke-width="0.1">d</text>
<text x="8.3" y="269" font-size="9.5" text-anchor="middle" fill="#222" stroke="#222" stroke-width="0.1" transform="rotate(-90 8.3 269)">Frequency (THz)</text>
<text x="29.7" y="372.6" font-size="8.5" text-anchor="middle" fill="#222" stroke="#222" stroke-width="0.1">R_2</text>
<text x="68.2" y="372.6" font-size="8.5" text-anchor="middle" fill="#222" stroke="#222" stroke-width="0.1" font-family="Liberation Serif">Γ</text>
<text x="104.5" y="372.6" font-size="8.5" text-anchor="middle" fill="#222" stroke="#222" stroke-width="0.1">T_2|U_2</text>
<text x="140.7" y="372.6" font-size="8.5" text-anchor="middle" fill="#222" stroke="#222" stroke-width="0.1" font-family="Liberation Serif">Γ</text>
<text x="169.1" y="372.6" font-size="8.5" text-anchor="middle" fill="#222" stroke="#222" stroke-width="0.1">V_2</text>
<text x="101.9" y="386.4" font-size="10" text-anchor="middle" fill="#222" stroke="#222" stroke-width="0.1">Wave vector</text>
<rect x="178.5" y="202.3" width="35" height="158.5" fill="none" stroke="#333" stroke-width="1"/>
<path d="M183.30 202.40 C183.39 202.62 183.68 203.28 183.87 203.72 C184.06 204.17 184.27 204.61 184.43 205.05 C184.58 205.49 184.63 205.93 184.80 206.38 C184.97 206.82 184.46 207.10 185.44 207.70 C186.42 208.30 189.00 209.32 190.67 210.00 C192.35 210.68 193.98 211.18 195.48 211.80 C196.98 212.42 197.49 213.12 199.68 213.70 C201.87 214.28 207.48 214.72 208.60 215.30 C209.73 215.88 207.51 216.65 206.44 217.20 C205.38 217.75 203.37 218.13 202.22 218.60 C201.06 219.07 201.02 219.55 199.52 220.00 C198.02 220.45 193.88 220.86 193.22 221.30 C192.56 221.74 195.05 222.20 195.56 222.65 C196.08 223.10 196.14 223.55 196.29 224.00 C196.44 224.45 196.53 224.89 196.46 225.33 C196.39 225.78 196.34 226.22 195.87 226.67 C195.40 227.11 193.88 227.54 193.64 228.00 C193.39 228.46 194.22 228.96 194.41 229.43 C194.60 229.91 194.39 230.39 194.78 230.87 C195.18 231.34 196.61 231.82 196.77 232.30 C196.92 232.78 196.26 233.25 195.69 233.73 C195.12 234.20 193.55 234.68 193.35 235.15 C193.14 235.62 194.71 236.10 194.48 236.57 C194.26 237.05 192.26 237.47 191.99 238.00 C191.71 238.53 193.00 239.16 192.83 239.73 C192.66 240.31 191.41 240.89 190.95 241.47 C190.50 242.04 189.89 242.64 190.10 243.20 C190.32 243.76 192.24 244.27 192.24 244.80 C192.24 245.33 190.49 245.87 190.09 246.40 C189.68 246.93 189.51 247.47 189.80 248.00 C190.09 248.53 191.56 249.04 191.82 249.57 C192.08 250.09 191.74 250.61 191.38 251.13 C191.01 251.66 189.42 252.21 189.61 252.70 C189.80 253.19 192.06 253.62 192.52 254.07 C192.98 254.53 192.15 254.99 192.36 255.45 C192.57 255.91 193.59 256.37 193.77 256.82 C193.96 257.28 191.13 257.74 193.47 258.20 C195.82 258.66 206.36 259.14 207.83 259.60 C209.31 260.06 203.92 260.50 202.33 260.95 C200.75 261.40 199.41 261.85 198.31 262.30 C197.20 262.75 196.81 263.22 195.70 263.68 C194.59 264.13 192.69 264.59 191.64 265.05 C190.59 265.51 190.27 265.97 189.41 266.43 C188.55 266.88 186.66 267.34 186.46 267.80 C186.27 268.26 187.68 268.71 188.24 269.17 C188.81 269.62 189.17 270.08 189.85 270.53 C190.53 270.99 191.56 271.44 192.34 271.90 C193.13 272.36 194.24 272.81 194.56 273.27 C194.87 273.72 193.75 274.18 194.24 274.63 C194.73 275.09 196.96 275.55 197.50 276.00 C198.03 276.45 197.32 276.89 197.45 277.33 C197.57 277.78 197.74 278.22 198.27 278.67 C198.79 279.11 200.53 279.55 200.59 280.00 C200.65 280.45 199.20 280.92 198.62 281.38 C198.04 281.83 197.48 282.29 197.13 282.75 C196.79 283.21 196.73 283.67 196.57 284.12 C196.41 284.58 196.68 285.04 196.17 285.50 C195.67 285.96 193.69 286.42 193.54 286.88 C193.39 287.34 195.58 287.80 195.29 288.26 C195.00 288.72 192.18 289.18 191.80 289.64 C191.43 290.10 192.91 290.56 193.02 291.02 C193.13 291.48 193.03 291.92 192.47 292.40 C191.90 292.88 189.82 293.41 189.61 293.92 C189.40 294.43 191.24 294.93 191.23 295.44 C191.21 295.95 189.82 296.45 189.51 296.96 C189.19 297.47 189.46 297.97 189.34 298.48 C189.22 298.99 189.01 299.50 188.80 300.00 C188.59 300.50 188.33 301.00 188.10 301.50 C187.87 302.00 187.63 302.50 187.40 303.00 C187.17 303.50 186.93 304.00 186.70 304.50 C186.47 305.00 186.16 305.50 186.00 306.00 C185.84 306.50 185.83 307.00 185.75 307.50 C185.67 308.00 185.58 308.50 185.50 309.00 C185.42 309.50 185.33 310.00 185.25 310.50 C185.17 311.00 185.08 311.50 185.00 312.00 C184.92 312.50 184.83 313.00 184.75 313.50 C184.67 314.00 184.56 314.53 184.50 315.00 C184.44 315.47 184.42 315.87 184.38 316.30 C184.34 316.73 184.30 317.17 184.26 317.60 C184.22 318.03 184.18 318.47 184.14 318.90 C184.10 319.33 184.06 319.77 184.02 320.20 C183.98 320.63 183.94 321.07 183.90 321.50 C183.86 321.93 183.82 322.37 183.78 322.80 C183.74 323.23 183.70 323.67 183.66 324.10 C183.62 324.53 183.58 324.97 183.54 325.40 C183.50 325.83 183.46 326.27 183.42 326.70 C183.38 327.13 183.33 327.57 183.30 328.00 C183.27 328.43 183.27 328.87 183.26 329.31 C183.25 329.74 183.24 330.18 183.22 330.62 C183.21 331.05 183.20 331.49 183.18 331.92 C183.17 332.36 183.16 332.79 183.15 333.23 C183.13 333.67 183.12 334.10 183.11 334.54 C183.09 334.97 183.08 335.41 183.07 335.85 C183.06 336.28 183.04 336.72 183.03 337.15 C183.02 337.59 183.01 338.03 182.99 338.46 C182.98 338.90 182.97 339.33 182.95 339.77 C182.94 340.21 182.93 340.64 182.92 341.08 C182.90 341.51 182.89 341.95 182.88 342.38 C182.86 342.82 182.85 343.26 182.84 343.69 C182.83 344.13 182.81 344.56 182.80 345.00 C182.79 345.44 182.79 345.87 182.78 346.31 C182.78 346.74 182.77 347.18 182.77 347.62 C182.76 348.05 182.76 348.49 182.75 348.93 C182.74 349.36 182.74 349.80 182.73 350.23 C182.73 350.67 182.72 351.11 182.72 351.54 C182.71 351.98 182.71 352.41 182.70 352.85 C182.69 353.29 182.69 353.72 182.68 354.16 C182.68 354.59 182.67 355.03 182.67 355.47 C182.66 355.90 182.66 356.34 182.65 356.77 C182.64 357.21 182.64 357.65 182.63 358.08 C182.63 358.52 182.62 358.96 182.62 359.39 C182.61 359.83 182.60 360.48 182.60 360.70" fill="none" stroke="#f02020" stroke-width="1.1" stroke-linejoin="round"/>
<line x1="182.8" y1="361.3" x2="182.8" y2="363.8" stroke="#333" stroke-width="1"/>
<text x="182.8" y="372.6" font-size="8.5" text-anchor="middle" fill="#222" stroke="#222" stroke-width="0.1">0</text>
<line x1="196.4" y1="361.3" x2="196.4" y2="363.8" stroke="#333" stroke-width="1"/>
<text x="196.4" y="372.6" font-size="8.5" text-anchor="middle" fill="#222" stroke="#222" stroke-width="0.1">25</text>
<line x1="210.2" y1="361.3" x2="210.2" y2="363.8" stroke="#333" stroke-width="1"/>
<text x="210.2" y="372.6" font-size="8.5" text-anchor="middle" fill="#222" stroke="#222" stroke-width="0.1">50</text>
<text x="199.1" y="387.2" font-size="10" text-anchor="middle" fill="#222" stroke="#222" stroke-width="0.1">DOS</text>
<line x1="313.9" y1="201.6" x2="313.9" y2="361.3" stroke="#e6cbfb" stroke-width="1.2"/>
<line x1="358.8" y1="201.6" x2="358.8" y2="361.3" stroke="#e6cbfb" stroke-width="1.2"/>
<line x1="403.6" y1="201.6" x2="403.6" y2="361.3" stroke="#e6cbfb" stroke-width="1.2"/>
<line x1="258.5" y1="329.3" x2="449" y2="329.3" stroke="#e6cbfb" stroke-width="1.2"/>
<g clip-path="url(#clipE)" fill="none" stroke="#7fcffa" stroke-width="0.8" stroke-linejoin="round">
<path d="M258.5 203.9 L263.1 204.8 L267.7 207.2 L272.4 211.1 L277.0 216.2 L281.6 222.2 L286.2 228.6 L290.8 235.0 L295.4 240.9 L300.0 246.0 L304.7 249.9 L309.3 252.4 L313.9 253.2 L317.6 253.0 L321.4 252.5 L325.1 251.7 L328.9 250.6 L332.6 249.3 L336.4 247.9 L340.1 246.5 L343.8 245.3 L347.6 244.2 L351.3 243.3 L355.1 242.8 L358.8 242.6 L362.5 242.8 L366.3 243.3 L370.0 244.2 L373.7 245.3 L377.5 246.5 L381.2 247.9 L384.9 249.3 L388.7 250.6 L392.4 251.7 L396.1 252.5 L399.9 253.0 L403.6 253.2 L407.4 253.0 L411.2 252.5 L415.0 251.6 L418.7 250.5 L422.5 249.1 L426.3 247.7 L430.1 246.3 L433.9 244.9 L437.6 243.8 L441.4 242.9 L445.2 242.4 L449.0 242.2"/>
<path d="M258.5 203.1 L263.1 203.9 L267.7 206.2 L272.4 210.0 L277.0 214.9 L281.6 220.6 L286.2 226.7 L290.8 232.8 L295.4 238.5 L300.0 243.3 L304.7 247.1 L309.3 249.4 L313.9 250.2 L317.6 250.0 L321.4 249.4 L325.1 248.4 L328.9 247.2 L332.6 245.7 L336.4 244.1 L340.1 242.5 L343.8 241.0 L347.6 239.7 L351.3 238.8 L355.1 238.1 L358.8 237.9 L362.5 238.1 L366.3 238.7 L370.0 239.7 L373.7 240.9 L377.5 242.3 L381.2 243.9 L384.9 245.4 L388.7 246.9 L392.4 248.1 L396.1 249.0 L399.9 249.6 L403.6 249.8 L407.4 249.6 L411.2 249.0 L415.0 248.1 L418.7 246.9 L422.5 245.4 L426.3 243.9 L430.1 242.3 L433.9 240.9 L437.6 239.7 L441.4 238.7 L445.2 238.1 L449.0 237.9"/>
<path d="M258.5 202.7 L263.1 203.4 L267.7 205.6 L272.4 209.1 L277.0 213.6 L281.6 218.9 L286.2 224.5 L290.8 230.2 L295.4 235.5 L300.0 240.0 L304.7 243.5 L309.3 245.7 L313.9 246.4 L317.6 246.4 L321.4 246.3 L325.1 246.2 L328.9 246.1 L332.6 246.0 L336.4 245.8 L340.1 245.6 L343.8 245.5 L347.6 245.3 L351.3 245.2 L355.1 245.2 L358.8 245.2 L362.5 245.2 L366.3 245.2 L370.0 245.3 L373.7 245.5 L377.5 245.6 L381.2 245.8 L384.9 246.0 L388.7 246.1 L392.4 246.2 L396.1 246.3 L399.9 246.4 L403.6 246.4 L407.4 246.2 L411.2 245.4 L415.0 244.2 L418.7 242.7 L422.5 240.9 L426.3 239.0 L430.1 237.1 L433.9 235.3 L437.6 233.7 L441.4 232.5 L445.2 231.8 L449.0 231.6"/>
<path d="M258.5 201.8 L263.1 202.5 L267.7 204.6 L272.4 208.0 L277.0 212.4 L281.6 217.6 L286.2 223.1 L290.8 228.5 L295.4 233.7 L300.0 238.1 L304.7 241.5 L309.3 243.6 L313.9 244.3 L317.6 244.1 L321.4 243.4 L325.1 242.4 L328.9 241.1 L332.6 239.6 L336.4 237.9 L340.1 236.3 L343.8 234.7 L347.6 233.4 L351.3 232.4 L355.1 231.8 L358.8 231.6 L362.5 231.8 L366.3 232.4 L370.0 233.4 L373.7 234.7 L377.5 236.3 L381.2 237.9 L384.9 239.6 L388.7 241.1 L392.4 242.4 L396.1 243.4 L399.9 244.1 L403.6 244.3 L407.4 244.3 L411.2 244.2 L415.0 244.0 L418.7 243.8 L422.5 243.5 L426.3 243.2 L430.1 243.0 L433.9 242.7 L437.6 242.5 L441.4 242.3 L445.2 242.2 L449.0 242.2"/>
<path d="M258.5 201.8 L263.1 202.5 L267.7 204.5 L272.4 207.7 L277.0 211.9 L281.6 216.8 L286.2 222.0 L290.8 227.2 L295.4 232.1 L300.0 236.3 L304.7 239.5 L309.3 241.5 L313.9 242.2 L317.6 241.9 L321.4 241.2 L325.1 240.0 L328.9 238.5 L332.6 236.7 L336.4 234.7 L340.1 232.8 L343.8 231.0 L347.6 229.5 L351.3 228.3 L355.1 227.6 L358.8 227.3 L362.5 227.5 L366.3 228.3 L370.0 229.4 L373.7 230.9 L377.5 232.7 L381.2 234.5 L384.9 236.4 L388.7 238.1 L392.4 239.6 L396.1 240.8 L399.9 241.5 L403.6 241.8 L407.4 241.4 L411.2 240.5 L415.0 239.0 L418.7 237.1 L422.5 234.8 L426.3 232.4 L430.1 230.0 L433.9 227.7 L437.6 225.8 L441.4 224.3 L445.2 223.4 L449.0 223.1"/>
<path d="M258.5 201.0 L263.1 201.6 L267.7 203.4 L272.4 206.4 L277.0 210.2 L281.6 214.7 L286.2 219.4 L290.8 224.2 L295.4 228.7 L300.0 232.5 L304.7 235.4 L309.3 237.3 L313.9 237.9 L317.6 237.9 L321.4 237.8 L325.1 237.7 L328.9 237.6 L332.6 237.5 L336.4 237.3 L340.1 237.1 L343.8 237.0 L347.6 236.8 L351.3 236.7 L355.1 236.7 L358.8 236.7 L362.5 236.7 L366.3 236.7 L370.0 236.8 L373.7 237.0 L377.5 237.1 L381.2 237.3 L384.9 237.5 L388.7 237.6 L392.4 237.7 L396.1 237.8 L399.9 237.9 L403.6 237.9 L407.4 237.9 L411.2 237.8 L415.0 237.6 L418.7 237.4 L422.5 237.1 L426.3 236.9 L430.1 236.6 L433.9 236.3 L437.6 236.1 L441.4 235.9 L445.2 235.8 L449.0 235.8"/>
<path d="M258.5 201.0 L263.1 201.5 L267.7 203.3 L272.4 206.1 L277.0 209.7 L281.6 213.9 L286.2 218.4 L290.8 222.9 L295.4 227.1 L300.0 230.7 L304.7 233.5 L309.3 235.2 L313.9 235.8 L317.6 235.5 L321.4 234.6 L325.1 233.2 L328.9 231.3 L332.6 229.2 L336.4 226.9 L340.1 224.6 L343.8 222.4 L347.6 220.6 L351.3 219.1 L355.1 218.3 L358.8 217.9 L362.5 218.3 L366.3 219.1 L370.0 220.6 L373.7 222.4 L377.5 224.6 L381.2 226.9 L384.9 229.2 L388.7 231.3 L392.4 233.2 L396.1 234.6 L399.9 235.5 L403.6 235.8 L407.4 235.4 L411.2 234.4 L415.0 232.7 L418.7 230.5 L422.5 227.9 L426.3 225.2 L430.1 222.4 L433.9 219.9 L437.6 217.7 L441.4 216.0 L445.2 214.9 L449.0 214.6"/>
<path d="M258.5 199.7 L263.1 200.2 L267.7 201.8 L272.4 204.3 L277.0 207.6 L281.6 211.5 L286.2 215.6 L290.8 219.7 L295.4 223.6 L300.0 226.9 L304.7 229.4 L309.3 231.0 L313.9 231.6 L317.6 231.4 L321.4 231.0 L325.1 230.3 L328.9 229.4 L332.6 228.4 L336.4 227.3 L340.1 226.2 L343.8 225.2 L347.6 224.3 L351.3 223.6 L355.1 223.2 L358.8 223.1 L362.5 223.2 L366.3 223.6 L370.0 224.3 L373.7 225.2 L377.5 226.2 L381.2 227.3 L384.9 228.4 L388.7 229.4 L392.4 230.3 L396.1 231.0 L399.9 231.4 L403.6 231.6 L407.4 231.4 L411.2 231.1 L415.0 230.6 L418.7 230.0 L422.5 229.2 L426.3 228.4 L430.1 227.5 L433.9 226.8 L437.6 226.1 L441.4 225.6 L445.2 225.3 L449.0 225.2"/>
<path d="M258.5 199.7 L263.1 200.2 L267.7 201.6 L272.4 204.0 L277.0 207.0 L281.6 210.5 L286.2 214.3 L290.8 218.1 L295.4 221.7 L300.0 224.7 L304.7 227.0 L309.3 228.5 L313.9 229.0 L317.6 228.6 L321.4 227.3 L325.1 225.3 L328.9 222.7 L332.6 219.7 L336.4 216.5 L340.1 213.2 L343.8 210.2 L347.6 207.6 L351.3 205.6 L355.1 204.4 L358.8 203.9 L362.5 204.4 L366.3 205.6 L370.0 207.6 L373.7 210.2 L377.5 213.2 L381.2 216.5 L384.9 219.7 L388.7 222.7 L392.4 225.3 L396.1 227.3 L399.9 228.6 L403.6 229.0 L407.4 228.6 L411.2 227.5 L415.0 225.6 L418.7 223.3 L422.5 220.5 L426.3 217.5 L430.1 214.6 L433.9 211.8 L437.6 209.4 L441.4 207.6 L445.2 206.4 L449.0 206.1"/>
<path d="M258.5 201.8 L263.1 202.3 L267.7 203.9 L272.4 206.5 L277.0 209.8 L281.6 213.6 L286.2 217.7 L290.8 221.9 L295.4 225.7 L300.0 229.0 L304.7 231.5 L309.3 233.1 L313.9 233.7 L317.6 233.8 L321.4 234.2 L325.1 234.9 L328.9 235.8 L332.6 236.8 L336.4 237.9 L340.1 239.0 L343.8 240.1 L347.6 240.9 L351.3 241.6 L355.1 242.0 L358.8 242.2 L362.5 242.0 L366.3 241.6 L370.0 240.9 L373.7 240.1 L377.5 239.0 L381.2 237.9 L384.9 236.8 L388.7 235.8 L392.4 234.9 L396.1 234.2 L399.9 233.8 L403.6 233.7 L407.4 233.8 L411.2 234.2 L415.0 234.7 L418.7 235.5 L422.5 236.4 L426.3 237.3 L430.1 238.2 L433.9 239.1 L437.6 239.8 L441.4 240.4 L445.2 240.8 L449.0 240.9"/>
<path d="M258.5 197.6 L263.1 198.0 L267.7 199.5 L272.4 201.8 L277.0 204.8 L281.6 208.3 L286.2 212.0 L290.8 215.7 L295.4 219.2 L300.0 222.2 L304.7 224.5 L309.3 226.0 L313.9 226.5 L317.6 226.0 L321.4 224.7 L325.1 222.5 L328.9 219.8 L332.6 216.5 L336.4 213.1 L340.1 209.6 L343.8 206.4 L347.6 203.6 L351.3 201.5 L355.1 200.1 L358.8 199.7 L362.5 200.1 L366.3 201.5 L370.0 203.6 L373.7 206.4 L377.5 209.6 L381.2 213.1 L384.9 216.5 L388.7 219.8 L392.4 222.5 L396.1 224.7 L399.9 226.0 L403.6 226.5 L407.4 226.0 L411.2 224.8 L415.0 222.8 L418.7 220.3 L422.5 217.3 L426.3 214.1 L430.1 210.9 L433.9 208.0 L437.6 205.4 L441.4 203.5 L445.2 202.2 L449.0 201.8"/>
<path d="M258.5 201.3 L263.1 201.6 L267.7 202.6 L272.4 204.2 L277.0 206.2 L281.6 208.6 L286.2 211.2 L290.8 213.7 L295.4 216.1 L300.0 218.2 L304.7 219.7 L309.3 220.7 L313.9 221.1 L317.6 220.5 L321.4 218.9 L325.1 216.3 L328.9 212.9 L332.6 208.9 L336.4 204.6 L340.1 200.4 L343.8 196.4 L347.6 193.0 L351.3 190.4 L355.1 188.8 L358.8 188.2 L362.5 188.8 L366.3 190.4 L370.0 193.0 L373.7 196.4 L377.5 200.4 L381.2 204.7 L384.9 208.9 L388.7 212.9 L392.4 216.3 L396.1 218.9 L399.9 220.6 L403.6 221.1 L407.4 220.7 L411.2 219.6 L415.0 217.8 L418.7 215.5 L422.5 212.7 L426.3 209.8 L430.1 206.9 L433.9 204.2 L437.6 201.8 L441.4 200.0 L445.2 198.9 L449.0 198.5"/>
<path d="M258.5 204.5 L263.1 204.7 L267.7 205.5 L272.4 206.7 L277.0 208.2 L281.6 210.0 L286.2 212.0 L290.8 213.9 L295.4 215.7 L300.0 217.3 L304.7 218.5 L309.3 219.2 L313.9 219.5 L317.6 219.0 L321.4 217.8 L325.1 215.9 L328.9 213.4 L332.6 210.5 L336.4 207.3 L340.1 204.2 L343.8 201.3 L347.6 198.8 L351.3 196.8 L355.1 195.6 L358.8 195.2 L362.5 195.6 L366.3 196.8 L370.0 198.7 L373.7 201.2 L377.5 204.1 L381.2 207.2 L384.9 210.3 L388.7 213.2 L392.4 215.7 L396.1 217.6 L399.9 218.8 L403.6 219.2 L407.4 218.8 L411.2 217.6 L415.0 215.6 L418.7 213.0 L422.5 210.0 L426.3 206.7 L430.1 203.5 L433.9 200.5 L437.6 197.9 L441.4 195.9 L445.2 194.7 L449.0 194.3"/>
<path d="M258.5 203.5 L263.1 203.8 L267.7 204.9 L272.4 206.7 L277.0 208.9 L281.6 211.6 L286.2 214.4 L290.8 217.2 L295.4 219.9 L300.0 222.1 L304.7 223.9 L309.3 225.0 L313.9 225.3 L317.6 224.9 L321.4 223.8 L325.1 222.0 L328.9 219.6 L332.6 216.8 L336.4 213.9 L340.1 210.9 L343.8 208.1 L347.6 205.7 L351.3 203.9 L355.1 202.8 L358.8 202.4 L362.5 202.8 L366.3 203.9 L370.0 205.7 L373.7 208.0 L377.5 210.7 L381.2 213.6 L384.9 216.5 L388.7 219.2 L392.4 221.5 L396.1 223.3 L399.9 224.4 L403.6 224.8 L407.4 224.3 L411.2 222.9 L415.0 220.5 L418.7 217.5 L422.5 214.0 L426.3 210.3 L430.1 206.5 L433.9 203.0 L437.6 200.0 L441.4 197.7 L445.2 196.2 L449.0 195.7"/>
<path d="M258.5 197.7 L263.1 198.2 L267.7 199.6 L272.4 201.8 L277.0 204.8 L281.6 208.2 L286.2 211.8 L290.8 215.5 L295.4 218.9 L300.0 221.8 L304.7 224.1 L309.3 225.5 L313.9 226.0 L317.6 225.3 L321.4 223.4 L325.1 220.3 L328.9 216.3 L332.6 211.7 L336.4 206.7 L340.1 201.8 L343.8 197.1 L347.6 193.2 L351.3 190.1 L355.1 188.2 L358.8 187.5 L362.5 188.2 L366.3 190.1 L370.0 193.1 L373.7 197.1 L377.5 201.7 L381.2 206.6 L384.9 211.5 L388.7 216.1 L392.4 220.1 L396.1 223.1 L399.9 225.0 L403.6 225.7 L407.4 225.2 L411.2 223.8 L415.0 221.5 L418.7 218.5 L422.5 215.0 L426.3 211.3 L430.1 207.6 L433.9 204.1 L437.6 201.1 L441.4 198.8 L445.2 197.4 L449.0 196.9"/>
<path d="M258.5 205.9 L263.1 206.2 L267.7 207.2 L272.4 208.7 L277.0 210.6 L281.6 212.8 L286.2 215.2 L290.8 217.7 L295.4 219.9 L300.0 221.8 L304.7 223.3 L309.3 224.3 L313.9 224.6 L317.6 224.1 L321.4 222.6 L325.1 220.2 L328.9 217.2 L332.6 213.6 L336.4 209.8 L340.1 205.9 L343.8 202.4 L347.6 199.3 L351.3 196.9 L355.1 195.4 L358.8 194.9 L362.5 195.5 L366.3 197.0 L370.0 199.4 L373.7 202.5 L377.5 206.2 L381.2 210.1 L384.9 214.1 L388.7 217.7 L392.4 220.9 L396.1 223.3 L399.9 224.8 L403.6 225.3 L407.4 224.9 L411.2 223.8 L415.0 222.1 L418.7 219.8 L422.5 217.1 L426.3 214.3 L430.1 211.4 L433.9 208.7 L437.6 206.5 L441.4 204.7 L445.2 203.6 L449.0 203.2"/>
<path d="M258.5 205.8 L263.1 206.1 L267.7 207.0 L272.4 208.4 L277.0 210.2 L281.6 212.4 L286.2 214.7 L290.8 217.0 L295.4 219.1 L300.0 221.0 L304.7 222.4 L309.3 223.3 L313.9 223.6 L317.6 223.1 L321.4 221.7 L325.1 219.5 L328.9 216.7 L332.6 213.4 L336.4 209.8 L340.1 206.2 L343.8 202.9 L347.6 200.1 L351.3 197.9 L355.1 196.5 L358.8 196.0 L362.5 196.5 L366.3 197.9 L370.0 200.1 L373.7 202.9 L377.5 206.3 L381.2 209.9 L384.9 213.4 L388.7 216.8 L392.4 219.6 L396.1 221.8 L399.9 223.2 L403.6 223.7 L407.4 223.2 L411.2 221.7 L415.0 219.3 L418.7 216.1 L422.5 212.5 L426.3 208.6 L430.1 204.7 L433.9 201.1 L437.6 197.9 L441.4 195.5 L445.2 194.0 L449.0 193.5"/>
<path d="M258.5 200.6 L263.1 200.9 L267.7 201.9 L272.4 203.5 L277.0 205.5 L281.6 207.9 L286.2 210.4 L290.8 213.0 L295.4 215.4 L300.0 217.4 L304.7 219.0 L309.3 219.9 L313.9 220.3 L317.6 219.8 L321.4 218.6 L325.1 216.6 L328.9 214.1 L332.6 211.1 L336.4 207.9 L340.1 204.6 L343.8 201.6 L347.6 199.1 L351.3 197.1 L355.1 195.9 L358.8 195.4 L362.5 195.8 L366.3 197.1 L370.0 199.0 L373.7 201.6 L377.5 204.5 L381.2 207.7 L384.9 210.9 L388.7 213.9 L392.4 216.4 L396.1 218.4 L399.9 219.6 L403.6 220.0 L407.4 219.6 L411.2 218.6 L415.0 217.0 L418.7 214.8 L422.5 212.3 L426.3 209.6 L430.1 206.9 L433.9 204.4 L437.6 202.3 L441.4 200.6 L445.2 199.6 L449.0 199.2"/>
<path d="M258.5 197.6 L263.1 198.0 L267.7 199.3 L272.4 201.3 L277.0 204.0 L281.6 207.0 L286.2 210.4 L290.8 213.7 L295.4 216.7 L300.0 219.4 L304.7 221.4 L309.3 222.7 L313.9 223.1 L317.6 222.5 L321.4 220.7 L325.1 217.8 L328.9 214.1 L332.6 209.7 L336.4 205.1 L340.1 200.4 L343.8 196.0 L347.6 192.3 L351.3 189.4 L355.1 187.6 L358.8 187.0 L362.5 187.6 L366.3 189.4 L370.0 192.2 L373.7 195.9 L377.5 200.2 L381.2 204.8 L384.9 209.4 L388.7 213.7 L392.4 217.4 L396.1 220.2 L399.9 222.0 L403.6 222.6 L407.4 222.1 L411.2 220.8 L415.0 218.6 L418.7 215.8 L422.5 212.5 L426.3 209.0 L430.1 205.5 L433.9 202.3 L437.6 199.5 L441.4 197.3 L445.2 196.0 L449.0 195.5"/>
<path d="M258.5 204.1 L263.1 204.4 L267.7 205.3 L272.4 206.8 L277.0 208.7 L281.6 211.0 L286.2 213.4 L290.8 215.8 L295.4 218.0 L300.0 220.0 L304.7 221.5 L309.3 222.4 L313.9 222.7 L317.6 222.3 L321.4 221.1 L325.1 219.2 L328.9 216.8 L332.6 213.9 L336.4 210.9 L340.1 207.8 L343.8 204.9 L347.6 202.5 L351.3 200.6 L355.1 199.4 L358.8 199.0 L362.5 199.4 L366.3 200.6 L370.0 202.6 L373.7 205.1 L377.5 208.1 L381.2 211.2 L384.9 214.4 L388.7 217.3 L392.4 219.9 L396.1 221.8 L399.9 223.0 L403.6 223.4 L407.4 222.9 L411.2 221.5 L415.0 219.2 L418.7 216.2 L422.5 212.8 L426.3 209.0 L430.1 205.3 L433.9 201.8 L437.6 198.9 L441.4 196.6 L445.2 195.1 L449.0 194.7"/>
<path d="M258.5 198.9 L263.1 199.2 L267.7 200.4 L272.4 202.2 L277.0 204.6 L281.6 207.3 L286.2 210.3 L290.8 213.2 L295.4 216.0 L300.0 218.3 L304.7 220.2 L309.3 221.3 L313.9 221.7 L317.6 221.3 L321.4 220.1 L325.1 218.1 L328.9 215.6 L332.6 212.7 L336.4 209.5 L340.1 206.4 L343.8 203.4 L347.6 200.9 L351.3 199.0 L355.1 197.8 L358.8 197.4 L362.5 197.8 L366.3 198.9 L370.0 200.8 L373.7 203.2 L377.5 206.1 L381.2 209.1 L384.9 212.2 L388.7 215.0 L392.4 217.5 L396.1 219.3 L399.9 220.5 L403.6 220.9 L407.4 220.4 L411.2 219.1 L415.0 216.9 L418.7 214.0 L422.5 210.7 L426.3 207.2 L430.1 203.6 L433.9 200.3 L437.6 197.5 L441.4 195.3 L445.2 193.9 L449.0 193.4"/>
<path d="M258.5 204.3 L263.1 204.6 L267.7 205.8 L272.4 207.5 L277.0 209.8 L281.6 212.5 L286.2 215.4 L290.8 218.2 L295.4 220.9 L300.0 223.2 L304.7 225.0 L309.3 226.1 L313.9 226.4 L317.6 225.8 L321.4 223.9 L325.1 220.9 L328.9 216.9 L332.6 212.4 L336.4 207.4 L340.1 202.5 L343.8 197.9 L347.6 194.0 L351.3 191.0 L355.1 189.1 L358.8 188.5 L362.5 189.1 L366.3 191.0 L370.0 194.0 L373.7 198.0 L377.5 202.5 L381.2 207.5 L384.9 212.4 L388.7 217.0 L392.4 220.9 L396.1 223.9 L399.9 225.8 L403.6 226.5 L407.4 225.9 L411.2 224.1 L415.0 221.4 L418.7 217.7 L422.5 213.5 L426.3 209.0 L430.1 204.4 L433.9 200.2 L437.6 196.6 L441.4 193.8 L445.2 192.1 L449.0 191.5"/>
<path d="M258.5 201.8 L263.1 202.0 L267.7 202.4 L272.4 203.2 L277.0 204.1 L281.6 205.3 L286.2 206.5 L290.8 207.7 L295.4 208.8 L300.0 209.8 L304.7 210.5 L309.3 211.0 L313.9 211.2 L317.6 211.3 L321.4 211.6 L325.1 212.1 L328.9 212.9 L332.6 213.7 L336.4 214.6 L340.1 215.4 L343.8 216.2 L347.6 217.0 L351.3 217.5 L355.1 217.8 L358.8 217.9 L362.5 217.8 L366.3 217.5 L370.0 217.0 L373.7 216.2 L377.5 215.4 L381.2 214.6 L384.9 213.7 L388.7 212.9 L392.4 212.1 L396.1 211.6 L399.9 211.3 L403.6 211.2 L407.4 211.3 L411.2 211.5 L415.0 212.0 L418.7 212.6 L422.5 213.4 L426.3 214.1 L430.1 214.9 L433.9 215.6 L437.6 216.2 L441.4 216.7 L445.2 217.0 L449.0 217.1"/>
<path d="M258.5 201.8 L263.1 202.0 L267.7 202.4 L272.4 203.2 L277.0 204.1 L281.6 205.3 L286.2 206.5 L290.8 207.7 L295.4 208.8 L300.0 209.8 L304.7 210.5 L309.3 211.0 L313.9 211.2 L317.6 211.2 L321.4 211.5 L325.1 211.9 L328.9 212.4 L332.6 213.0 L336.4 213.7 L340.1 214.4 L343.8 215.0 L347.6 215.5 L351.3 215.9 L355.1 216.2 L358.8 216.2 L362.5 216.2 L366.3 215.9 L370.0 215.5 L373.7 215.0 L377.5 214.4 L381.2 213.7 L384.9 213.0 L388.7 212.4 L392.4 211.9 L396.1 211.5 L399.9 211.2 L403.6 211.2 L407.4 211.2 L411.2 211.4 L415.0 211.8 L418.7 212.2 L422.5 212.7 L426.3 213.3 L430.1 213.8 L433.9 214.3 L437.6 214.8 L441.4 215.1 L445.2 215.3 L449.0 215.4"/>
<path d="M258.5 201.8 L263.1 202.0 L267.7 202.4 L272.4 203.2 L277.0 204.1 L281.6 205.3 L286.2 206.5 L290.8 207.7 L295.4 208.8 L300.0 209.8 L304.7 210.5 L309.3 211.0 L313.9 211.2 L317.6 211.2 L321.4 211.4 L325.1 211.6 L328.9 212.0 L332.6 212.4 L336.4 212.9 L340.1 213.3 L343.8 213.7 L347.6 214.1 L351.3 214.3 L355.1 214.5 L358.8 214.6 L362.5 214.5 L366.3 214.3 L370.0 214.1 L373.7 213.7 L377.5 213.3 L381.2 212.9 L384.9 212.4 L388.7 212.0 L392.4 211.6 L396.1 211.4 L399.9 211.2 L403.6 211.2 L407.4 211.2 L411.2 211.3 L415.0 211.5 L418.7 211.8 L422.5 212.1 L426.3 212.4 L430.1 212.8 L433.9 213.1 L437.6 213.3 L441.4 213.5 L445.2 213.7 L449.0 213.7"/>
<path d="M258.5 200.9 L263.1 201.0 L267.7 201.4 L272.4 202.1 L277.0 203.0 L281.6 204.1 L286.2 205.2 L290.8 206.3 L295.4 207.3 L300.0 208.2 L304.7 208.9 L309.3 209.3 L313.9 209.5 L317.6 209.4 L321.4 209.0 L325.1 208.5 L328.9 207.8 L332.6 207.0 L336.4 206.1 L340.1 205.2 L343.8 204.4 L347.6 203.7 L351.3 203.2 L355.1 202.9 L358.8 202.7 L362.5 202.9 L366.3 203.2 L370.0 203.7 L373.7 204.4 L377.5 205.2 L381.2 206.1 L384.9 207.0 L388.7 207.8 L392.4 208.5 L396.1 209.0 L399.9 209.4 L403.6 209.5 L407.4 209.3 L411.2 208.8 L415.0 207.9 L418.7 206.8 L422.5 205.6 L426.3 204.2 L430.1 202.9 L433.9 201.6 L437.6 200.5 L441.4 199.7 L445.2 199.1 L449.0 198.9"/>
<path d="M258.5 200.7 L263.1 200.9 L267.7 201.4 L272.4 202.2 L277.0 203.3 L281.6 204.6 L286.2 205.9 L290.8 207.2 L295.4 208.5 L300.0 209.6 L304.7 210.4 L309.3 210.9 L313.9 211.1 L317.6 211.1 L321.4 211.1 L325.1 211.0 L328.9 210.9 L332.6 210.8 L336.4 210.7 L340.1 210.6 L343.8 210.5 L347.6 210.4 L351.3 210.4 L355.1 210.3 L358.8 210.3 L362.5 210.3 L366.3 210.4 L370.0 210.4 L373.7 210.5 L377.5 210.6 L381.2 210.7 L384.9 210.8 L388.7 210.9 L392.4 211.0 L396.1 211.1 L399.9 211.1 L403.6 211.1 L407.4 210.8 L411.2 210.0 L415.0 208.6 L418.7 206.9 L422.5 204.8 L426.3 202.7 L430.1 200.5 L433.9 198.4 L437.6 196.7 L441.4 195.3 L445.2 194.5 L449.0 194.2"/>
<path d="M258.5 200.3 L263.1 200.4 L267.7 200.6 L272.4 201.0 L277.0 201.4 L281.6 202.0 L286.2 202.6 L290.8 203.2 L295.4 203.7 L300.0 204.2 L304.7 204.6 L309.3 204.8 L313.9 204.9 L317.6 205.0 L321.4 205.4 L325.1 206.0 L328.9 206.8 L332.6 207.7 L336.4 208.7 L340.1 209.7 L343.8 210.6 L347.6 211.4 L351.3 212.0 L355.1 212.4 L358.8 212.5 L362.5 212.4 L366.3 212.0 L370.0 211.4 L373.7 210.6 L377.5 209.7 L381.2 208.7 L384.9 207.7 L388.7 206.8 L392.4 206.0 L396.1 205.4 L399.9 205.0 L403.6 204.9 L407.4 205.1 L411.2 205.6 L415.0 206.5 L418.7 207.7 L422.5 209.1 L426.3 210.6 L430.1 212.0 L433.9 213.4 L437.6 214.6 L441.4 215.5 L445.2 216.0 L449.0 216.2"/>
<path d="M258.5 191.6 L263.1 192.0 L267.7 193.1 L272.4 194.9 L277.0 197.2 L281.6 199.8 L286.2 202.7 L290.8 205.6 L295.4 208.2 L300.0 210.5 L304.7 212.3 L309.3 213.4 L313.9 213.8 L317.6 213.8 L321.4 213.8 L325.1 213.9 L328.9 213.9 L332.6 214.0 L336.4 214.0 L340.1 214.1 L343.8 214.1 L347.6 214.2 L351.3 214.2 L355.1 214.3 L358.8 214.3 L362.5 214.3 L366.3 214.2 L370.0 214.2 L373.7 214.1 L377.5 214.1 L381.2 214.0 L384.9 214.0 L388.7 213.9 L392.4 213.9 L396.1 213.8 L399.9 213.8 L403.6 213.8 L407.4 213.6 L411.2 213.2 L415.0 212.4 L418.7 211.5 L422.5 210.4 L426.3 209.2 L430.1 208.0 L433.9 206.9 L437.6 205.9 L441.4 205.2 L445.2 204.7 L449.0 204.5"/>
<path d="M258.5 199.4 L263.1 199.5 L267.7 200.0 L272.4 200.8 L277.0 201.7 L281.6 202.9 L286.2 204.1 L290.8 205.3 L295.4 206.5 L300.0 207.5 L304.7 208.2 L309.3 208.7 L313.9 208.8 L317.6 208.7 L321.4 208.3 L325.1 207.6 L328.9 206.7 L332.6 205.6 L336.4 204.5 L340.1 203.4 L343.8 202.3 L347.6 201.4 L351.3 200.7 L355.1 200.3 L358.8 200.1 L362.5 200.3 L366.3 200.7 L370.0 201.4 L373.7 202.3 L377.5 203.4 L381.2 204.5 L384.9 205.6 L388.7 206.7 L392.4 207.6 L396.1 208.3 L399.9 208.7 L403.6 208.8 L407.4 209.0 L411.2 209.3 L415.0 209.8 L418.7 210.5 L422.5 211.3 L426.3 212.2 L430.1 213.0 L433.9 213.8 L437.6 214.5 L441.4 215.0 L445.2 215.3 L449.0 215.5"/>
<path d="M258.5 200.3 L263.1 200.4 L267.7 200.7 L272.4 201.2 L277.0 201.8 L281.6 202.5 L286.2 203.3 L290.8 204.1 L295.4 204.8 L300.0 205.5 L304.7 205.9 L309.3 206.2 L313.9 206.3 L317.6 206.4 L321.4 206.5 L325.1 206.6 L328.9 206.8 L332.6 207.0 L336.4 207.2 L340.1 207.4 L343.8 207.6 L347.6 207.8 L351.3 208.0 L355.1 208.0 L358.8 208.1 L362.5 208.0 L366.3 208.0 L370.0 207.8 L373.7 207.6 L377.5 207.4 L381.2 207.2 L384.9 207.0 L388.7 206.8 L392.4 206.6 L396.1 206.5 L399.9 206.4 L403.6 206.3 L407.4 206.5 L411.2 206.8 L415.0 207.4 L418.7 208.1 L422.5 208.9 L426.3 209.9 L430.1 210.8 L433.9 211.6 L437.6 212.3 L441.4 212.9 L445.2 213.3 L449.0 213.4"/>
<path d="M258.5 189.4 L263.1 189.8 L267.7 190.9 L272.4 192.6 L277.0 194.8 L281.6 197.5 L286.2 200.3 L290.8 203.1 L295.4 205.7 L300.0 207.9 L304.7 209.7 L309.3 210.7 L313.9 211.1 L317.6 210.9 L321.4 210.3 L325.1 209.2 L328.9 207.9 L332.6 206.4 L336.4 204.7 L340.1 203.1 L343.8 201.5 L347.6 200.2 L351.3 199.2 L355.1 198.5 L358.8 198.3 L362.5 198.5 L366.3 199.2 L370.0 200.2 L373.7 201.5 L377.5 203.1 L381.2 204.7 L384.9 206.4 L388.7 207.9 L392.4 209.2 L396.1 210.3 L399.9 210.9 L403.6 211.1 L407.4 211.1 L411.2 211.1 L415.0 211.1 L418.7 211.1 L422.5 211.1 L426.3 211.1 L430.1 211.1 L433.9 211.1 L437.6 211.1 L441.4 211.0 L445.2 211.0 L449.0 211.0"/>
<path d="M258.5 125.3 L263.1 126.8 L267.7 131.3 L272.4 138.5 L277.0 147.8 L281.6 158.7 L286.2 170.3 L290.8 182.0 L295.4 192.9 L300.0 202.2 L304.7 209.4 L309.3 213.9 L313.9 215.4 L317.6 213.9 L321.4 209.4 L325.1 202.2 L328.9 192.9 L332.6 182.0 L336.4 170.4 L340.1 158.7 L343.8 147.8 L347.6 138.5 L351.3 131.3 L355.1 126.8 L358.8 125.3 L362.5 126.8 L366.3 131.3 L370.0 138.5 L373.7 147.8 L377.5 158.7 L381.2 170.3 L384.9 182.0 L388.7 192.9 L392.4 202.2 L396.1 209.4 L399.9 213.9 L403.6 215.4 L407.4 213.9 L411.2 209.4 L415.0 202.2 L418.7 192.9 L422.5 182.0 L426.3 170.4 L430.1 158.7 L433.9 147.8 L437.6 138.5 L441.4 131.3 L445.2 126.8 L449.0 125.3"/>
<path d="M258.5 125.3 L263.1 126.8 L267.7 131.2 L272.4 138.2 L277.0 147.4 L281.6 158.1 L286.2 169.5 L290.8 180.9 L295.4 191.6 L300.0 200.8 L304.7 207.8 L309.3 212.2 L313.9 213.7 L317.6 212.2 L321.4 207.8 L325.1 200.8 L328.9 191.6 L332.6 180.9 L336.4 169.5 L340.1 158.1 L343.8 147.4 L347.6 138.2 L351.3 131.2 L355.1 126.8 L358.8 125.3 L362.5 126.8 L366.3 131.2 L370.0 138.2 L373.7 147.4 L377.5 158.1 L381.2 169.5 L384.9 180.9 L388.7 191.6 L392.4 200.8 L396.1 207.8 L399.9 212.2 L403.6 213.7 L407.4 212.2 L411.2 207.8 L415.0 200.8 L418.7 191.6 L422.5 180.9 L426.3 169.5 L430.1 158.1 L433.9 147.4 L437.6 138.2 L441.4 131.2 L445.2 126.8 L449.0 125.3"/>
<path d="M258.5 333.1 L263.1 332.8 L267.7 332.0 L272.4 330.8 L277.0 329.1 L281.6 327.1 L286.2 325.1 L290.8 323.0 L295.4 321.0 L300.0 319.3 L304.7 318.1 L309.3 317.3 L313.9 317.0 L317.6 317.2 L321.4 317.8 L325.1 318.8 L328.9 320.2 L332.6 321.7 L336.4 323.4 L340.1 325.0 L343.8 326.5 L347.6 327.9 L351.3 328.9 L355.1 329.5 L358.8 329.7 L362.5 329.5 L366.3 328.9 L370.0 327.9 L373.7 326.5 L377.5 325.0 L381.2 323.4 L384.9 321.7 L388.7 320.2 L392.4 318.8 L396.1 317.8 L399.9 317.2 L403.6 317.0 L407.4 317.2 L411.2 318.0 L415.0 319.3 L418.7 320.9 L422.5 322.8 L426.3 324.8 L430.1 326.9 L433.9 328.8 L437.6 330.4 L441.4 331.6 L445.2 332.4 L449.0 332.7"/>
<path d="M258.5 333.6 L263.1 333.3 L267.7 332.5 L272.4 331.2 L277.0 329.5 L281.6 327.5 L286.2 325.4 L290.8 323.3 L295.4 321.4 L300.0 319.7 L304.7 318.4 L309.3 317.6 L313.9 317.3 L317.6 317.5 L321.4 318.2 L325.1 319.2 L328.9 320.6 L332.6 322.2 L336.4 323.8 L340.1 325.5 L343.8 327.1 L347.6 328.5 L351.3 329.5 L355.1 330.1 L358.8 330.4 L362.5 330.1 L366.3 329.5 L370.0 328.5 L373.7 327.1 L377.5 325.5 L381.2 323.8 L384.9 322.2 L388.7 320.6 L392.4 319.2 L396.1 318.2 L399.9 317.5 L403.6 317.3 L407.4 317.6 L411.2 318.4 L415.0 319.7 L418.7 321.4 L422.5 323.3 L426.3 325.4 L430.1 327.5 L433.9 329.5 L437.6 331.2 L441.4 332.5 L445.2 333.3 L449.0 333.6"/>
<path d="M258.5 363.1 L263.1 357.5 L267.7 352.3 L272.4 347.7 L277.0 343.7 L281.6 340.1 L286.2 337.1 L290.8 334.6 L295.4 332.6 L300.0 331.1 L304.7 330.1 L309.3 329.5 L313.9 329.3 L317.6 329.5 L321.4 330.3 L325.1 331.7 L328.9 333.7 L332.6 336.4 L336.4 339.7 L340.1 343.7 L343.8 348.3 L347.6 353.7 L351.3 359.8 L355.1 366.6 L358.8 374.1 L362.5 366.6 L366.3 359.8 L370.0 353.7 L373.7 348.3 L377.5 343.7 L381.2 339.7 L384.9 336.4 L388.7 333.7 L392.4 331.7 L396.1 330.3 L399.9 329.5 L403.6 329.3 L407.4 329.5 L411.2 330.2 L415.0 331.5 L418.7 333.3 L422.5 335.7 L426.3 338.8 L430.1 342.4 L433.9 346.7 L437.6 351.6 L441.4 357.1 L445.2 363.3 L449.0 370.2"/>
<path d="M258.5 367.3 L263.1 362.0 L267.7 357.1 L272.4 352.6 L277.0 348.4 L281.6 344.5 L286.2 341.1 L290.8 338.0 L295.4 335.3 L300.0 333.1 L304.7 331.4 L309.3 330.2 L313.9 329.7 L317.6 330.4 L321.4 331.8 L325.1 334.0 L328.9 336.7 L332.6 340.0 L336.4 343.8 L340.1 348.1 L343.8 352.8 L347.6 358.0 L351.3 363.7 L355.1 369.8 L358.8 376.3 L362.5 369.8 L366.3 363.7 L370.0 358.0 L373.7 352.8 L377.5 348.1 L381.2 343.8 L384.9 340.0 L388.7 336.7 L392.4 334.0 L396.1 331.8 L399.9 330.4 L403.6 329.7 L407.4 330.2 L411.2 331.2 L415.0 332.6 L418.7 334.5 L422.5 336.7 L426.3 339.3 L430.1 342.2 L433.9 345.4 L437.6 349.0 L441.4 352.8 L445.2 356.9 L449.0 361.3"/>
<path d="M258.5 373.8 L263.1 367.5 L267.7 361.7 L272.4 356.3 L277.0 351.4 L281.6 346.9 L286.2 342.9 L290.8 339.4 L295.4 336.3 L300.0 333.9 L304.7 332.0 L309.3 330.7 L313.9 330.2 L317.6 330.6 L321.4 331.5 L325.1 333.0 L328.9 334.9 L332.6 337.2 L336.4 339.8 L340.1 342.9 L343.8 346.3 L347.6 350.1 L351.3 354.2 L355.1 358.6 L358.8 363.4 L362.5 358.6 L366.3 354.2 L370.0 350.1 L373.7 346.3 L377.5 342.9 L381.2 339.8 L384.9 337.2 L388.7 334.9 L392.4 333.0 L396.1 331.5 L399.9 330.6 L403.6 330.2 L407.4 330.6 L411.2 331.8 L415.0 333.6 L418.7 336.0 L422.5 338.8 L426.3 342.1 L430.1 345.9 L433.9 350.1 L437.6 354.7 L441.4 359.8 L445.2 365.3 L449.0 371.2"/>
<path d="M258.5 376.9 L263.1 370.5 L267.7 364.4 L272.4 358.8 L277.0 353.6 L281.6 348.9 L286.2 344.7 L290.8 341.0 L295.4 337.7 L300.0 335.1 L304.7 333.0 L309.3 331.6 L313.9 331.0 L317.6 331.6 L321.4 333.0 L325.1 335.0 L328.9 337.7 L332.6 340.9 L336.4 344.6 L340.1 348.7 L343.8 353.4 L347.6 358.5 L351.3 364.1 L355.1 370.0 L358.8 376.5 L362.5 370.0 L366.3 364.1 L370.0 358.5 L373.7 353.4 L377.5 348.7 L381.2 344.6 L384.9 340.9 L388.7 337.7 L392.4 335.0 L396.1 333.0 L399.9 331.6 L403.6 331.0 L407.4 331.5 L411.2 332.6 L415.0 334.2 L418.7 336.3 L422.5 338.9 L426.3 341.8 L430.1 345.2 L433.9 348.9 L437.6 353.0 L441.4 357.5 L445.2 362.3 L449.0 367.4"/>
<path d="M258.5 368.0 L263.1 361.9 L267.7 356.4 L272.4 351.6 L277.0 347.3 L281.6 343.6 L286.2 340.5 L290.8 337.9 L295.4 335.9 L300.0 334.4 L304.7 333.4 L309.3 332.9 L313.9 332.7 L317.6 332.9 L321.4 333.5 L325.1 334.6 L328.9 336.2 L332.6 338.4 L336.4 341.2 L340.1 344.6 L343.8 348.6 L347.6 353.2 L351.3 358.5 L355.1 364.4 L358.8 371.1 L362.5 364.4 L366.3 358.5 L370.0 353.2 L373.7 348.6 L377.5 344.6 L381.2 341.2 L384.9 338.4 L388.7 336.2 L392.4 334.6 L396.1 333.5 L399.9 332.9 L403.6 332.7 L407.4 332.9 L411.2 333.4 L415.0 334.5 L418.7 336.1 L422.5 338.2 L426.3 340.8 L430.1 344.0 L433.9 347.9 L437.6 352.3 L441.4 357.3 L445.2 363.0 L449.0 369.3"/>
<path d="M258.5 370.0 L263.1 365.0 L267.7 360.3 L272.4 356.0 L277.0 352.0 L281.6 348.3 L286.2 345.0 L290.8 342.0 L295.4 339.5 L300.0 337.3 L304.7 335.7 L309.3 334.5 L313.9 334.0 L317.6 334.4 L321.4 335.5 L325.1 337.1 L328.9 339.1 L332.6 341.4 L336.4 344.1 L340.1 347.2 L343.8 350.6 L347.6 354.3 L351.3 358.3 L355.1 362.6 L358.8 367.2 L362.5 362.6 L366.3 358.3 L370.0 354.3 L373.7 350.6 L377.5 347.2 L381.2 344.1 L384.9 341.4 L388.7 339.1 L392.4 337.1 L396.1 335.5 L399.9 334.4 L403.6 334.0 L407.4 334.4 L411.2 335.3 L415.0 336.7 L418.7 338.4 L422.5 340.5 L426.3 342.9 L430.1 345.6 L433.9 348.6 L437.6 351.8 L441.4 355.3 L445.2 359.1 L449.0 363.2"/>
<path d="M258.5 375.6 L263.1 369.8 L267.7 364.4 L272.4 359.4 L277.0 354.9 L281.6 350.7 L286.2 346.9 L290.8 343.6 L295.4 340.8 L300.0 338.4 L304.7 336.6 L309.3 335.4 L313.9 334.8 L317.6 335.2 L321.4 336.0 L325.1 337.1 L328.9 338.6 L332.6 340.4 L336.4 342.5 L340.1 344.9 L343.8 347.6 L347.6 350.5 L351.3 353.7 L355.1 357.1 L358.8 360.8 L362.5 357.1 L366.3 353.7 L370.0 350.5 L373.7 347.6 L377.5 344.9 L381.2 342.5 L384.9 340.4 L388.7 338.6 L392.4 337.1 L396.1 336.0 L399.9 335.2 L403.6 334.8 L407.4 335.2 L411.2 336.1 L415.0 337.4 L418.7 339.1 L422.5 341.1 L426.3 343.5 L430.1 346.1 L433.9 349.1 L437.6 352.4 L441.4 355.9 L445.2 359.8 L449.0 363.9"/>
<path d="M258.5 374.9 L263.1 369.5 L267.7 364.4 L272.4 359.6 L277.0 355.2 L281.6 351.2 L286.2 347.6 L290.8 344.4 L295.4 341.6 L300.0 339.3 L304.7 337.5 L309.3 336.2 L313.9 335.7 L317.6 336.1 L321.4 337.0 L325.1 338.3 L328.9 340.0 L332.6 342.0 L336.4 344.3 L340.1 346.9 L343.8 349.8 L347.6 353.0 L351.3 356.4 L355.1 360.1 L358.8 364.0 L362.5 360.1 L366.3 356.4 L370.0 353.0 L373.7 349.8 L377.5 346.9 L381.2 344.3 L384.9 342.0 L388.7 340.0 L392.4 338.3 L396.1 337.0 L399.9 336.1 L403.6 335.7 L407.4 336.0 L411.2 336.9 L415.0 338.1 L418.7 339.7 L422.5 341.5 L426.3 343.7 L430.1 346.1 L433.9 348.8 L437.6 351.8 L441.4 355.0 L445.2 358.4 L449.0 362.1"/>
<path d="M258.5 362.0 L263.1 358.2 L267.7 354.7 L272.4 351.5 L277.0 348.6 L281.6 345.9 L286.2 343.6 L290.8 341.6 L295.4 339.9 L300.0 338.5 L304.7 337.4 L309.3 336.8 L313.9 336.5 L317.6 336.8 L321.4 337.4 L325.1 338.4 L328.9 339.8 L332.6 341.4 L336.4 343.4 L340.1 345.7 L343.8 348.2 L347.6 351.1 L351.3 354.2 L355.1 357.6 L358.8 361.3 L362.5 357.6 L366.3 354.2 L370.0 351.1 L373.7 348.2 L377.5 345.7 L381.2 343.4 L384.9 341.4 L388.7 339.8 L392.4 338.4 L396.1 337.4 L399.9 336.8 L403.6 336.5 L407.4 336.8 L411.2 337.6 L415.0 338.9 L418.7 340.5 L422.5 342.6 L426.3 345.0 L430.1 347.8 L433.9 350.9 L437.6 354.5 L441.4 358.3 L445.2 362.5 L449.0 367.1"/>
<path d="M258.5 376.4 L263.1 370.9 L267.7 365.8 L272.4 361.0 L277.0 356.6 L281.6 352.6 L286.2 349.0 L290.8 345.9 L295.4 343.1 L300.0 340.9 L304.7 339.1 L309.3 337.9 L313.9 337.4 L317.6 337.9 L321.4 339.1 L325.1 341.0 L328.9 343.3 L332.6 346.1 L336.4 349.3 L340.1 353.0 L343.8 357.1 L347.6 361.6 L351.3 366.5 L355.1 371.8 L358.8 377.4 L362.5 371.8 L366.3 366.5 L370.0 361.6 L373.7 357.1 L377.5 353.0 L381.2 349.3 L384.9 346.1 L388.7 343.3 L392.4 341.0 L396.1 339.1 L399.9 337.9 L403.6 337.4 L407.4 337.7 L411.2 338.4 L415.0 339.5 L418.7 341.0 L422.5 342.7 L426.3 344.7 L430.1 346.9 L433.9 349.4 L437.6 352.1 L441.4 355.1 L445.2 358.3 L449.0 361.7"/>
<path d="M258.5 366.2 L263.1 361.7 L267.7 357.7 L272.4 354.0 L277.0 350.6 L281.6 347.7 L286.2 345.1 L290.8 342.9 L295.4 341.1 L300.0 339.7 L304.7 338.7 L309.3 338.0 L313.9 337.8 L317.6 338.1 L321.4 338.9 L325.1 340.1 L328.9 341.9 L332.6 344.2 L336.4 346.9 L340.1 350.1 L343.8 353.8 L347.6 358.0 L351.3 362.6 L355.1 367.7 L358.8 373.3 L362.5 367.7 L366.3 362.6 L370.0 358.0 L373.7 353.8 L377.5 350.1 L381.2 346.9 L384.9 344.2 L388.7 341.9 L392.4 340.1 L396.1 338.9 L399.9 338.1 L403.6 337.8 L407.4 338.0 L411.2 338.6 L415.0 339.5 L418.7 340.8 L422.5 342.5 L426.3 344.5 L430.1 346.8 L433.9 349.6 L437.6 352.6 L441.4 356.0 L445.2 359.7 L449.0 363.8"/>
<path d="M258.5 373.2 L263.1 368.6 L267.7 364.3 L272.4 360.2 L277.0 356.4 L281.6 352.9 L286.2 349.7 L290.8 346.9 L295.4 344.3 L300.0 342.2 L304.7 340.5 L309.3 339.2 L313.9 338.7 L317.6 339.3 L321.4 340.6 L325.1 342.4 L328.9 344.6 L332.6 347.2 L336.4 350.2 L340.1 353.6 L343.8 357.2 L347.6 361.2 L351.3 365.5 L355.1 370.0 L358.8 374.8 L362.5 370.0 L366.3 365.5 L370.0 361.2 L373.7 357.2 L377.5 353.6 L381.2 350.2 L384.9 347.2 L388.7 344.6 L392.4 342.4 L396.1 340.6 L399.9 339.3 L403.6 338.7 L407.4 339.1 L411.2 340.1 L415.0 341.4 L418.7 343.0 L422.5 345.0 L426.3 347.2 L430.1 349.7 L433.9 352.4 L437.6 355.3 L441.4 358.4 L445.2 361.8 L449.0 365.3"/>
<path d="M258.5 374.3 L263.1 368.8 L267.7 363.8 L272.4 359.2 L277.0 355.2 L281.6 351.5 L286.2 348.4 L290.8 345.7 L295.4 343.5 L300.0 341.8 L304.7 340.5 L309.3 339.8 L313.9 339.5 L317.6 339.7 L321.4 340.3 L325.1 341.3 L328.9 342.7 L332.6 344.5 L336.4 346.6 L340.1 349.2 L343.8 352.1 L347.6 355.4 L351.3 359.0 L355.1 363.1 L358.8 367.5 L362.5 363.1 L366.3 359.0 L370.0 355.4 L373.7 352.1 L377.5 349.2 L381.2 346.6 L384.9 344.5 L388.7 342.7 L392.4 341.3 L396.1 340.3 L399.9 339.7 L403.6 339.5 L407.4 339.7 L411.2 340.2 L415.0 341.1 L418.7 342.2 L422.5 343.8 L426.3 345.6 L430.1 347.8 L433.9 350.2 L437.6 353.0 L441.4 356.2 L445.2 359.6 L449.0 363.4"/>
<path d="M258.5 373.4 L263.1 369.1 L267.7 365.0 L272.4 361.2 L277.0 357.6 L281.6 354.2 L286.2 351.2 L290.8 348.4 L295.4 346.0 L300.0 343.9 L304.7 342.2 L309.3 341.0 L313.9 340.4 L317.6 340.7 L321.4 341.5 L325.1 342.5 L328.9 343.8 L332.6 345.3 L336.4 347.0 L340.1 348.9 L343.8 350.9 L347.6 353.1 L351.3 355.5 L355.1 358.0 L358.8 360.6 L362.5 358.0 L366.3 355.5 L370.0 353.1 L373.7 350.9 L377.5 348.9 L381.2 347.0 L384.9 345.3 L388.7 343.8 L392.4 342.5 L396.1 341.5 L399.9 340.7 L403.6 340.4 L407.4 340.9 L411.2 342.2 L415.0 343.9 L418.7 345.9 L422.5 348.3 L426.3 351.1 L430.1 354.1 L433.9 357.4 L437.6 360.9 L441.4 364.7 L445.2 368.7 L449.0 373.0"/>
<path d="M258.5 373.6 L263.1 369.2 L267.7 365.2 L272.4 361.4 L277.0 357.8 L281.6 354.6 L286.2 351.7 L290.8 349.1 L295.4 346.9 L300.0 345.0 L304.7 343.5 L309.3 342.5 L313.9 342.1 L317.6 342.4 L321.4 343.3 L325.1 344.6 L328.9 346.3 L332.6 348.2 L336.4 350.5 L340.1 353.1 L343.8 355.9 L347.6 358.9 L351.3 362.3 L355.1 365.8 L358.8 369.7 L362.5 365.8 L366.3 362.3 L370.0 358.9 L373.7 355.9 L377.5 353.1 L381.2 350.5 L384.9 348.2 L388.7 346.3 L392.4 344.6 L396.1 343.3 L399.9 342.4 L403.6 342.1 L407.4 342.5 L411.2 343.6 L415.0 345.2 L418.7 347.1 L422.5 349.5 L426.3 352.2 L430.1 355.2 L433.9 358.6 L437.6 362.3 L441.4 366.3 L445.2 370.6 L449.0 375.2"/>
<path d="M258.5 371.9 L263.1 367.8 L267.7 364.0 L272.4 360.4 L277.0 357.2 L281.6 354.3 L286.2 351.7 L290.8 349.5 L295.4 347.6 L300.0 346.0 L304.7 344.8 L309.3 344.1 L313.9 343.8 L317.6 344.0 L321.4 344.7 L325.1 345.6 L328.9 346.9 L332.6 348.5 L336.4 350.4 L340.1 352.6 L343.8 355.0 L347.6 357.7 L351.3 360.6 L355.1 363.8 L358.8 367.2 L362.5 363.8 L366.3 360.6 L370.0 357.7 L373.7 355.0 L377.5 352.6 L381.2 350.4 L384.9 348.5 L388.7 346.9 L392.4 345.6 L396.1 344.7 L399.9 344.0 L403.6 343.8 L407.4 344.1 L411.2 344.9 L415.0 346.2 L418.7 347.9 L422.5 349.9 L426.3 352.4 L430.1 355.1 L433.9 358.3 L437.6 361.7 L441.4 365.5 L445.2 369.7 L449.0 374.1"/>
<path d="M258.5 363.0 L263.1 360.3 L267.7 357.9 L272.4 355.7 L277.0 353.7 L281.6 351.9 L286.2 350.4 L290.8 349.2 L295.4 348.1 L300.0 347.3 L304.7 346.8 L309.3 346.4 L313.9 346.3 L317.6 346.4 L321.4 346.7 L325.1 347.1 L328.9 347.7 L332.6 348.5 L336.4 349.5 L340.1 350.7 L343.8 352.1 L347.6 353.7 L351.3 355.4 L355.1 357.3 L358.8 359.4 L362.5 357.3 L366.3 355.4 L370.0 353.7 L373.7 352.1 L377.5 350.7 L381.2 349.5 L384.9 348.5 L388.7 347.7 L392.4 347.1 L396.1 346.7 L399.9 346.4 L403.6 346.3 L407.4 346.4 L411.2 346.8 L415.0 347.5 L418.7 348.5 L422.5 349.7 L426.3 351.2 L430.1 353.0 L433.9 355.1 L437.6 357.5 L441.4 360.1 L445.2 363.1 L449.0 366.3"/>
<path d="M258.5 368.2 L263.1 365.6 L267.7 363.2 L272.4 360.9 L277.0 358.7 L281.6 356.7 L286.2 354.9 L290.8 353.3 L295.4 351.8 L300.0 350.5 L304.7 349.5 L309.3 348.8 L313.9 348.4 L317.6 348.9 L321.4 349.9 L325.1 351.3 L328.9 353.0 L332.6 355.0 L336.4 357.3 L340.1 359.8 L343.8 362.5 L347.6 365.5 L351.3 368.6 L355.1 372.0 L358.8 375.5 L362.5 372.0 L366.3 368.6 L370.0 365.5 L373.7 362.5 L377.5 359.8 L381.2 357.3 L384.9 355.0 L388.7 353.0 L392.4 351.3 L396.1 349.9 L399.9 348.9 L403.6 348.4 L407.4 348.9 L411.2 349.9 L415.0 351.3 L418.7 353.0 L422.5 355.0 L426.3 357.3 L430.1 359.8 L433.9 362.5 L437.6 365.5 L441.4 368.6 L445.2 372.0 L449.0 375.5"/>
<path d="M258.5 333.1 L263.1 334.8 L267.7 337.6 L272.4 341.2 L277.0 345.4 L281.6 350.0 L286.2 354.6 L290.8 358.9 L295.4 362.6 L300.0 365.5 L304.7 367.4 L309.3 368.1 L313.9 367.6 L317.6 367.1 L321.4 365.8 L325.1 363.8 L328.9 361.2 L332.6 358.1 L336.4 354.8 L340.1 351.5 L343.8 348.4 L347.6 345.8 L351.3 343.8 L355.1 342.5 L358.8 342.1 L362.5 342.5 L366.3 343.8 L370.0 345.8 L373.7 348.4 L377.5 351.5 L381.2 354.8 L384.9 358.1 L388.7 361.2 L392.4 363.8 L396.1 365.8 L399.9 367.1 L403.6 367.6 L407.4 367.1 L411.2 365.8 L415.0 363.8 L418.7 361.2 L422.5 358.1 L426.3 354.8 L430.1 351.5 L433.9 348.4 L437.6 345.8 L441.4 343.8 L445.2 342.5 L449.0 342.1"/>
<path d="M258.5 348.4 L263.1 348.8 L267.7 349.8 L272.4 351.5 L277.0 353.7 L281.6 356.3 L286.2 359.1 L290.8 361.8 L295.4 364.4 L300.0 366.6 L304.7 368.3 L309.3 369.3 L313.9 369.7 L317.6 369.3 L321.4 368.1 L325.1 366.3 L328.9 363.8 L332.6 361.0 L336.4 358.0 L340.1 355.0 L343.8 352.1 L347.6 349.7 L351.3 347.9 L355.1 346.7 L358.8 346.3 L362.5 346.7 L366.3 347.9 L370.0 349.7 L373.7 352.1 L377.5 355.0 L381.2 358.0 L384.9 361.0 L388.7 363.8 L392.4 366.3 L396.1 368.1 L399.9 369.3 L403.6 369.7 L407.4 369.3 L411.2 368.4 L415.0 366.9 L418.7 364.9 L422.5 362.6 L426.3 360.1 L430.1 357.6 L433.9 355.3 L437.6 353.4 L441.4 351.8 L445.2 350.9 L449.0 350.6"/>
<path d="M258.5 354.8 L263.1 355.1 L267.7 355.8 L272.4 357.0 L277.0 358.5 L281.6 360.3 L286.2 362.2 L290.8 364.2 L295.4 366.0 L300.0 367.5 L304.7 368.7 L309.3 369.4 L313.9 369.7 L317.6 369.4 L321.4 368.5 L325.1 367.2 L328.9 365.4 L332.6 363.4 L336.4 361.2 L340.1 359.0 L343.8 356.9 L347.6 355.2 L351.3 353.8 L355.1 353.0 L358.8 352.7 L362.5 353.0 L366.3 353.8 L370.0 355.2 L373.7 356.9 L377.5 359.0 L381.2 361.2 L384.9 363.4 L388.7 365.4 L392.4 367.2 L396.1 368.5 L399.9 369.4 L403.6 369.7 L407.4 369.4 L411.2 368.7 L415.0 367.5 L418.7 366.0 L422.5 364.2 L426.3 362.2 L430.1 360.3 L433.9 358.5 L437.6 357.0 L441.4 355.8 L445.2 355.1 L449.0 354.8"/>
<path d="M258.5 359.1 L263.1 359.3 L267.7 359.9 L272.4 360.9 L277.0 362.2 L281.6 363.8 L286.2 365.4 L290.8 367.1 L295.4 368.6 L300.0 369.9 L304.7 370.9 L309.3 371.6 L313.9 371.8 L317.6 371.6 L321.4 370.9 L325.1 369.8 L328.9 368.4 L332.6 366.8 L336.4 365.0 L340.1 363.2 L343.8 361.6 L347.6 360.2 L351.3 359.1 L355.1 358.4 L358.8 358.2 L362.5 358.4 L366.3 359.1 L370.0 360.2 L373.7 361.6 L377.5 363.2 L381.2 365.0 L384.9 366.8 L388.7 368.4 L392.4 369.8 L396.1 370.9 L399.9 371.6 L403.6 371.8 L407.4 371.6 L411.2 371.0 L415.0 370.1 L418.7 368.8 L422.5 367.4 L426.3 365.9 L430.1 364.3 L433.9 362.9 L437.6 361.6 L441.4 360.7 L445.2 360.1 L449.0 359.9"/>
</g>
<line x1="313.4" y1="253.6" x2="313.4" y2="273" stroke="#333" stroke-width="1"/>
<path d="M311.7 272.4 L315.1 272.4 L313.4 277.2 Z" fill="#333"/>
<line x1="313.4" y1="295.5" x2="313.4" y2="317.6" stroke="#333" stroke-width="1"/>
<path d="M311.7 296.4 L315.1 296.4 L313.4 291.2 Z" fill="#333"/>
<text x="295.4" y="287.8" font-size="8.6" fill="#222" stroke="#222" stroke-width="0.1">E<tspan dy="2.2" font-size="6.3">g</tspan><tspan dy="-2.2"> = 1.50 eV</tspan></text>
<line x1="258.5" y1="201.6" x2="449" y2="201.6" stroke="#888" stroke-width="1"/>
<line x1="258.5" y1="361.3" x2="449.4" y2="361.3" stroke="#333" stroke-width="1.1"/>
<line x1="258.5" y1="201.1" x2="258.5" y2="361.8" stroke="#6e6680" stroke-width="1.1"/>
<line x1="449" y1="201.1" x2="449" y2="361.8" stroke="#b8a8d0" stroke-width="1.1"/>
<line x1="255.5" y1="201.8" x2="258.5" y2="201.8" stroke="#333" stroke-width="1"/>
<text x="253.6" y="204.8" font-size="8.5" text-anchor="end" fill="#222" stroke="#222" stroke-width="0.1">3</text>
<line x1="255.5" y1="244.3" x2="258.5" y2="244.3" stroke="#333" stroke-width="1"/>
<text x="253.6" y="247.3" font-size="8.5" text-anchor="end" fill="#222" stroke="#222" stroke-width="0.1">2</text>
<line x1="255.5" y1="286.8" x2="258.5" y2="286.8" stroke="#333" stroke-width="1"/>
<text x="253.6" y="289.8" font-size="8.5" text-anchor="end" fill="#222" stroke="#222" stroke-width="0.1">1</text>
<line x1="255.5" y1="329.3" x2="258.5" y2="329.3" stroke="#333" stroke-width="1"/>
<text x="253.6" y="332.3" font-size="8.5" text-anchor="end" fill="#222" stroke="#222" stroke-width="0.1">0</text>
<line x1="256.9" y1="223.05" x2="258.5" y2="223.05" stroke="#333" stroke-width="1"/>
<line x1="256.9" y1="265.55" x2="258.5" y2="265.55" stroke="#333" stroke-width="1"/>
<line x1="256.9" y1="308.05" x2="258.5" y2="308.05" stroke="#333" stroke-width="1"/>
<line x1="256.9" y1="350.55" x2="258.5" y2="350.55" stroke="#333" stroke-width="1"/>
<text x="232" y="208.7" font-size="15" text-anchor="start" fill="#111" stroke="#111" stroke-width="0.1">e</text>
<text x="241.4" y="278.5" font-size="10" fill="#222" stroke="#222" stroke-width="0.1" text-anchor="middle" transform="rotate(-90 241.4 278.5)">E-E<tspan dy="2.5" font-size="7">f</tspan><tspan dy="-2.5"> (eV)</tspan></text>
<text x="260.8" y="371.3" font-size="8.5" text-anchor="middle" fill="#222" stroke="#222" stroke-width="0.1">R_2</text>
<text x="314.5" y="371.3" font-size="8.5" text-anchor="middle" fill="#222" stroke="#222" stroke-width="0.1" font-family="Liberation Serif">Γ</text>
<text x="360.2" y="371.3" font-size="8.5" text-anchor="middle" fill="#222" stroke="#222" stroke-width="0.1">T_2|U_2</text>
<text x="404.5" y="371.3" font-size="8.5" text-anchor="middle" fill="#222" stroke="#222" stroke-width="0.1" font-family="Liberation Serif">Γ</text>
<text x="448.2" y="371.3" font-size="8.5" text-anchor="middle" fill="#222" stroke="#222" stroke-width="0.1">V_2</text>
<text x="363.3" y="386.8" font-size="10.2" text-anchor="middle" fill="#222" stroke="#222" stroke-width="0.1">Wave vector</text>
<g clip-path="url(#clipF)">
<path d="M492.95 249.14 C493.54 249.58 495.31 250.86 496.48 251.80 C497.66 252.74 498.64 254.08 500.01 254.79 C501.39 255.50 503.16 255.55 504.73 256.07 C506.30 256.58 508.06 257.88 509.44 257.88 C510.81 257.88 511.79 256.12 512.97 256.07 C514.14 256.01 515.13 257.59 516.50 257.56 C517.87 257.52 519.25 256.23 521.21 255.85 C523.17 255.48 525.92 255.46 528.27 255.32 C530.63 255.18 534.16 255.05 535.34 255.00" fill="none" stroke="#f8b878" stroke-width="1" stroke-linejoin="round"/>
<path d="M492.95 256.07 C494.13 256.21 497.66 257.06 500.01 256.92 C502.37 256.78 505.12 255.87 507.08 255.21 C509.04 254.56 510.22 253.15 511.79 252.97 C513.36 252.80 514.93 254.08 516.50 254.15 C518.07 254.22 519.84 253.69 521.21 253.40 C522.58 253.12 523.57 252.26 524.74 252.44 C525.92 252.62 527.29 253.63 528.27 254.47 C529.26 255.30 529.45 257.10 530.63 257.45 C531.81 257.81 533.77 257.01 535.34 256.60 C536.91 256.19 539.27 255.27 540.05 255.00" fill="none" stroke="#9a92e0" stroke-width="1" stroke-linejoin="round"/>
<polyline points="492.95,255 540.05,255" fill="none" stroke="#1ec8d4" stroke-width="2.2" stroke-linejoin="round"/>
<path d="M613.06 255.00 C613.84 255.27 615.80 256.51 617.76 256.60 C619.73 256.69 622.48 255.59 624.83 255.53 C627.19 255.48 629.54 256.37 631.89 256.28 C634.25 256.19 637.78 255.21 638.96 255.00" fill="none" stroke="#1ec8d4" stroke-width="1.2" stroke-linejoin="round"/>
<line x1="540.05" y1="255" x2="682" y2="255" stroke="#7cc24a" stroke-width="1.2"/>
<path d="M492.80 237.20 C493.23 236.98 494.70 235.65 495.40 235.90 C496.10 236.15 496.35 237.20 497.00 238.70 C497.65 240.20 498.53 243.62 499.30 244.90 C500.07 246.18 500.88 246.53 501.60 246.40 C502.32 246.27 502.95 244.10 503.60 244.10 C504.25 244.10 504.88 245.25 505.50 246.40 C506.12 247.55 506.67 251.00 507.30 251.00 C507.93 251.00 508.57 248.07 509.30 246.40 C510.03 244.73 510.92 241.77 511.70 241.00 C512.48 240.23 513.23 242.05 514.00 241.80 C514.77 241.55 515.53 240.15 516.30 239.50 C517.07 238.85 517.95 239.07 518.60 237.90 C519.25 236.73 519.60 234.30 520.20 232.50 C520.80 230.70 521.62 227.48 522.20 227.10 C522.78 226.72 523.18 228.27 523.70 230.20 C524.22 232.13 524.72 236.25 525.30 238.70 C525.88 241.15 526.50 244.00 527.20 244.90 C527.90 245.80 528.87 245.00 529.50 244.10 C530.13 243.20 530.48 239.75 531.00 239.50 C531.52 239.25 531.95 241.45 532.60 242.60 C533.25 243.75 534.00 245.63 534.90 246.40 C535.80 247.17 536.97 247.20 538.00 247.20 C539.03 247.20 540.07 246.65 541.10 246.40 C542.13 246.15 543.30 245.95 544.20 245.70 C545.10 245.45 545.73 245.08 546.50 244.90 C547.27 244.72 548.03 244.55 548.80 244.60 C549.57 244.65 550.32 245.42 551.10 245.20 C551.88 244.98 552.72 244.00 553.50 243.30 C554.28 242.60 555.03 242.15 555.80 241.00 C556.57 239.85 557.52 237.82 558.10 236.40 C558.68 234.98 558.83 232.37 559.30 232.50 C559.77 232.63 560.45 235.27 560.90 237.20 C561.35 239.13 561.57 242.57 562.00 244.10 C562.43 245.63 563.03 245.10 563.50 246.40 C563.97 247.70 564.28 250.73 564.80 251.90 C565.32 253.07 566.03 253.28 566.60 253.40 C567.17 253.52 567.63 252.85 568.20 252.60 C568.77 252.35 569.37 251.75 570.00 251.90 C570.63 252.05 571.33 252.98 572.00 253.50 C572.67 254.02 573.67 254.75 574.00 255.00" fill="none" stroke="#78c048" stroke-width="1.1" stroke-linejoin="round"/>
<path d="M492.80 204.60 C492.98 206.93 493.47 214.98 493.90 218.60 C494.33 222.22 494.88 223.47 495.40 226.30 C495.92 229.13 496.48 232.77 497.00 235.60 C497.52 238.43 497.98 241.23 498.50 243.30 C499.02 245.37 499.45 247.08 500.10 248.00 C500.75 248.92 501.77 249.07 502.40 248.80 C503.03 248.53 503.38 246.28 503.90 246.40 C504.42 246.52 504.98 248.73 505.50 249.50 C506.02 250.27 506.37 251.25 507.00 251.00 C507.63 250.75 508.52 248.88 509.30 248.00 C510.08 247.12 510.78 245.97 511.70 245.70 C512.62 245.43 513.77 246.40 514.80 246.40 C515.83 246.40 516.87 245.95 517.90 245.70 C518.93 245.45 520.23 245.17 521.00 244.90 C521.77 244.63 521.98 243.85 522.50 244.10 C523.02 244.35 523.45 245.62 524.10 246.40 C524.75 247.18 525.38 248.28 526.40 248.80 C527.42 249.32 529.05 249.25 530.20 249.50 C531.35 249.75 532.27 250.30 533.30 250.30 C534.33 250.30 535.10 249.75 536.40 249.50 C537.70 249.25 539.55 249.05 541.10 248.80 C542.65 248.55 544.15 248.27 545.70 248.00 C547.25 247.73 548.85 247.47 550.40 247.20 C551.95 246.93 553.72 246.92 555.00 246.40 C556.28 245.88 557.32 244.62 558.10 244.10 C558.88 243.58 559.18 242.92 559.70 243.30 C560.22 243.68 560.68 245.37 561.20 246.40 C561.72 247.43 562.28 248.47 562.80 249.50 C563.32 250.53 563.67 251.95 564.30 252.60 C564.93 253.25 565.65 253.40 566.60 253.40 C567.55 253.40 569.02 252.42 570.00 252.60 C570.98 252.78 571.67 254.10 572.50 254.50 C573.33 254.90 574.58 254.92 575.00 255.00" fill="none" stroke="#f47878" stroke-width="1.1" stroke-linejoin="round"/>
<path d="M492.90 270.10 C493.18 269.47 493.83 266.65 494.60 266.30 C495.37 265.95 496.47 267.37 497.50 268.00 C498.53 268.63 499.92 270.43 500.80 270.10 C501.68 269.77 502.15 266.98 502.80 266.00 C503.45 265.02 504.00 264.20 504.70 264.20 C505.40 264.20 506.28 264.70 507.00 266.00 C507.72 267.30 508.22 269.50 509.00 272.00 C509.78 274.50 510.95 280.00 511.70 281.00 C512.45 282.00 512.87 279.03 513.50 278.00 C514.13 276.97 514.75 276.13 515.50 274.80 C516.25 273.47 517.08 271.55 518.00 270.00 C518.92 268.45 520.08 266.08 521.00 265.50 C521.92 264.92 522.60 265.87 523.50 266.50 C524.40 267.13 525.57 268.05 526.40 269.30 C527.23 270.55 527.90 272.62 528.50 274.00 C529.10 275.38 529.42 277.43 530.00 277.60 C530.58 277.77 531.32 276.25 532.00 275.00 C532.68 273.75 533.43 271.77 534.10 270.10 C534.77 268.43 535.35 266.80 536.00 265.00 C536.65 263.20 537.33 260.72 538.00 259.30 C538.67 257.88 539.48 257.22 540.00 256.50 C540.52 255.78 540.92 255.25 541.10 255.00" fill="none" stroke="#78c048" stroke-width="1.1" stroke-linejoin="round"/>
<path d="M492.90 276.30 C493.18 276.05 494.00 274.18 494.60 274.80 C495.20 275.42 495.88 277.13 496.50 280.00 C497.12 282.87 497.73 288.38 498.30 292.00 C498.87 295.62 499.40 301.03 499.90 301.70 C500.40 302.37 500.78 299.12 501.30 296.00 C501.82 292.88 502.43 286.17 503.00 283.00 C503.57 279.83 504.15 277.17 504.70 277.00 C505.25 276.83 505.78 278.17 506.30 282.00 C506.82 285.83 507.30 293.33 507.80 300.00 C508.30 306.67 508.80 315.25 509.30 322.00 C509.80 328.75 510.32 340.00 510.80 340.50 C511.28 341.00 511.75 330.27 512.20 325.00 C512.65 319.73 513.03 312.73 513.50 308.90 C513.97 305.07 514.55 303.82 515.00 302.00 C515.45 300.18 515.70 298.82 516.20 298.00 C516.70 297.18 517.55 298.90 518.00 297.10 C518.45 295.30 518.67 290.72 518.90 287.20 C519.13 283.68 519.05 278.78 519.40 276.00 C519.75 273.22 520.35 271.73 521.00 270.50 C521.65 269.27 522.47 268.60 523.30 268.60 C524.13 268.60 525.22 269.60 526.00 270.50 C526.78 271.40 527.42 273.28 528.00 274.00 C528.58 274.72 529.00 275.47 529.50 274.80 C530.00 274.13 530.37 271.82 531.00 270.00 C531.63 268.18 532.47 265.65 533.30 263.90 C534.13 262.15 534.97 260.78 536.00 259.50 C537.03 258.22 538.67 256.95 539.50 256.20 C540.33 255.45 540.75 255.20 541.00 255.00" fill="none" stroke="#f47878" stroke-width="1.1" stroke-linejoin="round"/>
<path d="M600.00 255.00 C602.50 255.08 611.47 255.30 615.00 255.50 C618.53 255.70 619.37 256.15 621.20 256.20 C623.03 256.25 624.20 255.70 626.00 255.80 C627.80 255.90 630.10 256.35 632.00 256.80 C633.90 257.25 635.73 258.55 637.40 258.50 C639.07 258.45 640.23 256.83 642.00 256.50 C643.77 256.17 646.22 256.22 648.00 256.50 C649.78 256.78 651.37 258.03 652.70 258.20 C654.03 258.37 655.03 257.20 656.00 257.50 C656.97 257.80 657.70 258.78 658.50 260.00 C659.30 261.22 660.12 264.63 660.80 264.80 C661.48 264.97 662.00 262.63 662.60 261.00 C663.20 259.37 664.10 256.00 664.40 255.00" fill="none" stroke="#78c048" stroke-width="1.1" stroke-linejoin="round"/>
<path d="M604.00 255.00 C604.45 255.88 605.95 259.57 606.70 260.30 C607.45 261.03 607.95 258.45 608.50 259.40 C609.05 260.35 609.55 262.98 610.00 266.00 C610.45 269.02 610.70 277.25 611.20 277.50 C611.70 277.75 612.33 267.80 613.00 267.50 C613.67 267.20 614.45 274.95 615.20 275.70 C615.95 276.45 616.65 270.50 617.50 272.00 C618.35 273.50 619.58 280.70 620.30 284.70 C621.02 288.70 621.35 292.55 621.80 296.00 C622.25 299.45 622.57 305.18 623.00 305.40 C623.43 305.62 623.90 297.30 624.40 297.30 C624.90 297.30 625.53 306.12 626.00 305.40 C626.47 304.68 626.80 297.07 627.20 293.00 C627.60 288.93 627.75 283.58 628.40 281.00 C629.05 278.42 630.20 276.58 631.10 277.50 C632.00 278.42 632.85 283.20 633.80 286.50 C634.75 289.80 636.02 297.88 636.80 297.30 C637.58 296.72 637.95 287.50 638.50 283.00 C639.05 278.50 639.23 273.48 640.10 270.30 C640.97 267.12 642.35 264.67 643.70 263.90 C645.05 263.13 646.85 263.73 648.20 265.70 C649.55 267.67 650.75 274.93 651.80 275.70 C652.85 276.47 653.45 270.00 654.50 270.30 C655.55 270.60 657.05 274.35 658.10 277.50 C659.15 280.65 660.05 290.72 660.80 289.20 C661.55 287.68 662.00 273.97 662.60 268.40 C663.20 262.83 663.92 258.03 664.40 255.80 C664.88 253.57 665.32 255.13 665.50 255.00" fill="none" stroke="#f47878" stroke-width="1.1" stroke-linejoin="round"/>
</g>
<line x1="563.6" y1="201.7" x2="563.6" y2="361.6" stroke="#a43cf0" stroke-width="1" stroke-dasharray="1.6 1.2"/>
<rect x="492.9" y="201.7" width="189.1" height="159.9" fill="none" stroke="#333" stroke-width="1"/>
<line x1="489.9" y1="201.7" x2="492.9" y2="201.7" stroke="#333" stroke-width="1"/>
<text x="488.2" y="204.7" font-size="8.5" text-anchor="end" fill="#222" stroke="#222" stroke-width="0.1">50</text>
<line x1="489.9" y1="255" x2="492.9" y2="255" stroke="#333" stroke-width="1"/>
<text x="488.2" y="258" font-size="8.5" text-anchor="end" fill="#222" stroke="#222" stroke-width="0.1">0</text>
<line x1="489.9" y1="308.3" x2="492.9" y2="308.3" stroke="#333" stroke-width="1"/>
<text x="488.2" y="311.3" font-size="8.5" text-anchor="end" fill="#222" stroke="#222" stroke-width="0.1">-50</text>
<line x1="489.9" y1="361.6" x2="492.9" y2="361.6" stroke="#333" stroke-width="1"/>
<text x="488.2" y="364.6" font-size="8.5" text-anchor="end" fill="#222" stroke="#222" stroke-width="0.1">-100</text>
<line x1="491.3" y1="228.35" x2="492.9" y2="228.35" stroke="#333" stroke-width="1"/>
<line x1="491.3" y1="281.65" x2="492.9" y2="281.65" stroke="#333" stroke-width="1"/>
<line x1="491.3" y1="334.95" x2="492.9" y2="334.95" stroke="#333" stroke-width="1"/>
<line x1="516.5" y1="361.6" x2="516.5" y2="364.6" stroke="#333" stroke-width="1"/>
<text x="516.5" y="373.4" font-size="8.5" text-anchor="middle" fill="#222" stroke="#222" stroke-width="0.1">-2</text>
<line x1="563.6" y1="361.6" x2="563.6" y2="364.6" stroke="#333" stroke-width="1"/>
<text x="563.6" y="373.4" font-size="8.5" text-anchor="middle" fill="#222" stroke="#222" stroke-width="0.1">0</text>
<line x1="610.7" y1="361.6" x2="610.7" y2="364.6" stroke="#333" stroke-width="1"/>
<text x="610.7" y="373.4" font-size="8.5" text-anchor="middle" fill="#222" stroke="#222" stroke-width="0.1">2</text>
<line x1="657.8" y1="361.6" x2="657.8" y2="364.6" stroke="#333" stroke-width="1"/>
<text x="657.8" y="373.4" font-size="8.5" text-anchor="middle" fill="#222" stroke="#222" stroke-width="0.1">4</text>
<line x1="492.95" y1="361.6" x2="492.95" y2="363.2" stroke="#333" stroke-width="1"/>
<line x1="540.05" y1="361.6" x2="540.05" y2="363.2" stroke="#333" stroke-width="1"/>
<line x1="587.15" y1="361.6" x2="587.15" y2="363.2" stroke="#333" stroke-width="1"/>
<line x1="634.25" y1="361.6" x2="634.25" y2="363.2" stroke="#333" stroke-width="1"/>
<line x1="681.35" y1="361.6" x2="681.35" y2="363.2" stroke="#333" stroke-width="1"/>
<text x="463.3" y="208.2" font-size="15" text-anchor="start" fill="#111" stroke="#111" stroke-width="0.1">f</text>
<text x="474.8" y="278.3" font-size="10" text-anchor="middle" fill="#222" stroke="#222" stroke-width="0.1" transform="rotate(-90 474.8 278.3)">DOS (states/eV)</text>
<text x="588" y="386.2" font-size="10" fill="#222" stroke="#222" stroke-width="0.1" text-anchor="middle">E-E<tspan dy="2.5" font-size="7">f</tspan><tspan dy="-2.5"> (eV)</tspan></text>
<text x="496.7" y="221" font-size="8.5" text-anchor="start" fill="#222" stroke="#222" stroke-width="0.1">Spin up</text>
<text x="496" y="351.2" font-size="8.5" text-anchor="start" fill="#222" stroke="#222" stroke-width="0.1">Spin down</text>
<text x="565.2" y="355.5" font-size="8.5" fill="#222" stroke="#222" stroke-width="0.1">E<tspan dy="2" font-size="6">f</tspan></text>
<text x="574.8" y="251.2" font-size="8.5" fill="#222" stroke="#222" stroke-width="0.1">E<tspan dy="2" font-size="6">g</tspan><tspan dy="-2"> = 1.50 eV</tspan></text>
<line x1="586.1" y1="218.5" x2="606.7" y2="218.5" stroke="#1ec8d4" stroke-width="1.3"/>
<text x="607.5" y="221.5" font-size="8.5" fill="#1ec8d4" stroke="#1ec8d4" stroke-width="0.1">O 1<tspan font-style="italic">s</tspan></text>
<line x1="586.1" y1="228" x2="606.7" y2="228" stroke="#78c048" stroke-width="1.3"/>
<text x="607.5" y="231.0" font-size="8.5" fill="#78c048" stroke="#78c048" stroke-width="0.1">O 2<tspan font-style="italic">p</tspan></text>
<line x1="634.5" y1="211.5" x2="653.8" y2="211.5" stroke="#f8b878" stroke-width="1.3"/>
<text x="655" y="214.5" font-size="8.5" fill="#f8b878" stroke="#f8b878" stroke-width="0.1">Ni 1<tspan font-style="italic">s</tspan></text>
<line x1="634.5" y1="221.8" x2="653.8" y2="221.8" stroke="#9a92e0" stroke-width="1.3"/>
<text x="655" y="224.8" font-size="8.5" fill="#9a92e0" stroke="#9a92e0" stroke-width="0.1">Ni 2<tspan font-style="italic">p</tspan></text>
<line x1="634.5" y1="232.4" x2="653.8" y2="232.4" stroke="#f47878" stroke-width="1.3"/>
<text x="655" y="235.4" font-size="8.5" fill="#f47878" stroke="#f47878" stroke-width="0.1">Ni 3<tspan font-style="italic">d</tspan></text></svg>
</body></html>
